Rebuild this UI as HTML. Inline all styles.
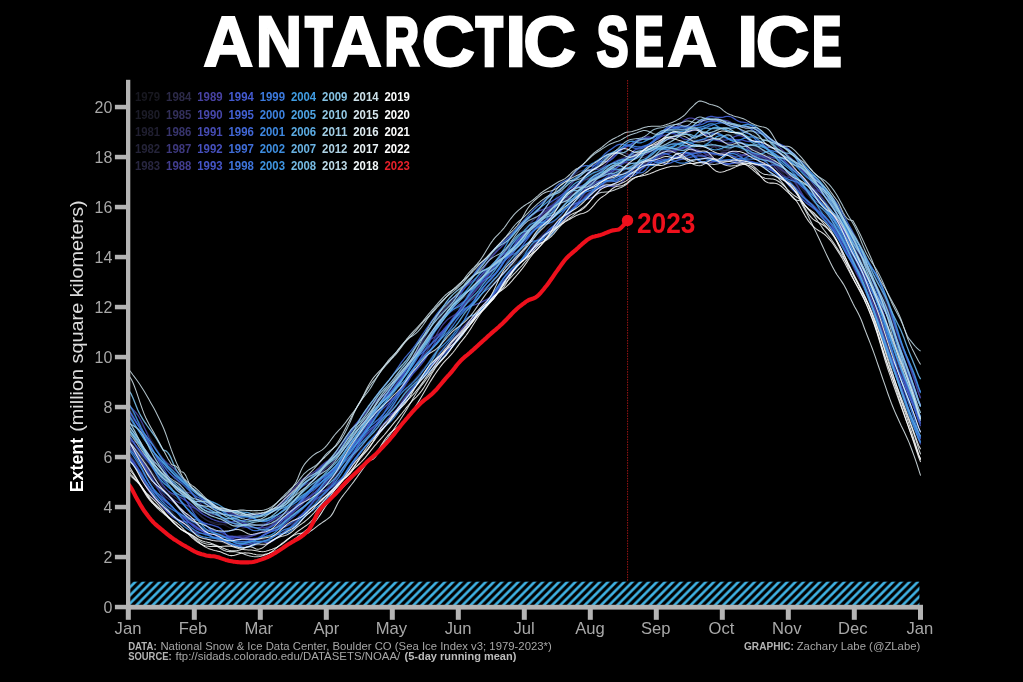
<!DOCTYPE html>
<html lang="en"><head><meta charset="utf-8"><title>Antarctic Sea Ice</title>
<style>
html,body{margin:0;padding:0;background:#000;}
body{width:1023px;height:682px;overflow:hidden;}
svg{display:block;}
text{font-family:"Liberation Sans",sans-serif;}
</style></head><body>
<svg width="1023" height="682" viewBox="0 0 1023 682">
<defs><pattern id="hatch" patternUnits="userSpaceOnUse" width="8.15" height="8.15"><rect width="8.15" height="8.15" fill="#000"/><path d="M-2,2 L2,-2 M0,8.15 L8.15,0 M6.15,10.15 L10.15,6.15" stroke="#40b2e3" stroke-width="2.6" fill="none"/></pattern><clipPath id="plot"><rect x="128" y="70" width="793" height="540"/></clipPath></defs>
<rect width="1023" height="682" fill="#000"/>
<text aria-label="ANTARCTIC SEA ICE" font-size="70" font-weight="bold" fill="#fff" stroke="#fff" stroke-linejoin="miter" xml:space="preserve"><tspan x="203.3" y="66.1" font-size="70.5" stroke-width="2.0" textLength="50.1" lengthAdjust="spacingAndGlyphs">A</tspan><tspan x="255.8" y="65.9" font-size="69.9" stroke-width="2.4" textLength="46.4" lengthAdjust="spacingAndGlyphs">N</tspan><tspan x="305.6" y="64.9" font-size="68.2" stroke-width="4.4" textLength="26.5" lengthAdjust="spacingAndGlyphs">T</tspan><tspan x="331.2" y="66.1" font-size="70.5" stroke-width="2.0" textLength="50.6" lengthAdjust="spacingAndGlyphs">A</tspan><tspan x="384.8" y="65.3" font-size="69.3" stroke-width="3.6" textLength="34.3" lengthAdjust="spacingAndGlyphs">R</tspan><tspan x="421.5" y="66.2" font-size="70.8" stroke-width="1.8" textLength="53.6" lengthAdjust="spacingAndGlyphs">C</tspan><tspan x="475.9" y="64.9" font-size="68.2" stroke-width="4.4" textLength="26.5" lengthAdjust="spacingAndGlyphs">T</tspan><tspan x="505.5" y="65.8" font-size="69.6" stroke-width="2.6" textLength="20.4" lengthAdjust="spacingAndGlyphs">I</tspan><tspan x="522.9" y="66.2" font-size="70.8" stroke-width="1.8" textLength="53.2" lengthAdjust="spacingAndGlyphs">C</tspan><tspan x="580.0" y="66"> </tspan><tspan x="596.6" y="65.6" font-size="71.2" stroke-width="3.0" textLength="32.2" lengthAdjust="spacingAndGlyphs">S</tspan><tspan x="634.0" y="65.6" font-size="70.8" stroke-width="3.0" textLength="29.8" lengthAdjust="spacingAndGlyphs">E</tspan><tspan x="667.3" y="66.1" font-size="70.5" stroke-width="2.0" textLength="49.6" lengthAdjust="spacingAndGlyphs">A</tspan><tspan x="722.0" y="66"> </tspan><tspan x="737.5" y="65.8" font-size="69.6" stroke-width="2.6" textLength="20.4" lengthAdjust="spacingAndGlyphs">I</tspan><tspan x="755.5" y="66.2" font-size="70.8" stroke-width="1.8" textLength="54.1" lengthAdjust="spacingAndGlyphs">C</tspan><tspan x="812.0" y="65.6" font-size="70.8" stroke-width="3.0" textLength="29.5" lengthAdjust="spacingAndGlyphs">E</tspan></text>
<rect x="130" y="581.7" width="789.4" height="23.3" fill="url(#hatch)"/>
<line x1="627.6" y1="80" x2="627.6" y2="581.5" stroke="#b81a1a" stroke-width="1" stroke-dasharray="1.5,1.1" opacity="0.85"/>
<g clip-path="url(#plot)">
<g stroke-opacity="0.92">
<polyline points="128.2,409.3 129.8,410.8 131.4,412.3 133.0,414.1 134.6,416.0 136.2,418.0 137.8,420.1 139.4,422.2 141.0,424.2 142.6,426.3 144.2,428.3 145.8,430.4 147.4,432.6 149.0,435.0 150.6,437.7 152.2,440.5 153.8,443.4 155.4,446.4 157.0,449.3 158.6,452.1 160.2,454.7 161.8,457.0 163.4,459.1 165.0,461.0 166.6,462.8 168.2,464.6 169.8,466.3 171.4,468.0 173.0,469.7 174.6,471.5 176.2,473.3 177.8,475.1 179.4,476.9 181.0,478.7 182.6,480.4 184.2,482.2 185.8,483.9 187.4,485.6 189.0,487.3 190.6,488.9 192.2,490.5 193.8,492.1 195.4,493.6 197.0,495.0 198.6,496.2 200.2,497.3 201.8,498.3 203.4,499.1 205.0,499.8 206.6,500.4 208.2,501.0 209.8,501.7 211.4,502.4 213.0,503.1 214.6,504.0 216.2,505.1 217.8,506.3 219.4,507.6 221.0,508.9 222.6,510.2 224.2,511.3 225.8,512.1 227.4,512.7 229.0,513.1 230.6,513.3 232.2,513.4 233.8,513.4 235.4,513.4 237.0,513.3 238.6,513.2 240.2,513.0 241.8,513.0 243.4,512.9 245.0,513.0 246.6,513.1 248.2,513.3 249.8,513.6 251.4,514.0 253.0,514.3 254.6,514.5 256.2,514.7 257.8,514.7 259.4,514.6 261.0,514.3 262.6,513.8 264.2,513.2 265.8,512.5 267.4,511.7 269.0,510.9 270.6,510.1 272.2,509.4 273.8,508.6 275.4,507.8 277.0,506.9 278.6,505.8 280.2,504.5 281.8,503.1 283.4,501.5 285.0,499.9 286.6,498.3 288.2,496.7 289.8,495.1 291.4,493.3 293.0,491.5 294.6,489.5 296.2,487.6 297.8,485.6 299.4,483.7 301.0,482.0 302.6,480.5 304.2,479.1 305.8,477.9 307.4,476.8 309.0,475.5 310.6,474.3 312.2,473.0 313.8,471.8 315.4,470.7 317.0,469.7 318.6,468.9 320.2,468.1 321.8,467.3 323.4,466.4 325.0,465.4 326.6,464.3 328.2,462.9 329.8,461.4 331.4,459.7 333.0,457.8 334.6,455.8 336.2,453.7 337.8,451.5 339.4,449.2 341.0,446.8 342.6,444.4 344.2,441.9 345.8,439.4 347.4,436.9 349.0,434.4 350.6,432.0 352.2,429.6 353.8,427.2 355.4,424.9 357.0,422.7 358.6,420.5 360.2,418.4 361.8,416.3 363.4,414.2 365.0,412.1 366.6,409.9 368.2,407.7 369.8,405.6 371.4,403.5 373.0,401.4 374.6,399.4 376.2,397.5 377.8,395.5 379.4,393.6 381.0,391.6 382.6,389.5 384.2,387.4 385.8,385.3 387.4,383.0 389.0,380.7 390.6,378.5 392.2,376.3 393.8,374.2 395.4,372.3 397.0,370.5 398.6,368.9 400.2,367.4 401.8,366.0 403.4,364.5 405.0,363.0 406.6,361.4 408.2,359.8 409.8,358.1 411.4,356.3 413.0,354.4 414.6,352.3 416.2,350.2 417.8,348.1 419.4,345.9 421.0,343.8 422.6,341.8 424.2,339.9 425.8,338.0 427.4,336.1 429.0,334.2 430.6,332.3 432.2,330.4 433.8,328.6 435.4,326.9 437.0,325.1 438.6,323.4 440.2,321.7 441.8,319.9 443.4,318.2 445.0,316.5 446.6,315.0 448.2,313.7 449.8,312.6 451.4,311.7 453.0,311.0 454.6,310.3 456.2,309.7 457.8,308.9 459.4,307.9 461.0,306.6 462.6,305.0 464.2,303.0 465.8,300.7 467.4,298.2 469.0,295.5 470.6,292.7 472.2,289.8 473.8,287.1 475.4,284.5 477.0,282.1 478.6,280.0 480.2,278.2 481.8,276.6 483.4,275.2 485.0,273.7 486.6,272.1 488.2,270.3 489.8,268.4 491.4,266.2 493.0,264.0 494.6,261.8 496.2,259.8 497.8,257.9 499.4,256.3 501.0,254.9 502.6,253.5 504.2,252.2 505.8,250.9 507.4,249.3 509.0,247.6 510.6,245.7 512.2,243.5 513.8,241.3 515.4,239.0 517.0,236.8 518.6,234.6 520.2,232.6 521.8,230.8 523.4,229.0 525.0,227.4 526.6,225.8 528.2,224.3 529.8,222.7 531.4,221.2 533.0,219.7 534.6,218.4 536.2,217.2 537.8,216.3 539.4,215.6 541.0,215.0 542.6,214.5 544.2,213.9 545.8,213.2 547.4,212.4 549.0,211.5 550.6,210.4 552.2,209.2 553.8,207.9 555.4,206.5 557.0,205.1 558.6,203.8 560.2,202.4 561.8,201.0 563.4,199.7 565.0,198.4 566.6,197.1 568.2,195.8 569.8,194.5 571.4,193.2 573.0,191.9 574.6,190.7 576.2,189.6 577.8,188.6 579.4,187.6 581.0,186.7 582.6,185.7 584.2,184.4 585.8,182.8 587.4,180.9 589.0,178.6 590.6,176.3 592.2,174.0 593.8,172.0 595.4,170.3 597.0,169.1 598.6,168.4 600.2,168.0 601.8,168.0 603.4,168.2 605.0,168.4 606.6,168.4 608.2,168.2 609.8,167.5 611.4,166.5 613.0,165.2 614.6,163.6 616.2,161.9 617.8,160.3 619.4,158.8 621.0,157.6 622.6,156.6 624.2,155.9 625.8,155.4 627.4,155.1 629.0,154.8 630.6,154.5 632.2,154.1 633.8,153.6 635.4,152.9 637.0,152.0 638.6,151.0 640.2,150.0 641.8,149.0 643.4,148.1 645.0,147.4 646.6,146.8 648.2,146.3 649.8,145.9 651.4,145.5 653.0,145.2 654.6,145.0 656.2,145.0 657.8,145.1 659.4,145.3 661.0,145.4 662.6,145.3 664.2,144.9 665.8,144.1 667.4,143.1 669.0,141.7 670.6,140.3 672.2,138.9 673.8,137.7 675.4,136.7 677.0,135.9 678.6,135.1 680.2,134.4 681.8,133.7 683.4,132.8 685.0,132.0 686.6,131.3 688.2,130.7 689.8,130.3 691.4,130.1 693.0,130.1 694.6,130.2 696.2,130.3 697.8,130.5 699.4,130.7 701.0,130.9 702.6,131.2 704.2,131.6 705.8,131.9 707.4,132.2 709.0,132.6 710.6,133.0 712.2,133.6 713.8,134.4 715.4,135.4 717.0,136.5 718.6,137.4 720.2,138.1 721.8,138.5 723.4,138.4 725.0,138.0 726.6,137.3 728.2,136.7 729.8,136.0 731.4,135.5 733.0,135.1 734.6,134.7 736.2,134.2 737.8,133.5 739.4,132.7 741.0,131.9 742.6,131.1 744.2,130.5 745.8,130.2 747.4,130.2 749.0,130.7 750.6,131.6 752.2,132.8 753.8,134.4 755.4,136.1 757.0,137.9 758.6,139.6 760.2,141.1 761.8,142.3 763.4,143.3 765.0,144.0 766.6,144.6 768.2,145.1 769.8,145.7 771.4,146.4 773.0,147.2 774.6,148.2 776.2,149.3 777.8,150.6 779.4,151.9 781.0,153.4 782.6,155.0 784.2,156.6 785.8,158.2 787.4,159.8 789.0,161.3 790.6,162.5 792.2,163.6 793.8,164.6 795.4,165.4 797.0,166.4 798.6,167.5 800.2,168.8 801.8,170.3 803.4,172.0 805.0,173.8 806.6,175.6 808.2,177.4 809.8,179.1 811.4,180.8 813.0,182.3 814.6,183.8 816.2,185.3 817.8,186.9 819.4,188.6 821.0,190.4 822.6,192.3 824.2,194.3 825.8,196.3 827.4,198.4 829.0,200.4 830.6,202.5 832.2,204.6 833.8,206.9 835.4,209.2 837.0,211.7 838.6,214.4 840.2,217.2 841.8,220.2 843.4,223.3 845.0,226.4 846.6,229.5 848.2,232.6 849.8,235.6 851.4,238.5 853.0,241.3 854.6,244.1 856.2,247.0 857.8,249.7 859.4,252.4 861.0,255.0 862.6,257.5 864.2,260.0 865.8,262.5 867.4,265.1 869.0,268.0 870.6,271.0 872.2,274.3 873.8,277.7 875.4,281.3 877.0,285.1 878.6,288.9 880.2,292.9 881.8,296.9 883.4,300.9 885.0,305.1 886.6,309.2 888.2,313.5 889.8,317.7 891.4,322.0 893.0,326.3 894.6,330.4 896.2,334.4 897.8,338.3 899.4,342.0 901.0,345.7 902.6,349.4 904.2,353.0 905.8,356.7 907.4,360.4 909.0,364.2 910.6,368.0 912.2,371.9 913.8,375.9 915.4,380.0 917.0,384.3 918.6,388.8 920.6,393.6" fill="none" stroke="#181820" stroke-width="1.3" stroke-linejoin="round" />
<polyline points="128.2,434.6 129.8,437.2 131.4,439.6 133.0,442.1 134.6,444.6 136.2,447.1 137.8,449.5 139.4,452.0 141.0,454.3 142.6,456.6 144.2,458.6 145.8,460.6 147.4,462.6 149.0,464.4 150.6,466.3 152.2,468.2 153.8,470.0 155.4,471.7 157.0,473.3 158.6,474.6 160.2,475.9 161.8,477.0 163.4,478.0 165.0,479.0 166.6,480.1 168.2,481.3 169.8,482.6 171.4,484.0 173.0,485.6 174.6,487.3 176.2,489.3 177.8,491.3 179.4,493.5 181.0,495.7 182.6,497.8 184.2,499.7 185.8,501.4 187.4,502.9 189.0,504.2 190.6,505.6 192.2,507.0 193.8,508.5 195.4,510.1 197.0,511.9 198.6,513.6 200.2,515.2 201.8,516.7 203.4,518.0 205.0,519.1 206.6,520.0 208.2,520.8 209.8,521.3 211.4,521.7 213.0,522.1 214.6,522.3 216.2,522.6 217.8,522.9 219.4,523.3 221.0,523.8 222.6,524.3 224.2,525.0 225.8,525.7 227.4,526.5 229.0,527.4 230.6,528.2 232.2,529.0 233.8,529.6 235.4,530.0 237.0,530.2 238.6,530.0 240.2,529.6 241.8,529.0 243.4,528.2 245.0,527.4 246.6,526.7 248.2,526.1 249.8,525.7 251.4,525.3 253.0,525.1 254.6,525.0 256.2,525.0 257.8,525.0 259.4,525.1 261.0,525.2 262.6,525.4 264.2,525.6 265.8,525.7 267.4,525.8 269.0,525.6 270.6,525.3 272.2,524.6 273.8,523.8 275.4,522.7 277.0,521.5 278.6,520.1 280.2,518.5 281.8,516.7 283.4,514.8 285.0,512.7 286.6,510.7 288.2,508.7 289.8,507.0 291.4,505.4 293.0,504.0 294.6,502.8 296.2,501.6 297.8,500.5 299.4,499.3 301.0,498.0 302.6,496.8 304.2,495.4 305.8,494.1 307.4,492.7 309.0,491.3 310.6,489.8 312.2,488.4 313.8,487.0 315.4,485.6 317.0,484.2 318.6,482.6 320.2,480.9 321.8,479.0 323.4,476.9 325.0,474.7 326.6,472.4 328.2,470.0 329.8,467.7 331.4,465.4 333.0,463.1 334.6,460.9 336.2,458.7 337.8,456.4 339.4,454.0 341.0,451.6 342.6,449.1 344.2,446.7 345.8,444.3 347.4,442.0 349.0,439.7 350.6,437.6 352.2,435.6 353.8,433.8 355.4,432.1 357.0,430.5 358.6,429.0 360.2,427.6 361.8,426.3 363.4,425.1 365.0,424.0 366.6,423.0 368.2,422.1 369.8,421.3 371.4,420.5 373.0,419.6 374.6,418.6 376.2,417.5 377.8,416.2 379.4,414.8 381.0,413.3 382.6,411.7 384.2,410.1 385.8,408.4 387.4,406.5 389.0,404.7 390.6,402.8 392.2,400.9 393.8,399.1 395.4,397.3 397.0,395.5 398.6,393.7 400.2,392.0 401.8,390.2 403.4,388.5 405.0,387.0 406.6,385.6 408.2,384.3 409.8,383.2 411.4,382.2 413.0,381.2 414.6,380.1 416.2,378.9 417.8,377.4 419.4,375.7 421.0,373.8 422.6,371.6 424.2,369.3 425.8,366.9 427.4,364.4 429.0,362.1 430.6,359.9 432.2,358.0 433.8,356.3 435.4,354.7 437.0,353.2 438.6,351.6 440.2,350.0 441.8,348.1 443.4,345.9 445.0,343.5 446.6,341.0 448.2,338.3 449.8,335.5 451.4,332.9 453.0,330.3 454.6,327.9 456.2,325.6 457.8,323.5 459.4,321.4 461.0,319.2 462.6,317.1 464.2,315.0 465.8,312.9 467.4,310.9 469.0,308.9 470.6,307.0 472.2,305.1 473.8,303.1 475.4,301.2 477.0,299.2 478.6,297.3 480.2,295.5 481.8,293.8 483.4,292.2 485.0,290.7 486.6,289.3 488.2,287.8 489.8,286.2 491.4,284.6 493.0,282.8 494.6,280.9 496.2,279.1 497.8,277.3 499.4,275.7 501.0,274.2 502.6,272.8 504.2,271.4 505.8,270.1 507.4,268.7 509.0,267.4 510.6,266.1 512.2,264.9 513.8,263.8 515.4,262.9 517.0,262.0 518.6,261.1 520.2,260.3 521.8,259.4 523.4,258.4 525.0,257.3 526.6,256.0 528.2,254.5 529.8,253.0 531.4,251.3 533.0,249.7 534.6,248.1 536.2,246.5 537.8,245.0 539.4,243.5 541.0,242.1 542.6,240.6 544.2,239.1 545.8,237.5 547.4,235.8 549.0,234.1 550.6,232.3 552.2,230.4 553.8,228.3 555.4,226.1 557.0,223.6 558.6,221.1 560.2,218.7 561.8,216.6 563.4,214.7 565.0,213.1 566.6,211.7 568.2,210.4 569.8,209.0 571.4,207.5 573.0,205.7 574.6,203.6 576.2,201.4 577.8,198.9 579.4,196.4 581.0,193.9 582.6,191.3 584.2,188.9 585.8,186.5 587.4,184.2 589.0,182.0 590.6,180.0 592.2,178.1 593.8,176.4 595.4,174.7 597.0,173.2 598.6,171.8 600.2,170.5 601.8,169.5 603.4,168.8 605.0,168.3 606.6,168.1 608.2,168.1 609.8,168.2 611.4,168.2 613.0,168.2 614.6,167.9 616.2,167.5 617.8,167.0 619.4,166.3 621.0,165.6 622.6,164.7 624.2,163.9 625.8,163.1 627.4,162.2 629.0,161.2 630.6,160.2 632.2,159.0 633.8,157.8 635.4,156.5 637.0,155.3 638.6,154.1 640.2,153.0 641.8,152.0 643.4,151.1 645.0,150.4 646.6,149.8 648.2,149.3 649.8,149.0 651.4,148.7 653.0,148.3 654.6,147.9 656.2,147.4 657.8,146.9 659.4,146.5 661.0,146.2 662.6,146.2 664.2,146.4 665.8,146.7 667.4,147.1 669.0,147.5 670.6,147.7 672.2,147.8 673.8,147.7 675.4,147.4 677.0,147.0 678.6,146.5 680.2,146.0 681.8,145.4 683.4,144.8 685.0,144.3 686.6,143.9 688.2,143.6 689.8,143.4 691.4,143.1 693.0,142.9 694.6,142.5 696.2,142.0 697.8,141.5 699.4,141.0 701.0,140.4 702.6,140.0 704.2,139.6 705.8,139.2 707.4,138.8 709.0,138.5 710.6,138.3 712.2,138.2 713.8,138.3 715.4,138.5 717.0,138.7 718.6,138.7 720.2,138.6 721.8,138.2 723.4,137.5 725.0,136.8 726.6,136.0 728.2,135.4 729.8,134.9 731.4,134.5 733.0,134.4 734.6,134.4 736.2,134.5 737.8,134.7 739.4,134.9 741.0,135.2 742.6,135.6 744.2,135.9 745.8,136.2 747.4,136.5 749.0,136.9 750.6,137.3 752.2,137.8 753.8,138.5 755.4,139.2 757.0,140.1 758.6,141.1 760.2,142.2 761.8,143.4 763.4,144.7 765.0,146.1 766.6,147.4 768.2,148.6 769.8,149.6 771.4,150.5 773.0,151.2 774.6,151.8 776.2,152.5 777.8,153.2 779.4,154.2 781.0,155.3 782.6,156.6 784.2,158.1 785.8,159.7 787.4,161.5 789.0,163.3 790.6,165.0 792.2,166.7 793.8,168.3 795.4,169.7 797.0,171.1 798.6,172.3 800.2,173.5 801.8,174.8 803.4,176.1 805.0,177.6 806.6,179.1 808.2,180.7 809.8,182.4 811.4,184.1 813.0,185.9 814.6,187.6 816.2,189.5 817.8,191.3 819.4,193.3 821.0,195.2 822.6,197.1 824.2,199.1 825.8,201.0 827.4,202.8 829.0,204.5 830.6,206.2 832.2,207.8 833.8,209.6 835.4,211.5 837.0,213.7 838.6,216.1 840.2,218.8 841.8,221.7 843.4,224.6 845.0,227.6 846.6,230.6 848.2,233.5 849.8,236.4 851.4,239.2 853.0,241.9 854.6,244.6 856.2,247.1 857.8,249.7 859.4,252.3 861.0,255.0 862.6,257.9 864.2,261.0 865.8,264.4 867.4,267.9 869.0,271.5 870.6,275.1 872.2,278.7 873.8,282.1 875.4,285.5 877.0,288.7 878.6,291.8 880.2,295.0 881.8,298.4 883.4,302.1 885.0,306.2 886.6,310.8 888.2,315.7 889.8,321.1 891.4,326.7 893.0,332.6 894.6,338.6 896.2,344.6 897.8,350.7 899.4,356.7 901.0,362.7 902.6,368.5 904.2,374.1 905.8,379.7 907.4,385.1 909.0,390.5 910.6,395.8 912.2,401.1 913.8,406.4 915.4,411.7 917.0,417.0 918.6,422.3 920.6,427.7" fill="none" stroke="#1c1c28" stroke-width="1.3" stroke-linejoin="round" />
<polyline points="128.2,403.1 129.8,406.3 131.4,409.6 133.0,412.9 134.6,416.0 136.2,418.9 137.8,421.8 139.4,424.7 141.0,427.7 142.6,430.8 144.2,434.1 145.8,437.5 147.4,441.0 149.0,444.4 150.6,447.7 152.2,450.8 153.8,453.8 155.4,456.5 157.0,459.1 158.6,461.4 160.2,463.4 161.8,465.2 163.4,466.8 165.0,468.3 166.6,469.7 168.2,471.2 169.8,472.8 171.4,474.7 173.0,476.8 174.6,479.0 176.2,481.3 177.8,483.6 179.4,485.8 181.0,487.9 182.6,489.8 184.2,491.4 185.8,493.0 187.4,494.5 189.0,496.0 190.6,497.6 192.2,499.2 193.8,500.8 195.4,502.3 197.0,503.5 198.6,504.6 200.2,505.4 201.8,506.0 203.4,506.3 205.0,506.5 206.6,506.6 208.2,506.7 209.8,506.7 211.4,506.8 213.0,507.0 214.6,507.3 216.2,507.7 217.8,508.1 219.4,508.4 221.0,508.7 222.6,508.9 224.2,509.0 225.8,509.1 227.4,509.3 229.0,509.7 230.6,510.2 232.2,510.9 233.8,511.9 235.4,512.8 237.0,513.7 238.6,514.4 240.2,515.0 241.8,515.5 243.4,515.9 245.0,516.5 246.6,517.2 248.2,517.9 249.8,518.6 251.4,519.3 253.0,519.7 254.6,519.7 256.2,519.5 257.8,518.9 259.4,518.0 261.0,516.9 262.6,515.8 264.2,514.6 265.8,513.4 267.4,512.3 269.0,511.3 270.6,510.4 272.2,509.4 273.8,508.4 275.4,507.3 277.0,506.2 278.6,505.0 280.2,503.8 281.8,502.6 283.4,501.3 285.0,500.0 286.6,498.7 288.2,497.2 289.8,495.7 291.4,494.1 293.0,492.6 294.6,491.2 296.2,489.7 297.8,488.2 299.4,486.7 301.0,485.2 302.6,483.6 304.2,482.2 305.8,480.8 307.4,479.5 309.0,478.2 310.6,476.9 312.2,475.8 313.8,474.7 315.4,473.6 317.0,472.6 318.6,471.5 320.2,470.4 321.8,469.1 323.4,467.7 325.0,466.1 326.6,464.4 328.2,462.8 329.8,461.2 331.4,459.7 333.0,458.1 334.6,456.4 336.2,454.5 337.8,452.5 339.4,450.3 341.0,448.0 342.6,445.6 344.2,443.3 345.8,441.1 347.4,438.9 349.0,436.7 350.6,434.6 352.2,432.6 353.8,430.7 355.4,428.9 357.0,427.2 358.6,425.7 360.2,424.2 361.8,422.8 363.4,421.5 365.0,420.1 366.6,418.8 368.2,417.3 369.8,415.6 371.4,413.8 373.0,411.8 374.6,409.7 376.2,407.5 377.8,405.3 379.4,403.1 381.0,400.9 382.6,398.7 384.2,396.3 385.8,393.8 387.4,391.0 389.0,388.2 390.6,385.2 392.2,382.3 393.8,379.6 395.4,377.1 397.0,374.9 398.6,373.0 400.2,371.3 401.8,369.8 403.4,368.2 405.0,366.6 406.6,364.9 408.2,363.0 409.8,361.0 411.4,358.9 413.0,356.9 414.6,354.9 416.2,353.0 417.8,351.1 419.4,349.2 421.0,347.2 422.6,345.1 424.2,342.8 425.8,340.5 427.4,338.1 429.0,335.7 430.6,333.3 432.2,330.9 433.8,328.5 435.4,326.0 437.0,323.4 438.6,320.7 440.2,318.0 441.8,315.2 443.4,312.6 445.0,310.1 446.6,308.0 448.2,306.2 449.8,304.7 451.4,303.5 453.0,302.5 454.6,301.8 456.2,301.2 457.8,300.6 459.4,300.0 461.0,299.3 462.6,298.5 464.2,297.5 465.8,296.4 467.4,295.1 469.0,293.8 470.6,292.4 472.2,291.1 473.8,289.8 475.4,288.6 477.0,287.5 478.6,286.5 480.2,285.6 481.8,284.7 483.4,283.7 485.0,282.7 486.6,281.4 488.2,279.9 489.8,278.0 491.4,275.8 493.0,273.4 494.6,271.0 496.2,268.6 497.8,266.5 499.4,264.7 501.0,263.2 502.6,261.9 504.2,260.8 505.8,259.6 507.4,258.2 509.0,256.4 510.6,254.3 512.2,251.8 513.8,249.1 515.4,246.4 517.0,243.8 518.6,241.3 520.2,239.0 521.8,237.0 523.4,235.2 525.0,233.5 526.6,232.0 528.2,230.5 529.8,229.2 531.4,227.9 533.0,226.6 534.6,225.2 536.2,223.8 537.8,222.1 539.4,220.3 541.0,218.3 542.6,216.1 544.2,213.9 545.8,211.7 547.4,209.5 549.0,207.3 550.6,205.1 552.2,202.8 553.8,200.5 555.4,198.3 557.0,196.2 558.6,194.4 560.2,193.0 561.8,191.9 563.4,191.2 565.0,190.7 566.6,190.2 568.2,189.8 569.8,189.2 571.4,188.4 573.0,187.4 574.6,186.4 576.2,185.4 577.8,184.5 579.4,183.7 581.0,183.0 582.6,182.2 584.2,181.3 585.8,180.2 587.4,179.0 589.0,177.6 590.6,176.2 592.2,174.8 593.8,173.7 595.4,172.8 597.0,172.2 598.6,172.0 600.2,171.9 601.8,171.8 603.4,171.7 605.0,171.3 606.6,170.6 608.2,169.7 609.8,168.5 611.4,167.1 613.0,165.8 614.6,164.4 616.2,163.2 617.8,162.1 619.4,161.2 621.0,160.5 622.6,159.8 624.2,159.2 625.8,158.5 627.4,157.8 629.0,157.0 630.6,156.2 632.2,155.4 633.8,154.7 635.4,154.2 637.0,153.9 638.6,153.8 640.2,153.6 641.8,153.5 643.4,153.3 645.0,152.8 646.6,152.1 648.2,151.0 649.8,149.6 651.4,148.0 653.0,146.4 654.6,145.0 656.2,143.8 657.8,143.0 659.4,142.7 661.0,142.9 662.6,143.3 664.2,144.0 665.8,144.6 667.4,145.0 669.0,145.0 670.6,144.8 672.2,144.3 673.8,143.6 675.4,142.8 677.0,142.0 678.6,141.4 680.2,141.1 681.8,140.9 683.4,140.8 685.0,140.8 686.6,140.7 688.2,140.5 689.8,140.3 691.4,140.1 693.0,140.0 694.6,140.0 696.2,140.0 697.8,140.2 699.4,140.5 701.0,141.1 702.6,141.8 704.2,142.7 705.8,143.7 707.4,144.7 709.0,145.6 710.6,146.2 712.2,146.5 713.8,146.5 715.4,146.3 717.0,146.0 718.6,145.8 720.2,145.9 721.8,146.4 723.4,147.2 725.0,148.2 726.6,149.4 728.2,150.4 729.8,151.3 731.4,151.9 733.0,152.3 734.6,152.4 736.2,152.3 737.8,152.0 739.4,151.6 741.0,151.0 742.6,150.3 744.2,149.6 745.8,148.9 747.4,148.2 749.0,147.7 750.6,147.3 752.2,147.2 753.8,147.2 755.4,147.4 757.0,147.7 758.6,148.2 760.2,148.7 761.8,149.2 763.4,149.8 765.0,150.4 766.6,151.2 768.2,152.0 769.8,153.1 771.4,154.2 773.0,155.4 774.6,156.4 776.2,157.4 777.8,158.2 779.4,159.0 781.0,159.8 782.6,160.6 784.2,161.5 785.8,162.5 787.4,163.4 789.0,164.3 790.6,165.1 792.2,165.8 793.8,166.4 795.4,166.9 797.0,167.4 798.6,167.9 800.2,168.6 801.8,169.5 803.4,170.5 805.0,171.8 806.6,173.2 808.2,174.7 809.8,176.3 811.4,178.0 813.0,179.8 814.6,181.6 816.2,183.5 817.8,185.5 819.4,187.6 821.0,189.6 822.6,191.6 824.2,193.6 825.8,195.4 827.4,197.3 829.0,199.1 830.6,200.9 832.2,202.7 833.8,204.5 835.4,206.5 837.0,208.5 838.6,210.7 840.2,213.0 841.8,215.3 843.4,217.7 845.0,220.1 846.6,222.5 848.2,224.8 849.8,227.1 851.4,229.4 853.0,231.8 854.6,234.2 856.2,236.9 857.8,239.7 859.4,242.7 861.0,245.8 862.6,249.1 864.2,252.4 865.8,255.7 867.4,259.0 869.0,262.3 870.6,265.5 872.2,268.8 873.8,272.1 875.4,275.6 877.0,279.2 878.6,283.0 880.2,287.1 881.8,291.4 883.4,295.9 885.0,300.4 886.6,304.9 888.2,309.4 889.8,313.7 891.4,317.9 893.0,322.2 894.6,326.4 896.2,330.7 897.8,335.2 899.4,339.8 901.0,344.3 902.6,348.7 904.2,352.9 905.8,357.0 907.4,360.8 909.0,364.5 910.6,368.2 912.2,372.1 913.8,376.0 915.4,380.2 917.0,384.5 918.6,389.0 920.6,393.5" fill="none" stroke="#201f30" stroke-width="1.3" stroke-linejoin="round" />
<polyline points="128.2,452.9 129.8,455.6 131.4,458.3 133.0,460.9 134.6,463.4 136.2,465.7 137.8,467.8 139.4,469.8 141.0,471.7 142.6,473.5 144.2,475.3 145.8,477.2 147.4,479.3 149.0,481.6 150.6,484.1 152.2,486.7 153.8,489.4 155.4,492.1 157.0,494.6 158.6,496.9 160.2,498.9 161.8,500.8 163.4,502.6 165.0,504.3 166.6,505.9 168.2,507.5 169.8,509.2 171.4,511.0 173.0,512.8 174.6,514.8 176.2,516.9 177.8,519.0 179.4,520.8 181.0,522.3 182.6,523.5 184.2,524.5 185.8,525.3 187.4,526.0 189.0,526.7 190.6,527.6 192.2,528.6 193.8,529.8 195.4,531.2 197.0,532.8 198.6,534.3 200.2,535.8 201.8,537.0 203.4,538.1 205.0,538.8 206.6,539.2 208.2,539.5 209.8,539.6 211.4,539.7 213.0,539.8 214.6,540.1 216.2,540.5 217.8,541.0 219.4,541.5 221.0,542.1 222.6,542.7 224.2,543.2 225.8,543.7 227.4,544.0 229.0,544.2 230.6,544.3 232.2,544.3 233.8,544.3 235.4,544.2 237.0,544.0 238.6,543.9 240.2,543.7 241.8,543.7 243.4,543.7 245.0,543.8 246.6,543.9 248.2,544.2 249.8,544.4 251.4,544.6 253.0,544.8 254.6,544.9 256.2,545.0 257.8,545.1 259.4,545.2 261.0,545.3 262.6,545.2 264.2,545.0 265.8,544.5 267.4,544.0 269.0,543.2 270.6,542.3 272.2,541.3 273.8,540.1 275.4,538.8 277.0,537.5 278.6,536.1 280.2,534.7 281.8,533.3 283.4,532.1 285.0,530.9 286.6,530.0 288.2,529.1 289.8,528.2 291.4,527.2 293.0,526.1 294.6,524.8 296.2,523.3 297.8,521.5 299.4,519.7 301.0,517.8 302.6,516.0 304.2,514.3 305.8,512.7 307.4,511.3 309.0,510.0 310.6,508.7 312.2,507.4 313.8,506.0 315.4,504.5 317.0,503.0 318.6,501.3 320.2,499.6 321.8,497.8 323.4,495.9 325.0,494.0 326.6,492.1 328.2,490.2 329.8,488.4 331.4,486.7 333.0,485.1 334.6,483.6 336.2,482.1 337.8,480.8 339.4,479.5 341.0,478.1 342.6,476.7 344.2,475.2 345.8,473.7 347.4,471.9 349.0,470.0 350.6,467.7 352.2,465.2 353.8,462.5 355.4,459.5 357.0,456.4 358.6,453.3 360.2,450.3 361.8,447.5 363.4,444.8 365.0,442.4 366.6,440.1 368.2,438.0 369.8,436.0 371.4,434.1 373.0,432.3 374.6,430.7 376.2,429.2 377.8,427.8 379.4,426.6 381.0,425.5 382.6,424.5 384.2,423.4 385.8,422.3 387.4,421.0 389.0,419.6 390.6,418.0 392.2,416.1 393.8,414.0 395.4,411.6 397.0,409.2 398.6,406.6 400.2,404.2 401.8,401.8 403.4,399.5 405.0,397.3 406.6,395.1 408.2,392.8 409.8,390.5 411.4,388.1 413.0,385.7 414.6,383.3 416.2,380.9 417.8,378.5 419.4,376.1 421.0,373.7 422.6,371.3 424.2,368.8 425.8,366.4 427.4,364.0 429.0,361.6 430.6,359.2 432.2,356.7 433.8,354.3 435.4,351.8 437.0,349.4 438.6,347.0 440.2,344.7 441.8,342.4 443.4,340.0 445.0,337.4 446.6,334.7 448.2,331.8 449.8,328.7 451.4,325.4 453.0,322.2 454.6,319.0 456.2,316.0 457.8,313.2 459.4,310.7 461.0,308.5 462.6,306.6 464.2,305.0 465.8,303.7 467.4,302.5 469.0,301.4 470.6,300.3 472.2,299.0 473.8,297.5 475.4,295.9 477.0,294.2 478.6,292.4 480.2,290.6 481.8,288.9 483.4,287.2 485.0,285.5 486.6,283.9 488.2,282.3 489.8,280.9 491.4,279.7 493.0,278.7 494.6,278.0 496.2,277.4 497.8,276.9 499.4,276.4 501.0,275.7 502.6,274.8 504.2,273.5 505.8,271.9 507.4,270.0 509.0,267.9 510.6,265.7 512.2,263.6 513.8,261.6 515.4,259.9 517.0,258.3 518.6,257.0 520.2,255.8 521.8,254.7 523.4,253.4 525.0,252.1 526.6,250.6 528.2,249.0 529.8,247.2 531.4,245.4 533.0,243.6 534.6,241.8 536.2,240.2 537.8,238.6 539.4,237.0 541.0,235.4 542.6,233.6 544.2,231.9 545.8,230.1 547.4,228.3 549.0,226.6 550.6,225.0 552.2,223.5 553.8,222.0 555.4,220.5 557.0,219.0 558.6,217.7 560.2,216.5 561.8,215.6 563.4,214.9 565.0,214.4 566.6,213.8 568.2,213.2 569.8,212.2 571.4,211.0 573.0,209.4 574.6,207.5 576.2,205.3 577.8,203.1 579.4,200.7 581.0,198.5 582.6,196.3 584.2,194.4 585.8,192.6 587.4,191.1 589.0,189.8 590.6,188.8 592.2,188.0 593.8,187.3 595.4,186.8 597.0,186.4 598.6,185.9 600.2,185.3 601.8,184.5 603.4,183.6 605.0,182.6 606.6,181.5 608.2,180.5 609.8,179.5 611.4,178.7 613.0,177.8 614.6,177.1 616.2,176.2 617.8,175.4 619.4,174.5 621.0,173.6 622.6,172.8 624.2,172.1 625.8,171.7 627.4,171.3 629.0,171.1 630.6,170.9 632.2,170.7 633.8,170.4 635.4,169.9 637.0,169.4 638.6,169.0 640.2,168.6 641.8,168.2 643.4,167.9 645.0,167.6 646.6,167.1 648.2,166.5 649.8,165.8 651.4,165.0 653.0,164.1 654.6,163.3 656.2,162.5 657.8,161.7 659.4,161.0 661.0,160.2 662.6,159.5 664.2,158.9 665.8,158.5 667.4,158.2 669.0,158.2 670.6,158.3 672.2,158.5 673.8,158.6 675.4,158.6 677.0,158.5 678.6,158.3 680.2,158.0 681.8,157.6 683.4,157.2 685.0,156.9 686.6,156.5 688.2,156.1 689.8,155.8 691.4,155.5 693.0,155.3 694.6,155.3 696.2,155.4 697.8,155.7 699.4,156.2 701.0,156.7 702.6,157.2 704.2,157.6 705.8,157.7 707.4,157.6 709.0,157.3 710.6,156.8 712.2,156.2 713.8,155.6 715.4,155.1 717.0,154.5 718.6,154.0 720.2,153.6 721.8,153.0 723.4,152.6 725.0,152.4 726.6,152.5 728.2,152.8 729.8,153.1 731.4,153.3 733.0,153.3 734.6,153.1 736.2,152.5 737.8,151.8 739.4,151.1 741.0,150.5 742.6,150.3 744.2,150.4 745.8,150.9 747.4,151.8 749.0,152.8 750.6,153.8 752.2,154.8 753.8,155.5 755.4,156.2 757.0,156.7 758.6,157.3 760.2,157.9 761.8,158.7 763.4,159.7 765.0,160.9 766.6,162.2 768.2,163.5 769.8,164.8 771.4,166.0 773.0,167.1 774.6,167.9 776.2,168.6 777.8,169.3 779.4,169.9 781.0,170.7 782.6,171.5 784.2,172.4 785.8,173.3 787.4,174.3 789.0,175.4 790.6,176.5 792.2,177.8 793.8,179.3 795.4,181.0 797.0,182.8 798.6,184.7 800.2,186.7 801.8,188.5 803.4,190.3 805.0,192.0 806.6,193.8 808.2,195.6 809.8,197.5 811.4,199.4 813.0,201.3 814.6,203.1 816.2,204.9 817.8,206.6 819.4,208.3 821.0,209.9 822.6,211.5 824.2,213.1 825.8,214.7 827.4,216.2 829.0,217.8 830.6,219.5 832.2,221.3 833.8,223.3 835.4,225.5 837.0,227.9 838.6,230.4 840.2,232.9 841.8,235.4 843.4,237.9 845.0,240.4 846.6,242.9 848.2,245.5 849.8,248.2 851.4,251.0 853.0,253.8 854.6,256.7 856.2,259.6 857.8,262.6 859.4,265.6 861.0,268.7 862.6,271.9 864.2,275.3 865.8,278.9 867.4,282.8 869.0,286.8 870.6,290.9 872.2,295.1 873.8,299.4 875.4,303.6 877.0,307.9 878.6,312.3 880.2,316.6 881.8,321.0 883.4,325.4 885.0,329.6 886.6,333.8 888.2,338.0 889.8,342.2 891.4,346.4 893.0,350.8 894.6,355.3 896.2,359.9 897.8,364.6 899.4,369.3 901.0,373.9 902.6,378.4 904.2,382.7 905.8,386.8 907.4,390.7 909.0,394.5 910.6,398.2 912.2,401.8 913.8,405.5 915.4,409.3 917.0,413.3 918.6,417.4 920.6,421.6" fill="none" stroke="#242338" stroke-width="1.3" stroke-linejoin="round" />
<polyline points="128.2,453.1 129.8,455.0 131.4,457.0 133.0,459.0 134.6,461.0 136.2,462.8 137.8,464.5 139.4,466.2 141.0,467.9 142.6,469.6 144.2,471.5 145.8,473.7 147.4,476.0 149.0,478.4 150.6,480.8 152.2,483.0 153.8,485.0 155.4,486.7 157.0,488.1 158.6,489.1 160.2,490.0 161.8,490.7 163.4,491.2 165.0,491.7 166.6,492.3 168.2,492.9 169.8,493.7 171.4,494.6 173.0,495.7 174.6,497.0 176.2,498.2 177.8,499.5 179.4,500.7 181.0,501.8 182.6,502.9 184.2,503.9 185.8,505.0 187.4,506.1 189.0,507.2 190.6,508.3 192.2,509.4 193.8,510.5 195.4,511.8 197.0,513.0 198.6,514.3 200.2,515.6 201.8,516.9 203.4,518.1 205.0,519.1 206.6,520.1 208.2,521.0 209.8,521.8 211.4,522.6 213.0,523.2 214.6,523.8 216.2,524.2 217.8,524.5 219.4,524.6 221.0,524.6 222.6,524.4 224.2,524.1 225.8,523.8 227.4,523.5 229.0,523.2 230.6,523.1 232.2,523.1 233.8,523.3 235.4,523.5 237.0,523.9 238.6,524.3 240.2,524.8 241.8,525.3 243.4,525.7 245.0,525.9 246.6,526.1 248.2,526.1 249.8,526.1 251.4,525.9 253.0,525.6 254.6,525.4 256.2,525.0 257.8,524.7 259.4,524.5 261.0,524.2 262.6,524.1 264.2,524.1 265.8,524.1 267.4,524.2 269.0,524.2 270.6,524.2 272.2,524.1 273.8,523.8 275.4,523.3 277.0,522.7 278.6,522.0 280.2,521.1 281.8,520.1 283.4,519.1 285.0,518.2 286.6,517.3 288.2,516.4 289.8,515.4 291.4,514.4 293.0,513.1 294.6,511.6 296.2,509.9 297.8,508.0 299.4,505.9 301.0,503.9 302.6,502.2 304.2,500.8 305.8,499.8 307.4,499.3 309.0,499.1 310.6,499.1 312.2,499.1 313.8,499.0 315.4,498.6 317.0,497.9 318.6,497.0 320.2,495.8 321.8,494.5 323.4,493.0 325.0,491.4 326.6,489.8 328.2,488.0 329.8,486.1 331.4,484.1 333.0,481.9 334.6,479.7 336.2,477.4 337.8,475.0 339.4,472.6 341.0,470.2 342.6,468.0 344.2,465.9 345.8,464.0 347.4,462.1 349.0,460.1 350.6,458.0 352.2,455.8 353.8,453.4 355.4,451.0 357.0,448.5 358.6,446.3 360.2,444.1 361.8,442.2 363.4,440.3 365.0,438.6 366.6,436.9 368.2,435.1 369.8,433.4 371.4,431.6 373.0,429.8 374.6,428.0 376.2,426.2 377.8,424.5 379.4,422.7 381.0,420.9 382.6,419.2 384.2,417.4 385.8,415.7 387.4,414.0 389.0,412.3 390.6,410.7 392.2,409.1 393.8,407.5 395.4,406.0 397.0,404.4 398.6,402.9 400.2,401.3 401.8,399.5 403.4,397.7 405.0,395.8 406.6,393.7 408.2,391.6 409.8,389.3 411.4,387.1 413.0,384.9 414.6,382.7 416.2,380.8 417.8,379.0 419.4,377.4 421.0,375.9 422.6,374.5 424.2,373.2 425.8,371.8 427.4,370.4 429.0,369.1 430.6,367.7 432.2,366.4 433.8,365.0 435.4,363.5 437.0,361.9 438.6,360.2 440.2,358.4 441.8,356.5 443.4,354.5 445.0,352.5 446.6,350.4 448.2,348.4 449.8,346.4 451.4,344.4 453.0,342.4 454.6,340.5 456.2,338.6 457.8,336.8 459.4,335.0 461.0,333.2 462.6,331.5 464.2,329.9 465.8,328.2 467.4,326.5 469.0,324.7 470.6,322.9 472.2,321.1 473.8,319.3 475.4,317.5 477.0,315.8 478.6,314.2 480.2,312.7 481.8,311.1 483.4,309.6 485.0,307.8 486.6,305.9 488.2,303.8 489.8,301.6 491.4,299.3 493.0,296.8 494.6,294.3 496.2,292.0 497.8,289.6 499.4,287.4 501.0,285.2 502.6,283.0 504.2,280.7 505.8,278.4 507.4,276.1 509.0,273.5 510.6,270.9 512.2,268.0 513.8,265.1 515.4,262.2 517.0,259.4 518.6,256.8 520.2,254.5 521.8,252.3 523.4,250.4 525.0,248.5 526.6,246.8 528.2,244.9 529.8,243.0 531.4,241.0 533.0,239.0 534.6,237.0 536.2,234.9 537.8,232.9 539.4,230.9 541.0,228.9 542.6,227.0 544.2,225.0 545.8,223.1 547.4,221.1 549.0,219.1 550.6,217.0 552.2,214.9 553.8,212.6 555.4,210.4 557.0,208.3 558.6,206.3 560.2,204.5 561.8,203.0 563.4,201.6 565.0,200.3 566.6,199.1 568.2,197.8 569.8,196.5 571.4,195.1 573.0,193.7 574.6,192.4 576.2,191.1 577.8,190.1 579.4,189.3 581.0,188.8 582.6,188.5 584.2,188.4 585.8,188.4 587.4,188.4 589.0,188.2 590.6,187.8 592.2,187.2 593.8,186.3 595.4,185.2 597.0,184.1 598.6,182.9 600.2,181.9 601.8,181.0 603.4,180.2 605.0,179.7 606.6,179.2 608.2,178.9 609.8,178.6 611.4,178.4 613.0,178.1 614.6,177.8 616.2,177.4 617.8,177.0 619.4,176.4 621.0,175.7 622.6,174.9 624.2,174.1 625.8,173.2 627.4,172.3 629.0,171.4 630.6,170.6 632.2,169.7 633.8,169.0 635.4,168.2 637.0,167.5 638.6,166.7 640.2,166.0 641.8,165.3 643.4,164.6 645.0,163.9 646.6,163.3 648.2,162.6 649.8,162.0 651.4,161.3 653.0,160.6 654.6,160.0 656.2,159.3 657.8,158.5 659.4,157.7 661.0,156.9 662.6,156.0 664.2,155.2 665.8,154.5 667.4,153.9 669.0,153.4 670.6,153.0 672.2,152.5 673.8,152.1 675.4,151.5 677.0,150.9 678.6,150.2 680.2,149.5 681.8,148.8 683.4,148.2 685.0,147.8 686.6,147.7 688.2,147.8 689.8,148.2 691.4,148.7 693.0,149.1 694.6,149.4 696.2,149.4 697.8,149.1 699.4,148.5 701.0,147.7 702.6,147.0 704.2,146.3 705.8,145.7 707.4,145.5 709.0,145.4 710.6,145.5 712.2,145.7 713.8,145.9 715.4,146.0 717.0,146.1 718.6,146.1 720.2,145.9 721.8,145.8 723.4,145.7 725.0,145.6 726.6,145.6 728.2,145.7 729.8,145.8 731.4,145.8 733.0,145.6 734.6,145.3 736.2,144.8 737.8,144.3 739.4,143.7 741.0,143.2 742.6,143.0 744.2,143.2 745.8,143.7 747.4,144.6 749.0,145.7 750.6,146.8 752.2,147.8 753.8,148.5 755.4,149.0 757.0,149.2 758.6,149.3 760.2,149.4 761.8,149.6 763.4,150.1 765.0,151.0 766.6,152.3 768.2,154.1 769.8,156.2 771.4,158.6 773.0,161.1 774.6,163.6 776.2,165.9 777.8,168.0 779.4,170.0 781.0,171.8 782.6,173.4 784.2,175.1 785.8,176.8 787.4,178.4 789.0,180.0 790.6,181.7 792.2,183.3 793.8,185.1 795.4,186.9 797.0,188.7 798.6,190.6 800.2,192.6 801.8,194.4 803.4,196.2 805.0,197.9 806.6,199.5 808.2,201.0 809.8,202.4 811.4,203.7 813.0,205.0 814.6,206.3 816.2,207.6 817.8,209.0 819.4,210.6 821.0,212.3 822.6,214.3 824.2,216.4 825.8,218.6 827.4,220.8 829.0,223.1 830.6,225.3 832.2,227.5 833.8,229.8 835.4,232.1 837.0,234.5 838.6,237.1 840.2,239.8 841.8,242.6 843.4,245.6 845.0,248.7 846.6,251.8 848.2,255.1 849.8,258.4 851.4,261.8 853.0,265.3 854.6,268.8 856.2,272.2 857.8,275.6 859.4,279.0 861.0,282.4 862.6,285.9 864.2,289.4 865.8,293.1 867.4,297.0 869.0,301.0 870.6,305.1 872.2,309.2 873.8,313.5 875.4,317.7 877.0,322.0 878.6,326.4 880.2,330.8 881.8,335.4 883.4,339.9 885.0,344.5 886.6,349.0 888.2,353.3 889.8,357.6 891.4,361.8 893.0,365.9 894.6,370.2 896.2,374.6 897.8,379.1 899.4,383.8 901.0,388.6 902.6,393.4 904.2,398.0 905.8,402.6 907.4,406.9 909.0,411.2 910.6,415.4 912.2,419.5 913.8,423.6 915.4,427.7 917.0,432.0 918.6,436.3 920.6,440.8" fill="none" stroke="#282640" stroke-width="1.3" stroke-linejoin="round" />
<polyline points="128.2,440.0 129.8,441.9 131.4,443.7 133.0,445.6 134.6,447.4 136.2,449.2 137.8,451.1 139.4,453.2 141.0,455.4 142.6,457.8 144.2,460.3 145.8,462.9 147.4,465.4 149.0,467.8 150.6,470.1 152.2,472.3 153.8,474.3 155.4,476.4 157.0,478.4 158.6,480.6 160.2,482.9 161.8,485.4 163.4,487.9 165.0,490.4 166.6,492.8 168.2,495.0 169.8,497.1 171.4,498.9 173.0,500.6 174.6,502.1 176.2,503.6 177.8,505.1 179.4,506.6 181.0,508.3 182.6,510.2 184.2,512.2 185.8,514.4 187.4,516.6 189.0,518.8 190.6,520.8 192.2,522.7 193.8,524.3 195.4,525.6 197.0,526.8 198.6,527.9 200.2,528.9 201.8,529.9 203.4,530.9 205.0,531.8 206.6,532.6 208.2,533.3 209.8,533.8 211.4,534.1 213.0,534.2 214.6,534.1 216.2,534.0 217.8,534.0 219.4,534.0 221.0,534.2 222.6,534.5 224.2,534.8 225.8,535.1 227.4,535.4 229.0,535.7 230.6,535.9 232.2,536.0 233.8,536.1 235.4,536.3 237.0,536.6 238.6,536.9 240.2,537.4 241.8,537.8 243.4,538.3 245.0,538.6 246.6,538.8 248.2,538.9 249.8,539.0 251.4,539.0 253.0,539.0 254.6,539.1 256.2,539.1 257.8,539.2 259.4,539.3 261.0,539.3 262.6,539.4 264.2,539.4 265.8,539.3 267.4,539.1 269.0,538.6 270.6,537.9 272.2,536.9 273.8,535.7 275.4,534.4 277.0,532.9 278.6,531.5 280.2,530.1 281.8,528.9 283.4,527.8 285.0,526.9 286.6,526.2 288.2,525.6 289.8,524.9 291.4,524.2 293.0,523.2 294.6,522.0 296.2,520.4 297.8,518.7 299.4,516.9 301.0,515.1 302.6,513.3 304.2,511.6 305.8,510.1 307.4,508.6 309.0,507.1 310.6,505.7 312.2,504.3 313.8,502.9 315.4,501.4 317.0,499.9 318.6,498.3 320.2,496.6 321.8,494.8 323.4,492.8 325.0,490.8 326.6,488.6 328.2,486.3 329.8,484.0 331.4,481.6 333.0,479.1 334.6,476.7 336.2,474.2 337.8,471.8 339.4,469.3 341.0,466.8 342.6,464.3 344.2,461.9 345.8,459.6 347.4,457.3 349.0,455.0 350.6,452.5 352.2,450.0 353.8,447.3 355.4,444.5 357.0,441.7 358.6,438.9 360.2,436.1 361.8,433.5 363.4,431.0 365.0,428.7 366.6,426.7 368.2,425.0 369.8,423.6 371.4,422.6 373.0,421.9 374.6,421.3 376.2,420.8 377.8,420.2 379.4,419.5 381.0,418.7 382.6,417.7 384.2,416.6 385.8,415.4 387.4,414.2 389.0,412.9 390.6,411.5 392.2,410.1 393.8,408.4 395.4,406.6 397.0,404.5 398.6,402.2 400.2,399.7 401.8,397.2 403.4,394.6 405.0,392.0 406.6,389.7 408.2,387.4 409.8,385.4 411.4,383.4 413.0,381.5 414.6,379.6 416.2,377.7 417.8,375.7 419.4,373.6 421.0,371.5 422.6,369.5 424.2,367.6 425.8,365.9 427.4,364.3 429.0,362.7 430.6,361.1 432.2,359.4 433.8,357.8 435.4,356.2 437.0,354.6 438.6,353.3 440.2,352.0 441.8,350.8 443.4,349.6 445.0,348.3 446.6,346.8 448.2,345.2 449.8,343.3 451.4,341.3 453.0,339.2 454.6,337.1 456.2,334.9 457.8,332.9 459.4,330.9 461.0,329.2 462.6,327.6 464.2,326.3 465.8,325.1 467.4,324.2 469.0,323.3 470.6,322.3 472.2,321.2 473.8,319.8 475.4,318.1 477.0,316.2 478.6,314.1 480.2,311.9 481.8,309.7 483.4,307.7 485.0,305.7 486.6,303.6 488.2,301.5 489.8,299.2 491.4,296.8 493.0,294.3 494.6,291.9 496.2,289.5 497.8,287.4 499.4,285.4 501.0,283.7 502.6,282.1 504.2,280.7 505.8,279.2 507.4,277.6 509.0,275.8 510.6,274.0 512.2,272.1 513.8,270.1 515.4,268.1 517.0,266.2 518.6,264.3 520.2,262.4 521.8,260.6 523.4,258.7 525.0,256.6 526.6,254.5 528.2,252.3 529.8,250.0 531.4,247.7 533.0,245.4 534.6,243.2 536.2,241.2 537.8,239.3 539.4,237.7 541.0,236.3 542.6,235.2 544.2,234.2 545.8,233.3 547.4,232.6 549.0,231.7 550.6,230.8 552.2,229.6 553.8,228.2 555.4,226.6 557.0,224.9 558.6,223.1 560.2,221.1 561.8,219.2 563.4,217.2 565.0,215.1 566.6,213.2 568.2,211.3 569.8,209.5 571.4,207.8 573.0,206.3 574.6,204.9 576.2,203.6 577.8,202.2 579.4,200.8 581.0,199.4 582.6,197.9 584.2,196.4 585.8,195.0 587.4,193.8 589.0,192.8 590.6,191.9 592.2,191.2 593.8,190.4 595.4,189.6 597.0,188.7 598.6,187.8 600.2,186.8 601.8,185.8 603.4,184.8 605.0,183.9 606.6,183.2 608.2,182.6 609.8,182.1 611.4,181.8 613.0,181.6 614.6,181.2 616.2,180.7 617.8,179.9 619.4,178.8 621.0,177.5 622.6,176.0 624.2,174.7 625.8,173.4 627.4,172.3 629.0,171.3 630.6,170.5 632.2,169.6 633.8,168.7 635.4,167.8 637.0,166.7 638.6,165.7 640.2,164.6 641.8,163.4 643.4,162.3 645.0,161.3 646.6,160.2 648.2,159.2 649.8,158.2 651.4,157.3 653.0,156.4 654.6,155.4 656.2,154.4 657.8,153.5 659.4,152.4 661.0,151.4 662.6,150.3 664.2,149.2 665.8,148.1 667.4,146.9 669.0,145.8 670.6,144.7 672.2,143.9 673.8,143.2 675.4,142.9 677.0,142.8 678.6,143.0 680.2,143.4 681.8,143.8 683.4,143.9 685.0,143.8 686.6,143.2 688.2,142.2 689.8,140.9 691.4,139.4 693.0,138.0 694.6,136.9 696.2,136.3 697.8,136.1 699.4,136.4 701.0,137.1 702.6,138.1 704.2,139.1 705.8,140.1 707.4,141.1 709.0,142.1 710.6,143.2 712.2,144.5 713.8,145.8 715.4,147.2 717.0,148.6 718.6,149.8 720.2,150.6 721.8,151.1 723.4,151.2 725.0,150.9 726.6,150.4 728.2,149.6 729.8,148.6 731.4,147.4 733.0,146.3 734.6,145.2 736.2,144.2 737.8,143.5 739.4,143.2 741.0,143.4 742.6,143.9 744.2,144.7 745.8,145.8 747.4,146.8 749.0,147.7 750.6,148.3 752.2,148.6 753.8,148.8 755.4,149.0 757.0,149.4 758.6,150.0 760.2,151.0 761.8,152.1 763.4,153.3 765.0,154.3 766.6,155.1 768.2,155.8 769.8,156.4 771.4,157.2 773.0,158.4 774.6,159.9 776.2,161.7 777.8,163.8 779.4,165.9 781.0,167.8 782.6,169.5 784.2,170.9 785.8,172.0 787.4,172.9 789.0,173.7 790.6,174.5 792.2,175.5 793.8,176.6 795.4,177.9 797.0,179.3 798.6,180.8 800.2,182.4 801.8,184.0 803.4,185.6 805.0,187.1 806.6,188.5 808.2,189.9 809.8,191.3 811.4,192.7 813.0,194.1 814.6,195.6 816.2,197.0 817.8,198.5 819.4,200.0 821.0,201.6 822.6,203.1 824.2,204.9 825.8,206.7 827.4,208.6 829.0,210.7 830.6,212.8 832.2,215.0 833.8,217.1 835.4,219.2 837.0,221.2 838.6,223.3 840.2,225.4 841.8,227.6 843.4,230.0 845.0,232.6 846.6,235.3 848.2,238.2 849.8,241.1 851.4,244.0 853.0,246.8 854.6,249.5 856.2,252.1 857.8,254.7 859.4,257.2 861.0,259.7 862.6,262.4 864.2,265.3 865.8,268.3 867.4,271.6 869.0,275.2 870.6,279.0 872.2,283.1 873.8,287.4 875.4,291.8 877.0,296.4 878.6,301.2 880.2,306.0 881.8,311.0 883.4,316.1 885.0,321.3 886.6,326.4 888.2,331.5 889.8,336.5 891.4,341.4 893.0,346.1 894.6,350.7 896.2,355.3 897.8,359.8 899.4,364.2 901.0,368.5 902.6,372.7 904.2,376.8 905.8,380.7 907.4,384.7 909.0,388.7 910.6,392.7 912.2,396.8 913.8,401.0 915.4,405.1 917.0,409.2 918.6,413.2 920.6,417.2" fill="none" stroke="#2c2a48" stroke-width="1.3" stroke-linejoin="round" />
<polyline points="128.2,412.9 129.8,414.7 131.4,416.7 133.0,418.7 134.6,420.8 136.2,422.9 137.8,425.0 139.4,427.1 141.0,429.2 142.6,431.4 144.2,433.5 145.8,435.7 147.4,437.8 149.0,439.9 150.6,442.0 152.2,444.2 153.8,446.4 155.4,448.7 157.0,451.0 158.6,453.5 160.2,455.9 161.8,458.4 163.4,460.7 165.0,463.0 166.6,465.1 168.2,467.2 169.8,469.2 171.4,471.3 173.0,473.4 174.6,475.7 176.2,478.2 177.8,480.8 179.4,483.6 181.0,486.4 182.6,489.2 184.2,492.0 185.8,494.5 187.4,496.7 189.0,498.7 190.6,500.3 192.2,501.6 193.8,502.6 195.4,503.5 197.0,504.3 198.6,505.0 200.2,505.7 201.8,506.4 203.4,507.1 205.0,507.8 206.6,508.6 208.2,509.2 209.8,509.9 211.4,510.5 213.0,511.2 214.6,512.1 216.2,513.0 217.8,514.2 219.4,515.5 221.0,517.0 222.6,518.5 224.2,519.8 225.8,520.9 227.4,521.8 229.0,522.4 230.6,522.7 232.2,522.9 233.8,523.1 235.4,523.3 237.0,523.4 238.6,523.5 240.2,523.5 241.8,523.5 243.4,523.4 245.0,523.4 246.6,523.4 248.2,523.5 249.8,523.7 251.4,524.0 253.0,524.4 254.6,524.7 256.2,525.0 257.8,525.1 259.4,525.0 261.0,524.8 262.6,524.3 264.2,523.8 265.8,523.3 267.4,522.7 269.0,522.1 270.6,521.5 272.2,520.9 273.8,520.2 275.4,519.5 277.0,518.6 278.6,517.5 280.2,516.4 281.8,515.2 283.4,514.0 285.0,512.7 286.6,511.4 288.2,510.1 289.8,508.8 291.4,507.5 293.0,506.4 294.6,505.4 296.2,504.6 297.8,504.0 299.4,503.5 301.0,503.0 302.6,502.4 304.2,501.5 305.8,500.4 307.4,498.9 309.0,497.1 310.6,495.1 312.2,493.1 313.8,491.0 315.4,489.0 317.0,487.2 318.6,485.5 320.2,484.0 321.8,482.5 323.4,481.2 325.0,479.9 326.6,478.6 328.2,477.2 329.8,475.7 331.4,474.1 333.0,472.4 334.6,470.5 336.2,468.6 337.8,466.6 339.4,464.6 341.0,462.6 342.6,460.5 344.2,458.4 345.8,456.2 347.4,453.8 349.0,451.1 350.6,448.3 352.2,445.2 353.8,442.1 355.4,438.9 357.0,435.8 358.6,432.9 360.2,430.1 361.8,427.6 363.4,425.3 365.0,423.2 366.6,421.2 368.2,419.3 369.8,417.4 371.4,415.5 373.0,413.5 374.6,411.5 376.2,409.4 377.8,407.3 379.4,405.1 381.0,403.0 382.6,401.0 384.2,399.1 385.8,397.3 387.4,395.6 389.0,393.8 390.6,391.8 392.2,389.7 393.8,387.3 395.4,384.7 397.0,382.0 398.6,379.3 400.2,376.6 401.8,374.0 403.4,371.5 405.0,369.2 406.6,367.0 408.2,364.9 409.8,362.8 411.4,360.8 413.0,358.7 414.6,356.5 416.2,354.1 417.8,351.5 419.4,348.7 421.0,345.6 422.6,342.4 424.2,339.2 425.8,335.9 427.4,332.7 429.0,329.6 430.6,326.7 432.2,324.0 433.8,321.6 435.4,319.5 437.0,317.5 438.6,315.8 440.2,314.0 441.8,312.3 443.4,310.6 445.0,308.8 446.6,307.0 448.2,305.3 449.8,303.6 451.4,301.9 453.0,300.1 454.6,298.4 456.2,296.7 457.8,295.0 459.4,293.3 461.0,291.6 462.6,289.9 464.2,288.3 465.8,286.5 467.4,284.6 469.0,282.5 470.6,280.2 472.2,277.6 473.8,275.0 475.4,272.6 477.0,270.3 478.6,268.2 480.2,266.3 481.8,264.6 483.4,263.1 485.0,261.7 486.6,260.3 488.2,258.9 489.8,257.5 491.4,255.9 493.0,254.3 494.6,252.5 496.2,250.5 497.8,248.5 499.4,246.4 501.0,244.2 502.6,242.2 504.2,240.2 505.8,238.4 507.4,236.7 509.0,235.3 510.6,234.1 512.2,233.1 513.8,232.2 515.4,231.3 517.0,230.3 518.6,229.2 520.2,227.9 521.8,226.4 523.4,224.7 525.0,222.9 526.6,221.1 528.2,219.5 529.8,218.0 531.4,216.6 533.0,215.3 534.6,213.9 536.2,212.4 537.8,210.8 539.4,208.9 541.0,206.8 542.6,204.6 544.2,202.5 545.8,200.5 547.4,198.8 549.0,197.5 550.6,196.5 552.2,195.7 553.8,195.0 555.4,194.2 557.0,193.3 558.6,192.1 560.2,190.6 561.8,188.8 563.4,186.9 565.0,184.9 566.6,182.9 568.2,180.9 569.8,179.1 571.4,177.4 573.0,175.9 574.6,174.6 576.2,173.4 577.8,172.4 579.4,171.5 581.0,170.9 582.6,170.5 584.2,170.3 585.8,170.3 587.4,170.5 589.0,170.6 590.6,170.5 592.2,170.2 593.8,169.5 595.4,168.4 597.0,167.1 598.6,165.7 600.2,164.2 601.8,162.9 603.4,161.8 605.0,160.8 606.6,159.7 608.2,158.6 609.8,157.4 611.4,156.0 613.0,154.7 614.6,153.4 616.2,152.5 617.8,151.9 619.4,151.8 621.0,151.9 622.6,152.3 624.2,152.9 625.8,153.5 627.4,154.1 629.0,154.6 630.6,155.1 632.2,155.5 633.8,155.8 635.4,156.2 637.0,156.5 638.6,156.8 640.2,157.2 641.8,157.4 643.4,157.4 645.0,157.2 646.6,156.7 648.2,155.9 649.8,155.0 651.4,153.9 653.0,152.7 654.6,151.6 656.2,150.5 657.8,149.6 659.4,148.8 661.0,148.2 662.6,147.6 664.2,147.1 665.8,146.5 667.4,145.8 669.0,145.1 670.6,144.4 672.2,143.9 673.8,143.5 675.4,143.4 677.0,143.6 678.6,144.1 680.2,144.8 681.8,145.7 683.4,146.6 685.0,147.5 686.6,148.3 688.2,149.1 689.8,149.7 691.4,150.3 693.0,150.7 694.6,151.1 696.2,151.4 697.8,151.7 699.4,152.0 701.0,152.3 702.6,152.4 704.2,152.2 705.8,151.7 707.4,150.9 709.0,149.8 710.6,148.6 712.2,147.5 713.8,146.6 715.4,146.3 717.0,146.5 718.6,147.2 720.2,148.3 721.8,149.3 723.4,150.2 725.0,150.6 726.6,150.6 728.2,150.0 729.8,149.1 731.4,148.0 733.0,147.0 734.6,146.3 736.2,146.0 737.8,146.1 739.4,146.5 741.0,147.2 742.6,147.8 744.2,148.5 745.8,149.0 747.4,149.5 749.0,149.8 750.6,150.1 752.2,150.3 753.8,150.6 755.4,150.7 757.0,150.9 758.6,150.9 760.2,151.0 761.8,151.0 763.4,151.1 765.0,151.3 766.6,151.7 768.2,152.4 769.8,153.3 771.4,154.3 773.0,155.4 774.6,156.5 776.2,157.4 777.8,158.2 779.4,159.0 781.0,159.8 782.6,160.6 784.2,161.7 785.8,162.8 787.4,164.2 789.0,165.7 790.6,167.2 792.2,168.8 793.8,170.4 795.4,171.9 797.0,173.3 798.6,174.6 800.2,175.8 801.8,177.0 803.4,178.2 805.0,179.4 806.6,180.7 808.2,182.2 809.8,183.7 811.4,185.4 813.0,187.2 814.6,189.2 816.2,191.4 817.8,193.8 819.4,196.5 821.0,199.4 822.6,202.4 824.2,205.5 825.8,208.5 827.4,211.2 829.0,213.6 830.6,215.8 832.2,217.8 833.8,219.7 835.4,221.5 837.0,223.4 838.6,225.4 840.2,227.4 841.8,229.5 843.4,231.6 845.0,233.8 846.6,236.0 848.2,238.2 849.8,240.5 851.4,242.9 853.0,245.2 854.6,247.6 856.2,250.0 857.8,252.4 859.4,254.7 861.0,256.9 862.6,259.0 864.2,261.1 865.8,263.2 867.4,265.4 869.0,267.7 870.6,270.1 872.2,272.8 873.8,275.5 875.4,278.4 877.0,281.4 878.6,284.6 880.2,287.8 881.8,291.3 883.4,294.9 885.0,298.9 886.6,303.0 888.2,307.5 889.8,312.2 891.4,317.1 893.0,322.2 894.6,327.2 896.2,332.0 897.8,336.5 899.4,340.7 901.0,344.6 902.6,348.2 904.2,351.7 905.8,355.2 907.4,359.0 909.0,363.1 910.6,367.5 912.2,372.2 913.8,377.2 915.4,382.3 917.0,387.6 918.6,392.8 920.6,398.0" fill="none" stroke="#322f5a" stroke-width="1.3" stroke-linejoin="round" />
<polyline points="128.2,437.8 129.8,440.5 131.4,443.3 133.0,446.0 134.6,448.7 136.2,451.5 137.8,454.4 139.4,457.4 141.0,460.4 142.6,463.6 144.2,466.7 145.8,469.7 147.4,472.5 149.0,475.1 150.6,477.3 152.2,479.5 153.8,481.5 155.4,483.6 157.0,485.8 158.6,488.0 160.2,490.2 161.8,492.3 163.4,494.3 165.0,496.0 166.6,497.4 168.2,498.6 169.8,499.7 171.4,500.8 173.0,501.9 174.6,503.1 176.2,504.5 177.8,505.9 179.4,507.3 181.0,508.8 182.6,510.4 184.2,511.9 185.8,513.5 187.4,515.1 189.0,516.7 190.6,518.4 192.2,520.0 193.8,521.7 195.4,523.3 197.0,524.8 198.6,526.1 200.2,527.2 201.8,528.1 203.4,528.7 205.0,529.1 206.6,529.5 208.2,529.9 209.8,530.4 211.4,531.1 213.0,531.9 214.6,532.8 216.2,533.8 217.8,534.7 219.4,535.6 221.0,536.2 222.6,536.7 224.2,537.1 225.8,537.3 227.4,537.3 229.0,537.2 230.6,537.1 232.2,536.9 233.8,536.7 235.4,536.5 237.0,536.3 238.6,536.1 240.2,536.0 241.8,535.9 243.4,535.8 245.0,535.7 246.6,535.6 248.2,535.4 249.8,535.1 251.4,534.8 253.0,534.4 254.6,534.0 256.2,533.7 257.8,533.3 259.4,533.0 261.0,532.7 262.6,532.5 264.2,532.4 265.8,532.3 267.4,532.1 269.0,531.9 270.6,531.6 272.2,531.0 273.8,530.3 275.4,529.3 277.0,528.2 278.6,526.9 280.2,525.6 281.8,524.1 283.4,522.7 285.0,521.1 286.6,519.6 288.2,517.9 289.8,516.2 291.4,514.5 293.0,512.7 294.6,510.8 296.2,509.1 297.8,507.4 299.4,505.7 301.0,504.2 302.6,502.7 304.2,501.2 305.8,499.7 307.4,498.3 309.0,497.0 310.6,495.8 312.2,494.6 313.8,493.5 315.4,492.5 317.0,491.3 318.6,490.0 320.2,488.5 321.8,486.8 323.4,485.0 325.0,483.2 326.6,481.4 328.2,479.8 329.8,478.3 331.4,476.9 333.0,475.6 334.6,474.1 336.2,472.4 337.8,470.5 339.4,468.2 341.0,465.6 342.6,462.7 344.2,459.7 345.8,456.5 347.4,453.4 349.0,450.3 350.6,447.3 352.2,444.5 353.8,441.8 355.4,439.3 357.0,437.0 358.6,434.9 360.2,432.9 361.8,430.9 363.4,429.0 365.0,426.9 366.6,424.7 368.2,422.4 369.8,420.0 371.4,417.6 373.0,415.1 374.6,412.5 376.2,409.9 377.8,407.3 379.4,404.6 381.0,401.9 382.6,399.4 384.2,396.9 385.8,394.6 387.4,392.5 389.0,390.4 390.6,388.4 392.2,386.4 393.8,384.2 395.4,381.9 397.0,379.5 398.6,377.0 400.2,374.6 401.8,372.3 403.4,370.1 405.0,368.0 406.6,365.9 408.2,364.0 409.8,362.0 411.4,359.9 413.0,357.7 414.6,355.3 416.2,352.6 417.8,349.8 419.4,346.8 421.0,343.7 422.6,340.6 424.2,337.6 425.8,334.7 427.4,332.0 429.0,329.4 430.6,327.0 432.2,324.7 433.8,322.4 435.4,320.2 437.0,318.0 438.6,316.0 440.2,314.0 441.8,312.1 443.4,310.4 445.0,308.8 446.6,307.2 448.2,305.7 449.8,304.2 451.4,302.6 453.0,300.9 454.6,299.1 456.2,297.2 457.8,295.3 459.4,293.4 461.0,291.6 462.6,289.9 464.2,288.3 465.8,286.8 467.4,285.4 469.0,284.2 470.6,283.2 472.2,282.4 473.8,281.5 475.4,280.7 477.0,279.7 478.6,278.6 480.2,277.2 481.8,275.5 483.4,273.7 485.0,271.9 486.6,270.1 488.2,268.5 489.8,267.1 491.4,266.0 493.0,264.9 494.6,264.0 496.2,263.1 497.8,262.1 499.4,261.1 501.0,260.1 502.6,259.0 504.2,258.0 505.8,257.0 507.4,255.8 509.0,254.5 510.6,253.0 512.2,251.1 513.8,249.1 515.4,246.9 517.0,244.5 518.6,242.2 520.2,239.7 521.8,237.2 523.4,234.6 525.0,231.9 526.6,229.2 528.2,226.6 529.8,224.3 531.4,222.2 533.0,220.5 534.6,219.0 536.2,217.7 537.8,216.5 539.4,215.3 541.0,214.0 542.6,212.7 544.2,211.5 545.8,210.2 547.4,209.0 549.0,207.7 550.6,206.3 552.2,204.8 553.8,203.2 555.4,201.6 557.0,200.1 558.6,198.8 560.2,197.8 561.8,197.2 563.4,197.0 565.0,197.0 566.6,197.0 568.2,196.9 569.8,196.6 571.4,196.1 573.0,195.4 574.6,194.5 576.2,193.5 577.8,192.4 579.4,191.4 581.0,190.4 582.6,189.5 584.2,188.6 585.8,187.7 587.4,186.8 589.0,185.8 590.6,184.8 592.2,183.7 593.8,182.7 595.4,181.9 597.0,181.3 598.6,181.1 600.2,181.1 601.8,181.3 603.4,181.4 605.0,181.3 606.6,180.9 608.2,180.1 609.8,178.9 611.4,177.3 613.0,175.4 614.6,173.6 616.2,171.8 617.8,170.3 619.4,169.2 621.0,168.5 622.6,168.1 624.2,167.9 625.8,168.0 627.4,168.1 629.0,168.2 630.6,168.3 632.2,168.1 633.8,167.8 635.4,167.4 637.0,166.8 638.6,166.2 640.2,165.6 641.8,164.9 643.4,164.2 645.0,163.4 646.6,162.7 648.2,161.9 649.8,161.3 651.4,160.7 653.0,160.4 654.6,160.2 656.2,160.3 657.8,160.5 659.4,160.7 661.0,160.8 662.6,160.7 664.2,160.5 665.8,160.1 667.4,159.5 669.0,158.9 670.6,158.2 672.2,157.6 673.8,157.1 675.4,156.7 677.0,156.4 678.6,156.2 680.2,156.0 681.8,155.9 683.4,155.8 685.0,155.6 686.6,155.3 688.2,154.8 689.8,154.3 691.4,153.6 693.0,153.0 694.6,152.6 696.2,152.3 697.8,152.5 699.4,153.0 701.0,153.9 702.6,155.1 704.2,156.5 705.8,157.9 707.4,159.2 709.0,160.3 710.6,161.1 712.2,161.5 713.8,161.8 715.4,161.7 717.0,161.5 718.6,161.2 720.2,160.8 721.8,160.5 723.4,160.2 725.0,160.1 726.6,160.0 728.2,160.0 729.8,159.9 731.4,159.9 733.0,159.8 734.6,159.7 736.2,159.5 737.8,159.4 739.4,159.3 741.0,159.2 742.6,159.2 744.2,159.3 745.8,159.5 747.4,160.1 749.0,160.9 750.6,161.9 752.2,163.1 753.8,164.2 755.4,165.1 757.0,165.6 758.6,165.6 760.2,165.1 761.8,164.2 763.4,163.1 765.0,161.9 766.6,161.0 768.2,160.4 769.8,160.4 771.4,160.9 773.0,161.9 774.6,163.2 776.2,164.7 777.8,166.2 779.4,167.6 781.0,169.1 782.6,170.5 784.2,171.9 785.8,173.3 787.4,174.8 789.0,176.3 790.6,177.9 792.2,179.7 793.8,181.5 795.4,183.6 797.0,185.9 798.6,188.4 800.2,190.9 801.8,193.4 803.4,195.7 805.0,197.8 806.6,199.5 808.2,201.0 809.8,202.3 811.4,203.5 813.0,204.8 814.6,206.4 816.2,208.3 817.8,210.4 819.4,212.6 821.0,214.9 822.6,217.0 824.2,218.8 825.8,220.3 827.4,221.6 829.0,222.8 830.6,224.0 832.2,225.4 833.8,227.2 835.4,229.3 837.0,231.7 838.6,234.3 840.2,236.9 841.8,239.5 843.4,242.0 845.0,244.4 846.6,247.0 848.2,249.6 849.8,252.5 851.4,255.5 853.0,258.8 854.6,262.1 856.2,265.5 857.8,268.7 859.4,271.9 861.0,274.8 862.6,277.6 864.2,280.2 865.8,282.9 867.4,285.8 869.0,289.1 870.6,292.7 872.2,296.9 873.8,301.5 875.4,306.3 877.0,311.3 878.6,316.3 880.2,321.1 881.8,325.7 883.4,329.9 885.0,333.9 886.6,337.7 888.2,341.3 889.8,345.0 891.4,348.7 893.0,352.5 894.6,356.5 896.2,360.5 897.8,364.7 899.4,368.9 901.0,373.1 902.6,377.4 904.2,381.7 905.8,385.9 907.4,390.0 909.0,394.0 910.6,398.0 912.2,402.0 913.8,406.0 915.4,410.1 917.0,414.3 918.6,418.6 920.6,423.1" fill="none" stroke="#37346c" stroke-width="1.3" stroke-linejoin="round" />
<polyline points="128.2,440.8 129.8,441.0 131.4,441.2 133.0,441.4 134.6,441.8 136.2,442.4 137.8,443.2 139.4,444.1 141.0,445.4 142.6,446.8 144.2,448.5 145.8,450.4 147.4,452.5 149.0,454.6 150.6,456.7 152.2,458.7 153.8,460.7 155.4,462.5 157.0,464.4 158.6,466.2 160.2,468.1 161.8,470.1 163.4,472.2 165.0,474.4 166.6,476.6 168.2,478.8 169.8,480.9 171.4,482.9 173.0,484.8 174.6,486.6 176.2,488.2 177.8,489.6 179.4,490.7 181.0,491.5 182.6,492.0 184.2,492.3 185.8,492.3 187.4,492.4 189.0,492.7 190.6,493.3 192.2,494.3 193.8,495.8 195.4,497.5 197.0,499.5 198.6,501.5 200.2,503.3 201.8,505.0 203.4,506.4 205.0,507.7 206.6,508.7 208.2,509.7 209.8,510.6 211.4,511.4 213.0,512.2 214.6,512.8 216.2,513.4 217.8,513.9 219.4,514.2 221.0,514.3 222.6,514.4 224.2,514.4 225.8,514.4 227.4,514.4 229.0,514.5 230.6,514.6 232.2,514.9 233.8,515.2 235.4,515.5 237.0,515.8 238.6,516.2 240.2,516.4 241.8,516.6 243.4,516.7 245.0,516.7 246.6,516.6 248.2,516.4 249.8,516.2 251.4,516.0 253.0,515.7 254.6,515.4 256.2,515.1 257.8,514.8 259.4,514.5 261.0,514.1 262.6,513.8 264.2,513.5 265.8,513.0 267.4,512.4 269.0,511.8 270.6,511.0 272.2,510.1 273.8,509.1 275.4,508.1 277.0,506.9 278.6,505.6 280.2,504.2 281.8,502.9 283.4,501.6 285.0,500.3 286.6,498.9 288.2,497.4 289.8,495.8 291.4,494.3 293.0,492.7 294.6,491.2 296.2,489.9 297.8,488.7 299.4,487.7 301.0,486.8 302.6,486.0 304.2,485.2 305.8,484.4 307.4,483.7 309.0,482.9 310.6,482.0 312.2,481.1 313.8,480.0 315.4,478.7 317.0,477.2 318.6,475.6 320.2,473.8 321.8,472.1 323.4,470.5 325.0,469.0 326.6,467.7 328.2,466.4 329.8,465.1 331.4,463.7 333.0,462.2 334.6,460.4 336.2,458.5 337.8,456.4 339.4,454.4 341.0,452.4 342.6,450.4 344.2,448.5 345.8,446.6 347.4,444.5 349.0,442.4 350.6,440.2 352.2,438.0 353.8,435.6 355.4,433.4 357.0,431.1 358.6,428.9 360.2,426.7 361.8,424.5 363.4,422.4 365.0,420.2 366.6,418.1 368.2,415.9 369.8,413.6 371.4,411.3 373.0,408.9 374.6,406.6 376.2,404.3 377.8,402.0 379.4,399.9 381.0,397.9 382.6,396.0 384.2,394.2 385.8,392.3 387.4,390.5 389.0,388.7 390.6,386.9 392.2,385.1 393.8,383.2 395.4,381.2 397.0,379.2 398.6,377.1 400.2,374.9 401.8,372.8 403.4,370.7 405.0,368.7 406.6,366.8 408.2,365.0 409.8,363.2 411.4,361.5 413.0,359.9 414.6,358.3 416.2,356.7 417.8,355.1 419.4,353.6 421.0,352.2 422.6,350.8 424.2,349.4 425.8,348.2 427.4,346.9 429.0,345.6 430.6,344.3 432.2,342.8 433.8,341.1 435.4,339.4 437.0,337.5 438.6,335.6 440.2,333.8 441.8,332.0 443.4,330.3 445.0,328.5 446.6,326.6 448.2,324.6 449.8,322.5 451.4,320.2 453.0,318.0 454.6,315.8 456.2,313.8 457.8,311.9 459.4,310.2 461.0,308.7 462.6,307.2 464.2,305.7 465.8,304.4 467.4,303.0 469.0,301.8 470.6,300.6 472.2,299.4 473.8,298.2 475.4,297.0 477.0,295.6 478.6,294.1 480.2,292.6 481.8,291.1 483.4,289.6 485.0,288.2 486.6,286.8 488.2,285.4 489.8,284.0 491.4,282.4 493.0,280.8 494.6,279.0 496.2,277.2 497.8,275.3 499.4,273.3 501.0,271.2 502.6,269.0 504.2,266.6 505.8,264.1 507.4,261.5 509.0,259.0 510.6,256.4 512.2,254.0 513.8,251.8 515.4,249.7 517.0,247.7 518.6,246.0 520.2,244.3 521.8,242.8 523.4,241.3 525.0,239.7 526.6,238.1 528.2,236.4 529.8,234.5 531.4,232.6 533.0,230.7 534.6,228.8 536.2,227.0 537.8,225.2 539.4,223.6 541.0,221.9 542.6,220.2 544.2,218.5 545.8,216.8 547.4,215.1 549.0,213.4 550.6,211.8 552.2,210.2 553.8,208.7 555.4,207.3 557.0,205.9 558.6,204.6 560.2,203.3 561.8,202.2 563.4,201.2 565.0,200.1 566.6,198.9 568.2,197.4 569.8,195.6 571.4,193.4 573.0,191.0 574.6,188.6 576.2,186.3 577.8,184.4 579.4,182.8 581.0,181.6 582.6,180.7 584.2,180.0 585.8,179.4 587.4,179.0 589.0,178.6 590.6,178.4 592.2,178.3 593.8,178.2 595.4,178.2 597.0,178.1 598.6,177.9 600.2,177.5 601.8,176.9 603.4,176.3 605.0,175.5 606.6,174.7 608.2,173.8 609.8,172.9 611.4,172.1 613.0,171.4 614.6,170.9 616.2,170.5 617.8,170.3 619.4,170.2 621.0,170.2 622.6,170.0 624.2,169.8 625.8,169.4 627.4,168.9 629.0,168.2 630.6,167.5 632.2,166.7 633.8,165.9 635.4,165.1 637.0,164.3 638.6,163.5 640.2,162.8 641.8,162.1 643.4,161.5 645.0,161.0 646.6,160.7 648.2,160.4 649.8,160.1 651.4,159.6 653.0,158.9 654.6,158.0 656.2,156.9 657.8,155.7 659.4,154.6 661.0,153.5 662.6,152.5 664.2,151.6 665.8,150.9 667.4,150.3 669.0,149.9 670.6,149.9 672.2,150.2 673.8,150.8 675.4,151.6 677.0,152.5 678.6,153.3 680.2,153.9 681.8,154.3 683.4,154.3 685.0,154.0 686.6,153.5 688.2,153.0 689.8,152.6 691.4,152.4 693.0,152.5 694.6,152.9 696.2,153.5 697.8,154.3 699.4,154.9 701.0,155.4 702.6,155.6 704.2,155.5 705.8,155.3 707.4,155.0 709.0,154.7 710.6,154.5 712.2,154.4 713.8,154.4 715.4,154.3 717.0,154.1 718.6,153.8 720.2,153.5 721.8,153.1 723.4,152.9 725.0,152.8 726.6,153.0 728.2,153.6 729.8,154.3 731.4,155.2 733.0,155.9 734.6,156.4 736.2,156.5 737.8,156.3 739.4,156.0 741.0,155.7 742.6,155.5 744.2,155.5 745.8,155.8 747.4,156.1 749.0,156.4 750.6,156.5 752.2,156.4 753.8,156.2 755.4,155.9 757.0,155.5 758.6,155.3 760.2,155.3 761.8,155.4 763.4,155.8 765.0,156.4 766.6,157.3 768.2,158.3 769.8,159.6 771.4,161.1 773.0,162.7 774.6,164.3 776.2,165.8 777.8,167.2 779.4,168.4 781.0,169.6 782.6,170.6 784.2,171.5 785.8,172.3 787.4,173.0 789.0,173.5 790.6,173.8 792.2,174.1 793.8,174.3 795.4,174.6 797.0,175.1 798.6,175.7 800.2,176.7 801.8,177.9 803.4,179.4 805.0,181.0 806.6,182.7 808.2,184.3 809.8,185.9 811.4,187.2 813.0,188.3 814.6,189.3 816.2,190.1 817.8,190.9 819.4,191.8 821.0,192.9 822.6,194.2 824.2,195.6 825.8,197.3 827.4,199.0 829.0,200.7 830.6,202.5 832.2,204.4 833.8,206.3 835.4,208.3 837.0,210.4 838.6,212.7 840.2,215.2 841.8,217.8 843.4,220.6 845.0,223.6 846.6,226.8 848.2,230.3 849.8,234.0 851.4,237.8 853.0,241.5 854.6,244.9 856.2,248.1 857.8,251.1 859.4,253.9 861.0,256.5 862.6,259.2 864.2,261.9 865.8,264.7 867.4,267.7 869.0,270.8 870.6,274.0 872.2,277.3 873.8,280.6 875.4,284.0 877.0,287.3 878.6,290.7 880.2,294.1 881.8,297.6 883.4,301.2 885.0,305.0 886.6,309.1 888.2,313.4 889.8,317.9 891.4,322.5 893.0,327.2 894.6,331.8 896.2,336.6 897.8,341.4 899.4,346.3 901.0,351.4 902.6,356.6 904.2,361.8 905.8,366.8 907.4,371.6 909.0,376.2 910.6,380.5 912.2,384.5 913.8,388.4 915.4,392.3 917.0,396.3 918.6,400.4 920.6,404.7" fill="none" stroke="#3d387e" stroke-width="1.3" stroke-linejoin="round" />
<polyline points="128.2,442.2 129.8,444.2 131.4,446.3 133.0,448.6 134.6,450.9 136.2,453.1 137.8,455.3 139.4,457.5 141.0,459.6 142.6,461.7 144.2,463.9 145.8,466.1 147.4,468.4 149.0,470.7 150.6,473.1 152.2,475.5 153.8,477.8 155.4,480.2 157.0,482.4 158.6,484.5 160.2,486.5 161.8,488.4 163.4,490.1 165.0,491.7 166.6,493.2 168.2,494.7 169.8,496.2 171.4,497.7 173.0,499.0 174.6,500.2 176.2,501.3 177.8,502.1 179.4,502.8 181.0,503.3 182.6,503.9 184.2,504.4 185.8,505.0 187.4,505.5 189.0,506.1 190.6,506.6 192.2,507.1 193.8,507.7 195.4,508.4 197.0,509.1 198.6,509.9 200.2,510.6 201.8,511.3 203.4,511.9 205.0,512.4 206.6,512.8 208.2,513.2 209.8,513.5 211.4,513.9 213.0,514.3 214.6,514.8 216.2,515.2 217.8,515.7 219.4,516.2 221.0,516.7 222.6,517.4 224.2,518.1 225.8,519.0 227.4,519.9 229.0,520.9 230.6,521.9 232.2,522.8 233.8,523.7 235.4,524.4 237.0,525.1 238.6,525.6 240.2,526.1 241.8,526.5 243.4,526.9 245.0,527.1 246.6,527.3 248.2,527.4 249.8,527.5 251.4,527.6 253.0,527.7 254.6,527.8 256.2,527.9 257.8,528.0 259.4,528.0 261.0,528.0 262.6,527.9 264.2,527.7 265.8,527.5 267.4,527.1 269.0,526.7 270.6,526.1 272.2,525.5 273.8,524.8 275.4,524.0 277.0,523.1 278.6,522.1 280.2,521.1 281.8,520.1 283.4,519.1 285.0,518.2 286.6,517.3 288.2,516.5 289.8,515.8 291.4,515.1 293.0,514.3 294.6,513.5 296.2,512.5 297.8,511.4 299.4,510.1 301.0,508.8 302.6,507.4 304.2,506.1 305.8,504.9 307.4,503.7 309.0,502.5 310.6,501.4 312.2,500.3 313.8,499.0 315.4,497.8 317.0,496.4 318.6,495.1 320.2,493.7 321.8,492.5 323.4,491.2 325.0,490.0 326.6,488.8 328.2,487.5 329.8,486.1 331.4,484.4 333.0,482.5 334.6,480.4 336.2,478.0 337.8,475.6 339.4,473.3 341.0,471.1 342.6,469.0 344.2,467.1 345.8,465.4 347.4,463.6 349.0,461.8 350.6,459.9 352.2,457.9 353.8,455.9 355.4,453.7 357.0,451.6 358.6,449.5 360.2,447.5 361.8,445.4 363.4,443.4 365.0,441.3 366.6,439.1 368.2,436.9 369.8,434.7 371.4,432.6 373.0,430.5 374.6,428.4 376.2,426.3 377.8,424.2 379.4,422.2 381.0,420.2 382.6,418.3 384.2,416.5 385.8,414.8 387.4,413.1 389.0,411.4 390.6,409.6 392.2,407.5 393.8,405.0 395.4,402.2 397.0,399.0 398.6,395.5 400.2,391.9 401.8,388.3 403.4,384.8 405.0,381.5 406.6,378.5 408.2,375.8 409.8,373.3 411.4,371.0 413.0,368.9 414.6,366.7 416.2,364.5 417.8,362.4 419.4,360.3 421.0,358.3 422.6,356.4 424.2,354.5 425.8,352.5 427.4,350.4 429.0,348.1 430.6,345.5 432.2,342.7 433.8,339.8 435.4,336.8 437.0,333.8 438.6,331.1 440.2,328.5 441.8,326.1 443.4,324.0 445.0,322.2 446.6,320.5 448.2,319.1 449.8,317.9 451.4,316.8 453.0,315.8 454.6,314.8 456.2,313.6 457.8,312.2 459.4,310.5 461.0,308.5 462.6,306.3 464.2,304.0 465.8,301.8 467.4,299.5 469.0,297.4 470.6,295.5 472.2,293.6 473.8,291.7 475.4,289.8 477.0,287.8 478.6,285.9 480.2,284.0 481.8,282.1 483.4,280.2 485.0,278.3 486.6,276.4 488.2,274.3 489.8,272.0 491.4,269.7 493.0,267.4 494.6,265.1 496.2,262.9 497.8,260.8 499.4,258.8 501.0,256.8 502.6,254.9 504.2,252.9 505.8,251.0 507.4,249.0 509.0,247.1 510.6,245.4 512.2,243.9 513.8,242.6 515.4,241.3 517.0,240.0 518.6,238.7 520.2,237.2 521.8,235.7 523.4,234.1 525.0,232.6 526.6,231.1 528.2,229.6 529.8,228.1 531.4,226.5 533.0,224.9 534.6,223.3 536.2,221.7 537.8,220.2 539.4,218.8 541.0,217.4 542.6,216.1 544.2,214.8 545.8,213.4 547.4,211.8 549.0,210.1 550.6,208.3 552.2,206.3 553.8,204.4 555.4,202.6 557.0,201.0 558.6,199.6 560.2,198.6 561.8,197.9 563.4,197.6 565.0,197.3 566.6,197.2 568.2,196.9 569.8,196.5 571.4,195.8 573.0,194.9 574.6,193.8 576.2,192.6 577.8,191.3 579.4,190.1 581.0,189.0 582.6,187.9 584.2,186.7 585.8,185.6 587.4,184.3 589.0,183.0 590.6,181.5 592.2,180.1 593.8,178.6 595.4,177.3 597.0,176.2 598.6,175.2 600.2,174.5 601.8,174.0 603.4,173.5 605.0,173.0 606.6,172.2 608.2,171.2 609.8,169.9 611.4,168.4 613.0,166.8 614.6,165.2 616.2,163.9 617.8,162.9 619.4,162.3 621.0,162.1 622.6,162.1 624.2,162.3 625.8,162.5 627.4,162.7 629.0,162.9 630.6,163.1 632.2,163.3 633.8,163.4 635.4,163.5 637.0,163.5 638.6,163.3 640.2,162.9 641.8,162.5 643.4,162.1 645.0,161.6 646.6,161.2 648.2,160.9 649.8,160.5 651.4,159.9 653.0,159.1 654.6,158.1 656.2,156.8 657.8,155.4 659.4,154.0 661.0,153.0 662.6,152.2 664.2,151.8 665.8,151.6 667.4,151.5 669.0,151.3 670.6,151.0 672.2,150.6 673.8,150.1 675.4,149.6 677.0,149.0 678.6,148.5 680.2,148.1 681.8,147.8 683.4,147.7 685.0,147.7 686.6,147.8 688.2,148.0 689.8,148.2 691.4,148.5 693.0,148.9 694.6,149.3 696.2,149.8 697.8,150.3 699.4,150.9 701.0,151.6 702.6,152.3 704.2,153.2 705.8,154.1 707.4,155.1 709.0,156.0 710.6,156.9 712.2,157.7 713.8,158.4 715.4,158.9 717.0,159.3 718.6,159.6 720.2,159.9 721.8,160.1 723.4,160.2 725.0,160.4 726.6,160.5 728.2,160.7 729.8,160.8 731.4,160.8 733.0,160.7 734.6,160.5 736.2,159.9 737.8,159.2 739.4,158.1 741.0,156.9 742.6,155.7 744.2,154.6 745.8,153.7 747.4,153.2 749.0,153.2 750.6,153.5 752.2,154.2 753.8,155.1 755.4,156.1 757.0,157.0 758.6,157.7 760.2,158.2 761.8,158.6 763.4,158.9 765.0,159.3 766.6,159.8 768.2,160.6 769.8,161.7 771.4,163.1 773.0,164.7 774.6,166.6 776.2,168.6 777.8,170.6 779.4,172.4 781.0,174.1 782.6,175.4 784.2,176.3 785.8,176.8 787.4,177.1 789.0,177.4 790.6,178.0 792.2,178.9 793.8,180.3 795.4,182.3 797.0,184.7 798.6,187.5 800.2,190.5 801.8,193.4 803.4,196.3 805.0,198.9 806.6,201.2 808.2,203.3 809.8,205.2 811.4,206.8 813.0,208.2 814.6,209.4 816.2,210.5 817.8,211.4 819.4,212.3 821.0,213.2 822.6,214.2 824.2,215.4 825.8,217.0 827.4,218.9 829.0,221.2 830.6,223.8 832.2,226.6 833.8,229.6 835.4,232.7 837.0,235.6 838.6,238.5 840.2,241.3 841.8,244.1 843.4,246.8 845.0,249.7 846.6,252.7 848.2,255.9 849.8,259.3 851.4,262.7 853.0,266.2 854.6,269.7 856.2,273.1 857.8,276.2 859.4,279.2 861.0,282.0 862.6,284.7 864.2,287.3 865.8,289.9 867.4,292.7 869.0,295.7 870.6,298.9 872.2,302.4 873.8,306.1 875.4,310.1 877.0,314.2 878.6,318.6 880.2,323.2 881.8,328.1 883.4,333.2 885.0,338.5 886.6,344.1 888.2,349.6 889.8,355.1 891.4,360.5 893.0,365.7 894.6,370.8 896.2,375.7 897.8,380.5 899.4,385.1 901.0,389.6 902.6,394.0 904.2,398.3 905.8,402.5 907.4,406.7 909.0,411.0 910.6,415.3 912.2,419.6 913.8,423.7 915.4,427.7 917.0,431.4 918.6,434.9 920.6,438.3" fill="none" stroke="#423d90" stroke-width="1.3" stroke-linejoin="round" />
<polyline points="128.2,404.3 129.8,406.0 131.4,407.7 133.0,409.4 134.6,411.1 136.2,413.0 137.8,415.2 139.4,417.7 141.0,420.6 142.6,423.8 144.2,427.2 145.8,430.7 147.4,434.2 149.0,437.5 150.6,440.5 152.2,443.3 153.8,445.9 155.4,448.4 157.0,450.7 158.6,453.0 160.2,455.2 161.8,457.3 163.4,459.2 165.0,460.9 166.6,462.4 168.2,463.7 169.8,465.0 171.4,466.2 173.0,467.5 174.6,469.0 176.2,470.7 177.8,472.6 179.4,474.6 181.0,476.6 182.6,478.6 184.2,480.5 185.8,482.3 187.4,484.0 189.0,485.7 190.6,487.2 192.2,488.8 193.8,490.3 195.4,491.9 197.0,493.5 198.6,495.0 200.2,496.6 201.8,498.1 203.4,499.6 205.0,501.0 206.6,502.3 208.2,503.4 209.8,504.5 211.4,505.4 213.0,506.1 214.6,506.8 216.2,507.3 217.8,507.9 219.4,508.5 221.0,509.2 222.6,509.9 224.2,510.6 225.8,511.3 227.4,511.9 229.0,512.5 230.6,512.8 232.2,513.2 233.8,513.7 235.4,514.3 237.0,514.8 238.6,515.2 240.2,515.5 241.8,515.5 243.4,515.4 245.0,515.2 246.6,514.9 248.2,514.6 249.8,514.4 251.4,514.4 253.0,514.5 254.6,514.6 256.2,514.7 257.8,514.6 259.4,514.4 261.0,514.2 262.6,513.9 264.2,513.6 265.8,513.2 267.4,512.8 269.0,512.3 270.6,511.7 272.2,510.8 273.8,509.8 275.4,508.5 277.0,507.1 278.6,505.5 280.2,503.8 281.8,502.1 283.4,500.3 285.0,498.5 286.6,496.7 288.2,495.0 289.8,493.2 291.4,491.5 293.0,489.7 294.6,487.9 296.2,486.1 297.8,484.3 299.4,482.5 301.0,480.9 302.6,479.5 304.2,478.3 305.8,477.2 307.4,476.2 309.0,475.3 310.6,474.3 312.2,473.3 313.8,472.2 315.4,471.0 317.0,469.6 318.6,468.2 320.2,466.7 321.8,465.3 323.4,464.0 325.0,462.8 326.6,461.6 328.2,460.4 329.8,459.2 331.4,457.7 333.0,456.0 334.6,454.0 336.2,451.9 337.8,449.5 339.4,447.0 341.0,444.5 342.6,442.0 344.2,439.6 345.8,437.3 347.4,435.0 349.0,432.8 350.6,430.6 352.2,428.5 353.8,426.5 355.4,424.5 357.0,422.6 358.6,420.7 360.2,418.9 361.8,417.1 363.4,415.3 365.0,413.5 366.6,411.6 368.2,409.7 369.8,407.8 371.4,405.9 373.0,404.0 374.6,402.2 376.2,400.6 377.8,399.1 379.4,397.8 381.0,396.8 382.6,396.0 384.2,395.2 385.8,394.5 387.4,393.6 389.0,392.6 390.6,391.4 392.2,389.9 393.8,388.1 395.4,386.1 397.0,383.9 398.6,381.5 400.2,379.0 401.8,376.4 403.4,373.8 405.0,371.1 406.6,368.4 408.2,365.8 409.8,363.2 411.4,360.7 413.0,358.2 414.6,355.7 416.2,353.3 417.8,351.0 419.4,348.9 421.0,346.9 422.6,345.2 424.2,343.7 425.8,342.4 427.4,341.3 429.0,340.3 430.6,339.3 432.2,338.4 433.8,337.5 435.4,336.5 437.0,335.4 438.6,334.3 440.2,333.1 441.8,331.8 443.4,330.3 445.0,328.8 446.6,327.2 448.2,325.5 449.8,323.8 451.4,322.0 453.0,320.1 454.6,318.2 456.2,316.1 457.8,314.0 459.4,311.8 461.0,309.5 462.6,307.3 464.2,305.1 465.8,302.9 467.4,300.8 469.0,298.8 470.6,296.7 472.2,294.8 473.8,292.8 475.4,291.0 477.0,289.1 478.6,287.3 480.2,285.5 481.8,283.6 483.4,281.7 485.0,279.7 486.6,277.7 488.2,275.7 489.8,273.7 491.4,271.8 493.0,269.9 494.6,268.2 496.2,266.7 497.8,265.3 499.4,264.0 501.0,262.8 502.6,261.8 504.2,260.7 505.8,259.6 507.4,258.3 509.0,256.8 510.6,255.1 512.2,253.1 513.8,251.0 515.4,248.9 517.0,246.9 518.6,245.0 520.2,243.2 521.8,241.5 523.4,239.7 525.0,237.9 526.6,235.8 528.2,233.5 529.8,231.1 531.4,228.5 533.0,225.9 534.6,223.4 536.2,221.1 537.8,218.9 539.4,217.0 541.0,215.3 542.6,213.8 544.2,212.5 545.8,211.4 547.4,210.3 549.0,209.2 550.6,208.0 552.2,206.7 553.8,205.1 555.4,203.5 557.0,201.7 558.6,200.0 560.2,198.2 561.8,196.4 563.4,194.5 565.0,192.5 566.6,190.3 568.2,188.1 569.8,185.9 571.4,183.9 573.0,182.0 574.6,180.4 576.2,178.9 577.8,177.6 579.4,176.2 581.0,174.9 582.6,173.6 584.2,172.4 585.8,171.3 587.4,170.4 589.0,169.8 590.6,169.4 592.2,169.3 593.8,169.3 595.4,169.4 597.0,169.4 598.6,169.2 600.2,168.7 601.8,167.8 603.4,166.6 605.0,165.2 606.6,163.6 608.2,161.8 609.8,160.0 611.4,158.2 613.0,156.4 614.6,154.8 616.2,153.2 617.8,151.8 619.4,150.6 621.0,149.4 622.6,148.5 624.2,147.6 625.8,146.9 627.4,146.2 629.0,145.5 630.6,144.8 632.2,144.2 633.8,143.5 635.4,142.9 637.0,142.2 638.6,141.5 640.2,140.6 641.8,139.7 643.4,138.7 645.0,137.9 646.6,137.2 648.2,137.0 649.8,137.2 651.4,137.8 653.0,138.6 654.6,139.3 656.2,139.6 657.8,139.2 659.4,138.1 661.0,136.4 662.6,134.4 664.2,132.4 665.8,130.6 667.4,129.3 669.0,128.5 670.6,128.1 672.2,127.9 673.8,127.6 675.4,127.2 677.0,126.4 678.6,125.3 680.2,124.1 681.8,122.7 683.4,121.3 685.0,120.1 686.6,119.1 688.2,118.4 689.8,118.1 691.4,118.1 693.0,118.4 694.6,118.8 696.2,119.2 697.8,119.7 699.4,120.1 701.0,120.4 702.6,120.7 704.2,120.9 705.8,121.2 707.4,121.4 709.0,121.5 710.6,121.7 712.2,121.7 713.8,121.7 715.4,121.5 717.0,121.2 718.6,120.9 720.2,120.6 721.8,120.3 723.4,120.2 725.0,120.3 726.6,120.7 728.2,121.2 729.8,121.9 731.4,122.8 733.0,123.6 734.6,124.5 736.2,125.2 737.8,125.8 739.4,126.2 741.0,126.5 742.6,126.7 744.2,126.9 745.8,127.1 747.4,127.3 749.0,127.5 750.6,127.7 752.2,128.0 753.8,128.5 755.4,129.0 757.0,129.6 758.6,130.5 760.2,131.4 761.8,132.6 763.4,133.9 765.0,135.3 766.6,136.7 768.2,138.0 769.8,139.3 771.4,140.6 773.0,141.8 774.6,143.1 776.2,144.5 777.8,145.9 779.4,147.4 781.0,148.8 782.6,150.3 784.2,151.7 785.8,153.2 787.4,154.6 789.0,156.1 790.6,157.6 792.2,159.3 793.8,161.1 795.4,162.9 797.0,164.7 798.6,166.4 800.2,168.1 801.8,169.6 803.4,171.0 805.0,172.2 806.6,173.2 808.2,174.2 809.8,175.1 811.4,176.1 813.0,177.1 814.6,178.4 816.2,179.8 817.8,181.5 819.4,183.5 821.0,185.7 822.6,188.1 824.2,190.7 825.8,193.3 827.4,195.8 829.0,198.1 830.6,200.3 832.2,202.4 833.8,204.4 835.4,206.5 837.0,208.7 838.6,211.2 840.2,213.8 841.8,216.6 843.4,219.5 845.0,222.4 846.6,225.5 848.2,228.6 849.8,231.7 851.4,234.8 853.0,237.9 854.6,240.8 856.2,243.7 857.8,246.6 859.4,249.5 861.0,252.4 862.6,255.2 864.2,258.0 865.8,260.5 867.4,262.8 869.0,264.9 870.6,266.9 872.2,268.7 873.8,270.6 875.4,272.7 877.0,275.1 878.6,278.0 880.2,281.4 881.8,285.2 883.4,289.4 885.0,293.9 886.6,298.6 888.2,303.5 889.8,308.5 891.4,313.4 893.0,318.4 894.6,323.4 896.2,328.2 897.8,333.0 899.4,337.7 901.0,342.3 902.6,346.9 904.2,351.4 905.8,355.9 907.4,360.4 909.0,364.8 910.6,369.3 912.2,373.9 913.8,378.6 915.4,383.4 917.0,388.3 918.6,393.3 920.6,398.3" fill="none" stroke="#4842a2" stroke-width="1.3" stroke-linejoin="round" />
<polyline points="128.2,458.7 129.8,460.2 131.4,462.0 133.0,464.0 134.6,466.2 136.2,468.8 137.8,471.5 139.4,474.3 141.0,477.2 142.6,480.2 144.2,483.1 145.8,485.9 147.4,488.6 149.0,491.1 150.6,493.5 152.2,495.6 153.8,497.5 155.4,499.3 157.0,500.9 158.6,502.5 160.2,504.2 161.8,505.9 163.4,507.6 165.0,509.3 166.6,511.1 168.2,512.7 169.8,514.1 171.4,515.4 173.0,516.5 174.6,517.4 176.2,518.3 177.8,519.2 179.4,520.1 181.0,521.1 182.6,522.2 184.2,523.5 185.8,524.9 187.4,526.4 189.0,527.8 190.6,529.2 192.2,530.5 193.8,531.5 195.4,532.3 197.0,532.8 198.6,533.0 200.2,533.1 201.8,533.2 203.4,533.3 205.0,533.6 206.6,534.1 208.2,534.7 209.8,535.5 211.4,536.3 213.0,537.2 214.6,538.0 216.2,538.6 217.8,539.1 219.4,539.4 221.0,539.6 222.6,539.7 224.2,539.7 225.8,539.5 227.4,539.3 229.0,538.9 230.6,538.5 232.2,538.0 233.8,537.6 235.4,537.3 237.0,537.1 238.6,537.0 240.2,537.0 241.8,537.1 243.4,537.2 245.0,537.2 246.6,537.1 248.2,536.9 249.8,536.6 251.4,536.1 253.0,535.5 254.6,534.9 256.2,534.2 257.8,533.5 259.4,533.0 261.0,532.4 262.6,531.8 264.2,531.1 265.8,530.2 267.4,529.1 269.0,527.7 270.6,526.3 272.2,524.8 273.8,523.4 275.4,522.1 277.0,521.0 278.6,520.1 280.2,519.2 281.8,518.4 283.4,517.6 285.0,516.6 286.6,515.6 288.2,514.4 289.8,513.1 291.4,511.7 293.0,510.2 294.6,508.6 296.2,507.0 297.8,505.4 299.4,503.9 301.0,502.5 302.6,501.2 304.2,500.0 305.8,498.9 307.4,497.9 309.0,496.8 310.6,495.7 312.2,494.6 313.8,493.4 315.4,492.3 317.0,491.1 318.6,490.0 320.2,488.7 321.8,487.3 323.4,485.7 325.0,483.8 326.6,481.7 328.2,479.4 329.8,477.1 331.4,474.8 333.0,472.5 334.6,470.2 336.2,468.1 337.8,466.0 339.4,463.9 341.0,461.9 342.6,459.9 344.2,457.9 345.8,455.9 347.4,454.0 349.0,452.1 350.6,450.3 352.2,448.6 353.8,447.0 355.4,445.4 357.0,443.9 358.6,442.5 360.2,441.0 361.8,439.5 363.4,437.9 365.0,436.3 366.6,434.6 368.2,433.0 369.8,431.2 371.4,429.5 373.0,427.7 374.6,425.9 376.2,424.1 377.8,422.4 379.4,420.7 381.0,419.3 382.6,418.0 384.2,417.0 385.8,416.1 387.4,415.4 389.0,414.8 390.6,414.1 392.2,413.3 393.8,412.2 395.4,410.8 397.0,409.1 398.6,407.0 400.2,404.7 401.8,402.2 403.4,399.8 405.0,397.3 406.6,395.0 408.2,392.9 409.8,391.0 411.4,389.1 413.0,387.4 414.6,385.7 416.2,384.0 417.8,382.2 419.4,380.3 421.0,378.4 422.6,376.4 424.2,374.4 425.8,372.4 427.4,370.4 429.0,368.6 430.6,366.8 432.2,365.2 433.8,363.6 435.4,362.0 437.0,360.4 438.6,358.7 440.2,357.0 441.8,355.1 443.4,353.1 445.0,351.0 446.6,348.8 448.2,346.6 449.8,344.5 451.4,342.4 453.0,340.3 454.6,338.3 456.2,336.3 457.8,334.3 459.4,332.2 461.0,330.1 462.6,328.0 464.2,326.0 465.8,324.1 467.4,322.5 469.0,321.0 470.6,319.6 472.2,318.2 473.8,316.7 475.4,314.9 477.0,313.0 478.6,311.0 480.2,308.9 481.8,306.8 483.4,304.8 485.0,302.9 486.6,301.2 488.2,299.5 489.8,297.8 491.4,296.1 493.0,294.3 494.6,292.5 496.2,290.7 497.8,288.9 499.4,287.2 501.0,285.4 502.6,283.6 504.2,281.8 505.8,279.8 507.4,277.7 509.0,275.5 510.6,273.2 512.2,271.0 513.8,268.9 515.4,267.0 517.0,265.3 518.6,263.8 520.2,262.4 521.8,261.0 523.4,259.5 525.0,257.7 526.6,255.8 528.2,253.7 529.8,251.5 531.4,249.3 533.0,247.1 534.6,245.1 536.2,243.3 537.8,241.6 539.4,240.1 541.0,238.7 542.6,237.2 544.2,235.7 545.8,234.1 547.4,232.4 549.0,230.9 550.6,229.4 552.2,228.1 553.8,227.0 555.4,226.1 557.0,225.2 558.6,224.3 560.2,223.3 561.8,222.0 563.4,220.6 565.0,218.9 566.6,217.0 568.2,215.1 569.8,213.2 571.4,211.4 573.0,209.7 574.6,208.1 576.2,206.5 577.8,204.8 579.4,203.2 581.0,201.4 582.6,199.6 584.2,197.9 585.8,196.2 587.4,194.6 589.0,193.3 590.6,192.1 592.2,191.1 593.8,190.3 595.4,189.6 597.0,188.9 598.6,188.3 600.2,187.8 601.8,187.3 603.4,186.8 605.0,186.5 606.6,186.3 608.2,186.3 609.8,186.3 611.4,186.4 613.0,186.4 614.6,186.2 616.2,185.7 617.8,185.0 619.4,184.0 621.0,182.8 622.6,181.4 624.2,179.9 625.8,178.5 627.4,177.1 629.0,175.9 630.6,174.9 632.2,173.9 633.8,173.1 635.4,172.2 637.0,171.4 638.6,170.5 640.2,169.6 641.8,168.6 643.4,167.5 645.0,166.3 646.6,165.0 648.2,163.7 649.8,162.4 651.4,161.2 653.0,160.1 654.6,159.1 656.2,158.3 657.8,157.4 659.4,156.6 661.0,155.8 662.6,155.1 664.2,154.4 665.8,153.9 667.4,153.5 669.0,153.1 670.6,152.7 672.2,152.2 673.8,151.5 675.4,150.7 677.0,149.9 678.6,149.1 680.2,148.4 681.8,147.8 683.4,147.3 685.0,147.1 686.6,147.1 688.2,147.4 689.8,147.9 691.4,148.6 693.0,149.3 694.6,150.1 696.2,150.8 697.8,151.4 699.4,151.8 701.0,152.1 702.6,152.4 704.2,152.6 705.8,152.7 707.4,152.8 709.0,152.9 710.6,153.0 712.2,153.2 713.8,153.4 715.4,153.8 717.0,154.2 718.6,154.6 720.2,154.8 721.8,154.8 723.4,154.5 725.0,154.0 726.6,153.2 728.2,152.5 729.8,151.8 731.4,151.5 733.0,151.5 734.6,151.8 736.2,152.5 737.8,153.2 739.4,154.0 741.0,154.6 742.6,154.9 744.2,154.9 745.8,154.6 747.4,154.1 749.0,153.6 750.6,153.2 752.2,152.9 753.8,152.9 755.4,153.1 757.0,153.6 758.6,154.3 760.2,155.2 761.8,156.1 763.4,157.1 765.0,158.0 766.6,158.8 768.2,159.6 769.8,160.2 771.4,160.8 773.0,161.3 774.6,161.9 776.2,162.5 777.8,163.4 779.4,164.3 781.0,165.4 782.6,166.7 784.2,168.0 785.8,169.4 787.4,170.9 789.0,172.4 790.6,174.0 792.2,175.6 793.8,177.4 795.4,179.1 797.0,180.9 798.6,182.7 800.2,184.4 801.8,186.2 803.4,188.0 805.0,189.8 806.6,191.6 808.2,193.5 809.8,195.3 811.4,197.0 813.0,198.5 814.6,199.9 816.2,201.2 817.8,202.3 819.4,203.5 821.0,204.8 822.6,206.4 824.2,208.2 825.8,210.4 827.4,212.9 829.0,215.6 830.6,218.5 832.2,221.5 833.8,224.5 835.4,227.5 837.0,230.5 838.6,233.5 840.2,236.5 841.8,239.5 843.4,242.7 845.0,246.0 846.6,249.4 848.2,252.8 849.8,256.2 851.4,259.3 853.0,262.2 854.6,264.9 856.2,267.3 857.8,269.7 859.4,272.1 861.0,274.8 862.6,277.7 864.2,280.9 865.8,284.5 867.4,288.4 869.0,292.5 870.6,296.9 872.2,301.5 873.8,306.2 875.4,311.0 877.0,315.9 878.6,320.8 880.2,325.6 881.8,330.4 883.4,335.1 885.0,339.8 886.6,344.4 888.2,349.0 889.8,353.6 891.4,358.2 893.0,362.7 894.6,367.3 896.2,371.8 897.8,376.3 899.4,380.9 901.0,385.5 902.6,390.3 904.2,395.1 905.8,400.1 907.4,405.1 909.0,410.1 910.6,415.1 912.2,420.0 913.8,425.0 915.4,429.8 917.0,434.7 918.6,439.6 920.6,444.4" fill="none" stroke="#4747ab" stroke-width="1.3" stroke-linejoin="round" />
<polyline points="128.2,444.7 129.8,446.7 131.4,448.8 133.0,450.9 134.6,453.0 136.2,455.1 137.8,457.1 139.4,459.0 141.0,461.1 142.6,463.2 144.2,465.4 145.8,467.8 147.4,470.3 149.0,473.0 150.6,475.8 152.2,478.6 153.8,481.5 155.4,484.4 157.0,487.3 158.6,490.0 160.2,492.6 161.8,495.0 163.4,497.1 165.0,499.0 166.6,500.7 168.2,502.4 169.8,504.1 171.4,505.9 173.0,507.7 174.6,509.6 176.2,511.4 177.8,513.0 179.4,514.6 181.0,515.9 182.6,517.2 184.2,518.5 185.8,519.8 187.4,521.2 189.0,522.7 190.6,524.1 192.2,525.6 193.8,526.9 195.4,528.1 197.0,529.1 198.6,529.9 200.2,530.5 201.8,530.9 203.4,531.1 205.0,531.2 206.6,531.2 208.2,531.1 209.8,531.0 211.4,531.0 213.0,531.0 214.6,531.1 216.2,531.3 217.8,531.5 219.4,531.8 221.0,532.3 222.6,532.9 224.2,533.6 225.8,534.5 227.4,535.5 229.0,536.5 230.6,537.4 232.2,538.2 233.8,538.8 235.4,539.2 237.0,539.4 238.6,539.4 240.2,539.2 241.8,538.8 243.4,538.3 245.0,537.9 246.6,537.4 248.2,536.9 249.8,536.5 251.4,536.1 253.0,535.7 254.6,535.2 256.2,534.6 257.8,534.0 259.4,533.3 261.0,532.7 262.6,532.1 264.2,531.5 265.8,531.0 267.4,530.5 269.0,530.1 270.6,529.6 272.2,529.2 273.8,528.6 275.4,528.0 277.0,527.2 278.6,526.3 280.2,525.1 281.8,523.6 283.4,521.8 285.0,519.9 286.6,518.0 288.2,516.2 289.8,514.5 291.4,513.1 293.0,511.9 294.6,510.8 296.2,509.6 297.8,508.3 299.4,506.8 301.0,505.3 302.6,503.7 304.2,502.1 305.8,500.7 307.4,499.3 309.0,497.9 310.6,496.6 312.2,495.1 313.8,493.6 315.4,492.0 317.0,490.3 318.6,488.6 320.2,486.9 321.8,485.0 323.4,483.1 325.0,481.0 326.6,478.8 328.2,476.5 329.8,474.2 331.4,471.9 333.0,469.7 334.6,467.7 336.2,465.7 337.8,463.9 339.4,462.1 341.0,460.3 342.6,458.6 344.2,456.7 345.8,454.8 347.4,452.8 349.0,450.5 350.6,448.1 352.2,445.5 353.8,442.7 355.4,439.8 357.0,436.9 358.6,434.1 360.2,431.3 361.8,428.6 363.4,426.0 365.0,423.4 366.6,420.9 368.2,418.4 369.8,415.9 371.4,413.7 373.0,411.6 374.6,409.7 376.2,407.9 377.8,406.3 379.4,404.7 381.0,403.1 382.6,401.6 384.2,400.0 385.8,398.3 387.4,396.7 389.0,394.9 390.6,393.2 392.2,391.3 393.8,389.5 395.4,387.6 397.0,385.5 398.6,383.3 400.2,380.9 401.8,378.2 403.4,375.3 405.0,372.2 406.6,369.1 408.2,366.0 409.8,363.0 411.4,360.1 413.0,357.4 414.6,355.0 416.2,353.0 417.8,351.2 419.4,349.6 421.0,348.2 422.6,346.8 424.2,345.3 425.8,343.5 427.4,341.4 429.0,339.0 430.6,336.3 432.2,333.5 433.8,330.6 435.4,327.8 437.0,325.1 438.6,322.6 440.2,320.2 441.8,318.1 443.4,316.0 445.0,314.1 446.6,312.2 448.2,310.4 449.8,308.7 451.4,306.9 453.0,305.1 454.6,303.1 456.2,301.0 457.8,298.7 459.4,296.2 461.0,293.6 462.6,291.1 464.2,288.7 465.8,286.6 467.4,284.8 469.0,283.3 470.6,282.1 472.2,281.0 473.8,279.9 475.4,278.6 477.0,277.1 478.6,275.3 480.2,273.2 481.8,270.9 483.4,268.5 485.0,266.1 486.6,263.7 488.2,261.5 489.8,259.3 491.4,257.3 493.0,255.4 494.6,253.7 496.2,252.0 497.8,250.4 499.4,248.8 501.0,247.2 502.6,245.6 504.2,244.0 505.8,242.3 507.4,240.6 509.0,238.8 510.6,237.1 512.2,235.3 513.8,233.6 515.4,232.0 517.0,230.3 518.6,228.7 520.2,227.0 521.8,225.3 523.4,223.5 525.0,221.7 526.6,220.0 528.2,218.3 529.8,216.7 531.4,215.2 533.0,214.0 534.6,212.9 536.2,212.0 537.8,211.3 539.4,210.7 541.0,210.1 542.6,209.6 544.2,209.0 545.8,208.5 547.4,207.8 549.0,207.2 550.6,206.4 552.2,205.6 553.8,204.6 555.4,203.7 557.0,202.6 558.6,201.5 560.2,200.3 561.8,199.0 563.4,197.6 565.0,196.1 566.6,194.5 568.2,192.9 569.8,191.3 571.4,189.9 573.0,188.8 574.6,187.9 576.2,187.3 577.8,186.8 579.4,186.4 581.0,185.9 582.6,185.3 584.2,184.5 585.8,183.7 587.4,182.7 589.0,181.6 590.6,180.5 592.2,179.3 593.8,177.9 595.4,176.5 597.0,175.0 598.6,173.5 600.2,171.9 601.8,170.4 603.4,169.1 605.0,167.9 606.6,166.7 608.2,165.6 609.8,164.6 611.4,163.5 613.0,162.6 614.6,161.7 616.2,161.0 617.8,160.4 619.4,159.8 621.0,159.3 622.6,158.7 624.2,158.0 625.8,157.3 627.4,156.5 629.0,155.8 630.6,155.2 632.2,154.8 633.8,154.6 635.4,154.4 637.0,154.2 638.6,153.9 640.2,153.4 641.8,152.8 643.4,152.1 645.0,151.3 646.6,150.6 648.2,149.8 649.8,148.9 651.4,148.0 653.0,147.0 654.6,145.9 656.2,144.8 657.8,143.7 659.4,142.7 661.0,141.9 662.6,141.2 664.2,140.6 665.8,140.2 667.4,139.7 669.0,139.1 670.6,138.5 672.2,137.7 673.8,136.9 675.4,136.0 677.0,135.1 678.6,134.4 680.2,133.9 681.8,133.5 683.4,133.2 685.0,133.0 686.6,132.6 688.2,132.2 689.8,131.6 691.4,131.0 693.0,130.5 694.6,130.2 696.2,130.2 697.8,130.4 699.4,131.0 701.0,131.7 702.6,132.7 704.2,133.7 705.8,134.8 707.4,135.8 709.0,136.7 710.6,137.6 712.2,138.4 713.8,139.1 715.4,139.7 717.0,140.3 718.6,140.8 720.2,141.2 721.8,141.7 723.4,142.2 725.0,142.6 726.6,142.9 728.2,143.1 729.8,143.0 731.4,142.8 733.0,142.4 734.6,141.9 736.2,141.6 737.8,141.4 739.4,141.6 741.0,142.3 742.6,143.4 744.2,144.8 745.8,146.5 747.4,148.3 749.0,150.0 750.6,151.5 752.2,152.8 753.8,153.9 755.4,154.9 757.0,155.6 758.6,156.2 760.2,156.7 761.8,156.9 763.4,157.0 765.0,157.0 766.6,156.9 768.2,156.9 769.8,157.0 771.4,157.3 773.0,157.6 774.6,158.0 776.2,158.5 777.8,159.0 779.4,159.6 781.0,160.3 782.6,161.1 784.2,162.1 785.8,163.2 787.4,164.3 789.0,165.6 790.6,166.8 792.2,168.1 793.8,169.3 795.4,170.5 797.0,171.9 798.6,173.4 800.2,175.1 801.8,176.9 803.4,178.9 805.0,181.0 806.6,183.0 808.2,184.8 809.8,186.5 811.4,188.0 813.0,189.3 814.6,190.5 816.2,191.8 817.8,193.2 819.4,194.8 821.0,196.6 822.6,198.6 824.2,200.7 825.8,202.8 827.4,204.9 829.0,207.1 830.6,209.4 832.2,211.7 833.8,214.1 835.4,216.7 837.0,219.3 838.6,222.0 840.2,224.7 841.8,227.5 843.4,230.3 845.0,233.2 846.6,236.3 848.2,239.7 849.8,243.2 851.4,246.9 853.0,250.8 854.6,254.6 856.2,258.2 857.8,261.6 859.4,264.9 861.0,267.9 862.6,270.8 864.2,273.7 865.8,276.5 867.4,279.2 869.0,281.9 870.6,284.6 872.2,287.3 873.8,290.0 875.4,292.7 877.0,295.6 878.6,298.4 880.2,301.4 881.8,304.5 883.4,307.7 885.0,310.9 886.6,314.3 888.2,317.8 889.8,321.4 891.4,325.1 893.0,328.9 894.6,333.0 896.2,337.1 897.8,341.4 899.4,345.9 901.0,350.3 902.6,354.7 904.2,359.1 905.8,363.4 907.4,367.7 909.0,372.0 910.6,376.3 912.2,380.7 913.8,385.4 915.4,390.3 917.0,395.5 918.6,401.1 920.6,406.8" fill="none" stroke="#464cb4" stroke-width="1.3" stroke-linejoin="round" />
<polyline points="128.2,435.0 129.8,437.5 131.4,440.0 133.0,442.2 134.6,444.3 136.2,446.2 137.8,448.0 139.4,449.8 141.0,451.6 142.6,453.5 144.2,455.5 145.8,457.7 147.4,459.9 149.0,462.3 150.6,464.8 152.2,467.3 153.8,470.0 155.4,472.7 157.0,475.4 158.6,478.1 160.2,480.7 161.8,483.3 163.4,485.6 165.0,487.6 166.6,489.4 168.2,490.9 169.8,492.1 171.4,493.1 173.0,493.9 174.6,494.7 176.2,495.4 177.8,496.2 179.4,497.0 181.0,497.8 182.6,498.7 184.2,499.6 185.8,500.6 187.4,501.6 189.0,502.7 190.6,504.0 192.2,505.3 193.8,506.7 195.4,508.2 197.0,509.7 198.6,511.0 200.2,512.3 201.8,513.4 203.4,514.5 205.0,515.4 206.6,516.3 208.2,517.2 209.8,518.0 211.4,518.8 213.0,519.5 214.6,520.1 216.2,520.7 217.8,521.1 219.4,521.6 221.0,521.9 222.6,522.2 224.2,522.4 225.8,522.5 227.4,522.5 229.0,522.3 230.6,522.1 232.2,521.9 233.8,521.7 235.4,521.6 237.0,521.5 238.6,521.6 240.2,521.8 241.8,522.2 243.4,522.8 245.0,523.4 246.6,524.2 248.2,524.9 249.8,525.7 251.4,526.5 253.0,527.1 254.6,527.5 256.2,527.8 257.8,527.8 259.4,527.5 261.0,527.0 262.6,526.3 264.2,525.4 265.8,524.4 267.4,523.4 269.0,522.3 270.6,521.2 272.2,520.1 273.8,519.1 275.4,518.1 277.0,517.2 278.6,516.3 280.2,515.5 281.8,514.8 283.4,514.1 285.0,513.4 286.6,512.7 288.2,511.9 289.8,511.0 291.4,510.0 293.0,508.9 294.6,507.5 296.2,506.1 297.8,504.5 299.4,502.7 301.0,500.9 302.6,498.9 304.2,496.9 305.8,494.9 307.4,492.9 309.0,490.9 310.6,488.9 312.2,487.0 313.8,485.2 315.4,483.5 317.0,482.0 318.6,480.5 320.2,479.2 321.8,478.1 323.4,477.0 325.0,476.0 326.6,475.0 328.2,474.0 329.8,472.8 331.4,471.6 333.0,470.2 334.6,468.7 336.2,467.1 337.8,465.5 339.4,463.7 341.0,461.8 342.6,459.8 344.2,457.7 345.8,455.5 347.4,453.2 349.0,450.9 350.6,448.7 352.2,446.6 353.8,444.6 355.4,442.7 357.0,441.0 358.6,439.4 360.2,437.7 361.8,436.1 363.4,434.3 365.0,432.4 366.6,430.3 368.2,428.1 369.8,425.7 371.4,423.2 373.0,420.7 374.6,418.0 376.2,415.3 377.8,412.7 379.4,410.3 381.0,408.0 382.6,406.0 384.2,404.3 385.8,402.9 387.4,401.6 389.0,400.5 390.6,399.5 392.2,398.5 393.8,397.5 395.4,396.5 397.0,395.3 398.6,393.8 400.2,392.2 401.8,390.2 403.4,388.0 405.0,385.7 406.6,383.2 408.2,380.8 409.8,378.3 411.4,376.0 413.0,373.9 414.6,372.0 416.2,370.2 417.8,368.4 419.4,366.6 421.0,364.8 422.6,362.7 424.2,360.5 425.8,358.1 427.4,355.5 429.0,352.8 430.6,350.1 432.2,347.3 433.8,344.5 435.4,341.7 437.0,339.0 438.6,336.5 440.2,334.1 441.8,331.9 443.4,329.8 445.0,328.0 446.6,326.1 448.2,324.4 449.8,322.6 451.4,320.7 453.0,318.8 454.6,317.0 456.2,315.2 457.8,313.5 459.4,312.0 461.0,310.7 462.6,309.6 464.2,308.6 465.8,307.8 467.4,307.1 469.0,306.6 470.6,306.1 472.2,305.6 473.8,305.1 475.4,304.5 477.0,303.9 478.6,303.3 480.2,302.6 481.8,301.9 483.4,301.2 485.0,300.4 486.6,299.6 488.2,298.6 489.8,297.4 491.4,295.9 493.0,294.0 494.6,291.9 496.2,289.5 497.8,286.9 499.4,284.3 501.0,281.8 502.6,279.5 504.2,277.5 505.8,275.7 507.4,274.2 509.0,272.8 510.6,271.5 512.2,270.2 513.8,268.9 515.4,267.4 517.0,265.8 518.6,264.1 520.2,262.3 521.8,260.4 523.4,258.5 525.0,256.8 526.6,255.3 528.2,253.9 529.8,252.8 531.4,251.6 533.0,250.5 534.6,249.2 536.2,247.7 537.8,245.9 539.4,243.9 541.0,241.8 542.6,239.6 544.2,237.4 545.8,235.3 547.4,233.3 549.0,231.4 550.6,229.5 552.2,227.8 553.8,226.0 555.4,224.3 557.0,222.6 558.6,221.0 560.2,219.5 561.8,218.0 563.4,216.6 565.0,215.3 566.6,214.1 568.2,212.8 569.8,211.5 571.4,210.1 573.0,208.5 574.6,206.7 576.2,204.7 577.8,202.5 579.4,200.3 581.0,198.0 582.6,195.7 584.2,193.6 585.8,191.6 587.4,189.7 589.0,188.0 590.6,186.5 592.2,185.2 593.8,184.0 595.4,183.0 597.0,182.2 598.6,181.5 600.2,180.7 601.8,180.0 603.4,179.1 605.0,178.0 606.6,176.8 608.2,175.5 609.8,174.0 611.4,172.5 613.0,171.1 614.6,169.7 616.2,168.3 617.8,167.1 619.4,165.9 621.0,164.7 622.6,163.7 624.2,162.6 625.8,161.7 627.4,160.7 629.0,159.8 630.6,158.9 632.2,158.1 633.8,157.3 635.4,156.7 637.0,156.2 638.6,155.9 640.2,155.7 641.8,155.4 643.4,155.1 645.0,154.5 646.6,153.8 648.2,152.9 649.8,152.0 651.4,151.2 653.0,150.5 654.6,150.0 656.2,149.7 657.8,149.4 659.4,149.2 661.0,148.9 662.6,148.5 664.2,148.1 665.8,147.8 667.4,147.6 669.0,147.7 670.6,148.0 672.2,148.5 673.8,149.0 675.4,149.4 677.0,149.6 678.6,149.6 680.2,149.2 681.8,148.6 683.4,147.8 685.0,147.0 686.6,146.1 688.2,145.3 689.8,144.5 691.4,143.8 693.0,143.0 694.6,142.2 696.2,141.5 697.8,140.8 699.4,140.4 701.0,140.1 702.6,139.9 704.2,139.9 705.8,140.0 707.4,140.0 709.0,140.0 710.6,140.0 712.2,139.9 713.8,139.8 715.4,139.8 717.0,139.9 718.6,140.0 720.2,140.1 721.8,140.2 723.4,140.2 725.0,140.2 726.6,139.9 728.2,139.5 729.8,138.9 731.4,138.1 733.0,137.3 734.6,136.6 736.2,136.0 737.8,135.7 739.4,135.7 741.0,135.9 742.6,136.5 744.2,137.2 745.8,138.0 747.4,138.8 749.0,139.6 750.6,140.3 752.2,140.9 753.8,141.4 755.4,141.9 757.0,142.6 758.6,143.3 760.2,144.2 761.8,145.1 763.4,146.0 765.0,146.6 766.6,147.1 768.2,147.3 769.8,147.4 771.4,147.6 773.0,147.9 774.6,148.5 776.2,149.5 777.8,150.8 779.4,152.3 781.0,153.9 782.6,155.5 784.2,157.1 785.8,158.5 787.4,159.8 789.0,161.0 790.6,162.0 792.2,163.0 793.8,164.0 795.4,165.1 797.0,166.2 798.6,167.5 800.2,168.8 801.8,170.4 803.4,172.0 805.0,173.7 806.6,175.6 808.2,177.5 809.8,179.5 811.4,181.5 813.0,183.6 814.6,185.6 816.2,187.4 817.8,189.2 819.4,190.9 821.0,192.4 822.6,194.0 824.2,195.6 825.8,197.3 827.4,199.1 829.0,201.2 830.6,203.5 832.2,206.0 833.8,208.8 835.4,211.8 837.0,215.1 838.6,218.4 840.2,221.8 841.8,225.2 843.4,228.5 845.0,231.7 846.6,234.7 848.2,237.7 849.8,240.6 851.4,243.4 853.0,246.4 854.6,249.4 856.2,252.5 857.8,255.8 859.4,259.1 861.0,262.5 862.6,265.9 864.2,269.3 865.8,272.6 867.4,276.0 869.0,279.3 870.6,282.7 872.2,286.1 873.8,289.6 875.4,293.1 877.0,296.7 878.6,300.3 880.2,304.1 881.8,308.1 883.4,312.4 885.0,317.2 886.6,322.3 888.2,327.7 889.8,333.4 891.4,339.0 893.0,344.6 894.6,349.9 896.2,355.1 897.8,360.0 899.4,364.8 901.0,369.6 902.6,374.3 904.2,379.0 905.8,383.7 907.4,388.2 909.0,392.6 910.6,396.9 912.2,401.0 913.8,405.0 915.4,408.9 917.0,412.9 918.6,416.9 920.6,421.1" fill="none" stroke="#4650bd" stroke-width="1.3" stroke-linejoin="round" />
<polyline points="128.2,456.7 129.8,458.7 131.4,460.8 133.0,462.9 134.6,465.1 136.2,467.5 137.8,470.1 139.4,472.8 141.0,475.6 142.6,478.4 144.2,481.2 145.8,484.0 147.4,486.6 149.0,489.1 150.6,491.5 152.2,493.7 153.8,495.9 155.4,498.0 157.0,500.0 158.6,502.0 160.2,503.9 161.8,505.7 163.4,507.5 165.0,509.2 166.6,511.0 168.2,512.7 169.8,514.4 171.4,515.9 173.0,517.2 174.6,518.3 176.2,519.3 177.8,520.0 179.4,520.5 181.0,520.9 182.6,521.2 184.2,521.5 185.8,521.8 187.4,522.2 189.0,522.7 190.6,523.3 192.2,524.1 193.8,525.1 195.4,526.2 197.0,527.4 198.6,528.6 200.2,529.7 201.8,530.7 203.4,531.6 205.0,532.4 206.6,533.0 208.2,533.5 209.8,533.9 211.4,534.1 213.0,534.3 214.6,534.4 216.2,534.5 217.8,534.7 219.4,535.0 221.0,535.3 222.6,535.8 224.2,536.3 225.8,537.1 227.4,537.9 229.0,538.9 230.6,540.0 232.2,541.1 233.8,542.2 235.4,543.1 237.0,543.7 238.6,544.2 240.2,544.5 241.8,544.6 243.4,544.6 245.0,544.6 246.6,544.5 248.2,544.3 249.8,543.9 251.4,543.5 253.0,542.9 254.6,542.3 256.2,541.8 257.8,541.5 259.4,541.3 261.0,541.4 262.6,541.7 264.2,542.1 265.8,542.4 267.4,542.5 269.0,542.3 270.6,541.9 272.2,541.1 273.8,540.2 275.4,539.0 277.0,537.7 278.6,536.4 280.2,535.1 281.8,533.8 283.4,532.6 285.0,531.4 286.6,530.2 288.2,529.0 289.8,527.7 291.4,526.3 293.0,524.8 294.6,523.3 296.2,521.6 297.8,519.9 299.4,518.1 301.0,516.3 302.6,514.3 304.2,512.3 305.8,510.3 307.4,508.3 309.0,506.4 310.6,504.5 312.2,502.7 313.8,501.1 315.4,499.7 317.0,498.5 318.6,497.5 320.2,496.7 321.8,495.8 323.4,494.8 325.0,493.6 326.6,492.0 328.2,490.2 329.8,488.0 331.4,485.5 333.0,483.0 334.6,480.3 336.2,477.8 337.8,475.3 339.4,473.0 341.0,470.8 342.6,468.8 344.2,466.8 345.8,464.8 347.4,462.7 349.0,460.4 350.6,458.0 352.2,455.5 353.8,452.7 355.4,449.8 357.0,446.8 358.6,443.7 360.2,440.6 361.8,437.5 363.4,434.5 365.0,431.6 366.6,428.8 368.2,426.2 369.8,423.7 371.4,421.5 373.0,419.4 374.6,417.4 376.2,415.6 377.8,413.9 379.4,412.2 381.0,410.6 382.6,409.0 384.2,407.5 385.8,406.0 387.4,404.5 389.0,403.0 390.6,401.5 392.2,399.9 393.8,398.1 395.4,396.2 397.0,394.2 398.6,391.8 400.2,389.3 401.8,386.7 403.4,383.9 405.0,381.1 406.6,378.4 408.2,375.8 409.8,373.3 411.4,371.0 413.0,368.8 414.6,366.6 416.2,364.4 417.8,362.2 419.4,359.9 421.0,357.3 422.6,354.6 424.2,351.7 425.8,348.7 427.4,345.6 429.0,342.6 430.6,339.5 432.2,336.5 433.8,333.7 435.4,331.0 437.0,328.4 438.6,325.9 440.2,323.6 441.8,321.5 443.4,319.5 445.0,317.6 446.6,315.8 448.2,314.2 449.8,312.6 451.4,311.1 453.0,309.7 454.6,308.3 456.2,307.0 457.8,305.8 459.4,304.6 461.0,303.4 462.6,302.2 464.2,300.9 465.8,299.3 467.4,297.5 469.0,295.4 470.6,292.9 472.2,290.2 473.8,287.2 475.4,284.2 477.0,281.3 478.6,278.7 480.2,276.3 481.8,274.3 483.4,272.7 485.0,271.2 486.6,269.9 488.2,268.7 489.8,267.3 491.4,265.9 493.0,264.4 494.6,262.8 496.2,261.1 497.8,259.5 499.4,258.0 501.0,256.6 502.6,255.3 504.2,254.1 505.8,253.0 507.4,251.9 509.0,250.7 510.6,249.4 512.2,248.0 513.8,246.4 515.4,244.7 517.0,242.9 518.6,241.1 520.2,239.3 521.8,237.6 523.4,236.1 525.0,234.6 526.6,233.3 528.2,232.0 529.8,230.8 531.4,229.5 533.0,228.2 534.6,227.0 536.2,225.8 537.8,224.7 539.4,223.7 541.0,222.8 542.6,221.9 544.2,221.1 545.8,220.3 547.4,219.4 549.0,218.5 550.6,217.5 552.2,216.4 553.8,215.2 555.4,213.9 557.0,212.5 558.6,210.9 560.2,209.2 561.8,207.5 563.4,205.8 565.0,204.2 566.6,202.8 568.2,201.6 569.8,200.5 571.4,199.5 573.0,198.6 574.6,197.7 576.2,196.7 577.8,195.7 579.4,194.5 581.0,193.2 582.6,191.7 584.2,190.1 585.8,188.5 587.4,186.8 589.0,185.3 590.6,183.8 592.2,182.6 593.8,181.4 595.4,180.3 597.0,179.3 598.6,178.2 600.2,177.2 601.8,176.1 603.4,175.0 605.0,173.9 606.6,173.0 608.2,172.1 609.8,171.3 611.4,170.5 613.0,169.7 614.6,168.9 616.2,167.9 617.8,166.8 619.4,165.6 621.0,164.3 622.6,162.8 624.2,161.2 625.8,159.4 627.4,157.6 629.0,155.7 630.6,154.0 632.2,152.3 633.8,150.9 635.4,149.8 637.0,148.9 638.6,148.2 640.2,147.7 641.8,147.3 643.4,146.9 645.0,146.4 646.6,145.8 648.2,145.1 649.8,144.2 651.4,143.1 653.0,141.9 654.6,140.6 656.2,139.4 657.8,138.3 659.4,137.4 661.0,136.6 662.6,136.0 664.2,135.5 665.8,135.0 667.4,134.5 669.0,134.1 670.6,133.7 672.2,133.5 673.8,133.7 675.4,134.1 677.0,134.9 678.6,135.9 680.2,137.0 681.8,138.0 683.4,138.8 685.0,139.3 686.6,139.3 688.2,139.1 689.8,138.5 691.4,137.9 693.0,137.2 694.6,136.6 696.2,136.1 697.8,135.7 699.4,135.4 701.0,135.1 702.6,134.8 704.2,134.5 705.8,134.2 707.4,133.8 709.0,133.5 710.6,133.2 712.2,133.1 713.8,133.1 715.4,133.4 717.0,133.9 718.6,134.5 720.2,135.3 721.8,136.1 723.4,136.9 725.0,137.5 726.6,138.1 728.2,138.6 729.8,139.0 731.4,139.3 733.0,139.5 734.6,139.6 736.2,139.6 737.8,139.6 739.4,139.7 741.0,139.9 742.6,140.2 744.2,140.6 745.8,141.0 747.4,141.3 749.0,141.5 750.6,141.6 752.2,141.4 753.8,141.2 755.4,141.0 757.0,141.0 758.6,141.3 760.2,141.9 761.8,142.9 763.4,144.3 765.0,145.9 766.6,147.6 768.2,149.2 769.8,150.7 771.4,152.0 773.0,153.1 774.6,153.9 776.2,154.7 777.8,155.6 779.4,156.5 781.0,157.6 782.6,158.8 784.2,160.3 785.8,162.0 787.4,163.9 789.0,165.8 790.6,167.7 792.2,169.5 793.8,171.1 795.4,172.5 797.0,173.7 798.6,174.8 800.2,175.8 801.8,177.0 803.4,178.4 805.0,180.1 806.6,182.2 808.2,184.4 809.8,186.7 811.4,189.1 813.0,191.4 814.6,193.6 816.2,195.8 817.8,198.1 819.4,200.4 821.0,202.7 822.6,204.9 824.2,207.0 825.8,208.8 827.4,210.5 829.0,212.0 830.6,213.6 832.2,215.3 833.8,217.0 835.4,219.0 837.0,221.0 838.6,223.2 840.2,225.6 841.8,228.2 843.4,231.0 845.0,234.1 846.6,237.5 848.2,241.3 849.8,245.2 851.4,249.3 853.0,253.4 854.6,257.4 856.2,261.2 857.8,264.7 859.4,268.0 861.0,271.0 862.6,273.9 864.2,276.8 865.8,279.6 867.4,282.5 869.0,285.5 870.6,288.6 872.2,291.9 873.8,295.3 875.4,298.8 877.0,302.5 878.6,306.3 880.2,310.3 881.8,314.5 883.4,318.8 885.0,323.2 886.6,327.7 888.2,332.3 889.8,336.9 891.4,341.5 893.0,346.2 894.6,351.0 896.2,355.7 897.8,360.5 899.4,365.2 901.0,369.9 902.6,374.5 904.2,379.0 905.8,383.6 907.4,388.1 909.0,392.7 910.6,397.4 912.2,402.0 913.8,406.7 915.4,411.5 917.0,416.2 918.6,421.0 920.6,425.9" fill="none" stroke="#4555c7" stroke-width="1.3" stroke-linejoin="round" />
<polyline points="128.2,455.3 129.8,457.1 131.4,459.0 133.0,461.0 134.6,463.2 136.2,465.5 137.8,467.9 139.4,470.5 141.0,473.2 142.6,475.9 144.2,478.6 145.8,481.3 147.4,483.7 149.0,486.0 150.6,488.2 152.2,490.1 153.8,491.9 155.4,493.5 157.0,495.0 158.6,496.4 160.2,497.7 161.8,498.9 163.4,500.1 165.0,501.3 166.6,502.6 168.2,503.9 169.8,505.2 171.4,506.6 173.0,508.0 174.6,509.3 176.2,510.6 177.8,511.9 179.4,513.2 181.0,514.5 182.6,515.8 184.2,517.2 185.8,518.7 187.4,520.2 189.0,521.7 190.6,523.1 192.2,524.5 193.8,525.7 195.4,526.8 197.0,527.8 198.6,528.8 200.2,529.7 201.8,530.7 203.4,531.7 205.0,532.7 206.6,533.8 208.2,534.7 209.8,535.6 211.4,536.3 213.0,536.9 214.6,537.2 216.2,537.5 217.8,537.6 219.4,537.5 221.0,537.4 222.6,537.3 224.2,537.1 225.8,536.9 227.4,536.6 229.0,536.5 230.6,536.4 232.2,536.4 233.8,536.6 235.4,536.9 237.0,537.3 238.6,537.7 240.2,538.1 241.8,538.5 243.4,538.8 245.0,538.9 246.6,539.0 248.2,539.0 249.8,538.9 251.4,538.8 253.0,538.7 254.6,538.5 256.2,538.3 257.8,537.8 259.4,537.2 261.0,536.4 262.6,535.4 264.2,534.4 265.8,533.5 267.4,532.7 269.0,532.0 270.6,531.5 272.2,531.1 273.8,530.7 275.4,530.3 277.0,529.7 278.6,529.0 280.2,528.0 281.8,526.9 283.4,525.5 285.0,524.1 286.6,522.6 288.2,521.2 289.8,519.8 291.4,518.5 293.0,517.2 294.6,515.9 296.2,514.6 297.8,513.2 299.4,511.7 301.0,510.3 302.6,508.8 304.2,507.3 305.8,505.9 307.4,504.4 309.0,502.8 310.6,501.3 312.2,499.6 313.8,498.0 315.4,496.3 317.0,494.8 318.6,493.4 320.2,492.3 321.8,491.4 323.4,490.8 325.0,490.3 326.6,489.8 328.2,489.3 329.8,488.5 331.4,487.5 333.0,486.3 334.6,484.8 336.2,483.3 337.8,481.8 339.4,480.3 341.0,478.9 342.6,477.4 344.2,475.8 345.8,474.1 347.4,472.2 349.0,470.1 350.6,467.7 352.2,465.3 353.8,462.7 355.4,460.0 357.0,457.5 358.6,455.0 360.2,452.8 361.8,450.8 363.4,448.8 365.0,447.0 366.6,445.1 368.2,443.2 369.8,441.3 371.4,439.4 373.0,437.5 374.6,435.7 376.2,433.8 377.8,431.8 379.4,429.8 381.0,427.7 382.6,425.6 384.2,423.4 385.8,421.4 387.4,419.4 389.0,417.6 390.6,415.9 392.2,414.4 393.8,412.8 395.4,411.2 397.0,409.5 398.6,407.7 400.2,405.7 401.8,403.6 403.4,401.4 405.0,399.2 406.6,397.0 408.2,394.8 409.8,392.7 411.4,390.6 413.0,388.5 414.6,386.4 416.2,384.2 417.8,382.1 419.4,379.9 421.0,377.8 422.6,375.8 424.2,373.8 425.8,371.9 427.4,370.0 429.0,368.2 430.6,366.4 432.2,364.6 433.8,362.9 435.4,361.2 437.0,359.7 438.6,358.2 440.2,356.9 441.8,355.7 443.4,354.5 445.0,353.1 446.6,351.6 448.2,350.0 449.8,348.2 451.4,346.3 453.0,344.3 454.6,342.3 456.2,340.3 457.8,338.3 459.4,336.4 461.0,334.5 462.6,332.5 464.2,330.6 465.8,328.5 467.4,326.4 469.0,324.3 470.6,322.2 472.2,320.1 473.8,318.0 475.4,316.1 477.0,314.1 478.6,312.3 480.2,310.6 481.8,309.0 483.4,307.5 485.0,306.0 486.6,304.4 488.2,302.6 489.8,300.5 491.4,298.2 493.0,295.7 494.6,293.2 496.2,290.6 497.8,288.3 499.4,286.1 501.0,284.0 502.6,282.2 504.2,280.3 505.8,278.6 507.4,276.8 509.0,274.9 510.6,273.0 512.2,271.1 513.8,269.1 515.4,267.1 517.0,265.0 518.6,263.0 520.2,261.1 521.8,259.4 523.4,257.8 525.0,256.2 526.6,254.7 528.2,253.1 529.8,251.4 531.4,249.6 533.0,247.7 534.6,245.7 536.2,243.7 537.8,241.7 539.4,239.8 541.0,238.0 542.6,236.3 544.2,234.7 545.8,233.1 547.4,231.6 549.0,230.0 550.6,228.5 552.2,227.0 553.8,225.5 555.4,224.0 557.0,222.6 558.6,221.2 560.2,219.9 561.8,218.6 563.4,217.3 565.0,216.1 566.6,214.7 568.2,213.3 569.8,211.7 571.4,210.0 573.0,208.3 574.6,206.7 576.2,205.1 577.8,203.8 579.4,202.6 581.0,201.6 582.6,200.8 584.2,200.0 585.8,199.4 587.4,198.9 589.0,198.5 590.6,198.0 592.2,197.4 593.8,196.5 595.4,195.3 597.0,193.7 598.6,191.6 600.2,189.2 601.8,186.6 603.4,183.9 605.0,181.4 606.6,179.0 608.2,177.1 609.8,175.7 611.4,174.8 613.0,174.5 614.6,174.6 616.2,175.1 617.8,175.9 619.4,176.7 621.0,177.5 622.6,177.9 624.2,177.8 625.8,177.2 627.4,176.1 629.0,174.4 630.6,172.5 632.2,170.5 633.8,168.7 635.4,167.2 637.0,166.1 638.6,165.5 640.2,165.1 641.8,165.0 643.4,165.1 645.0,165.2 646.6,165.3 648.2,165.2 649.8,165.0 651.4,164.5 653.0,163.8 654.6,163.0 656.2,162.1 657.8,161.2 659.4,160.4 661.0,159.9 662.6,159.5 664.2,159.4 665.8,159.4 667.4,159.5 669.0,159.5 670.6,159.3 672.2,159.0 673.8,158.5 675.4,157.9 677.0,157.1 678.6,156.3 680.2,155.5 681.8,154.8 683.4,154.2 685.0,153.8 686.6,153.5 688.2,153.4 689.8,153.6 691.4,154.0 693.0,154.7 694.6,155.8 696.2,157.1 697.8,158.6 699.4,160.1 701.0,161.5 702.6,162.6 704.2,163.4 705.8,163.7 707.4,163.6 709.0,163.1 710.6,162.6 712.2,162.0 713.8,161.5 715.4,161.2 717.0,161.2 718.6,161.4 720.2,161.8 721.8,162.3 723.4,162.8 725.0,163.2 726.6,163.6 728.2,163.7 729.8,163.8 731.4,163.6 733.0,163.4 734.6,163.2 736.2,163.0 737.8,162.8 739.4,162.6 741.0,162.4 742.6,162.1 744.2,161.9 745.8,161.6 747.4,161.4 749.0,161.3 750.6,161.4 752.2,161.7 753.8,162.1 755.4,162.6 757.0,163.0 758.6,163.4 760.2,163.7 761.8,164.0 763.4,164.4 765.0,165.0 766.6,165.8 768.2,166.8 769.8,168.0 771.4,169.4 773.0,170.8 774.6,172.2 776.2,173.6 777.8,175.0 779.4,176.5 781.0,177.9 782.6,179.1 784.2,180.3 785.8,181.3 787.4,182.1 789.0,183.0 790.6,183.9 792.2,185.0 793.8,186.2 795.4,187.7 797.0,189.5 798.6,191.4 800.2,193.3 801.8,195.2 803.4,197.0 805.0,198.6 806.6,200.1 808.2,201.5 809.8,202.9 811.4,204.3 813.0,205.8 814.6,207.4 816.2,209.1 817.8,210.9 819.4,212.9 821.0,215.0 822.6,217.2 824.2,219.4 825.8,221.4 827.4,223.4 829.0,225.3 830.6,227.1 832.2,229.0 833.8,231.0 835.4,233.2 837.0,235.6 838.6,238.2 840.2,240.9 841.8,243.8 843.4,246.6 845.0,249.5 846.6,252.4 848.2,255.3 849.8,258.3 851.4,261.2 853.0,264.3 854.6,267.4 856.2,270.5 857.8,273.7 859.4,276.9 861.0,280.1 862.6,283.5 864.2,286.9 865.8,290.4 867.4,294.0 869.0,297.8 870.6,301.7 872.2,305.8 873.8,310.1 875.4,314.6 877.0,319.3 878.6,324.2 880.2,329.2 881.8,334.2 883.4,339.2 885.0,344.0 886.6,348.6 888.2,353.0 889.8,357.1 891.4,361.1 893.0,365.0 894.6,368.9 896.2,373.0 897.8,377.4 899.4,381.9 901.0,386.7 902.6,391.6 904.2,396.5 905.8,401.4 907.4,406.1 909.0,410.7 910.6,415.0 912.2,419.2 913.8,423.1 915.4,427.0 917.0,430.9 918.6,434.9 920.6,439.0" fill="none" stroke="#445ad0" stroke-width="1.3" stroke-linejoin="round" />
<polyline points="128.2,409.1 129.8,411.7 131.4,414.3 133.0,417.0 134.6,419.6 136.2,422.1 137.8,424.6 139.4,427.0 141.0,429.3 142.6,431.6 144.2,434.1 145.8,436.6 147.4,439.3 149.0,442.3 150.6,445.3 152.2,448.6 153.8,451.8 155.4,454.9 157.0,457.9 158.6,460.7 160.2,463.4 161.8,465.9 163.4,468.5 165.0,471.0 166.6,473.6 168.2,476.2 169.8,478.6 171.4,481.0 173.0,483.2 174.6,485.3 176.2,487.3 177.8,489.3 179.4,491.2 181.0,493.3 182.6,495.4 184.2,497.7 185.8,500.1 187.4,502.6 189.0,505.2 190.6,507.9 192.2,510.5 193.8,513.0 195.4,515.4 197.0,517.4 198.6,519.2 200.2,520.6 201.8,521.7 203.4,522.5 205.0,523.1 206.6,523.6 208.2,524.1 209.8,524.5 211.4,524.9 213.0,525.3 214.6,525.8 216.2,526.3 217.8,526.9 219.4,527.8 221.0,528.9 222.6,530.4 224.2,532.2 225.8,534.1 227.4,535.9 229.0,537.5 230.6,538.7 232.2,539.6 233.8,540.2 235.4,540.6 237.0,540.8 238.6,541.0 240.2,541.2 241.8,541.3 243.4,541.3 245.0,541.3 246.6,541.1 248.2,541.0 249.8,540.7 251.4,540.5 253.0,540.2 254.6,539.8 256.2,539.3 257.8,538.6 259.4,537.8 261.0,536.9 262.6,535.9 264.2,535.0 265.8,534.0 267.4,533.1 269.0,532.2 270.6,531.2 272.2,530.2 273.8,529.1 275.4,527.8 277.0,526.4 278.6,524.8 280.2,523.0 281.8,521.2 283.4,519.3 285.0,517.6 286.6,516.0 288.2,514.5 289.8,513.1 291.4,511.8 293.0,510.4 294.6,508.9 296.2,507.2 297.8,505.4 299.4,503.6 301.0,501.8 302.6,500.0 304.2,498.4 305.8,496.8 307.4,495.2 309.0,493.5 310.6,491.8 312.2,489.9 313.8,487.8 315.4,485.8 317.0,483.7 318.6,481.9 320.2,480.2 321.8,478.8 323.4,477.7 325.0,476.7 326.6,475.8 328.2,474.9 329.8,474.0 331.4,473.0 333.0,471.9 334.6,470.5 336.2,468.9 337.8,467.0 339.4,464.9 341.0,462.6 342.6,460.1 344.2,457.7 345.8,455.3 347.4,453.0 349.0,450.8 350.6,448.6 352.2,446.5 353.8,444.5 355.4,442.5 357.0,440.6 358.6,438.8 360.2,436.9 361.8,435.0 363.4,432.9 365.0,430.5 366.6,428.0 368.2,425.3 369.8,422.3 371.4,419.3 373.0,416.2 374.6,413.2 376.2,410.3 377.8,407.5 379.4,405.0 381.0,402.8 382.6,400.8 384.2,399.1 385.8,397.4 387.4,395.8 389.0,394.1 390.6,392.2 392.2,390.2 393.8,388.2 395.4,386.0 397.0,383.9 398.6,381.9 400.2,379.9 401.8,378.0 403.4,376.2 405.0,374.4 406.6,372.6 408.2,370.7 409.8,368.8 411.4,366.9 413.0,364.8 414.6,362.6 416.2,360.2 417.8,357.5 419.4,354.6 421.0,351.6 422.6,348.5 424.2,345.3 425.8,342.2 427.4,339.2 429.0,336.4 430.6,333.7 432.2,331.3 433.8,329.0 435.4,326.9 437.0,324.8 438.6,322.9 440.2,321.1 441.8,319.4 443.4,317.8 445.0,316.3 446.6,314.7 448.2,313.1 449.8,311.4 451.4,309.5 453.0,307.4 454.6,305.3 456.2,303.1 457.8,300.9 459.4,298.8 461.0,296.9 462.6,295.2 464.2,293.7 465.8,292.4 467.4,291.3 469.0,290.3 470.6,289.4 472.2,288.5 473.8,287.5 475.4,286.4 477.0,285.2 478.6,283.9 480.2,282.7 481.8,281.5 483.4,280.4 485.0,279.5 486.6,278.6 488.2,277.9 489.8,277.2 491.4,276.3 493.0,275.3 494.6,274.1 496.2,272.6 497.8,270.9 499.4,269.0 501.0,266.9 502.6,264.5 504.2,262.0 505.8,259.4 507.4,256.7 509.0,253.9 510.6,251.2 512.2,248.5 513.8,245.9 515.4,243.4 517.0,241.1 518.6,239.1 520.2,237.3 521.8,235.9 523.4,234.6 525.0,233.5 526.6,232.3 528.2,231.0 529.8,229.5 531.4,227.8 533.0,225.9 534.6,223.8 536.2,221.5 537.8,219.2 539.4,216.7 541.0,214.2 542.6,211.7 544.2,209.3 545.8,207.1 547.4,205.1 549.0,203.5 550.6,202.1 552.2,201.0 553.8,200.0 555.4,199.1 557.0,198.1 558.6,197.1 560.2,196.0 561.8,194.7 563.4,193.4 565.0,192.1 566.6,190.8 568.2,189.7 569.8,188.7 571.4,187.8 573.0,187.0 574.6,186.1 576.2,185.0 577.8,183.8 579.4,182.3 581.0,180.6 582.6,178.8 584.2,177.0 585.8,175.3 587.4,173.5 589.0,171.8 590.6,170.0 592.2,168.1 593.8,166.2 595.4,164.4 597.0,163.0 598.6,162.0 600.2,161.5 601.8,161.3 603.4,161.5 605.0,161.6 606.6,161.6 608.2,161.2 609.8,160.6 611.4,159.5 613.0,158.2 614.6,156.6 616.2,155.0 617.8,153.3 619.4,151.7 621.0,150.2 622.6,149.0 624.2,147.9 625.8,146.9 627.4,146.1 629.0,145.2 630.6,144.3 632.2,143.2 633.8,142.1 635.4,141.1 637.0,140.1 638.6,139.4 640.2,138.9 641.8,138.6 643.4,138.5 645.0,138.5 646.6,138.5 648.2,138.4 649.8,138.2 651.4,137.9 653.0,137.4 654.6,136.7 656.2,135.9 657.8,134.9 659.4,133.8 661.0,132.6 662.6,131.5 664.2,130.4 665.8,129.4 667.4,128.5 669.0,127.9 670.6,127.5 672.2,127.3 673.8,127.1 675.4,127.1 677.0,127.0 678.6,126.9 680.2,126.7 681.8,126.4 683.4,126.2 685.0,126.1 686.6,126.0 688.2,126.1 689.8,126.3 691.4,126.4 693.0,126.4 694.6,126.1 696.2,125.6 697.8,124.8 699.4,123.7 701.0,122.4 702.6,121.0 704.2,119.6 705.8,118.4 707.4,117.4 709.0,116.8 710.6,116.5 712.2,116.5 713.8,116.8 715.4,117.1 717.0,117.4 718.6,117.5 720.2,117.5 721.8,117.4 723.4,117.1 725.0,116.7 726.6,116.4 728.2,116.3 729.8,116.5 731.4,117.0 733.0,117.9 734.6,118.9 736.2,120.0 737.8,120.9 739.4,121.6 741.0,122.0 742.6,122.2 744.2,122.4 745.8,122.7 747.4,123.2 749.0,124.0 750.6,125.1 752.2,126.3 753.8,127.5 755.4,128.9 757.0,130.2 758.6,131.5 760.2,132.8 761.8,134.0 763.4,135.1 765.0,136.2 766.6,137.1 768.2,138.0 769.8,138.9 771.4,139.8 773.0,140.7 774.6,141.6 776.2,142.4 777.8,143.2 779.4,143.9 781.0,144.6 782.6,145.3 784.2,146.1 785.8,147.1 787.4,148.2 789.0,149.6 790.6,151.2 792.2,153.1 793.8,155.2 795.4,157.6 797.0,160.1 798.6,162.6 800.2,165.1 801.8,167.4 803.4,169.5 805.0,171.3 806.6,172.9 808.2,174.3 809.8,175.7 811.4,177.0 813.0,178.5 814.6,180.1 816.2,181.8 817.8,183.7 819.4,185.6 821.0,187.6 822.6,189.6 824.2,191.6 825.8,193.6 827.4,195.6 829.0,197.6 830.6,199.6 832.2,201.7 833.8,203.8 835.4,206.0 837.0,208.3 838.6,210.8 840.2,213.5 841.8,216.4 843.4,219.4 845.0,222.4 846.6,225.4 848.2,228.4 849.8,231.4 851.4,234.3 853.0,237.3 854.6,240.2 856.2,243.2 857.8,246.2 859.4,249.3 861.0,252.3 862.6,255.5 864.2,258.8 865.8,262.3 867.4,266.0 869.0,270.0 870.6,274.2 872.2,278.6 873.8,283.0 875.4,287.2 877.0,291.1 878.6,294.7 880.2,297.9 881.8,300.9 883.4,303.8 885.0,306.9 886.6,310.3 888.2,314.1 889.8,318.2 891.4,322.8 893.0,327.7 894.6,332.8 896.2,337.9 897.8,343.0 899.4,347.9 901.0,352.8 902.6,357.5 904.2,362.2 905.8,366.8 907.4,371.5 909.0,376.2 910.6,380.8 912.2,385.3 913.8,389.8 915.4,394.0 917.0,398.2 918.6,402.2 920.6,406.2" fill="none" stroke="#4260d3" stroke-width="1.3" stroke-linejoin="round" />
<polyline points="128.2,434.7 129.8,436.7 131.4,438.9 133.0,441.3 134.6,443.7 136.2,446.1 137.8,448.5 139.4,450.8 141.0,453.0 142.6,455.1 144.2,457.1 145.8,459.0 147.4,460.9 149.0,462.7 150.6,464.6 152.2,466.5 153.8,468.5 155.4,470.4 157.0,472.4 158.6,474.4 160.2,476.3 161.8,478.3 163.4,480.2 165.0,482.2 166.6,484.1 168.2,486.0 169.8,487.8 171.4,489.5 173.0,491.3 174.6,493.0 176.2,494.8 177.8,496.7 179.4,498.7 181.0,500.8 182.6,502.9 184.2,505.1 185.8,507.3 187.4,509.4 189.0,511.4 190.6,513.2 192.2,514.9 193.8,516.3 195.4,517.6 197.0,518.7 198.6,519.7 200.2,520.7 201.8,521.7 203.4,522.9 205.0,524.3 206.6,525.7 208.2,527.3 209.8,529.0 211.4,530.7 213.0,532.5 214.6,534.1 216.2,535.7 217.8,537.1 219.4,538.3 221.0,539.2 222.6,540.0 224.2,540.8 225.8,541.5 227.4,542.3 229.0,543.1 230.6,543.9 232.2,544.7 233.8,545.3 235.4,545.7 237.0,545.9 238.6,545.7 240.2,545.3 241.8,544.6 243.4,543.8 245.0,543.0 246.6,542.2 248.2,541.6 249.8,541.1 251.4,540.7 253.0,540.3 254.6,539.9 256.2,539.4 257.8,538.7 259.4,537.8 261.0,536.8 262.6,535.9 264.2,534.9 265.8,534.1 267.4,533.3 269.0,532.6 270.6,531.9 272.2,531.3 273.8,530.7 275.4,530.1 277.0,529.6 278.6,529.1 280.2,528.6 281.8,528.1 283.4,527.4 285.0,526.7 286.6,525.9 288.2,525.0 289.8,523.9 291.4,522.8 293.0,521.6 294.6,520.4 296.2,519.2 297.8,517.9 299.4,516.6 301.0,515.3 302.6,514.0 304.2,512.5 305.8,510.9 307.4,509.1 309.0,507.2 310.6,505.1 312.2,502.9 313.8,500.7 315.4,498.6 317.0,496.5 318.6,494.4 320.2,492.3 321.8,490.2 323.4,488.1 325.0,486.1 326.6,484.1 328.2,482.1 329.8,480.2 331.4,478.3 333.0,476.3 334.6,474.3 336.2,472.1 337.8,470.0 339.4,467.8 341.0,465.8 342.6,463.9 344.2,462.1 345.8,460.5 347.4,458.9 349.0,457.3 350.6,455.6 352.2,453.7 353.8,451.6 355.4,449.3 357.0,446.9 358.6,444.5 360.2,442.0 361.8,439.5 363.4,437.1 365.0,434.8 366.6,432.8 368.2,430.9 369.8,429.4 371.4,428.0 373.0,426.8 374.6,425.6 376.2,424.2 377.8,422.5 379.4,420.5 381.0,418.2 382.6,415.6 384.2,412.9 385.8,410.1 387.4,407.5 389.0,405.0 390.6,402.7 392.2,400.4 393.8,398.3 395.4,396.1 397.0,394.0 398.6,391.9 400.2,389.7 401.8,387.6 403.4,385.4 405.0,383.3 406.6,381.2 408.2,379.0 409.8,376.9 411.4,374.8 413.0,372.7 414.6,370.7 416.2,368.7 417.8,366.8 419.4,364.9 421.0,363.1 422.6,361.1 424.2,359.2 425.8,357.1 427.4,355.0 429.0,352.9 430.6,350.7 432.2,348.6 433.8,346.4 435.4,344.3 437.0,342.1 438.6,339.9 440.2,337.6 441.8,335.3 443.4,332.9 445.0,330.6 446.6,328.2 448.2,325.9 449.8,323.6 451.4,321.3 453.0,318.9 454.6,316.6 456.2,314.3 457.8,312.0 459.4,309.6 461.0,307.2 462.6,304.7 464.2,302.1 465.8,299.4 467.4,296.6 469.0,293.9 470.6,291.3 472.2,288.8 473.8,286.6 475.4,284.7 477.0,283.0 478.6,281.6 480.2,280.4 481.8,279.2 483.4,278.1 485.0,276.9 486.6,275.6 488.2,274.0 489.8,272.4 491.4,270.5 493.0,268.6 494.6,266.8 496.2,265.0 497.8,263.3 499.4,261.7 501.0,260.3 502.6,259.0 504.2,257.9 505.8,256.9 507.4,256.2 509.0,255.6 510.6,255.1 512.2,254.6 513.8,253.9 515.4,253.0 517.0,251.7 518.6,250.2 520.2,248.4 521.8,246.4 523.4,244.4 525.0,242.2 526.6,240.1 528.2,238.0 529.8,235.9 531.4,233.9 533.0,231.9 534.6,230.1 536.2,228.5 537.8,227.0 539.4,225.8 541.0,224.8 542.6,223.9 544.2,223.0 545.8,222.1 547.4,221.1 549.0,220.0 550.6,218.8 552.2,217.6 553.8,216.4 555.4,215.3 557.0,214.2 558.6,213.2 560.2,212.2 561.8,211.2 563.4,210.2 565.0,209.2 566.6,208.1 568.2,207.2 569.8,206.2 571.4,205.4 573.0,204.6 574.6,203.9 576.2,203.2 577.8,202.5 579.4,201.8 581.0,201.1 582.6,200.3 584.2,199.6 585.8,198.7 587.4,197.7 589.0,196.6 590.6,195.3 592.2,193.9 593.8,192.4 595.4,190.8 597.0,189.3 598.6,188.0 600.2,187.1 601.8,186.5 603.4,186.1 605.0,186.1 606.6,186.0 608.2,186.0 609.8,185.8 611.4,185.3 613.0,184.6 614.6,183.6 616.2,182.4 617.8,181.1 619.4,179.8 621.0,178.5 622.6,177.5 624.2,176.8 625.8,176.4 627.4,176.3 629.0,176.4 630.6,176.4 632.2,176.1 633.8,175.6 635.4,174.7 637.0,173.6 638.6,172.3 640.2,170.9 641.8,169.4 643.4,167.9 645.0,166.3 646.6,164.8 648.2,163.3 649.8,161.9 651.4,160.7 653.0,159.9 654.6,159.5 656.2,159.6 657.8,160.1 659.4,160.9 661.0,161.8 662.6,162.7 664.2,163.3 665.8,163.6 667.4,163.6 669.0,163.3 670.6,162.8 672.2,162.2 673.8,161.5 675.4,160.9 677.0,160.4 678.6,160.0 680.2,159.7 681.8,159.4 683.4,159.1 685.0,158.8 686.6,158.4 688.2,158.0 689.8,157.5 691.4,157.1 693.0,156.7 694.6,156.3 696.2,156.1 697.8,155.9 699.4,155.9 701.0,155.9 702.6,156.1 704.2,156.4 705.8,156.9 707.4,157.5 709.0,158.3 710.6,159.0 712.2,159.8 713.8,160.4 715.4,161.1 717.0,161.7 718.6,162.3 720.2,162.9 721.8,163.5 723.4,164.0 725.0,164.3 726.6,164.4 728.2,164.3 729.8,163.8 731.4,163.2 733.0,162.5 734.6,161.8 736.2,161.3 737.8,160.9 739.4,160.8 741.0,160.9 742.6,161.0 744.2,161.1 745.8,161.3 747.4,161.5 749.0,161.7 750.6,162.0 752.2,162.5 753.8,163.0 755.4,163.6 757.0,164.2 758.6,164.8 760.2,165.3 761.8,165.8 763.4,166.4 765.0,167.0 766.6,167.8 768.2,168.7 769.8,169.6 771.4,170.5 773.0,171.3 774.6,172.1 776.2,172.9 777.8,173.9 779.4,175.0 781.0,176.3 782.6,177.9 784.2,179.7 785.8,181.6 787.4,183.6 789.0,185.5 790.6,187.4 792.2,189.2 793.8,190.8 795.4,192.4 797.0,194.0 798.6,195.6 800.2,197.1 801.8,198.7 803.4,200.3 805.0,201.8 806.6,203.2 808.2,204.4 809.8,205.5 811.4,206.5 813.0,207.5 814.6,208.5 816.2,209.6 817.8,210.8 819.4,212.1 821.0,213.5 822.6,215.0 824.2,216.5 825.8,218.1 827.4,219.9 829.0,221.8 830.6,223.9 832.2,226.2 833.8,228.6 835.4,231.1 837.0,233.6 838.6,236.0 840.2,238.4 841.8,240.8 843.4,243.3 845.0,246.0 846.6,249.0 848.2,252.1 849.8,255.5 851.4,258.9 853.0,262.4 854.6,265.9 856.2,269.3 857.8,272.7 859.4,276.2 861.0,279.9 862.6,283.6 864.2,287.5 865.8,291.5 867.4,295.4 869.0,299.4 870.6,303.4 872.2,307.3 873.8,311.4 875.4,315.6 877.0,319.9 878.6,324.5 880.2,329.2 881.8,333.9 883.4,338.6 885.0,343.1 886.6,347.4 888.2,351.4 889.8,355.0 891.4,358.3 893.0,361.3 894.6,364.1 896.2,366.9 897.8,369.8 899.4,372.9 901.0,376.3 902.6,380.1 904.2,384.0 905.8,388.1 907.4,392.1 909.0,396.1 910.6,399.9 912.2,403.6 913.8,407.3 915.4,411.2 917.0,415.2 918.6,419.4 920.6,423.8" fill="none" stroke="#4167d6" stroke-width="1.3" stroke-linejoin="round" />
<polyline points="128.2,409.4 129.8,411.7 131.4,414.2 133.0,416.7 134.6,419.4 136.2,422.0 137.8,424.6 139.4,427.1 141.0,429.7 142.6,432.2 144.2,434.9 145.8,437.7 147.4,440.6 149.0,443.6 150.6,446.5 152.2,449.3 153.8,452.0 155.4,454.4 157.0,456.7 158.6,459.0 160.2,461.1 161.8,463.2 163.4,465.3 165.0,467.4 166.6,469.5 168.2,471.4 169.8,473.2 171.4,474.8 173.0,476.3 174.6,477.7 176.2,478.9 177.8,480.2 179.4,481.4 181.0,482.7 182.6,484.1 184.2,485.6 185.8,487.1 187.4,488.7 189.0,490.3 190.6,491.8 192.2,493.2 193.8,494.6 195.4,495.8 197.0,496.8 198.6,497.7 200.2,498.5 201.8,499.3 203.4,500.0 205.0,500.7 206.6,501.4 208.2,502.2 209.8,503.0 211.4,503.9 213.0,504.8 214.6,505.7 216.2,506.6 217.8,507.5 219.4,508.4 221.0,509.4 222.6,510.4 224.2,511.5 225.8,512.7 227.4,513.9 229.0,515.2 230.6,516.5 232.2,517.7 233.8,518.7 235.4,519.5 237.0,520.1 238.6,520.5 240.2,520.7 241.8,520.7 243.4,520.6 245.0,520.3 246.6,519.9 248.2,519.3 249.8,518.7 251.4,518.1 253.0,517.4 254.6,516.9 256.2,516.3 257.8,515.9 259.4,515.6 261.0,515.4 262.6,515.1 264.2,514.8 265.8,514.4 267.4,513.9 269.0,513.3 270.6,512.6 272.2,511.9 273.8,511.2 275.4,510.4 277.0,509.6 278.6,508.6 280.2,507.5 281.8,506.1 283.4,504.6 285.0,502.8 286.6,500.9 288.2,499.0 289.8,497.2 291.4,495.4 293.0,493.9 294.6,492.5 296.2,491.3 297.8,490.1 299.4,488.9 301.0,487.6 302.6,486.2 304.2,484.7 305.8,483.1 307.4,481.5 309.0,479.9 310.6,478.3 312.2,476.6 313.8,474.8 315.4,473.1 317.0,471.3 318.6,469.7 320.2,468.1 321.8,466.6 323.4,465.3 325.0,464.1 326.6,462.9 328.2,461.7 329.8,460.5 331.4,459.2 333.0,457.9 334.6,456.4 336.2,454.6 337.8,452.7 339.4,450.5 341.0,448.1 342.6,445.5 344.2,442.8 345.8,440.1 347.4,437.6 349.0,435.0 350.6,432.6 352.2,430.3 353.8,428.0 355.4,425.7 357.0,423.4 358.6,421.0 360.2,418.7 361.8,416.2 363.4,413.9 365.0,411.6 366.6,409.3 368.2,407.1 369.8,404.9 371.4,402.7 373.0,400.4 374.6,398.2 376.2,395.9 377.8,393.8 379.4,391.7 381.0,389.8 382.6,387.9 384.2,386.1 385.8,384.3 387.4,382.4 389.0,380.4 390.6,378.2 392.2,376.0 393.8,373.6 395.4,371.3 397.0,368.9 398.6,366.5 400.2,364.2 401.8,361.9 403.4,359.8 405.0,357.7 406.6,355.8 408.2,353.9 409.8,352.1 411.4,350.2 413.0,348.2 414.6,346.1 416.2,343.9 417.8,341.5 419.4,339.1 421.0,336.7 422.6,334.3 424.2,332.0 425.8,329.7 427.4,327.4 429.0,325.0 430.6,322.7 432.2,320.3 433.8,318.0 435.4,315.8 437.0,313.6 438.6,311.6 440.2,309.7 441.8,307.9 443.4,306.2 445.0,304.6 446.6,303.2 448.2,301.8 449.8,300.5 451.4,299.3 453.0,298.1 454.6,296.9 456.2,295.7 457.8,294.4 459.4,293.1 461.0,291.6 462.6,289.9 464.2,288.1 465.8,286.0 467.4,283.8 469.0,281.5 470.6,279.1 472.2,276.7 473.8,274.4 475.4,272.1 477.0,270.0 478.6,267.9 480.2,266.0 481.8,264.1 483.4,262.2 485.0,260.4 486.6,258.6 488.2,256.6 489.8,254.6 491.4,252.6 493.0,250.6 494.6,248.8 496.2,247.1 497.8,245.8 499.4,244.6 501.0,243.5 502.6,242.4 504.2,241.2 505.8,240.0 507.4,238.5 509.0,237.0 510.6,235.3 512.2,233.6 513.8,231.8 515.4,230.0 517.0,228.1 518.6,226.3 520.2,224.5 521.8,222.7 523.4,221.0 525.0,219.3 526.6,217.5 528.2,215.7 529.8,213.9 531.4,212.2 533.0,210.5 534.6,208.9 536.2,207.5 537.8,206.1 539.4,204.9 541.0,203.6 542.6,202.2 544.2,200.8 545.8,199.1 547.4,197.3 549.0,195.3 550.6,193.3 552.2,191.3 553.8,189.3 555.4,187.5 557.0,185.8 558.6,184.4 560.2,183.3 561.8,182.3 563.4,181.5 565.0,180.7 566.6,179.8 568.2,178.7 569.8,177.5 571.4,176.1 573.0,174.5 574.6,172.8 576.2,171.1 577.8,169.6 579.4,168.2 581.0,167.0 582.6,166.2 584.2,165.8 585.8,165.6 587.4,165.7 589.0,166.0 590.6,166.2 592.2,166.2 593.8,165.7 595.4,164.8 597.0,163.4 598.6,161.6 600.2,159.5 601.8,157.4 603.4,155.4 605.0,153.8 606.6,152.4 608.2,151.2 609.8,150.1 611.4,149.1 613.0,147.9 614.6,146.8 616.2,145.7 617.8,144.9 619.4,144.4 621.0,144.2 622.6,144.3 624.2,144.6 625.8,145.1 627.4,145.6 629.0,146.1 630.6,146.7 632.2,147.3 633.8,147.9 635.4,148.4 637.0,148.8 638.6,148.9 640.2,148.8 641.8,148.4 643.4,147.8 645.0,146.9 646.6,145.9 648.2,144.8 649.8,143.5 651.4,142.3 653.0,140.9 654.6,139.5 656.2,138.0 657.8,136.5 659.4,134.8 661.0,133.1 662.6,131.4 664.2,129.8 665.8,128.4 667.4,127.3 669.0,126.7 670.6,126.5 672.2,126.7 673.8,127.1 675.4,127.6 677.0,128.2 678.6,128.7 680.2,129.0 681.8,129.1 683.4,129.0 685.0,128.7 686.6,128.3 688.2,127.7 689.8,127.1 691.4,126.5 693.0,126.0 694.6,125.6 696.2,125.4 697.8,125.2 699.4,124.9 701.0,124.6 702.6,124.1 704.2,123.4 705.8,122.7 707.4,121.9 709.0,121.3 710.6,120.9 712.2,120.8 713.8,120.8 715.4,121.0 717.0,121.3 718.6,121.6 720.2,122.0 721.8,122.5 723.4,123.0 725.0,123.7 726.6,124.4 728.2,125.1 729.8,125.8 731.4,126.3 733.0,126.6 734.6,126.7 736.2,126.7 737.8,126.4 739.4,126.1 741.0,125.8 742.6,125.7 744.2,125.7 745.8,126.0 747.4,126.7 749.0,127.6 750.6,128.6 752.2,129.7 753.8,130.8 755.4,131.7 757.0,132.5 758.6,133.0 760.2,133.4 761.8,133.8 763.4,134.2 765.0,134.8 766.6,135.7 768.2,136.8 769.8,138.1 771.4,139.5 773.0,140.8 774.6,142.0 776.2,143.1 777.8,144.1 779.4,145.0 781.0,145.8 782.6,146.6 784.2,147.5 785.8,148.4 787.4,149.2 789.0,150.2 790.6,151.2 792.2,152.4 793.8,153.7 795.4,155.3 797.0,156.9 798.6,158.7 800.2,160.6 801.8,162.4 803.4,164.1 805.0,165.9 806.6,167.7 808.2,169.6 809.8,171.5 811.4,173.5 813.0,175.5 814.6,177.5 816.2,179.4 817.8,181.2 819.4,182.9 821.0,184.6 822.6,186.3 824.2,188.1 825.8,189.9 827.4,191.7 829.0,193.5 830.6,195.3 832.2,197.2 833.8,199.1 835.4,201.3 837.0,203.7 838.6,206.3 840.2,209.1 841.8,212.1 843.4,215.0 845.0,217.9 846.6,220.8 848.2,223.7 849.8,226.6 851.4,229.6 853.0,232.8 854.6,235.9 856.2,239.1 857.8,242.2 859.4,245.2 861.0,248.2 862.6,251.1 864.2,254.0 865.8,256.9 867.4,259.7 869.0,262.5 870.6,265.3 872.2,268.0 873.8,270.8 875.4,273.6 877.0,276.6 878.6,279.8 880.2,283.2 881.8,286.9 883.4,290.9 885.0,295.1 886.6,299.6 888.2,304.3 889.8,309.1 891.4,314.1 893.0,319.2 894.6,324.2 896.2,329.0 897.8,333.7 899.4,338.2 901.0,342.5 902.6,346.6 904.2,350.6 905.8,354.6 907.4,358.5 909.0,362.4 910.6,366.4 912.2,370.4 913.8,374.6 915.4,378.9 917.0,383.3 918.6,387.8 920.6,392.4" fill="none" stroke="#3f6dd8" stroke-width="1.3" stroke-linejoin="round" />
<polyline points="128.2,441.4 129.8,443.4 131.4,445.6 133.0,447.9 134.6,450.3 136.2,452.9 137.8,455.6 139.4,458.4 141.0,461.3 142.6,464.3 144.2,467.3 145.8,470.1 147.4,472.9 149.0,475.4 150.6,477.8 152.2,480.0 153.8,482.0 155.4,483.8 157.0,485.5 158.6,487.1 160.2,488.6 161.8,490.1 163.4,491.5 165.0,492.9 166.6,494.3 168.2,495.7 169.8,497.2 171.4,498.7 173.0,500.3 174.6,502.1 176.2,504.1 177.8,506.2 179.4,508.3 181.0,510.5 182.6,512.5 184.2,514.2 185.8,515.7 187.4,516.9 189.0,517.8 190.6,518.4 192.2,518.9 193.8,519.2 195.4,519.6 197.0,520.1 198.6,520.8 200.2,521.6 201.8,522.7 203.4,523.8 205.0,525.0 206.6,526.2 208.2,527.4 209.8,528.4 211.4,529.2 213.0,529.9 214.6,530.5 216.2,531.0 217.8,531.4 219.4,531.7 221.0,531.9 222.6,531.9 224.2,531.9 225.8,531.7 227.4,531.5 229.0,531.2 230.6,530.7 232.2,530.1 233.8,529.4 235.4,528.6 237.0,527.8 238.6,526.9 240.2,526.3 241.8,525.9 243.4,525.9 245.0,526.3 246.6,527.0 248.2,527.9 249.8,528.9 251.4,529.8 253.0,530.4 254.6,530.7 256.2,530.7 257.8,530.5 259.4,530.2 261.0,529.9 262.6,529.6 264.2,529.2 265.8,528.9 267.4,528.4 269.0,527.8 270.6,527.1 272.2,526.3 273.8,525.3 275.4,524.2 277.0,522.9 278.6,521.6 280.2,520.3 281.8,519.0 283.4,517.7 285.0,516.4 286.6,515.3 288.2,514.0 289.8,512.7 291.4,511.3 293.0,509.7 294.6,507.9 296.2,506.1 297.8,504.3 299.4,502.4 301.0,500.7 302.6,499.0 304.2,497.3 305.8,495.8 307.4,494.4 309.0,493.1 310.6,491.9 312.2,490.7 313.8,489.6 315.4,488.4 317.0,487.1 318.6,485.6 320.2,483.8 321.8,481.9 323.4,479.8 325.0,477.7 326.6,475.6 328.2,473.7 329.8,472.0 331.4,470.4 333.0,468.8 334.6,467.2 336.2,465.4 337.8,463.3 339.4,461.0 341.0,458.4 342.6,455.6 344.2,452.7 345.8,449.9 347.4,447.2 349.0,444.6 350.6,442.4 352.2,440.4 353.8,438.6 355.4,437.1 357.0,435.7 358.6,434.3 360.2,432.8 361.8,431.1 363.4,429.2 365.0,427.0 366.6,424.6 368.2,422.0 369.8,419.3 371.4,416.5 373.0,413.8 374.6,411.2 376.2,408.8 377.8,406.6 379.4,404.4 381.0,402.3 382.6,400.2 384.2,398.0 385.8,395.7 387.4,393.4 389.0,391.0 390.6,388.6 392.2,386.3 393.8,384.2 395.4,382.2 397.0,380.3 398.6,378.5 400.2,376.6 401.8,374.8 403.4,373.0 405.0,371.1 406.6,369.1 408.2,367.2 409.8,365.2 411.4,363.3 413.0,361.4 414.6,359.6 416.2,357.9 417.8,356.4 419.4,355.0 421.0,353.7 422.6,352.5 424.2,351.1 425.8,349.6 427.4,348.1 429.0,346.4 430.6,344.7 432.2,343.1 433.8,341.5 435.4,340.0 437.0,338.4 438.6,336.9 440.2,335.4 441.8,333.8 443.4,332.0 445.0,330.2 446.6,328.4 448.2,326.5 449.8,324.7 451.4,322.8 453.0,321.0 454.6,319.3 456.2,317.5 457.8,315.8 459.4,314.2 461.0,312.6 462.6,311.1 464.2,309.7 465.8,308.4 467.4,307.2 469.0,306.1 470.6,305.1 472.2,303.9 473.8,302.6 475.4,301.1 477.0,299.4 478.6,297.5 480.2,295.6 481.8,293.9 483.4,292.3 485.0,291.0 486.6,289.8 488.2,288.7 489.8,287.6 491.4,286.4 493.0,285.0 494.6,283.5 496.2,281.9 497.8,280.2 499.4,278.4 501.0,276.6 502.6,274.7 504.2,272.9 505.8,270.9 507.4,268.8 509.0,266.5 510.6,264.1 512.2,261.6 513.8,259.1 515.4,256.6 517.0,254.2 518.6,252.0 520.2,249.9 521.8,248.0 523.4,246.3 525.0,244.9 526.6,243.7 528.2,242.8 529.8,242.1 531.4,241.6 533.0,241.2 534.6,240.9 536.2,240.6 537.8,240.1 539.4,239.3 541.0,238.3 542.6,237.0 544.2,235.3 545.8,233.5 547.4,231.6 549.0,229.9 550.6,228.3 552.2,227.0 553.8,225.8 555.4,224.6 557.0,223.5 558.6,222.2 560.2,220.8 561.8,219.3 563.4,217.7 565.0,216.1 566.6,214.5 568.2,213.0 569.8,211.5 571.4,210.1 573.0,208.7 574.6,207.4 576.2,206.1 577.8,204.7 579.4,203.4 581.0,201.9 582.6,200.5 584.2,199.0 585.8,197.5 587.4,196.1 589.0,194.6 590.6,193.2 592.2,191.8 593.8,190.3 595.4,188.9 597.0,187.5 598.6,186.2 600.2,184.9 601.8,183.8 603.4,182.8 605.0,182.0 606.6,181.5 608.2,181.2 609.8,181.2 611.4,181.2 613.0,181.3 614.6,181.3 616.2,181.0 617.8,180.5 619.4,179.7 621.0,178.6 622.6,177.3 624.2,176.0 625.8,174.7 627.4,173.6 629.0,172.8 630.6,172.3 632.2,172.1 633.8,172.1 635.4,172.3 637.0,172.6 638.6,172.9 640.2,172.9 641.8,172.7 643.4,172.0 645.0,170.8 646.6,169.2 648.2,167.1 649.8,164.9 651.4,162.6 653.0,160.5 654.6,158.6 656.2,157.0 657.8,155.8 659.4,154.8 661.0,154.1 662.6,153.6 664.2,153.5 665.8,153.7 667.4,154.1 669.0,154.8 670.6,155.7 672.2,156.5 673.8,157.2 675.4,157.7 677.0,158.0 678.6,158.0 680.2,157.8 681.8,157.4 683.4,157.0 685.0,156.4 686.6,155.8 688.2,155.2 689.8,154.6 691.4,154.2 693.0,153.8 694.6,153.5 696.2,153.2 697.8,152.9 699.4,152.6 701.0,152.4 702.6,152.3 704.2,152.2 705.8,152.3 707.4,152.4 709.0,152.6 710.6,152.8 712.2,153.1 713.8,153.5 715.4,153.9 717.0,154.4 718.6,154.8 720.2,155.2 721.8,155.5 723.4,155.5 725.0,155.5 726.6,155.3 728.2,155.3 729.8,155.3 731.4,155.7 733.0,156.3 734.6,157.1 736.2,157.9 737.8,158.5 739.4,158.9 741.0,159.0 742.6,158.8 744.2,158.3 745.8,157.7 747.4,157.0 749.0,156.4 750.6,156.2 752.2,156.4 753.8,157.0 755.4,158.0 757.0,159.3 758.6,160.8 760.2,162.4 761.8,163.7 763.4,164.8 765.0,165.5 766.6,165.8 768.2,165.8 769.8,165.5 771.4,165.2 773.0,164.9 774.6,164.9 776.2,165.0 777.8,165.5 779.4,166.1 781.0,166.9 782.6,167.8 784.2,168.9 785.8,170.0 787.4,171.2 789.0,172.6 790.6,174.1 792.2,175.9 793.8,177.8 795.4,179.8 797.0,181.7 798.6,183.5 800.2,185.1 801.8,186.5 803.4,187.7 805.0,188.9 806.6,190.1 808.2,191.4 809.8,192.8 811.4,194.2 813.0,195.6 814.6,197.0 816.2,198.4 817.8,199.8 819.4,201.3 821.0,203.0 822.6,204.8 824.2,206.8 825.8,209.0 827.4,211.2 829.0,213.4 830.6,215.7 832.2,218.1 833.8,220.6 835.4,223.3 837.0,226.2 838.6,229.3 840.2,232.4 841.8,235.7 843.4,238.9 845.0,241.9 846.6,244.9 848.2,247.6 849.8,250.3 851.4,252.8 853.0,255.4 854.6,258.1 856.2,260.9 857.8,264.0 859.4,267.2 861.0,270.6 862.6,274.2 864.2,277.9 865.8,281.7 867.4,285.5 869.0,289.3 870.6,292.9 872.2,296.5 873.8,300.0 875.4,303.6 877.0,307.2 878.6,311.1 880.2,315.2 881.8,319.6 883.4,324.3 885.0,329.3 886.6,334.5 888.2,339.8 889.8,345.1 891.4,350.4 893.0,355.6 894.6,360.7 896.2,365.5 897.8,370.2 899.4,374.7 901.0,379.1 902.6,383.4 904.2,387.6 905.8,391.9 907.4,396.1 909.0,400.5 910.6,405.0 912.2,409.6 913.8,414.2 915.4,418.8 917.0,423.3 918.6,427.7 920.6,432.1" fill="none" stroke="#3e74db" stroke-width="1.3" stroke-linejoin="round" />
<polyline points="128.2,414.9 129.8,417.8 131.4,420.5 133.0,423.0 134.6,425.2 136.2,427.3 137.8,429.3 139.4,431.4 141.0,433.6 142.6,436.0 144.2,438.5 145.8,441.0 147.4,443.6 149.0,446.0 150.6,448.3 152.2,450.5 153.8,452.4 155.4,454.3 157.0,456.0 158.6,457.7 160.2,459.3 161.8,460.9 163.4,462.5 165.0,464.1 166.6,465.8 168.2,467.6 169.8,469.5 171.4,471.4 173.0,473.3 174.6,475.2 176.2,476.8 177.8,478.3 179.4,479.6 181.0,480.9 182.6,482.1 184.2,483.5 185.8,485.1 187.4,486.9 189.0,488.9 190.6,491.1 192.2,493.3 193.8,495.4 195.4,497.3 197.0,498.9 198.6,500.2 200.2,501.3 201.8,502.1 203.4,502.9 205.0,503.6 206.6,504.4 208.2,505.2 209.8,506.1 211.4,507.1 213.0,508.1 214.6,509.2 216.2,510.2 217.8,511.2 219.4,512.1 221.0,512.8 222.6,513.5 224.2,514.0 225.8,514.4 227.4,514.6 229.0,514.9 230.6,515.0 232.2,515.2 233.8,515.4 235.4,515.7 237.0,516.0 238.6,516.4 240.2,516.6 241.8,516.8 243.4,516.9 245.0,516.9 246.6,516.9 248.2,516.9 249.8,517.1 251.4,517.5 253.0,518.1 254.6,518.8 256.2,519.6 257.8,520.3 259.4,520.9 261.0,521.3 262.6,521.6 264.2,521.6 265.8,521.4 267.4,521.0 269.0,520.4 270.6,519.5 272.2,518.5 273.8,517.4 275.4,516.1 277.0,514.9 278.6,513.7 280.2,512.4 281.8,511.1 283.4,509.8 285.0,508.4 286.6,507.1 288.2,505.8 289.8,504.5 291.4,503.4 293.0,502.3 294.6,501.3 296.2,500.4 297.8,499.4 299.4,498.4 301.0,497.4 302.6,496.3 304.2,495.2 305.8,494.0 307.4,492.8 309.0,491.6 310.6,490.3 312.2,489.0 313.8,487.7 315.4,486.4 317.0,485.1 318.6,483.9 320.2,482.7 321.8,481.5 323.4,480.4 325.0,479.2 326.6,478.0 328.2,476.7 329.8,475.2 331.4,473.6 333.0,471.7 334.6,469.7 336.2,467.7 337.8,465.7 339.4,463.8 341.0,462.1 342.6,460.4 344.2,458.9 345.8,457.4 347.4,455.9 349.0,454.4 350.6,452.7 352.2,450.8 353.8,448.6 355.4,446.2 357.0,443.7 358.6,441.0 360.2,438.4 361.8,435.9 363.4,433.6 365.0,431.5 366.6,429.7 368.2,428.1 369.8,426.7 371.4,425.3 373.0,424.0 374.6,422.7 376.2,421.3 377.8,419.8 379.4,418.2 381.0,416.5 382.6,414.7 384.2,412.9 385.8,411.1 387.4,409.2 389.0,407.3 390.6,405.3 392.2,403.3 393.8,401.0 395.4,398.7 397.0,396.3 398.6,393.9 400.2,391.4 401.8,388.9 403.4,386.3 405.0,383.7 406.6,381.0 408.2,378.3 409.8,375.5 411.4,372.7 413.0,370.0 414.6,367.6 416.2,365.4 417.8,363.5 419.4,361.7 421.0,360.1 422.6,358.4 424.2,356.8 425.8,355.0 427.4,353.2 429.0,351.4 430.6,349.6 432.2,347.9 433.8,346.2 435.4,344.5 437.0,342.8 438.6,341.2 440.2,339.6 441.8,338.0 443.4,336.5 445.0,334.9 446.6,333.3 448.2,331.6 449.8,329.7 451.4,327.6 453.0,325.4 454.6,323.0 456.2,320.7 457.8,318.5 459.4,316.4 461.0,314.5 462.6,312.7 464.2,311.0 465.8,309.4 467.4,307.8 469.0,306.2 470.6,304.5 472.2,302.7 473.8,300.8 475.4,298.8 477.0,296.7 478.6,294.5 480.2,292.1 481.8,289.8 483.4,287.5 485.0,285.3 486.6,283.3 488.2,281.4 489.8,279.8 491.4,278.3 493.0,276.8 494.6,275.2 496.2,273.4 497.8,271.3 499.4,269.0 501.0,266.4 502.6,263.6 504.2,260.8 505.8,257.9 507.4,255.2 509.0,252.7 510.6,250.4 512.2,248.5 513.8,247.0 515.4,245.7 517.0,244.7 518.6,243.9 520.2,242.9 521.8,241.9 523.4,240.6 525.0,239.1 526.6,237.5 528.2,235.7 529.8,234.0 531.4,232.4 533.0,230.9 534.6,229.5 536.2,228.2 537.8,226.8 539.4,225.5 541.0,224.1 542.6,222.6 544.2,221.1 545.8,219.6 547.4,218.0 549.0,216.2 550.6,214.3 552.2,212.2 553.8,210.0 555.4,207.7 557.0,205.4 558.6,203.1 560.2,201.0 561.8,199.2 563.4,197.5 565.0,196.1 566.6,194.9 568.2,193.8 569.8,192.7 571.4,191.6 573.0,190.4 574.6,189.0 576.2,187.5 577.8,185.8 579.4,184.0 581.0,182.0 582.6,180.0 584.2,178.1 585.8,176.3 587.4,174.7 589.0,173.2 590.6,171.8 592.2,170.4 593.8,168.9 595.4,167.3 597.0,165.6 598.6,163.8 600.2,162.1 601.8,160.4 603.4,158.9 605.0,157.6 606.6,156.5 608.2,155.6 609.8,154.9 611.4,154.2 613.0,153.5 614.6,152.7 616.2,151.8 617.8,150.7 619.4,149.5 621.0,148.2 622.6,147.1 624.2,146.0 625.8,145.3 627.4,145.0 629.0,145.0 630.6,145.2 632.2,145.6 633.8,146.1 635.4,146.5 637.0,146.8 638.6,146.9 640.2,146.8 641.8,146.6 643.4,146.1 645.0,145.6 646.6,145.1 648.2,144.5 649.8,143.9 651.4,143.1 653.0,142.1 654.6,141.0 656.2,139.6 657.8,138.0 659.4,136.4 661.0,134.7 662.6,133.2 664.2,131.9 665.8,130.9 667.4,130.2 669.0,129.8 670.6,129.4 672.2,129.1 673.8,128.7 675.4,128.3 677.0,127.9 678.6,127.5 680.2,127.2 681.8,127.0 683.4,126.9 685.0,127.0 686.6,127.2 688.2,127.5 689.8,127.9 691.4,128.3 693.0,128.7 694.6,129.0 696.2,129.1 697.8,129.1 699.4,129.0 701.0,128.7 702.6,128.3 704.2,127.8 705.8,127.3 707.4,126.8 709.0,126.2 710.6,125.7 712.2,125.1 713.8,124.5 715.4,124.0 717.0,123.5 718.6,123.0 720.2,122.8 721.8,122.7 723.4,122.8 725.0,123.0 726.6,123.3 728.2,123.6 729.8,123.9 731.4,124.3 733.0,124.8 734.6,125.6 736.2,126.6 737.8,127.8 739.4,129.1 741.0,130.3 742.6,131.3 744.2,132.1 745.8,132.8 747.4,133.3 749.0,134.0 750.6,134.9 752.2,136.1 753.8,137.6 755.4,139.4 757.0,141.2 758.6,143.0 760.2,144.6 761.8,146.0 763.4,147.2 765.0,148.2 766.6,149.0 768.2,149.7 769.8,150.2 771.4,150.6 773.0,151.0 774.6,151.3 776.2,151.7 777.8,152.3 779.4,153.0 781.0,153.9 782.6,154.8 784.2,155.7 785.8,156.6 787.4,157.4 789.0,158.2 790.6,159.1 792.2,159.9 793.8,160.9 795.4,162.0 797.0,163.2 798.6,164.5 800.2,165.9 801.8,167.3 803.4,168.8 805.0,170.4 806.6,172.0 808.2,173.6 809.8,175.4 811.4,177.3 813.0,179.3 814.6,181.5 816.2,183.7 817.8,186.0 819.4,188.3 821.0,190.6 822.6,192.8 824.2,195.0 825.8,197.3 827.4,199.7 829.0,202.1 830.6,204.5 832.2,206.9 833.8,209.3 835.4,211.7 837.0,214.1 838.6,216.4 840.2,218.8 841.8,221.3 843.4,224.0 845.0,226.8 846.6,229.8 848.2,232.8 849.8,235.9 851.4,239.0 853.0,241.9 854.6,244.7 856.2,247.3 857.8,249.8 859.4,252.3 861.0,254.9 862.6,257.6 864.2,260.6 865.8,263.9 867.4,267.4 869.0,271.0 870.6,274.9 872.2,278.9 873.8,283.0 875.4,287.1 877.0,291.3 878.6,295.3 880.2,299.3 881.8,303.1 883.4,306.8 885.0,310.6 886.6,314.4 888.2,318.4 889.8,322.8 891.4,327.4 893.0,332.3 894.6,337.5 896.2,342.8 897.8,348.2 899.4,353.6 901.0,358.9 902.6,364.2 904.2,369.3 905.8,374.3 907.4,379.1 909.0,383.8 910.6,388.5 912.2,393.0 913.8,397.6 915.4,402.3 917.0,407.1 918.6,412.0 920.6,417.0" fill="none" stroke="#3c7ade" stroke-width="1.3" stroke-linejoin="round" />
<polyline points="128.2,448.4 129.8,450.8 131.4,453.2 133.0,455.5 134.6,457.9 136.2,460.3 137.8,462.7 139.4,465.3 141.0,468.0 142.6,470.8 144.2,473.7 145.8,476.6 147.4,479.5 149.0,482.3 150.6,485.0 152.2,487.6 153.8,490.1 155.4,492.4 157.0,494.6 158.6,496.7 160.2,498.7 161.8,500.6 163.4,502.3 165.0,503.9 166.6,505.4 168.2,506.7 169.8,507.9 171.4,509.0 173.0,510.0 174.6,511.0 176.2,511.9 177.8,512.7 179.4,513.6 181.0,514.4 182.6,515.4 184.2,516.3 185.8,517.4 187.4,518.5 189.0,519.5 190.6,520.5 192.2,521.4 193.8,522.2 195.4,523.0 197.0,523.9 198.6,524.9 200.2,526.1 201.8,527.5 203.4,529.0 205.0,530.6 206.6,532.3 208.2,533.8 209.8,535.2 211.4,536.3 213.0,537.3 214.6,538.0 216.2,538.6 217.8,539.1 219.4,539.6 221.0,540.0 222.6,540.5 224.2,541.0 225.8,541.6 227.4,542.2 229.0,542.8 230.6,543.3 232.2,543.9 233.8,544.4 235.4,544.9 237.0,545.4 238.6,546.0 240.2,546.5 241.8,546.9 243.4,547.2 245.0,547.3 246.6,547.2 248.2,547.0 249.8,546.7 251.4,546.2 253.0,545.6 254.6,545.0 256.2,544.2 257.8,543.5 259.4,542.8 261.0,542.2 262.6,541.6 264.2,541.0 265.8,540.5 267.4,539.9 269.0,539.3 270.6,538.6 272.2,537.8 273.8,536.8 275.4,535.7 277.0,534.5 278.6,533.2 280.2,532.1 281.8,531.0 283.4,530.1 285.0,529.4 286.6,528.8 288.2,528.3 289.8,527.9 291.4,527.4 293.0,526.8 294.6,526.0 296.2,525.1 297.8,523.9 299.4,522.4 301.0,520.6 302.6,518.6 304.2,516.4 305.8,514.2 307.4,512.1 309.0,510.1 310.6,508.4 312.2,507.0 313.8,505.8 315.4,504.8 317.0,503.8 318.6,502.8 320.2,501.6 321.8,500.3 323.4,498.7 325.0,497.1 326.6,495.4 328.2,493.7 329.8,492.0 331.4,490.4 333.0,488.8 334.6,487.1 336.2,485.4 337.8,483.6 339.4,481.6 341.0,479.4 342.6,477.1 344.2,474.7 345.8,472.2 347.4,469.6 349.0,467.2 350.6,465.0 352.2,462.9 353.8,460.9 355.4,459.0 357.0,457.2 358.6,455.2 360.2,453.1 361.8,451.0 363.4,448.9 365.0,446.9 366.6,445.0 368.2,443.3 369.8,441.6 371.4,440.0 373.0,438.4 374.6,436.9 376.2,435.4 377.8,434.0 379.4,432.5 381.0,431.0 382.6,429.4 384.2,427.5 385.8,425.6 387.4,423.4 389.0,421.2 390.6,419.1 392.2,417.0 393.8,415.1 395.4,413.3 397.0,411.5 398.6,409.6 400.2,407.6 401.8,405.4 403.4,403.0 405.0,400.5 406.6,397.9 408.2,395.3 409.8,392.8 411.4,390.5 413.0,388.4 414.6,386.4 416.2,384.5 417.8,382.6 419.4,380.8 421.0,378.9 422.6,377.0 424.2,375.0 425.8,373.0 427.4,370.9 429.0,368.7 430.6,366.4 432.2,364.1 433.8,361.8 435.4,359.4 437.0,357.1 438.6,354.9 440.2,352.7 441.8,350.7 443.4,348.6 445.0,346.7 446.6,344.7 448.2,342.8 449.8,340.9 451.4,339.0 453.0,337.0 454.6,334.9 456.2,332.8 457.8,330.5 459.4,328.0 461.0,325.4 462.6,322.7 464.2,320.0 465.8,317.1 467.4,314.1 469.0,311.1 470.6,308.0 472.2,304.9 473.8,301.9 475.4,298.9 477.0,296.1 478.6,293.5 480.2,291.1 481.8,288.9 483.4,286.9 485.0,285.1 486.6,283.4 488.2,281.9 489.8,280.2 491.4,278.5 493.0,276.6 494.6,274.4 496.2,272.2 497.8,269.8 499.4,267.5 501.0,265.3 502.6,263.2 504.2,261.2 505.8,259.5 507.4,257.8 509.0,256.1 510.6,254.5 512.2,252.9 513.8,251.2 515.4,249.5 517.0,247.8 518.6,246.1 520.2,244.5 521.8,242.8 523.4,241.2 525.0,239.5 526.6,237.9 528.2,236.2 529.8,234.5 531.4,232.9 533.0,231.4 534.6,230.0 536.2,228.7 537.8,227.6 539.4,226.6 541.0,225.7 542.6,225.0 544.2,224.5 545.8,224.1 547.4,223.7 549.0,223.3 550.6,222.7 552.2,221.9 553.8,220.9 555.4,219.7 557.0,218.4 558.6,216.9 560.2,215.3 561.8,213.6 563.4,211.8 565.0,209.9 566.6,207.9 568.2,206.0 569.8,204.1 571.4,202.3 573.0,200.7 574.6,199.2 576.2,197.7 577.8,196.4 579.4,195.2 581.0,194.1 582.6,193.2 584.2,192.4 585.8,191.8 587.4,191.3 589.0,190.8 590.6,190.3 592.2,189.7 593.8,189.0 595.4,188.2 597.0,187.2 598.6,186.1 600.2,185.0 601.8,183.9 603.4,182.9 605.0,182.1 606.6,181.4 608.2,180.8 609.8,180.3 611.4,179.7 613.0,179.1 614.6,178.3 616.2,177.6 617.8,176.7 619.4,175.9 621.0,175.1 622.6,174.3 624.2,173.5 625.8,172.7 627.4,171.8 629.0,170.8 630.6,169.6 632.2,168.4 633.8,167.2 635.4,165.9 637.0,164.6 638.6,163.3 640.2,162.2 641.8,161.3 643.4,160.7 645.0,160.2 646.6,160.1 648.2,160.1 649.8,160.3 651.4,160.7 653.0,161.1 654.6,161.6 656.2,162.0 657.8,162.3 659.4,162.5 661.0,162.5 662.6,162.2 664.2,161.7 665.8,160.9 667.4,160.0 669.0,158.9 670.6,157.8 672.2,156.8 673.8,155.9 675.4,155.0 677.0,154.3 678.6,153.7 680.2,153.1 681.8,152.6 683.4,152.3 685.0,152.2 686.6,152.3 688.2,152.7 689.8,153.4 691.4,154.5 693.0,155.8 694.6,157.2 696.2,158.7 697.8,160.1 699.4,161.1 701.0,161.8 702.6,162.0 704.2,161.8 705.8,161.4 707.4,160.9 709.0,160.6 710.6,160.4 712.2,160.4 713.8,160.6 715.4,160.8 717.0,160.9 718.6,161.0 720.2,160.8 721.8,160.6 723.4,160.3 725.0,160.1 726.6,159.9 728.2,159.7 729.8,159.6 731.4,159.5 733.0,159.4 734.6,159.3 736.2,159.1 737.8,159.0 739.4,158.9 741.0,158.9 742.6,158.9 744.2,159.0 745.8,159.0 747.4,159.0 749.0,159.1 750.6,159.1 752.2,159.2 753.8,159.2 755.4,159.3 757.0,159.3 758.6,159.3 760.2,159.4 761.8,159.7 763.4,160.2 765.0,161.1 766.6,162.4 768.2,164.1 769.8,166.0 771.4,168.0 773.0,169.9 774.6,171.7 776.2,173.2 777.8,174.5 779.4,175.6 781.0,176.4 782.6,177.1 784.2,177.7 785.8,178.3 787.4,178.9 789.0,179.5 790.6,180.1 792.2,180.7 793.8,181.2 795.4,181.7 797.0,182.1 798.6,182.7 800.2,183.4 801.8,184.3 803.4,185.5 805.0,187.0 806.6,188.7 808.2,190.5 809.8,192.4 811.4,194.1 813.0,195.8 814.6,197.3 816.2,198.7 817.8,200.0 819.4,201.4 821.0,202.8 822.6,204.3 824.2,205.9 825.8,207.7 827.4,209.5 829.0,211.5 830.6,213.6 832.2,215.8 833.8,218.2 835.4,220.9 837.0,223.7 838.6,226.8 840.2,229.9 841.8,233.1 843.4,236.2 845.0,239.3 846.6,242.3 848.2,245.2 849.8,248.0 851.4,250.8 853.0,253.6 854.6,256.4 856.2,259.4 857.8,262.6 859.4,265.8 861.0,269.2 862.6,272.7 864.2,276.0 865.8,279.3 867.4,282.3 869.0,285.3 870.6,288.2 872.2,291.2 873.8,294.4 875.4,298.0 877.0,301.9 878.6,306.2 880.2,310.8 881.8,315.6 883.4,320.7 885.0,325.9 886.6,331.3 888.2,336.7 889.8,342.3 891.4,347.9 893.0,353.5 894.6,359.1 896.2,364.5 897.8,369.9 899.4,375.0 901.0,380.1 902.6,385.0 904.2,389.8 905.8,394.5 907.4,399.2 909.0,403.9 910.6,408.6 912.2,413.3 913.8,418.1 915.4,422.9 917.0,427.8 918.6,432.6 920.6,437.5" fill="none" stroke="#3d81df" stroke-width="1.3" stroke-linejoin="round" />
<polyline points="128.2,447.8 129.8,449.4 131.4,451.1 133.0,453.0 134.6,455.1 136.2,457.6 137.8,460.3 139.4,463.3 141.0,466.5 142.6,469.7 144.2,473.0 145.8,476.2 147.4,479.2 149.0,482.1 150.6,484.7 152.2,487.0 153.8,489.1 155.4,491.0 157.0,492.7 158.6,494.3 160.2,495.8 161.8,497.2 163.4,498.6 165.0,500.0 166.6,501.3 168.2,502.7 169.8,504.1 171.4,505.7 173.0,507.5 174.6,509.4 176.2,511.3 177.8,513.3 179.4,515.2 181.0,517.1 182.6,518.9 184.2,520.6 185.8,522.3 187.4,523.9 189.0,525.4 190.6,526.9 192.2,528.3 193.8,529.5 195.4,530.5 197.0,531.4 198.6,532.2 200.2,532.9 201.8,533.5 203.4,534.0 205.0,534.5 206.6,534.9 208.2,535.4 209.8,536.0 211.4,536.5 213.0,537.1 214.6,537.6 216.2,538.1 217.8,538.5 219.4,538.9 221.0,539.2 222.6,539.6 224.2,540.1 225.8,540.7 227.4,541.5 229.0,542.3 230.6,543.2 232.2,544.1 233.8,545.0 235.4,545.7 237.0,546.4 238.6,547.0 240.2,547.4 241.8,547.7 243.4,547.7 245.0,547.6 246.6,547.2 248.2,546.6 249.8,545.8 251.4,545.1 253.0,544.3 254.6,543.6 256.2,543.0 257.8,542.5 259.4,542.2 261.0,541.9 262.6,541.6 264.2,541.2 265.8,540.7 267.4,540.0 269.0,539.0 270.6,538.0 272.2,536.9 273.8,535.9 275.4,535.1 277.0,534.5 278.6,534.1 280.2,533.9 281.8,533.8 283.4,533.6 285.0,533.4 286.6,533.0 288.2,532.4 289.8,531.5 291.4,530.5 293.0,529.2 294.6,527.8 296.2,526.2 297.8,524.5 299.4,522.7 301.0,520.9 302.6,519.1 304.2,517.4 305.8,515.8 307.4,514.3 309.0,513.0 310.6,511.8 312.2,510.7 313.8,509.5 315.4,508.3 317.0,507.1 318.6,505.8 320.2,504.5 321.8,503.2 323.4,501.9 325.0,500.4 326.6,498.8 328.2,497.0 329.8,495.1 331.4,493.1 333.0,490.9 334.6,488.7 336.2,486.6 337.8,484.5 339.4,482.4 341.0,480.2 342.6,478.0 344.2,475.6 345.8,473.1 347.4,470.4 349.0,467.8 350.6,465.2 352.2,462.7 353.8,460.3 355.4,458.1 357.0,456.1 358.6,454.2 360.2,452.3 361.8,450.4 363.4,448.6 365.0,446.7 366.6,444.8 368.2,443.0 369.8,441.2 371.4,439.6 373.0,438.0 374.6,436.5 376.2,435.0 377.8,433.5 379.4,431.9 381.0,430.3 382.6,428.7 384.2,427.2 385.8,425.7 387.4,424.3 389.0,422.9 390.6,421.5 392.2,419.9 393.8,418.1 395.4,416.1 397.0,413.9 398.6,411.5 400.2,409.0 401.8,406.4 403.4,403.9 405.0,401.3 406.6,398.9 408.2,396.5 409.8,394.1 411.4,391.9 413.0,389.6 414.6,387.5 416.2,385.4 417.8,383.5 419.4,381.6 421.0,379.9 422.6,378.3 424.2,376.7 425.8,375.2 427.4,373.6 429.0,372.0 430.6,370.5 432.2,369.0 433.8,367.5 435.4,365.9 437.0,364.3 438.6,362.6 440.2,360.8 441.8,359.0 443.4,357.1 445.0,355.3 446.6,353.4 448.2,351.6 449.8,349.9 451.4,348.0 453.0,346.2 454.6,344.3 456.2,342.4 457.8,340.5 459.4,338.5 461.0,336.5 462.6,334.4 464.2,332.2 465.8,329.9 467.4,327.7 469.0,325.4 470.6,323.2 472.2,321.0 473.8,318.8 475.4,316.6 477.0,314.5 478.6,312.4 480.2,310.4 481.8,308.5 483.4,306.7 485.0,305.1 486.6,303.6 488.2,302.2 489.8,300.7 491.4,299.2 493.0,297.6 494.6,295.7 496.2,293.6 497.8,291.4 499.4,289.0 501.0,286.6 502.6,284.2 504.2,281.8 505.8,279.7 507.4,277.7 509.0,275.9 510.6,274.2 512.2,272.6 513.8,270.9 515.4,269.1 517.0,267.1 518.6,265.0 520.2,262.7 521.8,260.4 523.4,258.1 525.0,256.1 526.6,254.3 528.2,252.7 529.8,251.2 531.4,249.9 533.0,248.5 534.6,247.1 536.2,245.5 537.8,243.8 539.4,242.0 541.0,240.2 542.6,238.4 544.2,236.8 545.8,235.3 547.4,233.9 549.0,232.7 550.6,231.5 552.2,230.3 553.8,228.9 555.4,227.3 557.0,225.4 558.6,223.3 560.2,221.1 561.8,219.1 563.4,217.2 565.0,215.6 566.6,214.2 568.2,213.1 569.8,212.1 571.4,210.9 573.0,209.6 574.6,208.2 576.2,206.6 577.8,205.0 579.4,203.4 581.0,202.1 582.6,200.8 584.2,199.7 585.8,198.5 587.4,197.1 589.0,195.5 590.6,193.7 592.2,191.7 593.8,189.6 595.4,187.5 597.0,185.5 598.6,183.8 600.2,182.4 601.8,181.4 603.4,180.8 605.0,180.6 606.6,180.5 608.2,180.6 609.8,180.6 611.4,180.6 613.0,180.4 614.6,180.0 616.2,179.5 617.8,178.9 619.4,178.1 621.0,177.4 622.6,176.7 624.2,176.1 625.8,175.5 627.4,175.0 629.0,174.6 630.6,174.1 632.2,173.5 633.8,172.8 635.4,171.8 637.0,170.6 638.6,169.3 640.2,168.0 641.8,166.8 643.4,165.9 645.0,165.3 646.6,165.1 648.2,165.2 649.8,165.3 651.4,165.4 653.0,165.4 654.6,165.0 656.2,164.4 657.8,163.6 659.4,162.6 661.0,161.7 662.6,161.0 664.2,160.4 665.8,160.0 667.4,159.9 669.0,159.9 670.6,160.2 672.2,160.5 673.8,161.0 675.4,161.5 677.0,162.1 678.6,162.6 680.2,163.0 681.8,163.2 683.4,163.1 685.0,162.8 686.6,162.3 688.2,161.8 689.8,161.1 691.4,160.6 693.0,160.1 694.6,159.7 696.2,159.4 697.8,159.2 699.4,159.0 701.0,158.9 702.6,158.8 704.2,158.7 705.8,158.7 707.4,158.8 709.0,159.1 710.6,159.4 712.2,159.8 713.8,160.2 715.4,160.5 717.0,160.5 718.6,160.3 720.2,159.7 721.8,158.7 723.4,157.5 725.0,156.2 726.6,155.0 728.2,154.0 729.8,153.5 731.4,153.3 733.0,153.5 734.6,153.9 736.2,154.4 737.8,155.1 739.4,156.0 741.0,157.0 742.6,158.1 744.2,159.3 745.8,160.4 747.4,161.4 749.0,162.1 750.6,162.6 752.2,162.9 753.8,163.0 755.4,163.1 757.0,163.2 758.6,163.6 760.2,164.2 761.8,165.2 763.4,166.4 765.0,167.8 766.6,169.4 768.2,170.9 769.8,172.3 771.4,173.5 773.0,174.6 774.6,175.5 776.2,176.2 777.8,176.9 779.4,177.5 781.0,178.1 782.6,178.6 784.2,179.1 785.8,179.7 787.4,180.5 789.0,181.6 790.6,182.9 792.2,184.6 793.8,186.6 795.4,188.6 797.0,190.7 798.6,192.6 800.2,194.4 801.8,196.0 803.4,197.4 805.0,198.8 806.6,200.1 808.2,201.5 809.8,202.9 811.4,204.5 813.0,206.2 814.6,208.2 816.2,210.4 817.8,212.6 819.4,214.7 821.0,216.6 822.6,218.4 824.2,220.1 825.8,221.8 827.4,223.6 829.0,225.6 830.6,227.7 832.2,229.9 833.8,232.2 835.4,234.6 837.0,237.1 838.6,239.8 840.2,242.7 841.8,245.6 843.4,248.6 845.0,251.6 846.6,254.4 848.2,256.9 849.8,259.4 851.4,261.8 853.0,264.2 854.6,266.8 856.2,269.6 857.8,272.6 859.4,275.9 861.0,279.3 862.6,282.9 864.2,286.5 865.8,290.4 867.4,294.3 869.0,298.4 870.6,302.8 872.2,307.2 873.8,311.9 875.4,316.7 877.0,321.5 878.6,326.5 880.2,331.4 881.8,336.2 883.4,341.1 885.0,345.8 886.6,350.4 888.2,355.0 889.8,359.5 891.4,363.9 893.0,368.3 894.6,372.6 896.2,376.9 897.8,381.2 899.4,385.5 901.0,389.9 902.6,394.4 904.2,398.9 905.8,403.3 907.4,407.7 909.0,411.9 910.6,416.2 912.2,420.4 913.8,424.5 915.4,428.8 917.0,433.2 918.6,437.7 920.6,442.3" fill="none" stroke="#3e88e0" stroke-width="1.3" stroke-linejoin="round" />
<polyline points="128.2,458.4 129.8,460.5 131.4,462.6 133.0,464.6 134.6,466.6 136.2,468.6 137.8,470.6 139.4,472.6 141.0,474.8 142.6,477.1 144.2,479.5 145.8,482.0 147.4,484.5 149.0,487.0 150.6,489.5 152.2,491.8 153.8,494.0 155.4,496.1 157.0,497.9 158.6,499.7 160.2,501.4 161.8,503.1 163.4,504.7 165.0,506.4 166.6,508.1 168.2,509.8 169.8,511.6 171.4,513.4 173.0,515.2 174.6,516.9 176.2,518.7 177.8,520.4 179.4,522.0 181.0,523.6 182.6,525.0 184.2,526.4 185.8,527.6 187.4,528.7 189.0,529.8 190.6,530.8 192.2,531.8 193.8,532.8 195.4,533.7 197.0,534.5 198.6,535.3 200.2,535.9 201.8,536.5 203.4,536.9 205.0,537.2 206.6,537.5 208.2,537.7 209.8,537.8 211.4,537.9 213.0,538.0 214.6,538.1 216.2,538.2 217.8,538.3 219.4,538.5 221.0,538.8 222.6,539.1 224.2,539.5 225.8,539.9 227.4,540.3 229.0,540.6 230.6,540.8 232.2,541.1 233.8,541.3 235.4,541.5 237.0,541.8 238.6,542.0 240.2,542.1 241.8,542.2 243.4,542.2 245.0,542.2 246.6,542.1 248.2,541.9 249.8,541.8 251.4,541.6 253.0,541.5 254.6,541.5 256.2,541.4 257.8,541.4 259.4,541.4 261.0,541.3 262.6,541.2 264.2,541.1 265.8,541.0 267.4,540.9 269.0,540.8 270.6,540.6 272.2,540.2 273.8,539.7 275.4,539.0 277.0,538.1 278.6,537.0 280.2,535.8 281.8,534.5 283.4,533.3 285.0,532.1 286.6,530.9 288.2,529.8 289.8,528.6 291.4,527.3 293.0,526.0 294.6,524.5 296.2,523.0 297.8,521.3 299.4,519.7 301.0,517.9 302.6,516.2 304.2,514.5 305.8,512.8 307.4,511.1 309.0,509.6 310.6,508.1 312.2,506.7 313.8,505.2 315.4,503.6 317.0,501.8 318.6,499.9 320.2,498.0 321.8,496.0 323.4,494.2 325.0,492.5 326.6,491.0 328.2,489.5 329.8,488.1 331.4,486.6 333.0,484.9 334.6,483.0 336.2,480.9 337.8,478.7 339.4,476.3 341.0,473.9 342.6,471.3 344.2,468.8 345.8,466.2 347.4,463.6 349.0,461.1 350.6,458.5 352.2,456.0 353.8,453.5 355.4,451.1 357.0,448.8 358.6,446.6 360.2,444.5 361.8,442.7 363.4,441.0 365.0,439.4 366.6,437.8 368.2,436.1 369.8,434.4 371.4,432.5 373.0,430.4 374.6,428.4 376.2,426.3 377.8,424.3 379.4,422.3 381.0,420.4 382.6,418.4 384.2,416.5 385.8,414.5 387.4,412.6 389.0,410.5 390.6,408.4 392.2,406.1 393.8,403.8 395.4,401.5 397.0,399.1 398.6,396.8 400.2,394.7 401.8,392.8 403.4,391.0 405.0,389.4 406.6,388.0 408.2,386.7 409.8,385.3 411.4,383.9 413.0,382.4 414.6,380.8 416.2,379.0 417.8,377.2 419.4,375.3 421.0,373.3 422.6,371.2 424.2,369.1 425.8,366.9 427.4,364.6 429.0,362.3 430.6,359.9 432.2,357.5 433.8,355.2 435.4,353.1 437.0,351.1 438.6,349.3 440.2,347.7 441.8,346.2 443.4,344.9 445.0,343.4 446.6,341.9 448.2,340.3 449.8,338.5 451.4,336.5 453.0,334.5 454.6,332.4 456.2,330.3 457.8,328.3 459.4,326.3 461.0,324.3 462.6,322.5 464.2,320.8 465.8,319.2 467.4,318.0 469.0,316.9 470.6,316.1 472.2,315.4 473.8,314.8 475.4,314.1 477.0,313.3 478.6,312.3 480.2,311.0 481.8,309.5 483.4,307.7 485.0,305.6 486.6,303.2 488.2,300.7 489.8,298.2 491.4,295.7 493.0,293.3 494.6,291.0 496.2,288.8 497.8,286.6 499.4,284.4 501.0,282.1 502.6,279.7 504.2,277.4 505.8,275.2 507.4,273.1 509.0,271.2 510.6,269.5 512.2,268.0 513.8,266.7 515.4,265.5 517.0,264.2 518.6,262.7 520.2,261.0 521.8,259.0 523.4,256.7 525.0,254.3 526.6,251.7 528.2,249.2 529.8,246.8 531.4,244.7 533.0,243.0 534.6,241.8 536.2,241.0 537.8,240.5 539.4,240.3 541.0,240.1 542.6,239.8 544.2,239.4 545.8,238.7 547.4,237.7 549.0,236.6 550.6,235.2 552.2,233.7 553.8,231.9 555.4,230.0 557.0,227.8 558.6,225.5 560.2,223.0 561.8,220.4 563.4,217.5 565.0,214.7 566.6,211.9 568.2,209.3 569.8,207.0 571.4,205.1 573.0,203.4 574.6,201.9 576.2,200.4 577.8,198.8 579.4,197.2 581.0,195.4 582.6,193.7 584.2,192.1 585.8,190.7 587.4,189.5 589.0,188.4 590.6,187.5 592.2,186.6 593.8,185.7 595.4,184.7 597.0,183.7 598.6,182.6 600.2,181.5 601.8,180.5 603.4,179.6 605.0,178.9 606.6,178.2 608.2,177.7 609.8,177.2 611.4,176.6 613.0,176.0 614.6,175.3 616.2,174.4 617.8,173.4 619.4,172.3 621.0,171.2 622.6,170.1 624.2,169.2 625.8,168.4 627.4,167.9 629.0,167.7 630.6,167.7 632.2,167.8 633.8,167.9 635.4,167.9 637.0,167.6 638.6,166.8 640.2,165.6 641.8,164.1 643.4,162.3 645.0,160.4 646.6,158.5 648.2,156.7 649.8,155.0 651.4,153.5 653.0,152.2 654.6,151.1 656.2,150.2 657.8,149.6 659.4,149.4 661.0,149.3 662.6,149.5 664.2,149.6 665.8,149.7 667.4,149.5 669.0,149.1 670.6,148.4 672.2,147.6 673.8,146.6 675.4,145.6 677.0,144.6 678.6,143.9 680.2,143.4 681.8,143.1 683.4,143.0 685.0,142.9 686.6,142.9 688.2,142.7 689.8,142.5 691.4,142.1 693.0,141.7 694.6,141.2 696.2,140.8 697.8,140.4 699.4,140.1 701.0,139.7 702.6,139.4 704.2,138.9 705.8,138.2 707.4,137.4 709.0,136.5 710.6,135.5 712.2,134.6 713.8,133.9 715.4,133.4 717.0,133.3 718.6,133.6 720.2,134.1 721.8,134.9 723.4,135.9 725.0,136.9 726.6,138.0 728.2,139.0 729.8,139.9 731.4,140.6 733.0,141.1 734.6,141.2 736.2,141.0 737.8,140.6 739.4,140.1 741.0,139.5 742.6,138.9 744.2,138.4 745.8,137.9 747.4,137.5 749.0,137.2 750.6,136.9 752.2,136.9 753.8,137.1 755.4,137.6 757.0,138.6 758.6,139.9 760.2,141.5 761.8,143.4 763.4,145.2 765.0,147.0 766.6,148.7 768.2,150.3 769.8,151.8 771.4,153.3 773.0,154.8 774.6,156.2 776.2,157.7 777.8,159.2 779.4,160.7 781.0,162.2 782.6,163.6 784.2,164.9 785.8,166.1 787.4,167.3 789.0,168.6 790.6,170.0 792.2,171.6 793.8,173.4 795.4,175.3 797.0,177.4 798.6,179.5 800.2,181.7 801.8,183.9 803.4,186.0 805.0,188.1 806.6,190.2 808.2,192.2 809.8,194.2 811.4,196.3 813.0,198.6 814.6,201.0 816.2,203.6 817.8,206.3 819.4,209.0 821.0,211.5 822.6,213.9 824.2,216.0 825.8,217.8 827.4,219.4 829.0,221.0 830.6,222.6 832.2,224.3 833.8,226.2 835.4,228.3 837.0,230.7 838.6,233.3 840.2,236.1 841.8,239.0 843.4,241.9 845.0,245.0 846.6,248.1 848.2,251.3 849.8,254.5 851.4,257.7 853.0,261.0 854.6,264.4 856.2,267.9 857.8,271.4 859.4,275.1 861.0,279.0 862.6,282.9 864.2,287.0 865.8,291.0 867.4,295.2 869.0,299.3 870.6,303.4 872.2,307.7 873.8,312.1 875.4,316.7 877.0,321.5 878.6,326.4 880.2,331.4 881.8,336.3 883.4,341.2 885.0,346.0 886.6,350.6 888.2,355.1 889.8,359.5 891.4,363.8 893.0,368.2 894.6,372.6 896.2,377.1 897.8,381.7 899.4,386.5 901.0,391.3 902.6,396.2 904.2,401.1 905.8,405.8 907.4,410.4 909.0,414.8 910.6,419.1 912.2,423.3 913.8,427.3 915.4,431.2 917.0,435.1 918.6,438.9 920.6,442.8" fill="none" stroke="#3e8ee0" stroke-width="1.3" stroke-linejoin="round" />
<polyline points="128.2,403.4 129.8,405.6 131.4,408.0 133.0,410.8 134.6,413.9 136.2,417.2 137.8,420.7 139.4,424.1 141.0,427.3 142.6,430.3 144.2,433.0 145.8,435.5 147.4,437.7 149.0,439.9 150.6,442.0 152.2,444.2 153.8,446.5 155.4,448.9 157.0,451.3 158.6,453.7 160.2,456.1 161.8,458.4 163.4,460.5 165.0,462.5 166.6,464.3 168.2,466.1 169.8,467.7 171.4,469.3 173.0,470.8 174.6,472.4 176.2,474.0 177.8,475.6 179.4,477.2 181.0,478.8 182.6,480.4 184.2,482.0 185.8,483.6 187.4,485.1 189.0,486.6 190.6,488.1 192.2,489.6 193.8,491.1 195.4,492.6 197.0,494.0 198.6,495.2 200.2,496.3 201.8,497.3 203.4,498.2 205.0,499.0 206.6,499.8 208.2,500.6 209.8,501.6 211.4,502.6 213.0,503.7 214.6,505.0 216.2,506.2 217.8,507.6 219.4,508.9 221.0,510.3 222.6,511.6 224.2,512.8 225.8,514.0 227.4,515.0 229.0,516.0 230.6,516.7 232.2,517.3 233.8,517.7 235.4,517.9 237.0,517.8 238.6,517.5 240.2,517.2 241.8,516.8 243.4,516.5 245.0,516.4 246.6,516.5 248.2,516.7 249.8,517.1 251.4,517.6 253.0,518.2 254.6,518.8 256.2,519.4 257.8,520.0 259.4,520.4 261.0,520.8 262.6,520.9 264.2,520.9 265.8,520.7 267.4,520.3 269.0,519.7 270.6,519.0 272.2,518.2 273.8,517.2 275.4,516.2 277.0,515.1 278.6,514.0 280.2,512.9 281.8,511.8 283.4,510.7 285.0,509.6 286.6,508.6 288.2,507.5 289.8,506.4 291.4,505.3 293.0,504.2 294.6,503.1 296.2,502.1 297.8,501.0 299.4,499.8 301.0,498.6 302.6,497.2 304.2,495.7 305.8,494.2 307.4,492.6 309.0,491.2 310.6,489.8 312.2,488.7 313.8,487.6 315.4,486.6 317.0,485.6 318.6,484.5 320.2,483.2 321.8,481.9 323.4,480.5 325.0,479.2 326.6,477.8 328.2,476.6 329.8,475.3 331.4,474.1 333.0,472.8 334.6,471.3 336.2,469.7 337.8,467.8 339.4,465.7 341.0,463.5 342.6,461.1 344.2,458.5 345.8,455.9 347.4,453.3 349.0,450.7 350.6,448.0 352.2,445.5 353.8,443.0 355.4,440.6 357.0,438.2 358.6,435.9 360.2,433.6 361.8,431.3 363.4,429.0 365.0,426.8 366.6,424.5 368.2,422.4 369.8,420.4 371.4,418.4 373.0,416.5 374.6,414.6 376.2,412.7 377.8,410.8 379.4,408.9 381.0,406.9 382.6,405.0 384.2,403.1 385.8,401.3 387.4,399.5 389.0,397.8 390.6,396.0 392.2,394.3 393.8,392.4 395.4,390.4 397.0,388.2 398.6,385.8 400.2,383.3 401.8,380.7 403.4,378.0 405.0,375.4 406.6,372.7 408.2,370.1 409.8,367.5 411.4,364.8 413.0,362.1 414.6,359.4 416.2,356.7 417.8,354.0 419.4,351.3 421.0,348.7 422.6,346.3 424.2,344.0 425.8,341.9 427.4,339.9 429.0,338.0 430.6,336.1 432.2,334.3 433.8,332.5 435.4,330.6 437.0,328.6 438.6,326.5 440.2,324.3 441.8,322.0 443.4,319.6 445.0,317.3 446.6,315.1 448.2,313.2 449.8,311.7 451.4,310.4 453.0,309.5 454.6,308.7 456.2,308.0 457.8,307.2 459.4,306.2 461.0,304.9 462.6,303.4 464.2,301.7 465.8,299.8 467.4,297.8 469.0,295.7 470.6,293.6 472.2,291.5 473.8,289.5 475.4,287.5 477.0,285.6 478.6,283.7 480.2,281.8 481.8,279.9 483.4,277.8 485.0,275.7 486.6,273.6 488.2,271.4 489.8,269.2 491.4,267.0 493.0,264.8 494.6,262.7 496.2,260.5 497.8,258.3 499.4,256.0 501.0,253.6 502.6,251.1 504.2,248.5 505.8,245.7 507.4,242.9 509.0,240.1 510.6,237.5 512.2,235.1 513.8,233.0 515.4,231.1 517.0,229.4 518.6,227.9 520.2,226.4 521.8,225.0 523.4,223.5 525.0,221.9 526.6,220.4 528.2,218.8 529.8,217.2 531.4,215.5 533.0,213.9 534.6,212.3 536.2,210.7 537.8,209.3 539.4,207.9 541.0,206.7 542.6,205.6 544.2,204.5 545.8,203.3 547.4,202.0 549.0,200.5 550.6,198.9 552.2,197.2 553.8,195.4 555.4,193.6 557.0,191.9 558.6,190.2 560.2,188.7 561.8,187.3 563.4,185.9 565.0,184.6 566.6,183.3 568.2,182.2 569.8,181.1 571.4,180.2 573.0,179.3 574.6,178.5 576.2,177.6 577.8,176.4 579.4,175.0 581.0,173.4 582.6,171.8 584.2,170.1 585.8,168.4 587.4,167.0 589.0,165.7 590.6,164.6 592.2,163.6 593.8,162.7 595.4,161.7 597.0,160.7 598.6,159.7 600.2,158.6 601.8,157.5 603.4,156.5 605.0,155.6 606.6,154.9 608.2,154.2 609.8,153.6 611.4,152.9 613.0,152.2 614.6,151.5 616.2,150.7 617.8,149.9 619.4,149.0 621.0,147.9 622.6,146.7 624.2,145.4 625.8,144.0 627.4,142.8 629.0,141.8 630.6,141.3 632.2,141.2 633.8,141.5 635.4,142.0 637.0,142.5 638.6,142.8 640.2,142.8 641.8,142.5 643.4,142.0 645.0,141.2 646.6,140.4 648.2,139.7 649.8,139.0 651.4,138.3 653.0,137.6 654.6,136.8 656.2,135.9 657.8,135.0 659.4,134.0 661.0,133.2 662.6,132.7 664.2,132.3 665.8,132.1 667.4,132.0 669.0,132.1 670.6,132.2 672.2,132.3 673.8,132.3 675.4,132.2 677.0,132.0 678.6,131.8 680.2,131.6 681.8,131.4 683.4,131.2 685.0,131.0 686.6,130.7 688.2,130.4 689.8,129.9 691.4,129.3 693.0,128.7 694.6,128.2 696.2,127.8 697.8,127.5 699.4,127.3 701.0,127.0 702.6,126.7 704.2,126.2 705.8,125.5 707.4,124.8 709.0,124.2 710.6,123.8 712.2,123.8 713.8,124.2 715.4,125.0 717.0,126.0 718.6,127.0 720.2,127.7 721.8,128.2 723.4,128.4 725.0,128.4 726.6,128.3 728.2,128.2 729.8,128.2 731.4,128.2 733.0,128.1 734.6,127.8 736.2,127.4 737.8,126.9 739.4,126.3 741.0,125.8 742.6,125.3 744.2,124.9 745.8,124.7 747.4,124.6 749.0,124.6 750.6,124.8 752.2,125.1 753.8,125.7 755.4,126.5 757.0,127.6 758.6,128.9 760.2,130.2 761.8,131.6 763.4,132.9 765.0,134.2 766.6,135.6 768.2,137.1 769.8,138.5 771.4,140.0 773.0,141.4 774.6,142.7 776.2,143.8 777.8,144.8 779.4,145.6 781.0,146.3 782.6,147.1 784.2,147.9 785.8,148.8 787.4,149.8 789.0,151.0 790.6,152.4 792.2,153.8 793.8,155.3 795.4,156.9 797.0,158.4 798.6,159.9 800.2,161.5 801.8,163.1 803.4,164.7 805.0,166.3 806.6,167.9 808.2,169.5 809.8,171.1 811.4,172.6 813.0,174.2 814.6,175.8 816.2,177.4 817.8,179.0 819.4,180.6 821.0,182.4 822.6,184.3 824.2,186.4 825.8,188.6 827.4,190.9 829.0,193.3 830.6,195.7 832.2,198.2 833.8,200.8 835.4,203.5 837.0,206.4 838.6,209.5 840.2,212.9 841.8,216.5 843.4,220.2 845.0,223.8 846.6,227.3 848.2,230.6 849.8,233.6 851.4,236.3 853.0,238.8 854.6,241.1 856.2,243.4 857.8,245.7 859.4,248.2 861.0,250.8 862.6,253.4 864.2,256.2 865.8,258.8 867.4,261.4 869.0,263.9 870.6,266.3 872.2,268.6 873.8,271.0 875.4,273.6 877.0,276.3 878.6,279.3 880.2,282.6 881.8,286.0 883.4,289.6 885.0,293.4 886.6,297.4 888.2,301.6 889.8,306.0 891.4,310.6 893.0,315.4 894.6,320.5 896.2,325.6 897.8,330.8 899.4,336.0 901.0,340.9 902.6,345.6 904.2,350.0 905.8,354.1 907.4,357.8 909.0,361.4 910.6,365.0 912.2,368.7 913.8,372.8 915.4,377.2 917.0,382.0 918.6,387.1 920.6,392.6" fill="none" stroke="#3f95e1" stroke-width="1.3" stroke-linejoin="round" />
<polyline points="128.2,424.3 129.8,426.5 131.4,428.9 133.0,431.5 134.6,434.3 136.2,437.3 137.8,440.3 139.4,443.4 141.0,446.4 142.6,449.4 144.2,452.3 145.8,455.1 147.4,457.9 149.0,460.7 150.6,463.6 152.2,466.5 153.8,469.3 155.4,472.0 157.0,474.6 158.6,477.0 160.2,479.1 161.8,481.0 163.4,482.7 165.0,484.2 166.6,485.5 168.2,486.9 169.8,488.2 171.4,489.7 173.0,491.4 174.6,493.2 176.2,495.2 177.8,497.3 179.4,499.4 181.0,501.5 182.6,503.5 184.2,505.3 185.8,507.0 187.4,508.6 189.0,510.2 190.6,511.9 192.2,513.5 193.8,515.3 195.4,517.1 197.0,518.9 198.6,520.8 200.2,522.7 201.8,524.6 203.4,526.5 205.0,528.1 206.6,529.6 208.2,530.7 209.8,531.5 211.4,532.1 213.0,532.6 214.6,533.0 216.2,533.4 217.8,534.0 219.4,534.6 221.0,535.3 222.6,536.1 224.2,536.9 225.8,537.8 227.4,538.6 229.0,539.4 230.6,540.2 232.2,541.1 233.8,541.8 235.4,542.5 237.0,543.1 238.6,543.4 240.2,543.6 241.8,543.6 243.4,543.5 245.0,543.3 246.6,543.0 248.2,542.6 249.8,542.3 251.4,541.8 253.0,541.3 254.6,540.7 256.2,540.0 257.8,539.3 259.4,538.5 261.0,537.9 262.6,537.2 264.2,536.8 265.8,536.4 267.4,536.0 269.0,535.7 270.6,535.2 272.2,534.4 273.8,533.4 275.4,532.1 277.0,530.6 278.6,529.0 280.2,527.3 281.8,525.6 283.4,523.9 285.0,522.3 286.6,520.8 288.2,519.3 289.8,518.0 291.4,516.7 293.0,515.5 294.6,514.4 296.2,513.3 297.8,512.2 299.4,511.0 301.0,509.7 302.6,508.2 304.2,506.6 305.8,505.0 307.4,503.3 309.0,501.7 310.6,500.0 312.2,498.2 313.8,496.4 315.4,494.4 317.0,492.3 318.6,490.1 320.2,487.9 321.8,485.7 323.4,483.6 325.0,481.8 326.6,480.1 328.2,478.6 329.8,477.2 331.4,475.8 333.0,474.5 334.6,473.0 336.2,471.4 337.8,469.6 339.4,467.7 341.0,465.5 342.6,463.3 344.2,460.9 345.8,458.4 347.4,456.0 349.0,453.6 350.6,451.3 352.2,449.1 353.8,447.0 355.4,445.0 357.0,443.0 358.6,441.1 360.2,439.1 361.8,437.2 363.4,435.2 365.0,433.2 366.6,431.1 368.2,428.9 369.8,426.6 371.4,424.1 373.0,421.7 374.6,419.3 376.2,416.9 377.8,414.6 379.4,412.2 381.0,409.9 382.6,407.4 384.2,404.9 385.8,402.4 387.4,399.7 389.0,397.1 390.6,394.4 392.2,391.9 393.8,389.6 395.4,387.4 397.0,385.4 398.6,383.5 400.2,381.6 401.8,379.8 403.4,377.9 405.0,376.0 406.6,374.0 408.2,371.9 409.8,369.5 411.4,367.0 413.0,364.2 414.6,361.3 416.2,358.2 417.8,355.3 419.4,352.5 421.0,350.0 422.6,347.7 424.2,345.6 425.8,343.6 427.4,341.5 429.0,339.4 430.6,337.1 432.2,334.7 433.8,332.2 435.4,329.8 437.0,327.4 438.6,325.1 440.2,323.0 441.8,321.1 443.4,319.2 445.0,317.3 446.6,315.4 448.2,313.4 449.8,311.3 451.4,309.1 453.0,306.9 454.6,304.7 456.2,302.6 457.8,300.5 459.4,298.6 461.0,296.7 462.6,294.8 464.2,293.0 465.8,291.2 467.4,289.4 469.0,287.4 470.6,285.4 472.2,283.3 473.8,281.2 475.4,279.0 477.0,277.0 478.6,275.1 480.2,273.4 481.8,271.9 483.4,270.6 485.0,269.6 486.6,268.7 488.2,268.0 489.8,267.4 491.4,266.8 493.0,266.1 494.6,265.2 496.2,264.1 497.8,262.7 499.4,261.2 501.0,259.6 502.6,257.9 504.2,256.3 505.8,254.8 507.4,253.4 509.0,252.2 510.6,251.1 512.2,250.0 513.8,248.9 515.4,247.7 517.0,246.2 518.6,244.5 520.2,242.5 521.8,240.3 523.4,237.9 525.0,235.5 526.6,233.2 528.2,230.9 529.8,228.8 531.4,227.0 533.0,225.4 534.6,224.2 536.2,223.4 537.8,222.9 539.4,222.7 541.0,222.6 542.6,222.5 544.2,222.3 545.8,221.9 547.4,221.3 549.0,220.5 550.6,219.6 552.2,218.5 553.8,217.3 555.4,216.0 557.0,214.6 558.6,213.3 560.2,211.9 561.8,210.5 563.4,209.1 565.0,207.6 566.6,205.9 568.2,204.2 569.8,202.3 571.4,200.3 573.0,198.3 574.6,196.3 576.2,194.4 577.8,192.5 579.4,190.6 581.0,188.7 582.6,186.9 584.2,185.1 585.8,183.4 587.4,181.7 589.0,180.1 590.6,178.6 592.2,177.3 593.8,176.1 595.4,175.1 597.0,174.3 598.6,173.6 600.2,173.0 601.8,172.5 603.4,171.9 605.0,171.3 606.6,170.5 608.2,169.5 609.8,168.5 611.4,167.3 613.0,166.1 614.6,164.9 616.2,163.8 617.8,162.8 619.4,162.0 621.0,161.3 622.6,160.7 624.2,160.3 625.8,160.1 627.4,159.9 629.0,159.8 630.6,159.5 632.2,159.2 633.8,158.6 635.4,157.8 637.0,156.7 638.6,155.5 640.2,154.3 641.8,153.1 643.4,152.0 645.0,151.1 646.6,150.3 648.2,149.6 649.8,149.1 651.4,148.6 653.0,148.3 654.6,148.1 656.2,148.1 657.8,148.1 659.4,148.2 661.0,148.3 662.6,148.3 664.2,148.2 665.8,148.0 667.4,147.7 669.0,147.3 670.6,146.9 672.2,146.3 673.8,145.8 675.4,145.1 677.0,144.4 678.6,143.7 680.2,143.1 681.8,142.6 683.4,142.2 685.0,142.0 686.6,142.1 688.2,142.4 689.8,142.8 691.4,143.4 693.0,144.1 694.6,144.8 696.2,145.4 697.8,145.9 699.4,146.1 701.0,146.2 702.6,145.9 704.2,145.4 705.8,144.6 707.4,143.6 709.0,142.5 710.6,141.2 712.2,140.0 713.8,138.7 715.4,137.6 717.0,136.6 718.6,136.0 720.2,135.6 721.8,135.6 723.4,136.0 725.0,136.6 726.6,137.4 728.2,138.4 729.8,139.3 731.4,140.2 733.0,140.9 734.6,141.4 736.2,141.9 737.8,142.3 739.4,142.7 741.0,143.1 742.6,143.5 744.2,143.9 745.8,144.3 747.4,144.5 749.0,144.8 750.6,145.0 752.2,145.3 753.8,145.5 755.4,145.8 757.0,146.1 758.6,146.3 760.2,146.6 761.8,146.9 763.4,147.4 765.0,148.0 766.6,148.9 768.2,150.0 769.8,151.2 771.4,152.5 773.0,153.7 774.6,154.8 776.2,155.7 777.8,156.5 779.4,157.2 781.0,157.8 782.6,158.2 784.2,158.6 785.8,159.1 787.4,159.7 789.0,160.4 790.6,161.4 792.2,162.6 793.8,163.9 795.4,165.4 797.0,167.1 798.6,168.8 800.2,170.6 801.8,172.3 803.4,174.0 805.0,175.5 806.6,176.9 808.2,178.3 809.8,179.5 811.4,180.6 813.0,181.8 814.6,182.9 816.2,184.0 817.8,185.0 819.4,186.0 821.0,187.0 822.6,188.1 824.2,189.4 825.8,190.9 827.4,192.7 829.0,194.7 830.6,197.1 832.2,199.7 833.8,202.5 835.4,205.4 837.0,208.5 838.6,211.8 840.2,215.1 841.8,218.7 843.4,222.3 845.0,226.1 846.6,230.0 848.2,234.0 849.8,238.0 851.4,242.0 853.0,245.9 854.6,249.6 856.2,253.1 857.8,256.4 859.4,259.6 861.0,262.8 862.6,266.0 864.2,269.3 865.8,272.7 867.4,276.3 869.0,280.0 870.6,283.8 872.2,287.7 873.8,291.6 875.4,295.6 877.0,299.7 878.6,303.9 880.2,308.4 881.8,313.0 883.4,317.9 885.0,322.8 886.6,327.8 888.2,332.8 889.8,337.7 891.4,342.5 893.0,347.1 894.6,351.6 896.2,356.0 897.8,360.4 899.4,364.6 901.0,368.8 902.6,372.9 904.2,376.9 905.8,380.8 907.4,384.8 909.0,388.7 910.6,392.7 912.2,396.9 913.8,401.2 915.4,405.6 917.0,410.2 918.6,414.8 920.6,419.5" fill="none" stroke="#409ce2" stroke-width="1.3" stroke-linejoin="round" />
<polyline points="128.2,414.4 129.8,416.5 131.4,418.8 133.0,421.3 134.6,424.0 136.2,426.7 137.8,429.4 139.4,432.0 141.0,434.5 142.6,436.9 144.2,439.3 145.8,441.6 147.4,443.9 149.0,446.1 150.6,448.2 152.2,450.2 153.8,452.1 155.4,454.0 157.0,455.7 158.6,457.5 160.2,459.3 161.8,461.1 163.4,463.0 165.0,464.9 166.6,466.7 168.2,468.5 169.8,470.1 171.4,471.7 173.0,473.1 174.6,474.5 176.2,475.8 177.8,477.1 179.4,478.5 181.0,480.0 182.6,481.5 184.2,483.1 185.8,484.6 187.4,486.0 189.0,487.4 190.6,488.8 192.2,490.2 193.8,491.5 195.4,492.7 197.0,493.8 198.6,494.9 200.2,495.9 201.8,496.8 203.4,497.7 205.0,498.5 206.6,499.3 208.2,500.2 209.8,500.9 211.4,501.6 213.0,502.2 214.6,502.9 216.2,503.6 217.8,504.4 219.4,505.3 221.0,506.3 222.6,507.3 224.2,508.2 225.8,509.0 227.4,509.7 229.0,510.2 230.6,510.6 232.2,510.9 233.8,511.1 235.4,511.3 237.0,511.5 238.6,511.7 240.2,511.8 241.8,512.0 243.4,512.1 245.0,512.3 246.6,512.4 248.2,512.7 249.8,513.1 251.4,513.6 253.0,514.2 254.6,514.8 256.2,515.3 257.8,515.5 259.4,515.5 261.0,515.2 262.6,514.7 264.2,514.0 265.8,513.3 267.4,512.6 269.0,511.9 270.6,511.3 272.2,510.7 273.8,510.2 275.4,509.8 277.0,509.4 278.6,509.1 280.2,508.8 281.8,508.4 283.4,507.8 285.0,507.1 286.6,506.2 288.2,505.2 289.8,503.9 291.4,502.7 293.0,501.4 294.6,500.2 296.2,499.0 297.8,498.0 299.4,497.0 301.0,496.0 302.6,495.0 304.2,494.0 305.8,493.0 307.4,491.8 309.0,490.5 310.6,489.0 312.2,487.4 313.8,485.7 315.4,484.0 317.0,482.2 318.6,480.5 320.2,479.0 321.8,477.5 323.4,476.3 325.0,475.1 326.6,473.9 328.2,472.8 329.8,471.6 331.4,470.3 333.0,468.8 334.6,467.2 336.2,465.5 337.8,463.5 339.4,461.4 341.0,459.2 342.6,456.8 344.2,454.2 345.8,451.5 347.4,448.8 349.0,446.1 350.6,443.5 352.2,441.0 353.8,438.5 355.4,436.2 357.0,433.9 358.6,431.7 360.2,429.4 361.8,427.1 363.4,424.8 365.0,422.5 366.6,420.2 368.2,418.0 369.8,415.9 371.4,413.9 373.0,411.9 374.6,410.0 376.2,408.1 377.8,406.4 379.4,404.7 381.0,403.2 382.6,401.8 384.2,400.5 385.8,399.1 387.4,397.6 389.0,396.0 390.6,394.3 392.2,392.5 393.8,390.7 395.4,389.1 397.0,387.6 398.6,386.2 400.2,384.9 401.8,383.5 403.4,381.9 405.0,380.1 406.6,378.1 408.2,375.9 409.8,373.7 411.4,371.4 413.0,369.3 414.6,367.2 416.2,365.3 417.8,363.5 419.4,361.7 421.0,359.9 422.6,358.1 424.2,356.2 425.8,354.4 427.4,352.8 429.0,351.2 430.6,349.8 432.2,348.4 433.8,347.0 435.4,345.4 437.0,343.7 438.6,341.8 440.2,339.7 441.8,337.4 443.4,335.0 445.0,332.5 446.6,330.0 448.2,327.4 449.8,324.8 451.4,322.4 453.0,320.2 454.6,318.2 456.2,316.3 457.8,314.5 459.4,312.7 461.0,310.8 462.6,308.8 464.2,306.6 465.8,304.5 467.4,302.4 469.0,300.5 470.6,298.8 472.2,297.3 473.8,295.8 475.4,294.3 477.0,292.5 478.6,290.6 480.2,288.4 481.8,286.2 483.4,283.9 485.0,281.8 486.6,279.8 488.2,277.9 489.8,276.2 491.4,274.4 493.0,272.5 494.6,270.5 496.2,268.3 497.8,266.1 499.4,263.9 501.0,261.6 502.6,259.4 504.2,257.0 505.8,254.5 507.4,252.0 509.0,249.4 510.6,246.8 512.2,244.3 513.8,242.1 515.4,240.1 517.0,238.3 518.6,236.6 520.2,234.9 521.8,233.3 523.4,231.6 525.0,229.8 526.6,228.1 528.2,226.5 529.8,225.1 531.4,224.0 533.0,223.1 534.6,222.4 536.2,221.8 537.8,221.1 539.4,220.3 541.0,219.3 542.6,218.1 544.2,216.8 545.8,215.2 547.4,213.6 549.0,211.8 550.6,210.0 552.2,208.1 553.8,206.1 555.4,204.2 557.0,202.4 558.6,200.6 560.2,198.9 561.8,197.3 563.4,195.6 565.0,193.9 566.6,192.1 568.2,190.2 569.8,188.4 571.4,186.7 573.0,185.1 574.6,183.7 576.2,182.6 577.8,181.7 579.4,181.0 581.0,180.3 582.6,179.6 584.2,178.8 585.8,177.8 587.4,176.7 589.0,175.5 590.6,174.4 592.2,173.5 593.8,172.7 595.4,172.1 597.0,171.5 598.6,170.8 600.2,170.0 601.8,169.1 603.4,168.1 605.0,167.0 606.6,166.1 608.2,165.3 609.8,164.6 611.4,164.0 613.0,163.4 614.6,162.7 616.2,162.0 617.8,161.2 619.4,160.5 621.0,159.9 622.6,159.6 624.2,159.4 625.8,159.4 627.4,159.6 629.0,159.8 630.6,159.9 632.2,159.9 633.8,159.6 635.4,159.0 637.0,158.2 638.6,157.2 640.2,156.0 641.8,154.8 643.4,153.6 645.0,152.5 646.6,151.4 648.2,150.6 649.8,149.8 651.4,149.3 653.0,148.9 654.6,148.6 656.2,148.4 657.8,148.2 659.4,148.1 661.0,147.8 662.6,147.4 664.2,146.9 665.8,146.2 667.4,145.6 669.0,144.9 670.6,144.4 672.2,144.1 673.8,143.9 675.4,144.0 677.0,144.2 678.6,144.5 680.2,144.8 681.8,145.2 683.4,145.4 685.0,145.7 686.6,146.0 688.2,146.2 689.8,146.4 691.4,146.5 693.0,146.6 694.6,146.5 696.2,146.3 697.8,146.0 699.4,145.9 701.0,145.8 702.6,146.0 704.2,146.3 705.8,146.8 707.4,147.5 709.0,148.2 710.6,148.8 712.2,149.4 713.8,149.7 715.4,149.8 717.0,149.7 718.6,149.4 720.2,148.9 721.8,148.3 723.4,147.6 725.0,147.0 726.6,146.4 728.2,146.0 729.8,145.7 731.4,145.7 733.0,145.8 734.6,146.1 736.2,146.5 737.8,147.0 739.4,147.5 741.0,148.0 742.6,148.6 744.2,149.2 745.8,149.7 747.4,150.4 749.0,151.0 750.6,151.7 752.2,152.3 753.8,153.0 755.4,153.6 757.0,154.0 758.6,154.2 760.2,154.1 761.8,153.7 763.4,153.1 765.0,152.4 766.6,151.8 768.2,151.4 769.8,151.4 771.4,151.8 773.0,152.6 774.6,153.7 776.2,155.0 777.8,156.6 779.4,158.1 781.0,159.7 782.6,161.3 784.2,162.8 785.8,164.2 787.4,165.5 789.0,166.8 790.6,168.1 792.2,169.4 793.8,170.7 795.4,172.1 797.0,173.5 798.6,175.0 800.2,176.5 801.8,178.0 803.4,179.7 805.0,181.5 806.6,183.6 808.2,185.9 809.8,188.4 811.4,191.0 813.0,193.7 814.6,196.3 816.2,198.6 817.8,200.7 819.4,202.6 821.0,204.3 822.6,206.0 824.2,207.8 825.8,209.6 827.4,211.5 829.0,213.5 830.6,215.5 832.2,217.6 833.8,219.8 835.4,222.0 837.0,224.3 838.6,226.6 840.2,228.9 841.8,231.2 843.4,233.7 845.0,236.2 846.6,238.8 848.2,241.6 849.8,244.6 851.4,247.6 853.0,250.7 854.6,253.7 856.2,256.6 857.8,259.4 859.4,262.1 861.0,264.8 862.6,267.6 864.2,270.5 865.8,273.6 867.4,277.0 869.0,280.7 870.6,284.6 872.2,288.6 873.8,292.8 875.4,297.0 877.0,301.3 878.6,305.5 880.2,309.8 881.8,314.0 883.4,318.3 885.0,322.7 886.6,327.1 888.2,331.7 889.8,336.2 891.4,340.8 893.0,345.4 894.6,350.0 896.2,354.4 897.8,358.8 899.4,363.0 901.0,367.1 902.6,371.1 904.2,375.2 905.8,379.3 907.4,383.5 909.0,387.8 910.6,392.2 912.2,396.6 913.8,401.0 915.4,405.5 917.0,410.0 918.6,414.4 920.6,418.9" fill="none" stroke="#4ea3e2" stroke-width="1.3" stroke-linejoin="round" />
<polyline points="128.2,429.6 129.8,431.0 131.4,432.5 133.0,434.3 134.6,436.3 136.2,438.4 137.8,440.5 139.4,442.8 141.0,445.3 142.6,447.8 144.2,450.5 145.8,453.3 147.4,456.1 149.0,458.8 150.6,461.4 152.2,463.9 153.8,466.2 155.4,468.2 157.0,470.2 158.6,472.1 160.2,473.9 161.8,475.9 163.4,477.9 165.0,480.0 166.6,482.1 168.2,484.3 169.8,486.4 171.4,488.3 173.0,490.1 174.6,491.7 176.2,493.1 177.8,494.2 179.4,495.0 181.0,495.6 182.6,496.1 184.2,496.6 185.8,497.1 187.4,497.8 189.0,498.6 190.6,499.5 192.2,500.5 193.8,501.5 195.4,502.5 197.0,503.4 198.6,504.3 200.2,505.1 201.8,505.8 203.4,506.6 205.0,507.3 206.6,508.1 208.2,508.8 209.8,509.6 211.4,510.5 213.0,511.3 214.6,512.2 216.2,513.2 217.8,514.3 219.4,515.4 221.0,516.6 222.6,517.7 224.2,518.9 225.8,519.9 227.4,520.9 229.0,521.7 230.6,522.4 232.2,522.9 233.8,523.3 235.4,523.7 237.0,524.0 238.6,524.3 240.2,524.5 241.8,524.8 243.4,525.1 245.0,525.4 246.6,525.6 248.2,525.9 249.8,526.2 251.4,526.5 253.0,527.0 254.6,527.5 256.2,528.0 257.8,528.6 259.4,529.1 261.0,529.6 262.6,529.9 264.2,530.0 265.8,530.0 267.4,529.9 269.0,529.6 270.6,529.3 272.2,528.9 273.8,528.5 275.4,528.0 277.0,527.3 278.6,526.5 280.2,525.4 281.8,524.2 283.4,522.9 285.0,521.5 286.6,520.1 288.2,518.7 289.8,517.4 291.4,516.1 293.0,514.9 294.6,513.6 296.2,512.3 297.8,511.0 299.4,509.8 301.0,508.6 302.6,507.4 304.2,506.2 305.8,505.1 307.4,503.8 309.0,502.5 310.6,501.1 312.2,499.5 313.8,497.8 315.4,496.0 317.0,494.2 318.6,492.4 320.2,490.7 321.8,489.2 323.4,487.8 325.0,486.5 326.6,485.3 328.2,484.1 329.8,482.9 331.4,481.6 333.0,480.2 334.6,478.6 336.2,476.9 337.8,474.9 339.4,472.8 341.0,470.6 342.6,468.2 344.2,465.8 345.8,463.5 347.4,461.2 349.0,459.1 350.6,457.2 352.2,455.5 353.8,453.9 355.4,452.4 357.0,450.8 358.6,449.1 360.2,447.2 361.8,445.3 363.4,443.4 365.0,441.5 366.6,439.6 368.2,437.9 369.8,436.2 371.4,434.6 373.0,433.0 374.6,431.2 376.2,429.3 377.8,427.3 379.4,425.2 381.0,423.0 382.6,420.9 384.2,418.9 385.8,417.0 387.4,415.3 389.0,413.6 390.6,412.0 392.2,410.3 393.8,408.4 395.4,406.5 397.0,404.4 398.6,402.2 400.2,399.9 401.8,397.7 403.4,395.5 405.0,393.4 406.6,391.5 408.2,389.7 409.8,388.0 411.4,386.5 413.0,385.1 414.6,383.6 416.2,382.2 417.8,380.6 419.4,378.9 421.0,377.1 422.6,375.2 424.2,373.1 425.8,370.8 427.4,368.4 429.0,365.8 430.6,363.1 432.2,360.3 433.8,357.4 435.4,354.4 437.0,351.5 438.6,348.5 440.2,345.6 441.8,342.9 443.4,340.3 445.0,337.9 446.6,335.7 448.2,333.8 449.8,332.0 451.4,330.4 453.0,328.8 454.6,327.1 456.2,325.2 457.8,323.1 459.4,320.8 461.0,318.4 462.6,316.0 464.2,313.7 465.8,311.6 467.4,309.8 469.0,308.2 470.6,306.7 472.2,305.2 473.8,303.7 475.4,301.9 477.0,300.0 478.6,298.0 480.2,295.9 481.8,293.8 483.4,291.8 485.0,289.8 486.6,287.9 488.2,286.0 489.8,284.2 491.4,282.4 493.0,280.6 494.6,278.9 496.2,277.2 497.8,275.4 499.4,273.5 501.0,271.5 502.6,269.5 504.2,267.4 505.8,265.4 507.4,263.4 509.0,261.5 510.6,259.6 512.2,257.7 513.8,255.9 515.4,254.1 517.0,252.4 518.6,250.8 520.2,249.3 521.8,247.9 523.4,246.6 525.0,245.4 526.6,244.1 528.2,242.8 529.8,241.3 531.4,239.6 533.0,237.8 534.6,235.8 536.2,233.8 537.8,231.8 539.4,229.9 541.0,228.0 542.6,226.4 544.2,224.9 545.8,223.6 547.4,222.3 549.0,221.0 550.6,219.7 552.2,218.2 553.8,216.5 555.4,214.8 557.0,212.9 558.6,211.0 560.2,209.1 561.8,207.4 563.4,205.8 565.0,204.3 566.6,203.0 568.2,201.8 569.8,200.7 571.4,199.6 573.0,198.6 574.6,197.5 576.2,196.3 577.8,194.8 579.4,193.1 581.0,191.2 582.6,189.1 584.2,187.1 585.8,185.1 587.4,183.3 589.0,181.7 590.6,180.4 592.2,179.3 593.8,178.3 595.4,177.5 597.0,176.7 598.6,175.8 600.2,175.0 601.8,174.0 603.4,173.0 605.0,172.0 606.6,171.0 608.2,170.2 609.8,169.5 611.4,169.2 613.0,169.0 614.6,169.0 616.2,169.2 617.8,169.3 619.4,169.3 621.0,169.3 622.6,169.1 624.2,168.9 625.8,168.5 627.4,168.0 629.0,167.4 630.6,166.6 632.2,165.7 633.8,164.7 635.4,163.6 637.0,162.6 638.6,161.6 640.2,160.8 641.8,160.1 643.4,159.5 645.0,158.9 646.6,158.2 648.2,157.4 649.8,156.4 651.4,155.3 653.0,153.9 654.6,152.5 656.2,151.0 657.8,149.6 659.4,148.5 661.0,147.6 662.6,147.1 664.2,146.9 665.8,147.1 667.4,147.4 669.0,147.8 670.6,148.2 672.2,148.5 673.8,148.7 675.4,148.6 677.0,148.2 678.6,147.5 680.2,146.5 681.8,145.4 683.4,144.1 685.0,142.9 686.6,141.7 688.2,140.6 689.8,139.6 691.4,138.4 693.0,137.2 694.6,135.8 696.2,134.3 697.8,132.8 699.4,131.3 701.0,130.1 702.6,129.1 704.2,128.5 705.8,128.2 707.4,128.2 709.0,128.3 710.6,128.5 712.2,128.6 713.8,128.7 715.4,128.7 717.0,128.5 718.6,128.4 720.2,128.3 721.8,128.3 723.4,128.6 725.0,129.1 726.6,129.8 728.2,130.6 729.8,131.3 731.4,131.9 733.0,132.2 734.6,132.3 736.2,132.3 737.8,132.3 739.4,132.5 741.0,133.0 742.6,133.9 744.2,135.0 745.8,136.5 747.4,138.1 749.0,139.8 750.6,141.3 752.2,142.5 753.8,143.5 755.4,144.1 757.0,144.6 758.6,144.9 760.2,145.2 761.8,145.7 763.4,146.3 765.0,147.1 766.6,148.2 768.2,149.6 769.8,151.1 771.4,152.7 773.0,154.5 774.6,156.3 776.2,158.2 777.8,160.1 779.4,162.1 781.0,164.1 782.6,166.0 784.2,167.9 785.8,169.5 787.4,171.0 789.0,172.2 790.6,173.1 792.2,174.0 793.8,174.9 795.4,176.0 797.0,177.3 798.6,178.8 800.2,180.7 801.8,182.7 803.4,185.0 805.0,187.5 806.6,190.0 808.2,192.6 809.8,195.1 811.4,197.5 813.0,199.7 814.6,201.7 816.2,203.4 817.8,205.0 819.4,206.4 821.0,207.7 822.6,209.1 824.2,210.6 825.8,212.2 827.4,214.0 829.0,216.1 830.6,218.4 832.2,221.0 833.8,223.7 835.4,226.4 837.0,229.3 838.6,232.1 840.2,234.9 841.8,237.8 843.4,240.8 845.0,244.0 846.6,247.3 848.2,250.7 849.8,254.1 851.4,257.6 853.0,260.9 854.6,264.2 856.2,267.5 857.8,270.6 859.4,273.9 861.0,277.2 862.6,280.8 864.2,284.6 865.8,288.6 867.4,292.9 869.0,297.3 870.6,301.7 872.2,306.2 873.8,310.5 875.4,314.9 877.0,319.3 878.6,323.7 880.2,328.2 881.8,332.8 883.4,337.4 885.0,342.2 886.6,347.0 888.2,351.8 889.8,356.6 891.4,361.5 893.0,366.3 894.6,371.1 896.2,375.8 897.8,380.4 899.4,385.0 901.0,389.5 902.6,393.9 904.2,398.2 905.8,402.5 907.4,406.7 909.0,410.7 910.6,414.6 912.2,418.4 913.8,422.0 915.4,425.5 917.0,428.9 918.6,432.5 920.6,436.3" fill="none" stroke="#5babe2" stroke-width="1.3" stroke-linejoin="round" />
<polyline points="128.2,429.6 129.8,431.7 131.4,433.8 133.0,436.0 134.6,438.1 136.2,440.3 137.8,442.4 139.4,444.6 141.0,446.7 142.6,448.9 144.2,451.1 145.8,453.4 147.4,455.6 149.0,457.8 150.6,460.0 152.2,462.1 153.8,464.1 155.4,466.1 157.0,467.9 158.6,469.8 160.2,471.6 161.8,473.3 163.4,474.9 165.0,476.4 166.6,477.7 168.2,478.9 169.8,479.9 171.4,480.8 173.0,481.8 174.6,483.0 176.2,484.4 177.8,485.9 179.4,487.4 181.0,489.0 182.6,490.5 184.2,492.0 185.8,493.3 187.4,494.6 189.0,495.9 190.6,497.3 192.2,498.7 193.8,500.3 195.4,501.9 197.0,503.5 198.6,505.1 200.2,506.6 201.8,508.0 203.4,509.3 205.0,510.4 206.6,511.2 208.2,512.0 209.8,512.5 211.4,513.0 213.0,513.5 214.6,514.0 216.2,514.6 217.8,515.3 219.4,516.1 221.0,516.8 222.6,517.5 224.2,518.1 225.8,518.5 227.4,518.6 229.0,518.7 230.6,518.6 232.2,518.5 233.8,518.5 235.4,518.6 237.0,519.0 238.6,519.6 240.2,520.3 241.8,520.9 243.4,521.4 245.0,521.8 246.6,521.9 248.2,521.8 249.8,521.5 251.4,521.2 253.0,520.9 254.6,520.6 256.2,520.4 257.8,520.2 259.4,520.0 261.0,519.8 262.6,519.6 264.2,519.3 265.8,518.9 267.4,518.5 269.0,518.0 270.6,517.5 272.2,516.8 273.8,516.2 275.4,515.5 277.0,514.8 278.6,514.0 280.2,513.0 281.8,511.9 283.4,510.7 285.0,509.2 286.6,507.6 288.2,505.9 289.8,504.2 291.4,502.5 293.0,500.9 294.6,499.4 296.2,497.9 297.8,496.5 299.4,495.1 301.0,493.7 302.6,492.2 304.2,490.7 305.8,489.3 307.4,487.9 309.0,486.6 310.6,485.3 312.2,484.1 313.8,482.9 315.4,481.7 317.0,480.6 318.6,479.3 320.2,478.0 321.8,476.6 323.4,475.1 325.0,473.5 326.6,472.0 328.2,470.4 329.8,468.8 331.4,467.2 333.0,465.6 334.6,464.0 336.2,462.3 337.8,460.4 339.4,458.5 341.0,456.5 342.6,454.4 344.2,452.2 345.8,450.1 347.4,448.0 349.0,445.8 350.6,443.7 352.2,441.6 353.8,439.4 355.4,437.2 357.0,434.8 358.6,432.5 360.2,430.2 361.8,428.0 363.4,425.8 365.0,423.6 366.6,421.5 368.2,419.4 369.8,417.4 371.4,415.5 373.0,413.5 374.6,411.6 376.2,409.7 377.8,407.7 379.4,405.8 381.0,403.9 382.6,402.1 384.2,400.5 385.8,398.9 387.4,397.3 389.0,395.8 390.6,394.1 392.2,392.4 393.8,390.6 395.4,388.7 397.0,386.7 398.6,384.7 400.2,382.5 401.8,380.3 403.4,377.9 405.0,375.3 406.6,372.7 408.2,369.9 409.8,367.2 411.4,364.6 413.0,362.2 414.6,359.9 416.2,357.7 417.8,355.6 419.4,353.7 421.0,351.7 422.6,349.7 424.2,347.6 425.8,345.3 427.4,342.8 429.0,340.2 430.6,337.4 432.2,334.5 433.8,331.7 435.4,329.0 437.0,326.5 438.6,324.1 440.2,321.8 441.8,319.6 443.4,317.5 445.0,315.3 446.6,313.1 448.2,310.9 449.8,308.8 451.4,306.7 453.0,304.6 454.6,302.6 456.2,300.7 457.8,298.9 459.4,297.3 461.0,295.8 462.6,294.5 464.2,293.4 465.8,292.4 467.4,291.6 469.0,290.8 470.6,289.9 472.2,288.9 473.8,287.8 475.4,286.4 477.0,284.7 478.6,282.9 480.2,280.8 481.8,278.6 483.4,276.2 485.0,273.8 486.6,271.5 488.2,269.3 489.8,267.3 491.4,265.5 493.0,263.8 494.6,262.1 496.2,260.5 497.8,258.8 499.4,257.1 501.0,255.3 502.6,253.5 504.2,251.7 505.8,249.8 507.4,247.9 509.0,245.9 510.6,243.9 512.2,241.8 513.8,239.8 515.4,237.9 517.0,236.2 518.6,234.7 520.2,233.5 521.8,232.6 523.4,231.9 525.0,231.3 526.6,230.8 528.2,230.1 529.8,229.2 531.4,228.0 533.0,226.7 534.6,225.1 536.2,223.4 537.8,221.8 539.4,220.2 541.0,218.8 542.6,217.6 544.2,216.6 545.8,215.7 547.4,214.9 549.0,214.2 550.6,213.6 552.2,212.8 553.8,211.7 555.4,210.3 557.0,208.5 558.6,206.3 560.2,203.8 561.8,201.1 563.4,198.5 565.0,196.1 566.6,194.0 568.2,192.5 569.8,191.4 571.4,190.8 573.0,190.7 574.6,190.7 576.2,190.7 577.8,190.6 579.4,190.1 581.0,189.3 582.6,188.0 584.2,186.4 585.8,184.6 587.4,182.6 589.0,180.6 590.6,178.8 592.2,177.3 593.8,176.0 595.4,175.1 597.0,174.3 598.6,173.6 600.2,172.8 601.8,171.8 603.4,170.5 605.0,169.1 606.6,167.6 608.2,166.1 609.8,164.9 611.4,164.0 613.0,163.5 614.6,163.3 616.2,163.3 617.8,163.4 619.4,163.4 621.0,163.0 622.6,162.3 624.2,161.1 625.8,159.7 627.4,158.0 629.0,156.4 630.6,154.9 632.2,153.6 633.8,152.6 635.4,151.9 637.0,151.5 638.6,151.1 640.2,150.8 641.8,150.5 643.4,150.1 645.0,149.7 646.6,149.1 648.2,148.6 649.8,148.2 651.4,147.7 653.0,147.3 654.6,146.9 656.2,146.3 657.8,145.4 659.4,144.3 661.0,142.9 662.6,141.3 664.2,139.5 665.8,137.6 667.4,135.9 669.0,134.3 670.6,133.1 672.2,132.3 673.8,132.0 675.4,132.1 677.0,132.6 678.6,133.3 680.2,133.9 681.8,134.2 683.4,134.4 685.0,134.3 686.6,134.2 688.2,134.3 689.8,134.5 691.4,134.9 693.0,135.5 694.6,136.0 696.2,136.3 697.8,136.4 699.4,136.1 701.0,135.5 702.6,134.7 704.2,133.7 705.8,132.5 707.4,131.3 709.0,130.1 710.6,129.1 712.2,128.2 713.8,127.6 715.4,127.3 717.0,127.4 718.6,127.8 720.2,128.3 721.8,129.0 723.4,129.5 725.0,130.0 726.6,130.3 728.2,130.7 729.8,131.1 731.4,131.7 733.0,132.4 734.6,133.0 736.2,133.6 737.8,133.9 739.4,134.0 741.0,134.1 742.6,134.2 744.2,134.7 745.8,135.5 747.4,136.6 749.0,138.0 750.6,139.5 752.2,140.8 753.8,141.8 755.4,142.3 757.0,142.4 758.6,142.2 760.2,141.7 761.8,141.1 763.4,140.5 765.0,140.2 766.6,140.1 768.2,140.4 769.8,141.1 771.4,142.2 773.0,143.7 774.6,145.4 776.2,147.2 777.8,148.9 779.4,150.3 781.0,151.5 782.6,152.3 784.2,152.7 785.8,153.0 787.4,153.2 789.0,153.4 790.6,153.9 792.2,154.6 793.8,155.8 795.4,157.3 797.0,159.3 798.6,161.5 800.2,163.8 801.8,166.2 803.4,168.4 805.0,170.3 806.6,171.8 808.2,173.1 809.8,174.0 811.4,174.8 813.0,175.5 814.6,176.4 816.2,177.5 817.8,179.1 819.4,181.2 821.0,183.8 822.6,186.7 824.2,189.8 825.8,193.0 827.4,196.2 829.0,199.1 830.6,201.8 832.2,204.3 833.8,206.6 835.4,208.8 837.0,210.8 838.6,212.7 840.2,214.7 841.8,216.7 843.4,219.0 845.0,221.4 846.6,224.0 848.2,226.9 849.8,229.8 851.4,232.8 853.0,235.5 854.6,238.1 856.2,240.5 857.8,242.8 859.4,245.2 861.0,247.7 862.6,250.5 864.2,253.6 865.8,257.0 867.4,260.7 869.0,264.4 870.6,268.1 872.2,271.7 873.8,275.1 875.4,278.3 877.0,281.4 878.6,284.4 880.2,287.3 881.8,290.2 883.4,293.2 885.0,296.3 886.6,299.7 888.2,303.3 889.8,306.9 891.4,310.6 893.0,314.2 894.6,317.6 896.2,320.8 897.8,324.0 899.4,327.1 901.0,330.5 902.6,334.4 904.2,338.6 905.8,343.2 907.4,347.6 909.0,351.8 910.6,355.7 912.2,359.6 913.8,363.6 915.4,367.6 917.0,371.6 918.6,375.5 920.6,379.1" fill="none" stroke="#69b2e2" stroke-width="1.3" stroke-linejoin="round" />
<polyline points="128.2,389.8 129.8,391.8 131.4,394.4 133.0,398.0 134.6,402.0 136.2,406.1 137.8,410.0 139.4,413.2 141.0,416.2 142.6,418.8 144.2,421.3 145.8,423.7 147.4,426.0 149.0,428.2 150.6,430.3 152.2,432.5 153.8,434.8 155.4,437.1 157.0,439.7 158.6,442.3 160.2,445.1 161.8,448.0 163.4,450.3 165.0,450.5 166.6,451.4 168.2,453.1 169.8,455.6 171.4,458.9 173.0,462.7 174.6,466.4 176.2,469.7 177.8,472.0 179.4,474.1 181.0,476.2 182.6,478.2 184.2,480.2 185.8,482.0 187.4,483.7 189.0,485.2 190.6,486.6 192.2,487.9 193.8,489.1 195.4,490.3 197.0,491.6 198.6,493.0 200.2,494.5 201.8,496.0 203.4,497.7 205.0,499.3 206.6,500.9 208.2,502.4 209.8,503.9 211.4,505.3 213.0,506.6 214.6,507.7 216.2,508.7 217.8,509.4 219.4,509.9 221.0,510.3 222.6,510.4 224.2,510.5 225.8,510.7 227.4,511.0 229.0,511.2 230.6,511.5 232.2,511.7 233.8,512.0 235.4,512.2 237.0,512.4 238.6,512.6 240.2,512.9 241.8,513.2 243.4,513.5 245.0,513.9 246.6,514.4 248.2,514.9 249.8,515.4 251.4,515.9 253.0,516.3 254.6,516.7 256.2,516.8 257.8,516.9 259.4,516.7 261.0,516.4 262.6,516.0 264.2,515.5 265.8,514.9 267.4,514.3 269.0,513.5 270.6,512.6 272.2,511.7 273.8,510.6 275.4,509.5 277.0,508.3 278.6,507.2 280.2,505.9 281.8,504.6 283.4,503.2 285.0,501.7 286.6,500.1 288.2,498.3 289.8,496.6 291.4,494.8 293.0,493.0 294.6,491.4 296.2,489.8 297.8,488.2 299.4,486.7 301.0,485.4 302.6,484.1 304.2,483.0 305.8,481.9 307.4,480.9 309.0,479.9 310.6,478.9 312.2,477.8 313.8,476.6 315.4,475.4 317.0,474.1 318.6,472.8 320.2,471.5 321.8,470.1 323.4,468.6 325.0,467.1 326.6,465.6 328.2,464.1 329.8,462.8 331.4,461.5 333.0,460.2 334.6,458.9 336.2,457.5 337.8,456.0 339.4,454.4 341.0,452.6 342.6,450.6 344.2,448.5 345.8,446.2 347.4,443.8 349.0,441.3 350.6,438.8 352.2,436.3 353.8,433.9 355.4,431.8 357.0,430.0 358.6,428.4 360.2,426.9 361.8,425.3 363.4,423.7 365.0,421.8 366.6,419.8 368.2,417.7 369.8,415.6 371.4,413.5 373.0,411.5 374.6,409.5 376.2,407.5 377.8,405.6 379.4,403.5 381.0,401.4 382.6,399.3 384.2,397.1 385.8,394.9 387.4,392.8 389.0,390.6 390.6,388.4 392.2,386.1 393.8,383.8 395.4,381.4 397.0,378.9 398.6,376.4 400.2,374.0 401.8,371.7 403.4,369.6 405.0,367.5 406.6,365.6 408.2,363.8 409.8,362.0 411.4,360.2 413.0,358.6 414.6,356.9 416.2,355.3 417.8,353.5 419.4,351.7 421.0,349.7 422.6,347.5 424.2,345.2 425.8,342.8 427.4,340.4 429.0,338.1 430.6,335.8 432.2,333.7 433.8,331.7 435.4,329.8 437.0,327.9 438.6,325.9 440.2,323.9 441.8,321.9 443.4,319.7 445.0,317.6 446.6,315.4 448.2,313.2 449.8,311.1 451.4,309.2 453.0,307.4 454.6,305.8 456.2,304.2 457.8,302.7 459.4,301.1 461.0,299.4 462.6,297.6 464.2,295.8 465.8,293.9 467.4,292.1 469.0,290.4 470.6,288.7 472.2,287.2 473.8,285.7 475.4,284.3 477.0,282.8 478.6,281.2 480.2,279.7 481.8,278.1 483.4,276.6 485.0,275.2 486.6,273.9 488.2,272.8 489.8,271.8 491.4,270.9 493.0,269.8 494.6,268.6 496.2,267.1 497.8,265.3 499.4,263.2 501.0,261.0 502.6,258.7 504.2,256.5 505.8,254.5 507.4,252.7 509.0,251.1 510.6,249.7 512.2,248.4 513.8,247.2 515.4,245.8 517.0,244.3 518.6,242.7 520.2,240.9 521.8,239.0 523.4,237.1 525.0,235.1 526.6,233.3 528.2,231.5 529.8,229.9 531.4,228.5 533.0,227.1 534.6,225.9 536.2,224.6 537.8,223.3 539.4,222.0 541.0,220.7 542.6,219.5 544.2,218.4 545.8,217.4 547.4,216.7 549.0,216.1 550.6,215.6 552.2,215.0 553.8,214.3 555.4,213.4 557.0,212.3 558.6,211.0 560.2,209.5 561.8,207.9 563.4,206.1 565.0,204.2 566.6,202.3 568.2,200.4 569.8,198.7 571.4,197.1 573.0,195.6 574.6,194.2 576.2,192.7 577.8,191.1 579.4,189.4 581.0,187.8 582.6,186.2 584.2,184.7 585.8,183.5 587.4,182.4 589.0,181.6 590.6,180.9 592.2,180.2 593.8,179.6 595.4,179.1 597.0,178.5 598.6,177.9 600.2,177.2 601.8,176.5 603.4,175.8 605.0,175.1 606.6,174.5 608.2,174.0 609.8,173.7 611.4,173.5 613.0,173.3 614.6,173.0 616.2,172.4 617.8,171.6 619.4,170.6 621.0,169.5 622.6,168.4 624.2,167.2 625.8,166.1 627.4,165.1 629.0,164.3 630.6,163.7 632.2,163.3 633.8,163.1 635.4,163.0 637.0,162.8 638.6,162.6 640.2,162.2 641.8,161.8 643.4,161.5 645.0,161.2 646.6,160.9 648.2,160.5 649.8,159.9 651.4,159.0 653.0,157.8 654.6,156.3 656.2,154.5 657.8,152.7 659.4,151.1 661.0,149.7 662.6,148.7 664.2,148.0 665.8,147.7 667.4,147.7 669.0,147.8 670.6,148.0 672.2,148.3 673.8,148.6 675.4,149.0 677.0,149.4 678.6,149.9 680.2,150.2 681.8,150.4 683.4,150.4 685.0,150.0 686.6,149.2 688.2,148.3 689.8,147.2 691.4,146.2 693.0,145.4 694.6,144.9 696.2,144.7 697.8,144.8 699.4,145.0 701.0,145.3 702.6,145.5 704.2,145.6 705.8,145.5 707.4,145.3 709.0,145.0 710.6,144.8 712.2,144.7 713.8,144.8 715.4,145.0 717.0,145.3 718.6,145.6 720.2,146.0 721.8,146.4 723.4,146.8 725.0,147.2 726.6,147.6 728.2,147.8 729.8,147.8 731.4,147.5 733.0,147.1 734.6,146.5 736.2,146.0 737.8,145.8 739.4,146.0 741.0,146.7 742.6,147.8 744.2,149.1 745.8,150.6 747.4,151.9 749.0,153.2 750.6,154.3 752.2,155.2 753.8,156.0 755.4,156.8 757.0,157.6 758.6,158.3 760.2,159.0 761.8,159.5 763.4,159.8 765.0,160.1 766.6,160.4 768.2,160.8 769.8,161.3 771.4,161.9 773.0,162.6 774.6,163.4 776.2,164.1 777.8,164.9 779.4,165.7 781.0,166.5 782.6,167.5 784.2,168.5 785.8,169.5 787.4,170.7 789.0,171.9 790.6,173.1 792.2,174.5 793.8,176.0 795.4,177.5 797.0,179.0 798.6,180.4 800.2,181.6 801.8,182.7 803.4,183.6 805.0,184.4 806.6,185.2 808.2,186.0 809.8,187.1 811.4,188.4 813.0,189.9 814.6,191.6 816.2,193.5 817.8,195.5 819.4,197.4 821.0,199.2 822.6,200.9 824.2,202.6 825.8,204.3 827.4,206.1 829.0,207.9 830.6,209.8 832.2,211.6 833.8,213.3 835.4,215.0 837.0,216.7 838.6,218.5 840.2,220.6 841.8,222.9 843.4,225.6 845.0,228.5 846.6,231.6 848.2,234.6 849.8,237.6 851.4,240.5 853.0,243.1 854.6,245.7 856.2,248.1 857.8,250.4 859.4,252.7 861.0,255.1 862.6,257.5 864.2,260.1 865.8,262.9 867.4,265.9 869.0,269.1 870.6,272.5 872.2,276.1 873.8,279.9 875.4,283.8 877.0,287.8 878.6,291.9 880.2,296.2 881.8,300.5 883.4,304.8 885.0,309.1 886.6,313.3 888.2,317.5 889.8,321.6 891.4,325.7 893.0,329.9 894.6,334.1 896.2,338.3 897.8,342.5 899.4,346.7 901.0,350.9 902.6,355.2 904.2,359.5 905.8,363.8 907.4,368.2 909.0,372.7 910.6,377.3 912.2,382.0 913.8,386.8 915.4,391.6 917.0,396.5 918.6,401.4 920.6,406.4" fill="none" stroke="#76bae2" stroke-width="1.3" stroke-linejoin="round" />
<polyline points="128.2,428.0 129.8,430.3 131.4,432.5 133.0,434.7 134.6,436.8 136.2,438.8 137.8,440.8 139.4,442.7 141.0,444.6 142.6,446.6 144.2,448.7 145.8,450.9 147.4,453.2 149.0,455.7 150.6,458.1 152.2,460.6 153.8,463.1 155.4,465.5 157.0,467.8 158.6,470.0 160.2,472.1 161.8,474.0 163.4,475.8 165.0,477.4 166.6,479.0 168.2,480.4 169.8,481.8 171.4,483.0 173.0,484.2 174.6,485.3 176.2,486.4 177.8,487.5 179.4,488.6 181.0,489.9 182.6,491.2 184.2,492.7 185.8,494.4 187.4,496.1 189.0,497.9 190.6,499.6 192.2,501.2 193.8,502.6 195.4,503.9 197.0,505.1 198.6,506.3 200.2,507.4 201.8,508.5 203.4,509.5 205.0,510.4 206.6,511.1 208.2,511.7 209.8,512.0 211.4,512.2 213.0,512.3 214.6,512.3 216.2,512.4 217.8,512.6 219.4,513.0 221.0,513.6 222.6,514.3 224.2,515.2 225.8,516.1 227.4,517.0 229.0,517.8 230.6,518.7 232.2,519.4 233.8,520.3 235.4,521.1 237.0,522.0 238.6,522.9 240.2,523.7 241.8,524.3 243.4,524.7 245.0,524.7 246.6,524.5 248.2,524.1 249.8,523.5 251.4,522.9 253.0,522.5 254.6,522.1 256.2,521.8 257.8,521.6 259.4,521.3 261.0,521.0 262.6,520.6 264.2,520.1 265.8,519.5 267.4,518.8 269.0,517.9 270.6,517.0 272.2,515.8 273.8,514.6 275.4,513.2 277.0,511.8 278.6,510.3 280.2,508.9 281.8,507.6 283.4,506.4 285.0,505.2 286.6,504.0 288.2,502.7 289.8,501.2 291.4,499.5 293.0,497.6 294.6,495.6 296.2,493.4 297.8,491.2 299.4,489.1 301.0,487.0 302.6,485.1 304.2,483.5 305.8,482.0 307.4,480.8 309.0,479.7 310.6,478.7 312.2,477.6 313.8,476.5 315.4,475.3 317.0,473.8 318.6,472.2 320.2,470.5 321.8,468.9 323.4,467.3 325.0,465.8 326.6,464.4 328.2,463.1 329.8,461.7 331.4,460.3 333.0,458.9 334.6,457.3 336.2,455.7 337.8,453.9 339.4,452.2 341.0,450.3 342.6,448.5 344.2,446.6 345.8,444.6 347.4,442.4 349.0,440.0 350.6,437.3 352.2,434.4 353.8,431.2 355.4,428.0 357.0,424.8 358.6,421.7 360.2,418.8 361.8,416.0 363.4,413.5 365.0,411.1 366.6,408.8 368.2,406.5 369.8,404.4 371.4,402.3 373.0,400.3 374.6,398.2 376.2,396.2 377.8,394.1 379.4,392.0 381.0,389.9 382.6,387.9 384.2,385.9 385.8,384.0 387.4,382.0 389.0,380.1 390.6,378.1 392.2,376.2 393.8,374.2 395.4,372.3 397.0,370.5 398.6,368.7 400.2,367.0 401.8,365.3 403.4,363.6 405.0,361.8 406.6,359.8 408.2,357.7 409.8,355.4 411.4,353.1 413.0,350.6 414.6,348.3 416.2,346.0 417.8,343.8 419.4,341.8 421.0,339.9 422.6,338.2 424.2,336.4 425.8,334.5 427.4,332.4 429.0,330.0 430.6,327.3 432.2,324.4 433.8,321.5 435.4,318.6 437.0,316.0 438.6,313.6 440.2,311.2 441.8,308.8 443.4,306.4 445.0,304.0 446.6,301.7 448.2,299.6 449.8,297.7 451.4,296.0 453.0,294.4 454.6,292.9 456.2,291.6 457.8,290.2 459.4,289.0 461.0,287.8 462.6,286.6 464.2,285.5 465.8,284.3 467.4,283.0 469.0,281.5 470.6,279.9 472.2,278.0 473.8,276.0 475.4,274.0 477.0,272.0 478.6,270.0 480.2,268.0 481.8,266.0 483.4,264.0 485.0,261.9 486.6,259.8 488.2,257.7 489.8,255.6 491.4,253.6 493.0,251.7 494.6,250.0 496.2,248.4 497.8,247.1 499.4,245.9 501.0,244.9 502.6,244.0 504.2,243.0 505.8,242.0 507.4,240.9 509.0,239.6 510.6,238.0 512.2,236.3 513.8,234.4 515.4,232.4 517.0,230.3 518.6,228.2 520.2,226.2 521.8,224.3 523.4,222.5 525.0,220.8 526.6,219.2 528.2,217.8 529.8,216.5 531.4,215.3 533.0,214.1 534.6,213.0 536.2,211.7 537.8,210.2 539.4,208.5 541.0,206.5 542.6,204.4 544.2,202.2 545.8,200.1 547.4,198.2 549.0,196.8 550.6,195.7 552.2,194.9 553.8,194.4 555.4,193.9 557.0,193.4 558.6,192.6 560.2,191.6 561.8,190.4 563.4,188.9 565.0,187.4 566.6,185.8 568.2,184.3 569.8,182.9 571.4,181.7 573.0,180.7 574.6,179.7 576.2,178.8 577.8,177.9 579.4,176.8 581.0,175.5 582.6,174.1 584.2,172.7 585.8,171.5 587.4,170.7 589.0,170.1 590.6,169.8 592.2,169.6 593.8,169.2 595.4,168.6 597.0,167.7 598.6,166.4 600.2,164.8 601.8,163.0 603.4,161.2 605.0,159.5 606.6,157.9 608.2,156.5 609.8,155.3 611.4,154.3 613.0,153.7 614.6,153.2 616.2,153.0 617.8,153.0 619.4,153.0 621.0,153.0 622.6,152.8 624.2,152.3 625.8,151.6 627.4,150.5 629.0,149.2 630.6,147.7 632.2,146.0 633.8,144.4 635.4,142.8 637.0,141.5 638.6,140.4 640.2,139.7 641.8,139.3 643.4,139.1 645.0,139.2 646.6,139.2 648.2,139.2 649.8,138.9 651.4,138.3 653.0,137.3 654.6,136.1 656.2,134.7 657.8,133.3 659.4,132.2 661.0,131.2 662.6,130.6 664.2,130.3 665.8,130.1 667.4,130.1 669.0,130.1 670.6,130.0 672.2,130.0 673.8,130.0 675.4,129.9 677.0,129.8 678.6,129.8 680.2,129.9 681.8,129.9 683.4,129.9 685.0,129.7 686.6,129.3 688.2,128.7 689.8,127.9 691.4,126.9 693.0,125.7 694.6,124.3 696.2,123.0 697.8,121.7 699.4,120.6 701.0,119.7 702.6,119.1 704.2,118.7 705.8,118.5 707.4,118.6 709.0,118.7 710.6,118.8 712.2,118.9 713.8,119.1 715.4,119.2 717.0,119.3 718.6,119.5 720.2,119.8 721.8,120.2 723.4,120.8 725.0,121.4 726.6,122.0 728.2,122.5 729.8,122.9 731.4,123.3 733.0,123.6 734.6,124.0 736.2,124.4 737.8,124.8 739.4,125.2 741.0,125.6 742.6,125.9 744.2,126.2 745.8,126.4 747.4,126.7 749.0,127.0 750.6,127.4 752.2,127.9 753.8,128.5 755.4,129.3 757.0,130.2 758.6,131.3 760.2,132.6 761.8,133.9 763.4,135.4 765.0,137.1 766.6,138.8 768.2,140.5 769.8,142.1 771.4,143.7 773.0,145.3 774.6,147.1 776.2,148.8 777.8,150.5 779.4,152.1 781.0,153.6 782.6,154.8 784.2,156.0 785.8,157.0 787.4,157.9 789.0,158.9 790.6,159.9 792.2,161.0 793.8,162.1 795.4,163.3 797.0,164.5 798.6,165.7 800.2,166.9 801.8,168.2 803.4,169.6 805.0,171.3 806.6,173.1 808.2,175.2 809.8,177.4 811.4,179.5 813.0,181.5 814.6,183.4 816.2,185.1 817.8,186.5 819.4,187.9 821.0,189.3 822.6,190.7 824.2,192.2 825.8,193.8 827.4,195.6 829.0,197.4 830.6,199.5 832.2,201.7 833.8,204.1 835.4,206.7 837.0,209.5 838.6,212.3 840.2,215.2 841.8,218.1 843.4,220.9 845.0,223.6 846.6,226.2 848.2,228.7 849.8,231.3 851.4,234.0 853.0,236.9 854.6,240.1 856.2,243.7 857.8,247.4 859.4,251.4 861.0,255.5 862.6,259.6 864.2,263.9 865.8,268.1 867.4,272.4 869.0,276.6 870.6,280.7 872.2,284.8 873.8,288.6 875.4,292.3 877.0,295.8 878.6,299.1 880.2,302.3 881.8,305.3 883.4,308.3 885.0,311.3 886.6,314.4 888.2,317.7 889.8,321.4 891.4,325.4 893.0,329.7 894.6,334.1 896.2,338.7 897.8,343.2 899.4,347.7 901.0,352.0 902.6,356.3 904.2,360.4 905.8,364.7 907.4,368.9 909.0,373.3 910.6,377.7 912.2,382.3 913.8,386.8 915.4,391.5 917.0,396.2 918.6,401.1 920.6,406.2" fill="none" stroke="#84c1e2" stroke-width="1.3" stroke-linejoin="round" />
<polyline points="128.2,422.3 129.8,423.5 131.4,424.6 133.0,425.5 134.6,426.5 136.2,427.6 137.8,428.8 139.4,430.3 141.0,432.2 142.6,434.5 144.2,437.3 145.8,440.5 147.4,443.8 149.0,447.2 150.6,450.5 152.2,453.5 153.8,456.4 155.4,459.1 157.0,461.7 158.6,464.2 160.2,466.7 161.8,469.2 163.4,471.7 165.0,474.1 166.6,476.4 168.2,478.6 169.8,480.6 171.4,482.5 173.0,484.1 174.6,485.6 176.2,487.0 177.8,488.4 179.4,489.8 181.0,491.3 182.6,492.9 184.2,494.5 185.8,496.1 187.4,497.6 189.0,498.9 190.6,500.0 192.2,500.8 193.8,501.2 195.4,501.4 197.0,501.4 198.6,501.4 200.2,501.4 201.8,501.4 203.4,501.4 205.0,501.6 206.6,502.0 208.2,502.6 209.8,503.4 211.4,504.5 213.0,505.8 214.6,507.1 216.2,508.3 217.8,509.2 219.4,509.8 221.0,510.0 222.6,510.1 224.2,510.1 225.8,510.2 227.4,510.3 229.0,510.5 230.6,510.9 232.2,511.3 233.8,511.8 235.4,512.3 237.0,512.9 238.6,513.5 240.2,514.0 241.8,514.5 243.4,515.0 245.0,515.4 246.6,515.8 248.2,516.2 249.8,516.6 251.4,516.9 253.0,517.2 254.6,517.3 256.2,517.2 257.8,517.0 259.4,516.5 261.0,515.7 262.6,514.8 264.2,513.8 265.8,512.7 267.4,511.7 269.0,510.8 270.6,509.9 272.2,509.2 273.8,508.7 275.4,508.2 277.0,507.8 278.6,507.4 280.2,506.9 281.8,506.4 283.4,505.7 285.0,504.7 286.6,503.5 288.2,501.9 289.8,499.9 291.4,497.7 293.0,495.3 294.6,492.7 296.2,490.3 297.8,487.9 299.4,485.7 301.0,483.8 302.6,482.0 304.2,480.4 305.8,479.0 307.4,477.7 309.0,476.7 310.6,475.8 312.2,475.0 313.8,474.2 315.4,473.4 317.0,472.4 318.6,471.2 320.2,469.8 321.8,468.2 323.4,466.4 325.0,464.6 326.6,462.8 328.2,461.1 329.8,459.3 331.4,457.5 333.0,455.5 334.6,453.5 336.2,451.3 337.8,449.0 339.4,446.7 341.0,444.4 342.6,442.0 344.2,439.6 345.8,437.1 347.4,434.8 349.0,432.5 350.6,430.3 352.2,428.5 353.8,426.9 355.4,425.5 357.0,424.3 358.6,423.0 360.2,421.6 361.8,419.9 363.4,418.0 365.0,415.9 366.6,413.7 368.2,411.3 369.8,408.8 371.4,406.2 373.0,403.6 374.6,401.1 376.2,398.6 377.8,396.3 379.4,394.3 381.0,392.4 382.6,390.7 384.2,389.0 385.8,387.5 387.4,385.9 389.0,384.3 390.6,382.6 392.2,380.7 393.8,378.7 395.4,376.6 397.0,374.5 398.6,372.3 400.2,370.2 401.8,368.2 403.4,366.3 405.0,364.4 406.6,362.4 408.2,360.1 409.8,357.7 411.4,355.0 413.0,352.2 414.6,349.3 416.2,346.5 417.8,343.9 419.4,341.4 421.0,339.2 422.6,337.1 424.2,335.1 425.8,333.1 427.4,331.1 429.0,329.1 430.6,327.1 432.2,325.1 433.8,323.2 435.4,321.3 437.0,319.4 438.6,317.6 440.2,315.8 441.8,314.1 443.4,312.4 445.0,310.8 446.6,309.1 448.2,307.4 449.8,305.8 451.4,304.0 453.0,302.1 454.6,300.0 456.2,297.7 457.8,295.2 459.4,292.6 461.0,289.9 462.6,287.4 464.2,285.0 465.8,282.8 467.4,280.9 469.0,279.3 470.6,277.9 472.2,276.6 473.8,275.5 475.4,274.5 477.0,273.7 478.6,272.9 480.2,272.1 481.8,271.4 483.4,270.7 485.0,270.0 486.6,269.3 488.2,268.4 489.8,267.5 491.4,266.6 493.0,265.6 494.6,264.5 496.2,263.4 497.8,262.3 499.4,261.2 501.0,260.0 502.6,258.8 504.2,257.6 505.8,256.3 507.4,255.1 509.0,253.8 510.6,252.6 512.2,251.3 513.8,250.1 515.4,248.8 517.0,247.5 518.6,246.0 520.2,244.3 521.8,242.3 523.4,240.0 525.0,237.6 526.6,235.2 528.2,233.0 529.8,231.1 531.4,229.4 533.0,228.0 534.6,226.7 536.2,225.4 537.8,223.9 539.4,222.4 541.0,220.7 542.6,219.0 544.2,217.3 545.8,215.6 547.4,213.8 549.0,212.1 550.6,210.5 552.2,208.9 553.8,207.4 555.4,206.0 557.0,204.7 558.6,203.4 560.2,202.1 561.8,200.7 563.4,199.3 565.0,197.7 566.6,196.1 568.2,194.5 569.8,193.0 571.4,191.6 573.0,190.4 574.6,189.3 576.2,188.4 577.8,187.7 579.4,187.3 581.0,187.1 582.6,187.1 584.2,187.2 585.8,187.1 587.4,186.8 589.0,186.2 590.6,185.1 592.2,183.7 593.8,182.1 595.4,180.4 597.0,178.8 598.6,177.2 600.2,175.7 601.8,174.2 603.4,172.8 605.0,171.3 606.6,169.9 608.2,168.6 609.8,167.4 611.4,166.4 613.0,165.7 614.6,165.2 616.2,165.0 617.8,165.1 619.4,165.4 621.0,166.0 622.6,166.8 624.2,167.6 625.8,168.3 627.4,168.8 629.0,169.0 630.6,168.7 632.2,168.0 633.8,166.7 635.4,165.1 637.0,163.2 638.6,161.0 640.2,158.9 641.8,156.7 643.4,154.6 645.0,152.7 646.6,150.9 648.2,149.4 649.8,148.2 651.4,147.3 653.0,146.7 654.6,146.5 656.2,146.5 657.8,146.5 659.4,146.5 661.0,146.3 662.6,145.9 664.2,145.2 665.8,144.4 667.4,143.5 669.0,142.6 670.6,141.8 672.2,140.9 673.8,139.9 675.4,138.8 677.0,137.7 678.6,136.6 680.2,135.5 681.8,134.6 683.4,134.1 685.0,133.9 686.6,134.2 688.2,134.9 689.8,135.8 691.4,136.8 693.0,137.6 694.6,138.0 696.2,137.6 697.8,136.7 699.4,135.3 701.0,133.9 702.6,132.8 704.2,132.1 705.8,132.2 707.4,132.9 709.0,134.1 710.6,135.6 712.2,137.1 713.8,138.3 715.4,139.1 717.0,139.4 718.6,139.1 720.2,138.4 721.8,137.5 723.4,136.4 725.0,135.5 726.6,134.9 728.2,134.8 729.8,135.3 731.4,136.4 733.0,138.1 734.6,140.0 736.2,142.0 737.8,143.9 739.4,145.3 741.0,146.2 742.6,146.6 744.2,146.6 745.8,146.3 747.4,145.8 749.0,145.4 750.6,145.0 752.2,144.9 753.8,145.0 755.4,145.4 757.0,146.1 758.6,147.1 760.2,148.2 761.8,149.3 763.4,150.4 765.0,151.4 766.6,152.3 768.2,153.2 769.8,154.0 771.4,154.8 773.0,155.6 774.6,156.2 776.2,156.8 777.8,157.2 779.4,157.5 781.0,157.7 782.6,158.1 784.2,158.7 785.8,159.5 787.4,160.6 789.0,161.8 790.6,163.0 792.2,164.0 793.8,164.9 795.4,165.5 797.0,166.0 798.6,166.6 800.2,167.3 801.8,168.2 803.4,169.4 805.0,170.7 806.6,172.2 808.2,173.7 809.8,175.1 811.4,176.6 813.0,177.9 814.6,179.2 816.2,180.4 817.8,181.6 819.4,182.8 821.0,184.0 822.6,185.3 824.2,186.8 825.8,188.4 827.4,190.3 829.0,192.3 830.6,194.6 832.2,197.1 833.8,199.8 835.4,202.7 837.0,205.8 838.6,209.0 840.2,212.1 841.8,215.2 843.4,218.2 845.0,221.1 846.6,223.9 848.2,226.6 849.8,229.2 851.4,231.7 853.0,234.1 854.6,236.4 856.2,238.9 857.8,241.7 859.4,244.8 861.0,248.3 862.6,252.1 864.2,256.3 865.8,260.6 867.4,265.0 869.0,269.3 870.6,273.4 872.2,277.2 873.8,280.8 875.4,284.1 877.0,287.4 878.6,290.5 880.2,293.8 881.8,297.0 883.4,300.5 885.0,304.1 886.6,308.0 888.2,312.2 889.8,316.9 891.4,321.9 893.0,327.2 894.6,332.8 896.2,338.5 897.8,344.1 899.4,349.7 901.0,355.3 902.6,360.7 904.2,366.2 905.8,371.5 907.4,376.8 909.0,381.9 910.6,387.0 912.2,391.9 913.8,396.8 915.4,401.8 917.0,407.0 918.6,412.3 920.6,417.8" fill="none" stroke="#92c7e3" stroke-width="1.3" stroke-linejoin="round" />
<polyline points="128.2,420.2 129.8,422.6 131.4,425.2 133.0,428.0 134.6,430.9 136.2,434.0 137.8,437.2 139.4,440.3 141.0,443.4 142.6,446.5 144.2,449.6 145.8,452.7 147.4,455.7 149.0,458.7 150.6,461.6 152.2,464.4 153.8,467.0 155.4,469.5 157.0,471.7 158.6,473.8 160.2,475.5 161.8,477.1 163.4,478.4 165.0,479.6 166.6,480.6 168.2,481.7 169.8,483.0 171.4,484.3 173.0,485.9 174.6,487.5 176.2,489.2 177.8,490.7 179.4,492.1 181.0,493.3 182.6,494.4 184.2,495.5 185.8,496.5 187.4,497.7 189.0,499.0 190.6,500.5 192.2,502.0 193.8,503.6 195.4,505.3 197.0,506.8 198.6,508.2 200.2,509.5 201.8,510.6 203.4,511.7 205.0,512.6 206.6,513.5 208.2,514.3 209.8,515.1 211.4,515.8 213.0,516.4 214.6,517.0 216.2,517.5 217.8,518.1 219.4,518.6 221.0,519.2 222.6,520.0 224.2,520.8 225.8,521.8 227.4,522.8 229.0,523.8 230.6,524.7 232.2,525.3 233.8,525.8 235.4,526.0 237.0,526.0 238.6,526.0 240.2,525.8 241.8,525.5 243.4,525.3 245.0,525.0 246.6,524.9 248.2,524.8 249.8,524.8 251.4,524.8 253.0,524.9 254.6,525.0 256.2,525.1 257.8,525.2 259.4,525.2 261.0,525.2 262.6,525.1 264.2,525.0 265.8,524.8 267.4,524.5 269.0,524.0 270.6,523.5 272.2,522.8 273.8,521.9 275.4,521.0 277.0,520.0 278.6,518.8 280.2,517.5 281.8,516.0 283.4,514.3 285.0,512.4 286.6,510.5 288.2,508.4 289.8,506.3 291.4,504.2 293.0,502.2 294.6,500.3 296.2,498.3 297.8,496.5 299.4,494.6 301.0,492.8 302.6,491.0 304.2,489.3 305.8,487.7 307.4,486.1 309.0,484.6 310.6,483.1 312.2,481.6 313.8,480.0 315.4,478.3 317.0,476.3 318.6,474.2 320.2,472.0 321.8,469.7 323.4,467.6 325.0,465.6 326.6,463.7 328.2,462.1 329.8,460.6 331.4,459.2 333.0,457.8 334.6,456.4 336.2,454.9 337.8,453.2 339.4,451.3 341.0,449.2 342.6,446.9 344.2,444.5 345.8,442.1 347.4,439.7 349.0,437.3 350.6,435.2 352.2,433.1 353.8,431.2 355.4,429.4 357.0,427.6 358.6,425.7 360.2,423.9 361.8,422.0 363.4,420.1 365.0,418.2 366.6,416.3 368.2,414.4 369.8,412.4 371.4,410.3 373.0,408.0 374.6,405.6 376.2,403.1 377.8,400.5 379.4,398.0 381.0,395.5 382.6,393.3 384.2,391.3 385.8,389.5 387.4,387.9 389.0,386.4 390.6,384.9 392.2,383.5 393.8,382.0 395.4,380.4 397.0,378.8 398.6,377.1 400.2,375.3 401.8,373.4 403.4,371.4 405.0,369.4 406.6,367.4 408.2,365.3 409.8,363.3 411.4,361.2 413.0,359.0 414.6,356.8 416.2,354.4 417.8,352.0 419.4,349.6 421.0,347.3 422.6,344.9 424.2,342.6 425.8,340.2 427.4,337.9 429.0,335.6 430.6,333.3 432.2,331.0 433.8,328.8 435.4,326.6 437.0,324.5 438.6,322.5 440.2,320.5 441.8,318.6 443.4,316.6 445.0,314.6 446.6,312.6 448.2,310.5 449.8,308.5 451.4,306.6 453.0,304.9 454.6,303.4 456.2,302.0 457.8,300.7 459.4,299.4 461.0,298.0 462.6,296.5 464.2,294.9 465.8,293.3 467.4,291.7 469.0,290.1 470.6,288.5 472.2,286.9 473.8,285.3 475.4,283.8 477.0,282.3 478.6,280.8 480.2,279.3 481.8,277.8 483.4,276.2 485.0,274.6 486.6,272.9 488.2,271.1 489.8,269.3 491.4,267.5 493.0,265.7 494.6,264.0 496.2,262.5 497.8,261.1 499.4,259.9 501.0,258.8 502.6,257.8 504.2,256.7 505.8,255.6 507.4,254.3 509.0,252.9 510.6,251.3 512.2,249.5 513.8,247.7 515.4,245.9 517.0,244.1 518.6,242.2 520.2,240.4 521.8,238.5 523.4,236.5 525.0,234.5 526.6,232.5 528.2,230.7 529.8,228.9 531.4,227.3 533.0,225.8 534.6,224.3 536.2,222.8 537.8,221.3 539.4,219.8 541.0,218.3 542.6,216.9 544.2,215.5 545.8,214.1 547.4,212.7 549.0,211.3 550.6,209.8 552.2,208.3 553.8,206.9 555.4,205.6 557.0,204.5 558.6,203.7 560.2,203.0 561.8,202.5 563.4,202.0 565.0,201.4 566.6,200.7 568.2,199.6 569.8,198.3 571.4,196.9 573.0,195.3 574.6,193.8 576.2,192.4 577.8,191.2 579.4,190.0 581.0,188.9 582.6,187.9 584.2,186.8 585.8,185.6 587.4,184.4 589.0,183.1 590.6,181.8 592.2,180.6 593.8,179.5 595.4,178.5 597.0,177.7 598.6,176.8 600.2,176.0 601.8,175.1 603.4,174.1 605.0,173.0 606.6,171.9 608.2,170.7 609.8,169.6 611.4,168.5 613.0,167.6 614.6,166.7 616.2,165.8 617.8,164.8 619.4,163.8 621.0,162.7 622.6,161.5 624.2,160.4 625.8,159.4 627.4,158.5 629.0,157.8 630.6,157.2 632.2,156.7 633.8,156.2 635.4,155.7 637.0,155.2 638.6,154.7 640.2,154.1 641.8,153.6 643.4,153.2 645.0,152.8 646.6,152.4 648.2,151.9 649.8,151.4 651.4,150.7 653.0,149.9 654.6,149.0 656.2,147.9 657.8,146.7 659.4,145.3 661.0,144.0 662.6,142.6 664.2,141.4 665.8,140.2 667.4,139.2 669.0,138.3 670.6,137.5 672.2,136.8 673.8,136.2 675.4,135.8 677.0,135.5 678.6,135.1 680.2,134.7 681.8,134.0 683.4,133.1 685.0,132.0 686.6,130.8 688.2,129.6 689.8,128.7 691.4,128.0 693.0,127.8 694.6,127.9 696.2,128.4 697.8,129.1 699.4,130.0 701.0,130.9 702.6,131.8 704.2,132.4 705.8,132.8 707.4,132.9 709.0,132.8 710.6,132.5 712.2,132.0 713.8,131.5 715.4,130.9 717.0,130.2 718.6,129.6 720.2,128.9 721.8,128.4 723.4,128.0 725.0,127.8 726.6,128.0 728.2,128.4 729.8,129.1 731.4,130.0 733.0,131.0 734.6,132.0 736.2,132.9 737.8,133.4 739.4,133.7 741.0,133.5 742.6,133.1 744.2,132.5 745.8,131.8 747.4,131.2 749.0,130.9 750.6,130.8 752.2,131.0 753.8,131.6 755.4,132.6 757.0,133.9 758.6,135.5 760.2,137.3 761.8,139.2 763.4,141.2 765.0,143.0 766.6,144.7 768.2,146.0 769.8,147.0 771.4,147.7 773.0,148.1 774.6,148.4 776.2,148.7 777.8,149.2 779.4,149.8 781.0,150.7 782.6,151.8 784.2,153.1 785.8,154.5 787.4,156.0 789.0,157.4 790.6,158.7 792.2,160.0 793.8,161.0 795.4,162.0 797.0,162.8 798.6,163.7 800.2,164.6 801.8,165.6 803.4,166.8 805.0,168.2 806.6,169.8 808.2,171.5 809.8,173.3 811.4,175.4 813.0,177.6 814.6,179.9 816.2,182.5 817.8,185.1 819.4,187.8 821.0,190.5 822.6,193.1 824.2,195.6 825.8,197.9 827.4,200.1 829.0,202.3 830.6,204.4 832.2,206.6 833.8,209.0 835.4,211.4 837.0,214.0 838.6,216.9 840.2,219.9 841.8,223.0 843.4,226.3 845.0,229.7 846.6,233.1 848.2,236.5 849.8,240.0 851.4,243.3 853.0,246.7 854.6,250.0 856.2,253.2 857.8,256.4 859.4,259.6 861.0,262.8 862.6,266.0 864.2,269.4 865.8,272.9 867.4,276.6 869.0,280.4 870.6,284.2 872.2,288.1 873.8,291.9 875.4,295.7 877.0,299.5 878.6,303.3 880.2,307.2 881.8,311.1 883.4,315.1 885.0,319.2 886.6,323.3 888.2,327.3 889.8,331.4 891.4,335.5 893.0,339.6 894.6,343.7 896.2,347.9 897.8,352.1 899.4,356.3 901.0,360.4 902.6,364.5 904.2,368.6 905.8,372.6 907.4,376.6 909.0,380.7 910.6,384.9 912.2,389.3 913.8,393.9 915.4,398.7 917.0,403.5 918.6,408.3 920.6,413.0" fill="none" stroke="#a1cee5" stroke-width="1.3" stroke-linejoin="round" />
<polyline points="128.2,425.8 129.8,427.7 131.4,429.6 133.0,431.5 134.6,433.5 136.2,435.6 137.8,437.8 139.4,440.3 141.0,442.9 142.6,445.5 144.2,448.2 145.8,450.8 147.4,453.3 149.0,455.6 150.6,457.7 152.2,459.6 153.8,461.3 155.4,462.9 157.0,464.5 158.6,466.1 160.2,467.8 161.8,469.6 163.4,471.4 165.0,473.2 166.6,474.9 168.2,476.4 169.8,477.8 171.4,479.0 173.0,480.1 174.6,481.1 176.2,482.2 177.8,483.3 179.4,484.5 181.0,486.0 182.6,487.7 184.2,489.6 185.8,491.5 187.4,493.5 189.0,495.2 190.6,496.7 192.2,497.8 193.8,498.6 195.4,499.1 197.0,499.4 198.6,499.7 200.2,500.2 201.8,501.0 203.4,501.9 205.0,503.1 206.6,504.3 208.2,505.6 209.8,506.9 211.4,508.1 213.0,509.1 214.6,510.1 216.2,511.0 217.8,511.9 219.4,512.6 221.0,513.3 222.6,513.9 224.2,514.4 225.8,514.8 227.4,515.0 229.0,515.3 230.6,515.5 232.2,515.7 233.8,516.0 235.4,516.4 237.0,516.8 238.6,517.3 240.2,517.9 241.8,518.4 243.4,518.8 245.0,519.3 246.6,519.6 248.2,519.9 249.8,520.2 251.4,520.3 253.0,520.4 254.6,520.5 256.2,520.3 257.8,520.1 259.4,519.6 261.0,519.0 262.6,518.2 264.2,517.2 265.8,516.2 267.4,515.1 269.0,514.0 270.6,513.0 272.2,512.0 273.8,511.0 275.4,510.0 277.0,508.9 278.6,507.8 280.2,506.5 281.8,505.3 283.4,504.0 285.0,502.8 286.6,501.6 288.2,500.6 289.8,499.5 291.4,498.4 293.0,497.3 294.6,496.1 296.2,494.9 297.8,493.6 299.4,492.3 301.0,491.0 302.6,489.7 304.2,488.4 305.8,487.1 307.4,485.7 309.0,484.2 310.6,482.6 312.2,481.1 313.8,479.5 315.4,478.0 317.0,476.6 318.6,475.4 320.2,474.3 321.8,473.2 323.4,472.2 325.0,471.2 326.6,470.1 328.2,468.8 329.8,467.4 331.4,465.8 333.0,464.0 334.6,462.0 336.2,459.8 337.8,457.5 339.4,455.2 341.0,452.9 342.6,450.6 344.2,448.5 345.8,446.5 347.4,444.5 349.0,442.5 350.6,440.4 352.2,438.1 353.8,435.8 355.4,433.4 357.0,431.1 358.6,428.9 360.2,426.8 361.8,424.9 363.4,423.1 365.0,421.2 366.6,419.1 368.2,416.9 369.8,414.5 371.4,412.0 373.0,409.4 374.6,406.9 376.2,404.4 377.8,402.1 379.4,399.9 381.0,397.9 382.6,395.9 384.2,393.9 385.8,391.9 387.4,389.9 389.0,387.7 390.6,385.5 392.2,383.2 393.8,380.9 395.4,378.7 397.0,376.6 398.6,374.6 400.2,372.7 401.8,370.9 403.4,369.2 405.0,367.5 406.6,365.7 408.2,363.7 409.8,361.6 411.4,359.2 413.0,356.7 414.6,353.8 416.2,350.9 417.8,347.8 419.4,344.6 421.0,341.4 422.6,338.2 424.2,335.1 425.8,332.1 427.4,329.2 429.0,326.4 430.6,323.7 432.2,321.3 433.8,319.0 435.4,317.0 437.0,315.0 438.6,313.2 440.2,311.4 441.8,309.7 443.4,308.0 445.0,306.4 446.6,304.8 448.2,303.1 449.8,301.4 451.4,299.7 453.0,298.0 454.6,296.3 456.2,294.6 457.8,293.0 459.4,291.4 461.0,289.7 462.6,288.0 464.2,286.2 465.8,284.3 467.4,282.4 469.0,280.6 470.6,278.9 472.2,277.3 473.8,276.0 475.4,274.6 477.0,273.3 478.6,271.9 480.2,270.4 481.8,268.7 483.4,266.9 485.0,265.0 486.6,263.1 488.2,261.4 489.8,259.8 491.4,258.5 493.0,257.4 494.6,256.4 496.2,255.6 497.8,254.8 499.4,253.9 501.0,252.9 502.6,251.6 504.2,250.2 505.8,248.6 507.4,246.7 509.0,244.7 510.6,242.5 512.2,240.1 513.8,237.8 515.4,235.4 517.0,233.1 518.6,230.9 520.2,228.8 521.8,226.9 523.4,225.1 525.0,223.5 526.6,222.1 528.2,220.9 529.8,220.0 531.4,219.2 533.0,218.5 534.6,217.8 536.2,217.1 537.8,216.1 539.4,215.0 541.0,213.6 542.6,211.8 544.2,209.8 545.8,207.6 547.4,205.1 549.0,202.4 550.6,199.6 552.2,196.8 553.8,194.0 555.4,191.4 557.0,189.0 558.6,187.0 560.2,185.3 561.8,184.0 563.4,182.9 565.0,182.1 566.6,181.6 568.2,181.1 569.8,180.8 571.4,180.6 573.0,180.4 574.6,180.2 576.2,180.0 577.8,179.6 579.4,179.1 581.0,178.4 582.6,177.6 584.2,176.6 585.8,175.4 587.4,174.3 589.0,173.1 590.6,172.0 592.2,170.9 593.8,169.8 595.4,168.8 597.0,167.6 598.6,166.4 600.2,165.1 601.8,163.7 603.4,162.2 605.0,160.5 606.6,158.8 608.2,157.1 609.8,155.6 611.4,154.1 613.0,152.8 614.6,151.5 616.2,150.2 617.8,148.8 619.4,147.3 621.0,145.7 622.6,144.2 624.2,142.8 625.8,141.7 627.4,140.8 629.0,140.1 630.6,139.6 632.2,139.3 633.8,139.0 635.4,138.8 637.0,138.6 638.6,138.4 640.2,138.1 641.8,137.7 643.4,137.1 645.0,136.2 646.6,135.1 648.2,133.8 649.8,132.4 651.4,131.1 653.0,130.0 654.6,129.2 656.2,128.7 657.8,128.3 659.4,128.0 661.0,127.7 662.6,127.4 664.2,127.0 665.8,126.6 667.4,126.1 669.0,125.7 670.6,125.3 672.2,125.0 673.8,124.7 675.4,124.5 677.0,124.5 678.6,124.7 680.2,125.1 681.8,125.6 683.4,126.0 685.0,126.2 686.6,125.9 688.2,125.2 689.8,124.1 691.4,122.7 693.0,121.1 694.6,119.6 696.2,118.3 697.8,117.4 699.4,117.0 701.0,117.1 702.6,117.5 704.2,118.1 705.8,118.7 707.4,119.2 709.0,119.6 710.6,119.8 712.2,119.9 713.8,120.0 715.4,120.1 717.0,120.3 718.6,120.7 720.2,121.2 721.8,121.9 723.4,122.8 725.0,123.6 726.6,124.4 728.2,125.1 729.8,125.8 731.4,126.3 733.0,126.8 734.6,127.2 736.2,127.6 737.8,128.2 739.4,128.8 741.0,129.5 742.6,130.2 744.2,131.0 745.8,131.8 747.4,132.6 749.0,133.4 750.6,134.2 752.2,135.1 753.8,135.9 755.4,136.7 757.0,137.5 758.6,138.1 760.2,138.6 761.8,139.2 763.4,139.7 765.0,140.2 766.6,140.7 768.2,141.2 769.8,141.7 771.4,142.2 773.0,142.7 774.6,143.3 776.2,143.9 777.8,144.5 779.4,145.2 781.0,146.0 782.6,146.7 784.2,147.5 785.8,148.4 787.4,149.3 789.0,150.3 790.6,151.4 792.2,152.7 793.8,154.0 795.4,155.5 797.0,157.2 798.6,159.0 800.2,161.0 801.8,163.1 803.4,165.4 805.0,167.7 806.6,170.1 808.2,172.5 809.8,174.9 811.4,177.3 813.0,179.5 814.6,181.6 816.2,183.5 817.8,185.1 819.4,186.5 821.0,187.8 822.6,189.0 824.2,190.2 825.8,191.7 827.4,193.4 829.0,195.4 830.6,197.5 832.2,199.8 833.8,202.2 835.4,204.8 837.0,207.4 838.6,210.1 840.2,213.0 841.8,216.0 843.4,219.1 845.0,222.4 846.6,225.7 848.2,229.0 849.8,232.3 851.4,235.6 853.0,238.8 854.6,242.0 856.2,245.2 857.8,248.4 859.4,251.7 861.0,255.1 862.6,258.5 864.2,262.1 865.8,265.6 867.4,269.1 869.0,272.4 870.6,275.7 872.2,278.9 873.8,282.1 875.4,285.4 877.0,288.8 878.6,292.4 880.2,296.2 881.8,300.3 883.4,304.8 885.0,309.6 886.6,314.8 888.2,320.2 889.8,326.0 891.4,331.9 893.0,337.8 894.6,343.7 896.2,349.4 897.8,354.8 899.4,360.0 901.0,364.9 902.6,369.5 904.2,373.9 905.8,378.2 907.4,382.3 909.0,386.5 910.6,390.7 912.2,395.1 913.8,399.6 915.4,404.4 917.0,409.5 918.6,415.0 920.6,420.7" fill="none" stroke="#b0d4e6" stroke-width="1.05" stroke-linejoin="round" stroke-opacity="0.86"/>
<polyline points="128.2,432.4 129.8,434.2 131.4,436.0 133.0,438.0 134.6,440.1 136.2,442.3 137.8,444.7 139.4,447.1 141.0,449.5 142.6,451.8 144.2,454.0 145.8,456.1 147.4,458.0 149.0,459.8 150.6,461.4 152.2,463.1 153.8,464.6 155.4,466.2 157.0,467.9 158.6,469.5 160.2,471.1 161.8,472.7 163.4,474.2 165.0,475.9 166.6,477.5 168.2,479.2 169.8,480.9 171.4,482.6 173.0,484.3 174.6,485.9 176.2,487.3 177.8,488.6 179.4,489.8 181.0,490.9 182.6,491.9 184.2,493.0 185.8,494.3 187.4,495.7 189.0,497.3 190.6,498.9 192.2,500.5 193.8,502.0 195.4,503.2 197.0,504.2 198.6,504.8 200.2,505.2 201.8,505.5 203.4,505.8 205.0,506.0 206.6,506.2 208.2,506.5 209.8,506.7 211.4,506.9 213.0,507.1 214.6,507.4 216.2,507.7 217.8,508.0 219.4,508.3 221.0,508.5 222.6,508.7 224.2,508.9 225.8,509.2 227.4,509.6 229.0,510.1 230.6,510.9 232.2,511.7 233.8,512.6 235.4,513.5 237.0,514.3 238.6,514.9 240.2,515.2 241.8,515.3 243.4,515.3 245.0,515.0 246.6,514.7 248.2,514.3 249.8,513.9 251.4,513.6 253.0,513.3 254.6,513.2 256.2,513.1 257.8,513.0 259.4,512.9 261.0,512.8 262.6,512.6 264.2,512.3 265.8,511.7 267.4,511.0 269.0,510.1 270.6,509.0 272.2,507.7 273.8,506.2 275.4,504.6 277.0,502.9 278.6,501.2 280.2,499.4 281.8,497.7 283.4,496.1 285.0,494.4 286.6,492.8 288.2,491.3 289.8,489.7 291.4,488.2 293.0,486.8 294.6,485.4 296.2,483.9 297.8,482.0 299.4,479.8 301.0,477.6 302.6,475.5 304.2,473.7 305.8,472.3 307.4,470.9 309.0,469.7 310.6,468.7 312.2,467.7 313.8,466.7 315.4,465.6 317.0,464.4 318.6,462.9 320.2,461.2 321.8,459.3 323.4,457.3 325.0,455.4 326.6,453.6 328.2,452.1 329.8,450.8 331.4,449.6 333.0,448.5 334.6,447.2 336.2,445.8 337.8,444.0 339.4,441.9 341.0,439.6 342.6,437.0 344.2,434.2 345.8,431.2 347.4,428.0 349.0,424.6 350.6,421.0 352.2,417.3 353.8,413.6 355.4,410.1 357.0,406.8 358.6,404.0 360.2,401.5 361.8,399.3 363.4,397.4 365.0,395.5 366.6,393.5 368.2,391.5 369.8,389.2 371.4,386.6 373.0,384.0 374.6,381.2 376.2,378.5 377.8,375.9 379.4,373.5 381.0,371.2 382.6,369.2 384.2,367.3 385.8,365.5 387.4,363.7 389.0,361.8 390.6,359.8 392.2,357.7 393.8,355.6 395.4,353.4 397.0,351.3 398.6,349.1 400.2,347.1 401.8,345.1 403.4,343.3 405.0,341.6 406.6,340.1 408.2,338.8 409.8,337.6 411.4,336.5 413.0,335.5 414.6,334.4 416.2,333.1 417.8,331.6 419.4,329.9 421.0,327.9 422.6,325.8 424.2,323.5 425.8,321.1 427.4,318.8 429.0,316.4 430.6,314.1 432.2,311.9 433.8,309.9 435.4,308.0 437.0,306.2 438.6,304.5 440.2,302.8 441.8,301.2 443.4,299.7 445.0,298.2 446.6,296.8 448.2,295.4 449.8,294.1 451.4,292.9 453.0,291.7 454.6,290.4 456.2,289.0 457.8,287.6 459.4,286.2 461.0,284.7 462.6,283.1 464.2,281.3 465.8,279.4 467.4,277.4 469.0,275.2 470.6,273.0 472.2,270.8 473.8,268.8 475.4,266.9 477.0,265.4 478.6,264.0 480.2,262.9 481.8,261.7 483.4,260.5 485.0,259.2 486.6,257.8 488.2,256.2 489.8,254.6 491.4,252.8 493.0,251.0 494.6,249.2 496.2,247.4 497.8,245.7 499.4,244.0 501.0,242.3 502.6,240.6 504.2,238.9 505.8,237.0 507.4,234.9 509.0,232.7 510.6,230.5 512.2,228.3 513.8,226.3 515.4,224.5 517.0,222.9 518.6,221.5 520.2,220.1 521.8,218.8 523.4,217.4 525.0,215.9 526.6,214.4 528.2,212.8 529.8,211.2 531.4,209.7 533.0,208.1 534.6,206.6 536.2,205.1 537.8,203.7 539.4,202.3 541.0,201.0 542.6,199.8 544.2,198.7 545.8,197.5 547.4,196.5 549.0,195.5 550.6,194.6 552.2,193.8 553.8,193.1 555.4,192.4 557.0,191.6 558.6,190.8 560.2,189.7 561.8,188.4 563.4,186.9 565.0,185.0 566.6,182.8 568.2,180.5 569.8,178.2 571.4,175.9 573.0,173.8 574.6,171.9 576.2,170.2 577.8,168.8 579.4,167.4 581.0,166.1 582.6,164.8 584.2,163.4 585.8,161.9 587.4,160.3 589.0,158.8 590.6,157.3 592.2,155.8 593.8,154.5 595.4,153.3 597.0,152.2 598.6,151.2 600.2,150.2 601.8,149.1 603.4,148.1 605.0,147.1 606.6,146.1 608.2,145.1 609.8,144.3 611.4,143.5 613.0,142.9 614.6,142.3 616.2,141.8 617.8,141.3 619.4,140.7 621.0,139.9 622.6,139.0 624.2,138.0 625.8,137.1 627.4,136.1 629.0,135.4 630.6,134.7 632.2,134.2 633.8,133.7 635.4,133.2 637.0,132.7 638.6,132.1 640.2,131.5 641.8,130.9 643.4,130.6 645.0,130.5 646.6,130.8 648.2,131.3 649.8,132.0 651.4,132.7 653.0,133.4 654.6,133.9 656.2,134.2 657.8,134.3 659.4,134.0 661.0,133.5 662.6,132.7 664.2,131.8 665.8,130.7 667.4,129.5 669.0,128.4 670.6,127.2 672.2,126.1 673.8,125.2 675.4,124.5 677.0,123.9 678.6,123.4 680.2,122.9 681.8,122.4 683.4,121.9 685.0,121.4 686.6,121.0 688.2,120.9 689.8,121.2 691.4,121.7 693.0,122.3 694.6,122.7 696.2,122.8 697.8,122.6 699.4,122.1 701.0,121.5 702.6,120.8 704.2,120.3 705.8,119.9 707.4,119.7 709.0,119.6 710.6,119.5 712.2,119.4 713.8,119.2 715.4,119.1 717.0,119.1 718.6,119.3 720.2,119.8 721.8,120.5 723.4,121.4 725.0,122.3 726.6,123.0 728.2,123.6 729.8,124.1 731.4,124.5 733.0,124.8 734.6,125.1 736.2,125.4 737.8,125.8 739.4,126.3 741.0,126.9 742.6,127.4 744.2,127.8 745.8,128.2 747.4,128.3 749.0,128.3 750.6,128.1 752.2,127.8 753.8,127.6 755.4,127.6 757.0,127.9 758.6,128.6 760.2,129.6 761.8,130.9 763.4,132.4 765.0,134.0 766.6,135.5 768.2,137.0 769.8,138.3 771.4,139.5 773.0,140.6 774.6,141.6 776.2,142.5 777.8,143.3 779.4,144.3 781.0,145.3 782.6,146.5 784.2,147.8 785.8,149.1 787.4,150.6 789.0,152.0 790.6,153.4 792.2,154.8 793.8,156.0 795.4,157.1 797.0,158.1 798.6,159.0 800.2,159.9 801.8,160.9 803.4,162.0 805.0,163.3 806.6,164.9 808.2,166.6 809.8,168.4 811.4,170.2 813.0,172.0 814.6,173.6 816.2,175.0 817.8,176.2 819.4,177.2 821.0,178.1 822.6,179.1 824.2,180.2 825.8,181.4 827.4,182.8 829.0,184.3 830.6,186.1 832.2,188.2 833.8,190.4 835.4,192.8 837.0,195.3 838.6,198.0 840.2,200.9 841.8,203.8 843.4,206.9 845.0,209.8 846.6,212.7 848.2,215.4 849.8,218.1 851.4,220.7 853.0,223.4 854.6,226.3 856.2,229.5 857.8,233.0 859.4,236.8 861.0,240.7 862.6,244.7 864.2,248.4 865.8,252.0 867.4,255.1 869.0,258.0 870.6,260.5 872.2,262.9 873.8,265.3 875.4,267.8 877.0,270.4 878.6,273.3 880.2,276.4 881.8,279.8 883.4,283.3 885.0,287.0 886.6,290.8 888.2,294.7 889.8,298.4 891.4,301.9 893.0,305.2 894.6,308.4 896.2,311.4 897.8,314.5 899.4,317.5 901.0,320.7 902.6,324.4 904.2,328.4 905.8,332.3 907.4,335.9 909.0,338.7 910.6,340.7 912.2,342.7 913.8,344.7 915.4,346.5 917.0,348.2 918.6,349.7 920.6,351.2" fill="none" stroke="#bedbe8" stroke-width="1.05" stroke-linejoin="round" stroke-opacity="0.86"/>
<polyline points="128.2,368.6 129.8,370.7 131.4,372.8 133.0,375.0 134.6,377.1 136.2,379.3 137.8,381.5 139.4,383.8 141.0,386.2 142.6,388.7 144.2,391.3 145.8,394.0 147.4,396.8 149.0,399.6 150.6,402.4 152.2,405.2 153.8,408.1 155.4,411.1 157.0,414.2 158.6,417.4 160.2,420.7 161.8,424.2 163.4,427.7 165.0,431.7 166.6,436.1 168.2,440.8 169.8,445.4 171.4,449.9 173.0,454.1 174.6,458.2 176.2,462.1 177.8,465.6 179.4,468.8 181.0,471.7 182.6,472.0 184.2,473.2 185.8,475.6 187.4,479.1 189.0,483.0 190.6,486.2 192.2,488.1 193.8,489.8 195.4,491.3 197.0,492.8 198.6,494.1 200.2,495.2 201.8,496.3 203.4,497.4 205.0,498.6 206.6,499.8 208.2,501.0 209.8,502.3 211.4,503.6 213.0,504.7 214.6,505.7 216.2,506.4 217.8,507.0 219.4,507.4 221.0,507.7 222.6,508.0 224.2,508.4 225.8,508.8 227.4,509.3 229.0,509.8 230.6,510.1 232.2,510.4 233.8,510.5 235.4,510.5 237.0,510.4 238.6,510.2 240.2,510.1 241.8,510.1 243.4,510.1 245.0,510.2 246.6,510.4 248.2,510.5 249.8,510.6 251.4,510.6 253.0,510.7 254.6,510.6 256.2,510.6 257.8,510.6 259.4,510.5 261.0,510.5 262.6,510.3 264.2,510.0 265.8,509.6 267.4,509.1 269.0,508.3 270.6,507.4 272.2,506.4 273.8,505.2 275.4,503.9 277.0,502.6 278.6,501.2 280.2,499.9 281.8,498.6 283.4,497.3 285.0,496.0 286.6,494.6 288.2,493.0 289.8,491.2 291.4,489.2 293.0,486.9 294.6,484.4 296.2,481.7 297.8,478.2 299.4,474.3 301.0,470.5 302.6,467.2 304.2,464.7 305.8,462.7 307.4,460.9 309.0,459.2 310.6,457.6 312.2,456.2 313.8,454.9 315.4,453.8 317.0,452.8 318.6,452.0 320.2,451.1 321.8,450.1 323.4,448.9 325.0,447.4 326.6,445.6 328.2,443.6 329.8,441.5 331.4,439.2 333.0,437.1 334.6,435.0 336.2,433.1 337.8,431.4 339.4,429.7 341.0,428.0 342.6,426.2 344.2,424.2 345.8,422.1 347.4,419.9 349.0,417.7 350.6,415.6 352.2,413.5 353.8,411.5 355.4,409.4 357.0,407.2 358.6,404.8 360.2,402.2 361.8,399.4 363.4,396.4 365.0,393.5 366.6,390.7 368.2,388.1 369.8,385.8 371.4,383.7 373.0,381.7 374.6,379.8 376.2,377.7 377.8,375.5 379.4,373.3 381.0,370.9 382.6,368.5 384.2,366.1 385.8,363.8 387.4,361.7 389.0,359.7 390.6,357.9 392.2,356.3 393.8,354.7 395.4,353.0 397.0,351.3 398.6,349.4 400.2,347.5 401.8,345.4 403.4,343.4 405.0,341.3 406.6,339.2 408.2,337.3 409.8,335.4 411.4,333.6 413.0,331.8 414.6,330.2 416.2,328.5 417.8,326.9 419.4,325.2 421.0,323.4 422.6,321.6 424.2,319.6 425.8,317.6 427.4,315.6 429.0,313.7 430.6,311.8 432.2,309.9 433.8,308.1 435.4,306.2 437.0,304.3 438.6,302.4 440.2,300.6 441.8,298.8 443.4,297.1 445.0,295.5 446.6,294.1 448.2,292.8 449.8,291.7 451.4,290.7 453.0,289.7 454.6,288.7 456.2,287.6 457.8,286.3 459.4,284.8 461.0,283.0 462.6,280.9 464.2,278.8 465.8,276.6 467.4,274.5 469.0,272.6 470.6,270.8 472.2,269.1 473.8,267.5 475.4,265.8 477.0,264.1 478.6,262.2 480.2,260.1 481.8,257.8 483.4,255.4 485.0,252.8 486.6,250.1 488.2,247.4 489.8,244.8 491.4,242.4 493.0,240.2 494.6,238.2 496.2,236.4 497.8,234.8 499.4,233.2 501.0,231.5 502.6,229.7 504.2,227.8 505.8,225.6 507.4,223.3 509.0,221.0 510.6,218.8 512.2,216.8 513.8,214.9 515.4,213.2 517.0,211.7 518.6,210.2 520.2,208.8 521.8,207.5 523.4,206.3 525.0,205.2 526.6,204.1 528.2,203.2 529.8,202.2 531.4,201.1 533.0,200.0 534.6,198.6 536.2,197.2 537.8,195.8 539.4,194.3 541.0,193.0 542.6,191.8 544.2,190.7 545.8,189.7 547.4,188.7 549.0,187.8 550.6,186.8 552.2,185.8 553.8,184.7 555.4,183.7 557.0,182.7 558.6,181.8 560.2,181.0 561.8,180.3 563.4,179.5 565.0,178.6 566.6,177.4 568.2,176.0 569.8,174.5 571.4,172.9 573.0,171.4 574.6,170.1 576.2,169.0 577.8,168.1 579.4,167.1 581.0,166.0 582.6,164.7 584.2,163.2 585.8,161.5 587.4,159.7 589.0,157.9 590.6,156.1 592.2,154.6 593.8,153.2 595.4,151.9 597.0,150.7 598.6,149.6 600.2,148.5 601.8,147.3 603.4,146.0 605.0,144.7 606.6,143.4 608.2,142.1 609.8,141.0 611.4,140.0 613.0,139.0 614.6,138.2 616.2,137.4 617.8,136.6 619.4,135.7 621.0,134.9 622.6,134.0 624.2,133.1 625.8,132.5 627.4,132.1 629.0,131.9 630.6,131.7 632.2,131.4 633.8,131.0 635.4,130.6 637.0,130.1 638.6,129.5 640.2,128.9 641.8,128.3 643.4,127.8 645.0,127.3 646.6,126.9 648.2,126.6 649.8,126.4 651.4,126.3 653.0,126.3 654.6,126.3 656.2,126.3 657.8,126.3 659.4,126.2 661.0,126.0 662.6,125.7 664.2,125.3 665.8,124.8 667.4,124.2 669.0,123.7 670.6,123.1 672.2,122.4 673.8,121.7 675.4,121.0 677.0,120.1 678.6,119.2 680.2,118.2 681.8,117.1 683.4,116.0 685.0,114.6 686.6,112.9 688.2,111.0 689.8,109.2 691.4,107.6 693.0,106.1 694.6,104.5 696.2,103.0 697.8,101.8 699.4,101.1 701.0,101.1 702.6,101.4 704.2,102.0 705.8,102.6 707.4,103.3 709.0,103.9 710.6,104.4 712.2,104.8 713.8,105.2 715.4,105.7 717.0,106.2 718.6,106.9 720.2,107.9 721.8,109.2 723.4,110.6 725.0,111.8 726.6,112.9 728.2,113.7 729.8,114.5 731.4,115.1 733.0,115.8 734.6,116.3 736.2,116.7 737.8,117.1 739.4,117.5 741.0,117.9 742.6,118.4 744.2,119.1 745.8,119.9 747.4,120.9 749.0,121.8 750.6,122.8 752.2,123.6 753.8,124.3 755.4,124.9 757.0,125.5 758.6,126.0 760.2,126.4 761.8,126.8 763.4,127.0 765.0,127.4 766.6,128.1 768.2,129.2 769.8,130.9 771.4,133.1 773.0,135.7 774.6,138.5 776.2,141.1 777.8,143.5 779.4,145.2 781.0,146.3 782.6,146.4 784.2,146.3 785.8,146.2 787.4,146.2 789.0,146.6 790.6,147.3 792.2,148.3 793.8,149.7 795.4,151.2 797.0,152.8 798.6,154.5 800.2,156.2 801.8,157.9 803.4,159.8 805.0,161.7 806.6,163.8 808.2,165.8 809.8,167.8 811.4,169.7 813.0,171.5 814.6,173.1 816.2,174.6 817.8,176.1 819.4,177.6 821.0,179.1 822.6,180.8 824.2,182.8 825.8,184.9 827.4,187.1 829.0,189.4 830.6,191.7 832.2,193.9 833.8,196.1 835.4,198.2 837.0,200.3 838.6,202.9 840.2,206.2 841.8,209.7 843.4,212.9 845.0,215.7 846.6,217.8 848.2,219.3 849.8,220.1 851.4,220.3 853.0,220.8 854.6,223.7 856.2,226.6 857.8,229.7 859.4,232.8 861.0,236.1 862.6,239.4 864.2,242.9 865.8,246.4 867.4,249.9 869.0,253.5 870.6,257.0 872.2,260.8 873.8,264.9 875.4,269.1 877.0,273.1 878.6,276.7 880.2,279.9 881.8,282.7 883.4,285.5 885.0,288.2 886.6,291.0 888.2,294.0 889.8,297.0 891.4,300.0 893.0,302.9 894.6,305.8 896.2,308.8 897.8,312.1 899.4,315.5 901.0,319.2 902.6,323.6 904.2,328.4 905.8,333.2 907.4,337.8 909.0,341.9 910.6,345.5 912.2,348.9 913.8,352.1 915.4,355.3 917.0,358.3 918.6,361.2 920.6,364.6" fill="none" stroke="#cde1e9" stroke-width="1.05" stroke-linejoin="round" stroke-opacity="0.86"/>
<polyline points="128.2,375.1 129.8,377.0 131.4,379.5 133.0,382.8 134.6,386.8 136.2,391.1 137.8,395.8 139.4,400.6 141.0,405.3 142.6,409.9 144.2,414.1 145.8,417.7 147.4,420.9 149.0,424.0 150.6,426.9 152.2,429.7 153.8,432.5 155.4,435.4 157.0,438.3 158.6,441.3 160.2,444.2 161.8,447.2 163.4,450.2 165.0,453.1 166.6,456.0 168.2,458.9 169.8,461.6 171.4,464.3 173.0,465.2 174.6,465.4 176.2,466.4 177.8,468.2 179.4,470.9 181.0,473.8 182.6,476.7 184.2,478.8 185.8,480.4 187.4,481.8 189.0,483.2 190.6,484.4 192.2,485.6 193.8,486.7 195.4,488.0 197.0,489.4 198.6,490.9 200.2,492.5 201.8,494.2 203.4,495.9 205.0,497.4 206.6,498.8 208.2,500.2 209.8,501.6 211.4,502.9 213.0,504.2 214.6,505.5 216.2,506.7 217.8,507.8 219.4,508.9 221.0,509.8 222.6,510.5 224.2,511.0 225.8,511.3 227.4,511.3 229.0,511.2 230.6,510.9 232.2,510.7 233.8,510.5 235.4,510.6 237.0,511.0 238.6,511.5 240.2,512.2 241.8,512.9 243.4,513.6 245.0,514.2 246.6,514.6 248.2,514.9 249.8,515.0 251.4,514.9 253.0,514.6 254.6,514.4 256.2,514.1 257.8,513.9 259.4,513.6 261.0,513.4 262.6,513.1 264.2,512.8 265.8,512.3 267.4,511.7 269.0,511.1 270.6,510.3 272.2,509.5 273.8,508.6 275.4,507.5 277.0,506.3 278.6,504.9 280.2,503.4 281.8,501.8 283.4,500.3 285.0,498.7 286.6,497.3 288.2,495.8 289.8,494.3 291.4,492.9 293.0,491.4 294.6,489.9 296.2,488.3 297.8,486.5 299.4,484.5 301.0,482.5 302.6,480.5 304.2,478.7 305.8,477.0 307.4,475.4 309.0,473.9 310.6,472.3 312.2,470.7 313.8,469.0 315.4,467.2 317.0,465.4 318.6,463.6 320.2,461.8 321.8,460.1 323.4,458.5 325.0,457.0 326.6,455.4 328.2,453.9 329.8,452.2 331.4,450.5 333.0,448.7 334.6,446.7 336.2,444.6 337.8,442.3 339.4,439.8 341.0,437.0 342.6,434.1 344.2,431.0 345.8,427.8 347.4,424.6 349.0,421.5 350.6,418.4 352.2,415.5 353.8,412.6 355.4,409.9 357.0,407.1 358.6,404.3 360.2,401.4 361.8,398.4 363.4,395.4 365.0,392.2 366.6,389.1 368.2,386.1 369.8,383.2 371.4,380.7 373.0,378.4 374.6,376.4 376.2,374.6 377.8,372.9 379.4,371.2 381.0,369.6 382.6,367.9 384.2,366.1 385.8,364.4 387.4,362.7 389.0,361.1 390.6,359.5 392.2,358.0 393.8,356.5 395.4,354.8 397.0,352.9 398.6,350.9 400.2,348.8 401.8,346.6 403.4,344.5 405.0,342.5 406.6,340.6 408.2,338.9 409.8,337.2 411.4,335.6 413.0,333.9 414.6,332.2 416.2,330.3 417.8,328.4 419.4,326.5 421.0,324.5 422.6,322.7 424.2,320.9 425.8,319.3 427.4,317.7 429.0,316.1 430.6,314.5 432.2,312.8 433.8,311.1 435.4,309.3 437.0,307.5 438.6,305.8 440.2,304.0 441.8,302.2 443.4,300.4 445.0,298.6 446.6,296.7 448.2,294.8 449.8,293.0 451.4,291.2 453.0,289.6 454.6,288.0 456.2,286.6 457.8,285.1 459.4,283.7 461.0,282.3 462.6,280.9 464.2,279.5 465.8,278.1 467.4,276.7 469.0,275.2 470.6,273.7 472.2,272.1 473.8,270.5 475.4,268.8 477.0,267.1 478.6,265.4 480.2,263.7 481.8,262.1 483.4,260.5 485.0,258.9 486.6,257.3 488.2,255.6 489.8,253.9 491.4,252.2 493.0,250.5 494.6,248.8 496.2,247.1 497.8,245.3 499.4,243.6 501.0,242.0 502.6,240.3 504.2,238.7 505.8,237.2 507.4,235.6 509.0,234.1 510.6,232.6 512.2,231.1 513.8,229.5 515.4,227.8 517.0,226.0 518.6,223.9 520.2,221.5 521.8,218.8 523.4,216.0 525.0,213.1 526.6,210.3 528.2,207.8 529.8,205.6 531.4,203.6 533.0,202.0 534.6,200.4 536.2,199.0 537.8,197.6 539.4,196.3 541.0,195.0 542.6,193.9 544.2,193.0 545.8,192.3 547.4,191.7 549.0,191.3 550.6,190.9 552.2,190.4 553.8,189.8 555.4,189.0 557.0,188.1 558.6,187.0 560.2,185.7 561.8,184.5 563.4,183.3 565.0,182.1 566.6,181.0 568.2,180.0 569.8,179.1 571.4,178.2 573.0,177.4 574.6,176.6 576.2,175.8 577.8,175.1 579.4,174.3 581.0,173.4 582.6,172.5 584.2,171.4 585.8,170.2 587.4,168.8 589.0,167.4 590.6,166.1 592.2,164.8 593.8,163.6 595.4,162.5 597.0,161.5 598.6,160.4 600.2,159.3 601.8,158.2 603.4,157.1 605.0,156.2 606.6,155.3 608.2,154.6 609.8,154.0 611.4,153.6 613.0,153.2 614.6,152.9 616.2,152.8 617.8,153.0 619.4,153.3 621.0,153.9 622.6,154.6 624.2,155.4 625.8,156.2 627.4,156.8 629.0,157.1 630.6,157.1 632.2,156.7 633.8,156.0 635.4,155.0 637.0,154.0 638.6,153.1 640.2,152.2 641.8,151.6 643.4,151.1 645.0,150.7 646.6,150.3 648.2,149.8 649.8,149.2 651.4,148.4 653.0,147.5 654.6,146.5 656.2,145.4 657.8,144.3 659.4,143.1 661.0,141.8 662.6,140.5 664.2,139.3 665.8,138.2 667.4,137.4 669.0,136.8 670.6,136.5 672.2,136.4 673.8,136.4 675.4,136.3 677.0,136.1 678.6,135.9 680.2,135.7 681.8,135.7 683.4,135.9 685.0,136.6 686.6,137.4 688.2,138.4 689.8,139.4 691.4,140.3 693.0,141.0 694.6,141.5 696.2,141.7 697.8,141.9 699.4,141.9 701.0,141.8 702.6,141.6 704.2,141.3 705.8,140.8 707.4,140.3 709.0,139.7 710.6,139.2 712.2,138.8 713.8,138.5 715.4,138.5 717.0,138.7 718.6,139.1 720.2,139.8 721.8,140.7 723.4,141.7 725.0,142.8 726.6,143.8 728.2,144.5 729.8,144.8 731.4,144.7 733.0,144.3 734.6,143.7 736.2,143.1 737.8,142.8 739.4,142.7 741.0,143.0 742.6,143.5 744.2,144.4 745.8,145.4 747.4,146.5 749.0,147.6 750.6,148.7 752.2,149.7 753.8,150.6 755.4,151.4 757.0,152.1 758.6,152.8 760.2,153.5 761.8,154.3 763.4,155.0 765.0,155.8 766.6,156.6 768.2,157.4 769.8,158.2 771.4,159.1 773.0,159.9 774.6,160.8 776.2,161.7 777.8,162.6 779.4,163.7 781.0,165.0 782.6,166.6 784.2,168.4 785.8,170.4 787.4,172.3 789.0,174.0 790.6,175.5 792.2,176.7 793.8,177.6 795.4,178.4 797.0,179.1 798.6,179.9 800.2,180.7 801.8,181.5 803.4,182.4 805.0,183.5 806.6,184.8 808.2,186.3 809.8,188.1 811.4,190.3 813.0,192.7 814.6,195.3 816.2,197.9 817.8,200.4 819.4,202.7 821.0,204.7 822.6,206.4 824.2,207.9 825.8,209.1 827.4,210.2 829.0,211.3 830.6,212.4 832.2,213.7 833.8,215.1 835.4,216.7 837.0,218.6 838.6,220.7 840.2,223.0 841.8,225.5 843.4,228.2 845.0,231.1 846.6,234.1 848.2,237.3 849.8,240.6 851.4,244.0 853.0,247.4 854.6,250.9 856.2,254.4 857.8,257.8 859.4,261.3 861.0,264.7 862.6,268.0 864.2,271.3 865.8,274.5 867.4,277.6 869.0,280.8 870.6,284.0 872.2,287.4 873.8,291.0 875.4,294.7 877.0,298.5 878.6,302.5 880.2,306.5 881.8,310.5 883.4,314.6 885.0,318.9 886.6,323.4 888.2,328.0 889.8,332.6 891.4,337.2 893.0,341.8 894.6,346.2 896.2,350.4 897.8,354.5 899.4,358.5 901.0,362.4 902.6,366.4 904.2,370.4 905.8,374.4 907.4,378.5 909.0,382.8 910.6,387.3 912.2,392.0 913.8,397.0 915.4,402.3 917.0,407.7 918.6,413.3 920.6,419.0" fill="none" stroke="#d6e6ed" stroke-width="1.05" stroke-linejoin="round" stroke-opacity="0.86"/>
<polyline points="128.2,441.2 129.8,442.8 131.4,444.5 133.0,446.4 134.6,448.5 136.2,450.7 137.8,453.0 139.4,455.4 141.0,457.7 142.6,459.9 144.2,462.2 145.8,464.4 147.4,466.7 149.0,469.1 150.6,471.6 152.2,474.2 153.8,476.8 155.4,479.4 157.0,481.9 158.6,484.2 160.2,486.3 161.8,488.3 163.4,490.1 165.0,491.8 166.6,493.5 168.2,495.2 169.8,497.0 171.4,498.9 173.0,500.9 174.6,502.9 176.2,504.9 177.8,506.8 179.4,508.7 181.0,510.5 182.6,512.2 184.2,513.9 185.8,515.5 187.4,516.9 189.0,518.3 190.6,519.4 192.2,520.5 193.8,521.3 195.4,522.0 197.0,522.5 198.6,523.0 200.2,523.5 201.8,524.1 203.4,524.7 205.0,525.4 206.6,526.1 208.2,526.9 209.8,527.7 211.4,528.5 213.0,529.1 214.6,529.7 216.2,530.2 217.8,530.6 219.4,530.8 221.0,531.0 222.6,531.1 224.2,531.2 225.8,531.1 227.4,531.0 229.0,530.8 230.6,530.5 232.2,530.2 233.8,529.9 235.4,529.6 237.0,529.4 238.6,529.5 240.2,529.9 241.8,530.5 243.4,531.2 245.0,532.1 246.6,533.0 248.2,533.7 249.8,534.2 251.4,534.4 253.0,534.3 254.6,534.1 256.2,533.7 257.8,533.3 259.4,532.9 261.0,532.5 262.6,532.2 264.2,532.0 265.8,531.7 267.4,531.2 269.0,530.6 270.6,529.7 272.2,528.6 273.8,527.2 275.4,525.7 277.0,524.0 278.6,522.2 280.2,520.5 281.8,518.8 283.4,517.2 285.0,515.8 286.6,514.5 288.2,513.2 289.8,512.1 291.4,510.8 293.0,509.6 294.6,508.3 296.2,507.1 297.8,505.9 299.4,504.7 301.0,503.7 302.6,502.8 304.2,501.9 305.8,501.1 307.4,500.2 309.0,499.3 310.6,498.4 312.2,497.4 313.8,496.3 315.4,495.3 317.0,494.1 318.6,492.9 320.2,491.5 321.8,490.0 323.4,488.3 325.0,486.5 326.6,484.6 328.2,482.7 329.8,480.7 331.4,478.7 333.0,476.6 334.6,474.3 336.2,471.9 337.8,469.2 339.4,466.3 341.0,463.2 342.6,460.1 344.2,457.1 345.8,454.1 347.4,451.3 349.0,448.6 350.6,446.1 352.2,443.8 353.8,441.5 355.4,439.2 357.0,437.0 358.6,434.7 360.2,432.4 361.8,430.1 363.4,427.8 365.0,425.6 366.6,423.5 368.2,421.4 369.8,419.5 371.4,417.6 373.0,415.8 374.6,414.0 376.2,412.2 377.8,410.5 379.4,409.0 381.0,407.5 382.6,406.0 384.2,404.6 385.8,403.1 387.4,401.6 389.0,400.0 390.6,398.4 392.2,396.7 393.8,395.1 395.4,393.6 397.0,392.0 398.6,390.3 400.2,388.6 401.8,386.7 403.4,384.6 405.0,382.4 406.6,380.1 408.2,377.8 409.8,375.6 411.4,373.5 413.0,371.5 414.6,369.6 416.2,367.8 417.8,365.9 419.4,364.0 421.0,362.0 422.6,360.1 424.2,358.3 425.8,356.6 427.4,355.1 429.0,353.8 430.6,352.7 432.2,351.7 433.8,350.7 435.4,349.7 437.0,348.4 438.6,347.0 440.2,345.4 441.8,343.6 443.4,341.7 445.0,339.8 446.6,337.8 448.2,336.0 449.8,334.3 451.4,332.7 453.0,331.2 454.6,329.8 456.2,328.5 457.8,327.3 459.4,326.1 461.0,324.9 462.6,323.6 464.2,322.3 465.8,320.8 467.4,319.3 469.0,317.5 470.6,315.7 472.2,313.7 473.8,311.5 475.4,309.2 477.0,306.9 478.6,304.5 480.2,302.2 481.8,299.9 483.4,297.6 485.0,295.4 486.6,293.2 488.2,291.1 489.8,289.1 491.4,287.1 493.0,285.2 494.6,283.2 496.2,281.3 497.8,279.4 499.4,277.5 501.0,275.8 502.6,274.1 504.2,272.4 505.8,270.8 507.4,269.2 509.0,267.5 510.6,265.7 512.2,263.8 513.8,261.8 515.4,259.8 517.0,257.9 518.6,256.1 520.2,254.3 521.8,252.6 523.4,251.0 525.0,249.2 526.6,247.4 528.2,245.5 529.8,243.4 531.4,241.4 533.0,239.3 534.6,237.3 536.2,235.3 537.8,233.5 539.4,231.8 541.0,230.2 542.6,228.6 544.2,227.1 545.8,225.5 547.4,223.9 549.0,222.1 550.6,220.4 552.2,218.6 553.8,216.9 555.4,215.2 557.0,213.6 558.6,212.1 560.2,210.6 561.8,209.2 563.4,207.9 565.0,206.7 566.6,205.5 568.2,204.3 569.8,203.1 571.4,201.8 573.0,200.5 574.6,199.1 576.2,197.6 577.8,196.2 579.4,194.7 581.0,193.4 582.6,192.2 584.2,191.1 585.8,190.2 587.4,189.4 589.0,188.6 590.6,187.7 592.2,186.8 593.8,185.9 595.4,184.9 597.0,183.9 598.6,183.0 600.2,182.2 601.8,181.5 603.4,180.8 605.0,180.0 606.6,179.2 608.2,178.3 609.8,177.4 611.4,176.6 613.0,176.0 614.6,175.5 616.2,175.3 617.8,175.1 619.4,174.9 621.0,174.6 622.6,174.3 624.2,173.8 625.8,173.2 627.4,172.4 629.0,171.5 630.6,170.4 632.2,169.3 633.8,168.0 635.4,166.7 637.0,165.4 638.6,164.2 640.2,163.1 641.8,162.2 643.4,161.4 645.0,160.8 646.6,160.1 648.2,159.5 649.8,158.7 651.4,158.0 653.0,157.1 654.6,156.3 656.2,155.5 657.8,154.7 659.4,154.0 661.0,153.3 662.6,152.6 664.2,152.0 665.8,151.5 667.4,151.1 669.0,151.0 670.6,151.1 672.2,151.6 673.8,152.3 675.4,153.1 677.0,154.0 678.6,154.8 680.2,155.7 681.8,156.5 683.4,157.4 685.0,158.2 686.6,158.9 688.2,159.7 689.8,160.4 691.4,161.1 693.0,161.6 694.6,162.1 696.2,162.4 697.8,162.6 699.4,162.7 701.0,162.8 702.6,162.9 704.2,163.1 705.8,163.3 707.4,163.6 709.0,163.9 710.6,164.2 712.2,164.3 713.8,164.4 715.4,164.3 717.0,164.0 718.6,163.7 720.2,163.3 721.8,162.9 723.4,162.5 725.0,162.1 726.6,161.8 728.2,161.4 729.8,160.9 731.4,160.6 733.0,160.3 734.6,160.3 736.2,160.4 737.8,160.8 739.4,161.3 741.0,161.9 742.6,162.5 744.2,162.9 745.8,163.3 747.4,163.5 749.0,163.6 750.6,163.6 752.2,163.6 753.8,163.7 755.4,164.0 757.0,164.3 758.6,164.9 760.2,165.6 761.8,166.5 763.4,167.5 765.0,168.7 766.6,169.8 768.2,170.9 769.8,171.9 771.4,172.9 773.0,173.9 774.6,174.9 776.2,176.2 777.8,177.6 779.4,179.3 781.0,181.1 782.6,183.1 784.2,185.1 785.8,187.4 787.4,190.1 789.0,192.7 790.6,195.1 792.2,197.2 793.8,198.7 795.4,199.8 797.0,200.3 798.6,200.4 800.2,200.7 801.8,203.9 803.4,207.0 805.0,210.1 806.6,213.1 808.2,216.2 809.8,219.4 811.4,222.6 813.0,225.9 814.6,229.2 816.2,232.6 817.8,235.9 819.4,239.3 821.0,242.8 822.6,246.2 824.2,249.6 825.8,253.1 827.4,256.5 829.0,259.8 830.6,263.1 832.2,266.2 833.8,269.2 835.4,272.1 837.0,274.7 838.6,277.0 840.2,279.3 841.8,281.6 843.4,284.1 845.0,286.9 846.6,290.1 848.2,293.4 849.8,296.9 851.4,300.3 853.0,303.6 854.6,306.7 856.2,309.6 857.8,312.6 859.4,315.7 861.0,319.2 862.6,323.3 864.2,327.7 865.8,331.9 867.4,336.0 869.0,340.0 870.6,344.1 872.2,348.3 873.8,352.6 875.4,357.1 877.0,361.8 878.6,366.5 880.2,371.2 881.8,376.0 883.4,380.6 885.0,385.2 886.6,389.9 888.2,394.5 889.8,398.9 891.4,403.2 893.0,407.2 894.6,411.1 896.2,414.7 897.8,418.2 899.4,421.7 901.0,425.2 902.6,428.5 904.2,431.8 905.8,435.2 907.4,438.7 909.0,442.4 910.6,446.5 912.2,450.7 913.8,455.1 915.4,459.7 917.0,464.4 918.6,469.3 920.6,475.7" fill="none" stroke="#dfecf1" stroke-width="1.05" stroke-linejoin="round" stroke-opacity="0.86"/>
<polyline points="128.2,473.3 129.8,475.0 131.4,476.6 133.0,478.0 134.6,479.5 136.2,481.0 137.8,482.6 139.4,484.5 141.0,486.6 142.6,488.8 144.2,491.2 145.8,493.5 147.4,495.8 149.0,498.1 150.6,500.3 152.2,502.4 153.8,504.3 155.4,506.2 157.0,507.9 158.6,509.4 160.2,510.8 161.8,512.1 163.4,513.4 165.0,514.8 166.6,516.1 168.2,517.5 169.8,519.0 171.4,520.6 173.0,522.1 174.6,523.7 176.2,525.2 177.8,526.6 179.4,527.9 181.0,529.1 182.6,530.1 184.2,531.0 185.8,531.7 187.4,532.5 189.0,533.3 190.6,534.2 192.2,535.3 193.8,536.5 195.4,537.8 197.0,539.2 198.6,540.4 200.2,541.5 201.8,542.4 203.4,543.1 205.0,543.6 206.6,544.0 208.2,544.2 209.8,544.4 211.4,544.6 213.0,544.9 214.6,545.3 216.2,545.9 217.8,546.8 219.4,547.7 221.0,548.8 222.6,549.7 224.2,550.5 225.8,551.1 227.4,551.4 229.0,551.6 230.6,551.6 232.2,551.6 233.8,551.6 235.4,551.7 237.0,551.9 238.6,552.3 240.2,552.7 241.8,553.2 243.4,553.8 245.0,554.4 246.6,555.0 248.2,555.5 249.8,555.9 251.4,556.3 253.0,556.6 254.6,556.7 256.2,556.8 257.8,556.7 259.4,556.5 261.0,556.2 262.6,555.8 264.2,555.3 265.8,554.8 267.4,554.1 269.0,553.3 270.6,552.4 272.2,551.4 273.8,550.2 275.4,548.9 277.0,547.5 278.6,546.2 280.2,544.8 281.8,543.5 283.4,542.3 285.0,541.1 286.6,539.9 288.2,538.8 289.8,537.7 291.4,536.6 293.0,535.8 294.6,535.0 296.2,534.3 297.8,533.7 299.4,533.4 301.0,533.2 302.6,533.1 304.2,533.3 305.8,533.4 307.4,533.5 309.0,532.4 310.6,531.2 312.2,530.0 313.8,528.8 315.4,527.6 317.0,526.4 318.6,525.2 320.2,524.0 321.8,522.9 323.4,521.8 325.0,520.7 326.6,519.6 328.2,518.4 329.8,517.1 331.4,515.4 333.0,512.9 334.6,509.8 336.2,506.5 337.8,503.3 339.4,500.6 341.0,498.2 342.6,496.1 344.2,494.0 345.8,492.0 347.4,490.0 349.0,487.9 350.6,485.8 352.2,483.7 353.8,481.6 355.4,479.4 357.0,477.2 358.6,474.9 360.2,472.7 361.8,470.5 363.4,468.2 365.0,466.0 366.6,463.7 368.2,461.5 369.8,460.3 371.4,460.0 373.0,459.3 374.6,457.9 376.2,455.9 377.8,453.3 379.4,450.3 381.0,447.2 382.6,444.6 384.2,442.6 385.8,440.6 387.4,438.5 389.0,436.3 390.6,434.0 392.2,431.7 393.8,429.3 395.4,426.9 397.0,424.5 398.6,422.1 400.2,419.7 401.8,417.3 403.4,414.8 405.0,412.3 406.6,409.7 408.2,407.0 409.8,404.3 411.4,401.5 413.0,398.6 414.6,395.9 416.2,393.2 417.8,390.7 419.4,388.4 421.0,386.2 422.6,384.1 424.2,382.1 425.8,380.0 427.4,377.8 429.0,375.6 430.6,373.4 432.2,371.2 433.8,369.0 435.4,366.9 437.0,365.0 438.6,363.1 440.2,361.3 441.8,359.6 443.4,357.9 445.0,356.2 446.6,354.4 448.2,352.4 449.8,350.4 451.4,348.2 453.0,346.0 454.6,343.7 456.2,341.5 457.8,339.4 459.4,337.3 461.0,335.3 462.6,333.3 464.2,331.5 465.8,329.7 467.4,327.9 469.0,326.1 470.6,324.2 472.2,322.3 473.8,320.3 475.4,318.3 477.0,316.2 478.6,314.3 480.2,312.4 481.8,310.6 483.4,308.9 485.0,307.3 486.6,305.8 488.2,304.3 489.8,302.8 491.4,301.1 493.0,299.3 494.6,297.3 496.2,295.1 497.8,292.9 499.4,290.6 501.0,288.5 502.6,286.4 504.2,284.5 505.8,282.7 507.4,281.0 509.0,279.3 510.6,277.6 512.2,275.9 513.8,274.2 515.4,272.6 517.0,270.9 518.6,269.2 520.2,267.5 521.8,265.8 523.4,263.9 525.0,262.0 526.6,260.1 528.2,258.0 529.8,255.9 531.4,253.7 533.0,251.6 534.6,249.5 536.2,247.6 537.8,245.9 539.4,244.4 541.0,243.2 542.6,242.2 544.2,241.4 545.8,240.5 547.4,239.5 549.0,238.4 550.6,237.0 552.2,235.5 553.8,233.8 555.4,231.9 557.0,229.9 558.6,228.0 560.2,226.1 561.8,224.4 563.4,222.8 565.0,221.4 566.6,220.2 568.2,219.1 569.8,218.0 571.4,216.9 573.0,215.7 574.6,214.4 576.2,213.1 577.8,211.7 579.4,210.4 581.0,209.1 582.6,207.8 584.2,206.6 585.8,205.3 587.4,203.8 589.0,202.2 590.6,200.5 592.2,198.8 593.8,197.1 595.4,195.5 597.0,194.2 598.6,193.3 600.2,192.7 601.8,192.3 603.4,192.2 605.0,192.1 606.6,192.0 608.2,191.8 609.8,191.5 611.4,191.0 613.0,190.5 614.6,189.9 616.2,189.3 617.8,188.7 619.4,188.1 621.0,187.5 622.6,186.8 624.2,185.9 625.8,184.8 627.4,183.6 629.0,182.2 630.6,180.9 632.2,179.6 633.8,178.5 635.4,177.6 637.0,176.9 638.6,176.3 640.2,175.7 641.8,175.0 643.4,174.3 645.0,173.4 646.6,172.3 648.2,171.2 649.8,169.9 651.4,168.7 653.0,167.5 654.6,166.4 656.2,165.5 657.8,164.7 659.4,164.1 661.0,163.6 662.6,163.1 664.2,162.5 665.8,162.0 667.4,161.4 669.0,160.7 670.6,160.1 672.2,159.5 673.8,158.9 675.4,158.3 677.0,157.9 678.6,157.6 680.2,157.6 681.8,157.9 683.4,158.5 685.0,159.4 686.6,160.3 688.2,161.4 689.8,162.4 691.4,163.3 693.0,164.1 694.6,164.8 696.2,165.3 697.8,165.6 699.4,165.7 701.0,165.4 702.6,164.9 704.2,164.1 705.8,163.1 707.4,162.0 709.0,161.0 710.6,160.2 712.2,159.6 713.8,159.5 715.4,159.9 717.0,160.6 718.6,161.5 720.2,162.6 721.8,163.6 723.4,164.4 725.0,165.1 726.6,165.5 728.2,165.8 729.8,165.9 731.4,165.9 733.0,165.8 734.6,165.7 736.2,165.5 737.8,165.1 739.4,164.6 741.0,164.1 742.6,163.6 744.2,163.3 745.8,163.1 747.4,163.3 749.0,163.7 750.6,164.4 752.2,165.4 753.8,166.6 755.4,168.0 757.0,169.4 758.6,170.8 760.2,172.1 761.8,173.1 763.4,173.9 765.0,174.4 766.6,174.6 768.2,174.8 769.8,174.9 771.4,175.1 773.0,175.5 774.6,176.0 776.2,176.7 777.8,177.4 779.4,178.2 781.0,179.0 782.6,179.8 784.2,180.6 785.8,181.4 787.4,182.3 789.0,183.2 790.6,184.3 792.2,185.7 793.8,187.4 795.4,189.5 797.0,192.0 798.6,194.8 800.2,197.7 801.8,200.5 803.4,203.2 805.0,205.5 806.6,207.5 808.2,209.3 809.8,211.0 811.4,212.8 813.0,214.6 814.6,216.7 816.2,218.9 817.8,221.2 819.4,223.5 821.0,225.8 822.6,228.1 824.2,230.3 825.8,232.4 827.4,234.5 829.0,236.5 830.6,238.6 832.2,240.8 833.8,243.1 835.4,245.5 837.0,248.0 838.6,250.5 840.2,253.0 841.8,255.5 843.4,257.9 845.0,260.4 846.6,262.8 848.2,265.4 849.8,268.0 851.4,270.8 853.0,273.8 854.6,276.9 856.2,280.1 857.8,283.5 859.4,286.9 861.0,290.2 862.6,293.5 864.2,296.8 865.8,300.0 867.4,303.3 869.0,306.7 870.6,310.4 872.2,314.3 873.8,318.4 875.4,322.6 877.0,327.0 878.6,331.4 880.2,335.9 881.8,340.4 883.4,344.9 885.0,349.6 886.6,354.3 888.2,359.2 889.8,364.1 891.4,369.1 893.0,374.2 894.6,379.3 896.2,384.4 897.8,389.4 899.4,394.3 901.0,399.0 902.6,403.6 904.2,408.0 905.8,412.3 907.4,416.4 909.0,420.5 910.6,424.7 912.2,429.0 913.8,433.5 915.4,438.3 917.0,443.3 918.6,448.7 920.6,454.3" fill="none" stroke="#e8f1f4" stroke-width="1.05" stroke-linejoin="round" stroke-opacity="0.86"/>
<polyline points="128.2,464.7 129.8,467.3 131.4,469.9 133.0,472.5 134.6,475.1 136.2,477.7 137.8,480.4 139.4,483.0 141.0,485.6 142.6,488.1 144.2,490.3 145.8,492.3 147.4,494.0 149.0,495.5 150.6,497.0 152.2,498.4 153.8,499.8 155.4,501.4 157.0,503.1 158.6,504.9 160.2,506.8 161.8,508.7 163.4,510.7 165.0,512.6 166.6,514.5 168.2,516.4 169.8,518.2 171.4,519.9 173.0,521.7 174.6,523.4 176.2,525.0 177.8,526.6 179.4,528.1 181.0,529.5 182.6,530.6 184.2,531.6 185.8,532.4 187.4,533.1 189.0,533.7 190.6,534.4 192.2,535.2 193.8,536.1 195.4,537.1 197.0,538.1 198.6,539.1 200.2,540.0 201.8,540.7 203.4,541.3 205.0,541.7 206.6,542.0 208.2,542.4 209.8,542.8 211.4,543.4 213.0,544.0 214.6,544.7 216.2,545.3 217.8,545.9 219.4,546.6 221.0,547.2 222.6,547.9 224.2,548.6 225.8,549.2 227.4,549.8 229.0,550.3 230.6,550.6 232.2,550.8 233.8,550.8 235.4,550.8 237.0,550.6 238.6,550.3 240.2,549.9 241.8,549.3 243.4,548.6 245.0,547.8 246.6,547.1 248.2,546.7 249.8,546.6 251.4,546.9 253.0,547.5 254.6,548.2 256.2,548.9 257.8,549.2 259.4,549.1 261.0,548.6 262.6,547.7 264.2,546.6 265.8,545.3 267.4,544.0 269.0,542.8 270.6,541.7 272.2,540.7 273.8,539.8 275.4,538.9 277.0,538.1 278.6,537.4 280.2,536.8 281.8,536.3 283.4,535.9 285.0,535.5 286.6,535.0 288.2,534.3 289.8,533.3 291.4,532.2 293.0,530.8 294.6,529.3 296.2,527.9 297.8,526.6 299.4,525.4 301.0,524.3 302.6,523.1 304.2,522.0 305.8,520.7 307.4,519.4 309.0,517.9 310.6,516.3 312.2,514.7 313.8,513.0 315.4,511.2 317.0,509.3 318.6,507.4 320.2,505.4 321.8,503.4 323.4,501.4 325.0,499.5 326.6,497.6 328.2,495.7 329.8,493.7 331.4,491.7 333.0,489.7 334.6,487.6 336.2,485.7 337.8,483.8 339.4,482.2 341.0,480.8 342.6,479.7 344.2,478.6 345.8,477.5 347.4,476.2 349.0,474.7 350.6,472.8 352.2,470.6 353.8,468.1 355.4,465.4 357.0,462.6 358.6,459.8 360.2,457.2 361.8,454.6 363.4,452.2 365.0,449.9 366.6,447.7 368.2,445.6 369.8,443.5 371.4,441.4 373.0,439.5 374.6,437.5 376.2,435.6 377.8,433.8 379.4,431.9 381.0,430.1 382.6,428.4 384.2,426.7 385.8,425.1 387.4,423.5 389.0,421.8 390.6,420.1 392.2,418.2 393.8,416.2 395.4,414.0 397.0,411.9 398.6,409.7 400.2,407.7 401.8,405.7 403.4,404.0 405.0,402.3 406.6,400.8 408.2,399.3 409.8,397.8 411.4,396.2 413.0,394.6 414.6,392.8 416.2,390.9 417.8,388.9 419.4,386.8 421.0,384.6 422.6,382.4 424.2,380.2 425.8,377.9 427.4,375.8 429.0,373.6 430.6,371.5 432.2,369.3 433.8,367.1 435.4,364.9 437.0,362.6 438.6,360.3 440.2,358.1 441.8,355.8 443.4,353.6 445.0,351.4 446.6,349.2 448.2,347.1 449.8,345.0 451.4,343.0 453.0,341.1 454.6,339.4 456.2,337.8 457.8,336.2 459.4,334.7 461.0,333.0 462.6,331.2 464.2,329.3 465.8,327.4 467.4,325.4 469.0,323.6 470.6,321.8 472.2,320.1 473.8,318.5 475.4,316.9 477.0,315.4 478.6,313.8 480.2,312.3 481.8,310.6 483.4,308.9 485.0,307.0 486.6,304.9 488.2,302.7 489.8,300.6 491.4,298.6 493.0,296.8 494.6,295.3 496.2,294.1 497.8,292.9 499.4,291.7 501.0,290.4 502.6,288.7 504.2,286.6 505.8,284.2 507.4,281.4 509.0,278.5 510.6,275.6 512.2,272.8 513.8,270.3 515.4,268.1 517.0,266.2 518.6,264.6 520.2,263.2 521.8,261.9 523.4,260.5 525.0,258.9 526.6,257.1 528.2,255.1 529.8,252.9 531.4,250.8 533.0,248.8 534.6,247.0 536.2,245.6 537.8,244.5 539.4,243.7 541.0,242.9 542.6,242.1 544.2,241.0 545.8,239.5 547.4,237.5 549.0,235.1 550.6,232.4 552.2,229.5 553.8,226.6 555.4,224.0 557.0,221.8 558.6,220.0 560.2,218.5 561.8,217.3 563.4,216.2 565.0,215.2 566.6,214.2 568.2,213.2 569.8,212.2 571.4,211.3 573.0,210.3 574.6,209.3 576.2,208.2 577.8,207.1 579.4,205.8 581.0,204.5 582.6,203.0 584.2,201.5 585.8,199.8 587.4,198.1 589.0,196.4 590.6,194.8 592.2,193.3 593.8,191.9 595.4,190.7 597.0,189.5 598.6,188.4 600.2,187.4 601.8,186.5 603.4,185.7 605.0,185.1 606.6,184.8 608.2,184.7 609.8,184.8 611.4,185.0 613.0,185.1 614.6,185.0 616.2,184.8 617.8,184.5 619.4,184.0 621.0,183.4 622.6,182.7 624.2,182.0 625.8,181.1 627.4,180.1 629.0,178.9 630.6,177.5 632.2,175.8 633.8,173.9 635.4,171.9 637.0,169.7 638.6,167.6 640.2,165.7 641.8,164.0 643.4,162.7 645.0,161.9 646.6,161.3 648.2,161.0 649.8,160.8 651.4,160.6 653.0,160.3 654.6,159.9 656.2,159.4 657.8,158.9 659.4,158.4 661.0,157.9 662.6,157.3 664.2,156.8 665.8,156.5 667.4,156.5 669.0,156.7 670.6,157.2 672.2,157.8 673.8,158.3 675.4,158.5 677.0,158.3 678.6,157.6 680.2,156.5 681.8,155.0 683.4,153.4 685.0,151.9 686.6,150.6 688.2,149.7 689.8,149.2 691.4,149.3 693.0,149.7 694.6,150.3 696.2,150.9 697.8,151.2 699.4,151.3 701.0,151.2 702.6,150.9 704.2,150.9 705.8,151.2 707.4,152.0 709.0,153.2 710.6,154.8 712.2,156.5 713.8,158.1 715.4,159.4 717.0,160.3 718.6,160.9 720.2,161.2 721.8,161.3 723.4,161.2 725.0,161.1 726.6,161.1 728.2,161.2 729.8,161.4 731.4,161.7 733.0,162.0 734.6,162.4 736.2,162.7 737.8,162.9 739.4,163.0 741.0,163.2 742.6,163.5 744.2,164.0 745.8,164.7 747.4,165.6 749.0,166.8 750.6,168.1 752.2,169.4 753.8,170.8 755.4,172.2 757.0,173.5 758.6,174.8 760.2,175.9 761.8,176.9 763.4,177.6 765.0,178.2 766.6,178.6 768.2,178.7 769.8,178.8 771.4,178.9 773.0,179.1 774.6,179.5 776.2,180.1 777.8,181.0 779.4,182.0 781.0,183.1 782.6,184.5 784.2,186.0 785.8,187.6 787.4,189.3 789.0,190.9 790.6,192.5 792.2,193.9 793.8,195.1 795.4,196.2 797.0,197.2 798.6,198.4 800.2,199.8 801.8,201.4 803.4,203.1 805.0,205.0 806.6,206.9 808.2,208.7 809.8,210.5 811.4,212.1 813.0,213.7 814.6,215.1 816.2,216.4 817.8,217.6 819.4,218.7 821.0,219.8 822.6,221.0 824.2,222.2 825.8,223.7 827.4,225.5 829.0,227.5 830.6,229.9 832.2,232.5 833.8,235.2 835.4,238.1 837.0,241.0 838.6,243.9 840.2,246.9 841.8,250.0 843.4,253.2 845.0,256.7 846.6,260.2 848.2,263.9 849.8,267.6 851.4,271.1 853.0,274.5 854.6,277.7 856.2,280.7 857.8,283.6 859.4,286.4 861.0,289.3 862.6,292.3 864.2,295.5 865.8,298.8 867.4,302.5 869.0,306.4 870.6,310.6 872.2,315.1 873.8,319.9 875.4,324.9 877.0,330.0 878.6,335.3 880.2,340.6 881.8,345.9 883.4,351.0 885.0,356.0 886.6,360.9 888.2,365.6 889.8,370.3 891.4,375.0 893.0,379.8 894.6,384.8 896.2,389.8 897.8,394.8 899.4,399.8 901.0,404.7 902.6,409.6 904.2,414.3 905.8,419.0 907.4,423.6 909.0,428.1 910.6,432.6 912.2,437.0 913.8,441.4 915.4,445.8 917.0,450.2 918.6,454.6 920.6,459.0" fill="none" stroke="#f1f7f8" stroke-width="1.05" stroke-linejoin="round" stroke-opacity="0.86"/>
<polyline points="128.2,471.5 129.8,473.2 131.4,475.0 133.0,476.7 134.6,478.4 136.2,480.1 137.8,481.9 139.4,483.8 141.0,485.9 142.6,488.1 144.2,490.4 145.8,492.8 147.4,495.2 149.0,497.4 150.6,499.4 152.2,501.2 153.8,502.8 155.4,504.3 157.0,505.8 158.6,507.3 160.2,508.8 161.8,510.5 163.4,512.1 165.0,513.7 166.6,515.2 168.2,516.7 169.8,517.9 171.4,519.1 173.0,520.3 174.6,521.4 176.2,522.5 177.8,523.8 179.4,525.1 181.0,526.6 182.6,528.1 184.2,529.8 185.8,531.4 187.4,533.1 189.0,534.7 190.6,536.3 192.2,537.8 193.8,539.2 195.4,540.5 197.0,541.7 198.6,542.8 200.2,543.7 201.8,544.5 203.4,545.2 205.0,545.7 206.6,546.1 208.2,546.3 209.8,546.5 211.4,546.5 213.0,546.5 214.6,546.5 216.2,546.5 217.8,546.4 219.4,546.4 221.0,546.4 222.6,546.3 224.2,546.2 225.8,546.1 227.4,546.1 229.0,546.1 230.6,546.3 232.2,546.6 233.8,547.0 235.4,547.4 237.0,548.0 238.6,548.5 240.2,548.9 241.8,549.3 243.4,549.5 245.0,549.7 246.6,549.8 248.2,549.9 249.8,549.9 251.4,550.0 253.0,550.2 254.6,550.5 256.2,550.8 257.8,551.1 259.4,551.4 261.0,551.6 262.6,551.7 264.2,551.5 265.8,551.2 267.4,550.8 269.0,550.3 270.6,549.7 272.2,549.2 273.8,548.6 275.4,547.9 277.0,547.2 278.6,546.3 280.2,545.4 281.8,544.3 283.4,543.1 285.0,541.8 286.6,540.5 288.2,539.2 289.8,537.8 291.4,536.5 293.0,535.1 294.6,533.8 296.2,532.5 297.8,531.3 299.4,530.2 301.0,529.1 302.6,528.0 304.2,526.9 305.8,525.8 307.4,524.6 309.0,523.3 310.6,521.8 312.2,520.2 313.8,518.4 315.4,516.5 317.0,514.4 318.6,512.4 320.2,510.2 321.8,508.1 323.4,506.0 325.0,503.9 326.6,501.7 328.2,499.5 329.8,497.2 331.4,494.8 333.0,492.5 334.6,490.1 336.2,487.8 337.8,485.7 339.4,483.9 341.0,482.2 342.6,480.6 344.2,479.0 345.8,477.4 347.4,475.8 349.0,474.0 350.6,472.3 352.2,470.6 353.8,469.0 355.4,467.4 357.0,466.0 358.6,464.5 360.2,463.0 361.8,461.4 363.4,459.7 365.0,457.8 366.6,455.8 368.2,453.8 369.8,451.8 371.4,449.8 373.0,447.9 374.6,445.9 376.2,444.1 377.8,442.2 379.4,440.4 381.0,438.6 382.6,436.8 384.2,435.0 385.8,433.1 387.4,431.2 389.0,429.2 390.6,427.2 392.2,425.2 393.8,423.2 395.4,421.2 397.0,419.3 398.6,417.3 400.2,415.4 401.8,413.5 403.4,411.5 405.0,409.5 406.6,407.4 408.2,405.5 409.8,403.6 411.4,401.8 413.0,400.2 414.6,398.6 416.2,397.1 417.8,395.4 419.4,393.7 421.0,391.7 422.6,389.4 424.2,387.0 425.8,384.3 427.4,381.5 429.0,378.7 430.6,375.8 432.2,373.1 433.8,370.5 435.4,368.0 437.0,365.8 438.6,363.7 440.2,361.9 441.8,360.1 443.4,358.4 445.0,356.7 446.6,354.8 448.2,352.7 449.8,350.5 451.4,348.1 453.0,345.7 454.6,343.3 456.2,340.9 457.8,338.7 459.4,336.6 461.0,334.6 462.6,332.8 464.2,331.1 465.8,329.4 467.4,327.7 469.0,326.0 470.6,324.1 472.2,322.1 473.8,320.1 475.4,318.1 477.0,316.2 478.6,314.5 480.2,312.9 481.8,311.4 483.4,309.9 485.0,308.3 486.6,306.6 488.2,304.7 489.8,302.7 491.4,300.7 493.0,298.8 494.6,296.9 496.2,295.0 497.8,293.0 499.4,290.9 501.0,288.5 502.6,286.0 504.2,283.4 505.8,280.8 507.4,278.3 509.0,275.9 510.6,273.7 512.2,271.5 513.8,269.5 515.4,267.6 517.0,265.9 518.6,264.4 520.2,263.0 521.8,261.7 523.4,260.4 525.0,259.1 526.6,257.8 528.2,256.5 529.8,255.3 531.4,254.1 533.0,253.0 534.6,251.7 536.2,250.4 537.8,248.9 539.4,247.2 541.0,245.5 542.6,243.7 544.2,241.8 545.8,240.0 547.4,238.1 549.0,236.3 550.6,234.5 552.2,232.7 553.8,230.9 555.4,229.2 557.0,227.6 558.6,226.0 560.2,224.4 561.8,222.8 563.4,221.2 565.0,219.6 566.6,218.0 568.2,216.6 569.8,215.4 571.4,214.4 573.0,213.6 574.6,212.9 576.2,212.3 577.8,211.7 579.4,211.0 581.0,210.2 582.6,209.1 584.2,207.8 585.8,206.3 587.4,204.5 589.0,202.6 590.6,200.5 592.2,198.5 593.8,196.4 595.4,194.5 597.0,192.8 598.6,191.3 600.2,190.0 601.8,188.9 603.4,188.0 605.0,187.3 606.6,186.7 608.2,186.1 609.8,185.5 611.4,184.8 613.0,184.1 614.6,183.5 616.2,182.9 617.8,182.3 619.4,181.6 621.0,180.8 622.6,179.8 624.2,178.6 625.8,177.4 627.4,176.1 629.0,174.9 630.6,173.8 632.2,172.7 633.8,171.7 635.4,170.7 637.0,169.7 638.6,168.7 640.2,167.8 641.8,166.9 643.4,166.2 645.0,165.6 646.6,165.1 648.2,164.7 649.8,164.5 651.4,164.4 653.0,164.5 654.6,164.7 656.2,165.0 657.8,165.3 659.4,165.5 661.0,165.6 662.6,165.3 664.2,164.8 665.8,164.0 667.4,162.8 669.0,161.3 670.6,159.5 672.2,157.6 673.8,155.9 675.4,154.5 677.0,153.6 678.6,153.3 680.2,153.7 681.8,154.6 683.4,155.8 685.0,157.1 686.6,158.3 688.2,159.2 689.8,159.8 691.4,160.1 693.0,160.1 694.6,159.9 696.2,159.7 697.8,159.5 699.4,159.2 701.0,159.0 702.6,158.7 704.2,158.4 705.8,158.2 707.4,158.0 709.0,158.0 710.6,158.2 712.2,158.4 713.8,158.8 715.4,159.1 717.0,159.2 718.6,158.9 720.2,158.2 721.8,157.2 723.4,156.0 725.0,154.8 726.6,153.6 728.2,152.6 729.8,151.9 731.4,151.5 733.0,151.2 734.6,151.2 736.2,151.2 737.8,151.4 739.4,151.6 741.0,151.9 742.6,152.4 744.2,153.1 745.8,154.0 747.4,154.9 749.0,155.9 750.6,156.9 752.2,157.7 753.8,158.5 755.4,159.2 757.0,159.9 758.6,160.7 760.2,161.4 761.8,162.2 763.4,163.0 765.0,163.8 766.6,164.5 768.2,165.3 769.8,166.3 771.4,167.4 773.0,168.7 774.6,170.1 776.2,171.6 777.8,173.1 779.4,174.7 781.0,176.3 782.6,177.9 784.2,179.6 785.8,181.2 787.4,182.8 789.0,184.4 790.6,185.9 792.2,187.6 793.8,189.5 795.4,191.6 797.0,193.9 798.6,196.4 800.2,199.0 801.8,201.4 803.4,203.7 805.0,205.6 806.6,207.2 808.2,208.6 809.8,209.8 811.4,210.9 813.0,212.2 814.6,213.5 816.2,215.1 817.8,216.8 819.4,218.6 821.0,220.5 822.6,222.5 824.2,224.4 825.8,226.2 827.4,228.0 829.0,229.8 830.6,231.6 832.2,233.6 833.8,235.8 835.4,238.2 837.0,241.0 838.6,244.0 840.2,247.1 841.8,250.4 843.4,253.7 845.0,257.0 846.6,260.2 848.2,263.5 849.8,266.6 851.4,269.7 853.0,272.8 854.6,275.9 856.2,279.0 857.8,282.1 859.4,285.2 861.0,288.4 862.6,291.6 864.2,294.9 865.8,298.3 867.4,301.7 869.0,305.2 870.6,308.9 872.2,312.8 873.8,316.9 875.4,321.2 877.0,325.8 878.6,330.6 880.2,335.5 881.8,340.7 883.4,346.0 885.0,351.3 886.6,356.5 888.2,361.7 889.8,366.7 891.4,371.5 893.0,376.0 894.6,380.3 896.2,384.6 897.8,388.7 899.4,392.9 901.0,397.1 902.6,401.4 904.2,405.7 905.8,410.1 907.4,414.4 909.0,418.8 910.6,423.1 912.2,427.5 913.8,432.0 915.4,436.5 917.0,440.9 918.6,445.2 920.6,449.2" fill="none" stroke="#fafcfc" stroke-width="1.05" stroke-linejoin="round" stroke-opacity="0.86"/>
<polyline points="128.2,460.2 129.8,461.4 131.4,462.9 133.0,464.7 134.6,467.0 136.2,469.6 137.8,472.5 139.4,475.5 141.0,478.4 142.6,481.2 144.2,483.8 145.8,486.1 147.4,488.4 149.0,490.5 150.6,492.6 152.2,494.6 153.8,496.6 155.4,498.6 157.0,500.4 158.6,502.1 160.2,503.7 161.8,505.2 163.4,506.7 165.0,508.1 166.6,509.5 168.2,511.0 169.8,512.5 171.4,514.1 173.0,515.6 174.6,517.0 176.2,518.3 177.8,519.5 179.4,520.5 181.0,521.5 182.6,522.5 184.2,523.5 185.8,524.6 187.4,526.0 189.0,527.5 190.6,529.2 192.2,531.0 193.8,532.7 195.4,534.4 197.0,535.8 198.6,536.8 200.2,537.6 201.8,538.1 203.4,538.5 205.0,538.8 206.6,539.1 208.2,539.4 209.8,539.8 211.4,540.2 213.0,540.5 214.6,540.7 216.2,540.9 217.8,540.9 219.4,540.9 221.0,541.2 222.6,541.6 224.2,542.2 225.8,542.9 227.4,543.7 229.0,544.5 230.6,545.2 232.2,545.8 233.8,546.3 235.4,546.7 237.0,547.1 238.6,547.5 240.2,547.7 241.8,547.9 243.4,547.8 245.0,547.7 246.6,547.3 248.2,546.8 249.8,546.2 251.4,545.5 253.0,544.9 254.6,544.4 256.2,544.1 257.8,543.9 259.4,544.0 261.0,544.2 262.6,544.3 264.2,544.3 265.8,544.0 267.4,543.5 269.0,542.7 270.6,541.7 272.2,540.6 273.8,539.5 275.4,538.5 277.0,537.5 278.6,536.6 280.2,535.7 281.8,534.8 283.4,533.9 285.0,532.9 286.6,531.9 288.2,530.9 289.8,530.0 291.4,529.1 293.0,528.2 294.6,527.1 296.2,525.8 297.8,524.4 299.4,522.7 301.0,520.9 302.6,519.2 304.2,517.5 305.8,515.9 307.4,514.4 309.0,513.0 310.6,511.5 312.2,509.8 313.8,508.1 315.4,506.2 317.0,504.3 318.6,502.5 320.2,500.7 321.8,499.2 323.4,497.8 325.0,496.6 326.6,495.5 328.2,494.6 329.8,493.6 331.4,492.6 333.0,491.4 334.6,490.0 336.2,488.4 337.8,486.7 339.4,484.7 341.0,482.7 342.6,480.7 344.2,478.7 345.8,476.8 347.4,474.9 349.0,473.0 350.6,471.1 352.2,469.1 353.8,467.0 355.4,464.9 357.0,462.8 358.6,460.6 360.2,458.5 361.8,456.6 363.4,454.7 365.0,452.9 366.6,451.1 368.2,449.1 369.8,446.9 371.4,444.4 373.0,441.7 374.6,438.7 376.2,435.8 377.8,432.9 379.4,430.2 381.0,427.9 382.6,426.0 384.2,424.2 385.8,422.6 387.4,421.0 389.0,419.3 390.6,417.5 392.2,415.5 393.8,413.6 395.4,411.5 397.0,409.6 398.6,407.6 400.2,405.7 401.8,403.7 403.4,401.8 405.0,399.8 406.6,397.8 408.2,395.8 409.8,393.9 411.4,391.9 413.0,389.9 414.6,387.9 416.2,386.0 417.8,384.1 419.4,382.2 421.0,380.4 422.6,378.6 424.2,376.6 425.8,374.6 427.4,372.5 429.0,370.3 430.6,368.0 432.2,365.8 433.8,363.7 435.4,361.6 437.0,359.6 438.6,357.7 440.2,355.9 441.8,354.1 443.4,352.4 445.0,350.8 446.6,349.4 448.2,348.1 449.8,346.9 451.4,345.7 453.0,344.5 454.6,343.2 456.2,341.8 457.8,340.2 459.4,338.4 461.0,336.5 462.6,334.6 464.2,332.5 465.8,330.5 467.4,328.3 469.0,326.2 470.6,323.9 472.2,321.4 473.8,318.9 475.4,316.3 477.0,313.9 478.6,311.6 480.2,309.6 481.8,307.9 483.4,306.5 485.0,305.3 486.6,304.2 488.2,303.2 489.8,302.2 491.4,300.9 493.0,299.3 494.6,297.4 496.2,295.1 497.8,292.6 499.4,289.9 501.0,287.2 502.6,284.6 504.2,282.1 505.8,279.7 507.4,277.5 509.0,275.4 510.6,273.4 512.2,271.3 513.8,269.4 515.4,267.5 517.0,265.8 518.6,264.3 520.2,262.8 521.8,261.4 523.4,260.0 525.0,258.4 526.6,256.6 528.2,254.6 529.8,252.5 531.4,250.4 533.0,248.3 534.6,246.2 536.2,244.2 537.8,242.3 539.4,240.4 541.0,238.7 542.6,237.0 544.2,235.5 545.8,234.2 547.4,233.1 549.0,232.1 550.6,231.1 552.2,230.0 553.8,228.7 555.4,227.2 557.0,225.3 558.6,223.2 560.2,220.8 561.8,218.5 563.4,216.1 565.0,213.8 566.6,211.6 568.2,209.5 569.8,207.5 571.4,205.5 573.0,203.5 574.6,201.5 576.2,199.5 577.8,197.6 579.4,195.7 581.0,194.0 582.6,192.5 584.2,191.1 585.8,190.0 587.4,189.2 589.0,188.6 590.6,188.1 592.2,187.7 593.8,187.1 595.4,186.5 597.0,185.6 598.6,184.4 600.2,183.2 601.8,181.8 603.4,180.6 605.0,179.5 606.6,178.7 608.2,178.2 609.8,177.9 611.4,177.7 613.0,177.4 614.6,176.9 616.2,176.0 617.8,174.7 619.4,173.1 621.0,171.3 622.6,169.4 624.2,167.6 625.8,165.9 627.4,164.4 629.0,163.0 630.6,161.8 632.2,160.6 633.8,159.4 635.4,158.1 637.0,156.8 638.6,155.3 640.2,153.6 641.8,151.9 643.4,150.3 645.0,148.7 646.6,147.5 648.2,146.5 649.8,145.9 651.4,145.5 653.0,145.1 654.6,144.7 656.2,144.1 657.8,143.1 659.4,141.9 661.0,140.4 662.6,138.9 664.2,137.5 665.8,136.1 667.4,134.9 669.0,133.8 670.6,132.9 672.2,132.1 673.8,131.7 675.4,131.5 677.0,131.7 678.6,132.1 680.2,132.5 681.8,132.7 683.4,132.8 685.0,132.5 686.6,132.1 688.2,131.5 689.8,131.0 691.4,130.5 693.0,130.1 694.6,129.9 696.2,130.0 697.8,130.5 699.4,131.3 701.0,132.5 702.6,133.8 704.2,135.0 705.8,136.0 707.4,136.5 709.0,136.7 710.6,136.4 712.2,135.7 713.8,134.8 715.4,133.8 717.0,132.8 718.6,132.0 720.2,131.4 721.8,131.1 723.4,131.0 725.0,131.2 726.6,131.5 728.2,131.9 729.8,132.2 731.4,132.4 733.0,132.5 734.6,132.6 736.2,132.6 737.8,132.8 739.4,133.2 741.0,133.8 742.6,134.7 744.2,135.8 745.8,136.9 747.4,138.1 749.0,139.1 750.6,140.0 752.2,140.6 753.8,141.1 755.4,141.4 757.0,141.6 758.6,141.8 760.2,142.1 761.8,142.5 763.4,143.0 765.0,143.6 766.6,144.2 768.2,145.0 769.8,145.9 771.4,146.9 773.0,148.0 774.6,149.3 776.2,150.6 777.8,151.9 779.4,153.1 781.0,154.4 782.6,155.7 784.2,157.0 785.8,158.5 787.4,160.1 789.0,161.8 790.6,163.6 792.2,165.5 793.8,167.4 795.4,169.2 797.0,171.0 798.6,172.6 800.2,174.2 801.8,175.9 803.4,177.6 805.0,179.4 806.6,181.4 808.2,183.4 809.8,185.4 811.4,187.5 813.0,189.5 814.6,191.5 816.2,193.4 817.8,195.3 819.4,197.2 821.0,199.2 822.6,201.3 824.2,203.4 825.8,205.5 827.4,207.6 829.0,209.6 830.6,211.6 832.2,213.6 833.8,215.6 835.4,217.9 837.0,220.4 838.6,223.2 840.2,226.4 841.8,229.8 843.4,233.4 845.0,237.1 846.6,240.7 848.2,244.3 849.8,247.7 851.4,250.9 853.0,254.0 854.6,257.0 856.2,259.9 857.8,262.8 859.4,265.9 861.0,269.2 862.6,272.8 864.2,276.6 865.8,280.7 867.4,284.9 869.0,289.1 870.6,293.2 872.2,297.3 873.8,301.3 875.4,305.4 877.0,309.6 878.6,314.0 880.2,318.6 881.8,323.5 883.4,328.6 885.0,333.7 886.6,338.8 888.2,343.9 889.8,348.8 891.4,353.6 893.0,358.3 894.6,362.8 896.2,367.3 897.8,371.6 899.4,375.9 901.0,380.1 902.6,384.2 904.2,388.4 905.8,392.5 907.4,396.6 909.0,400.7 910.6,404.8 912.2,409.1 913.8,413.4 915.4,417.9 917.0,422.6 918.6,427.4 920.6,432.3" fill="none" stroke="#fcfdfd" stroke-width="1.05" stroke-linejoin="round" stroke-opacity="0.86"/>
<polyline points="128.2,439.9 129.8,442.6 131.4,445.5 133.0,448.5 134.6,451.5 136.2,454.5 137.8,457.5 139.4,460.4 141.0,463.3 142.6,466.1 144.2,468.8 145.8,471.5 147.4,474.1 149.0,476.6 150.6,478.8 152.2,480.8 153.8,482.5 155.4,484.0 157.0,485.4 158.6,486.6 160.2,487.8 161.8,489.1 163.4,490.5 165.0,491.9 166.6,493.4 168.2,494.9 169.8,496.6 171.4,498.2 173.0,500.0 174.6,501.8 176.2,503.6 177.8,505.5 179.4,507.3 181.0,509.0 182.6,510.5 184.2,511.9 185.8,513.1 187.4,514.2 189.0,515.4 190.6,516.6 192.2,518.1 193.8,519.7 195.4,521.5 197.0,523.4 198.6,525.2 200.2,527.0 201.8,528.7 203.4,530.1 205.0,531.3 206.6,532.3 208.2,533.0 209.8,533.5 211.4,533.9 213.0,534.2 214.6,534.7 216.2,535.3 217.8,536.0 219.4,536.8 221.0,537.7 222.6,538.6 224.2,539.4 225.8,540.1 227.4,540.5 229.0,540.8 230.6,540.8 232.2,540.7 233.8,540.4 235.4,540.1 237.0,539.8 238.6,539.6 240.2,539.4 241.8,539.3 243.4,539.3 245.0,539.3 246.6,539.3 248.2,539.3 249.8,539.2 251.4,539.2 253.0,539.2 254.6,539.2 256.2,539.1 257.8,539.0 259.4,538.9 261.0,538.6 262.6,538.3 264.2,538.0 265.8,537.7 267.4,537.4 269.0,537.1 270.6,536.7 272.2,536.1 273.8,535.3 275.4,534.4 277.0,533.2 278.6,531.9 280.2,530.4 281.8,528.9 283.4,527.4 285.0,526.0 286.6,524.6 288.2,523.4 289.8,522.4 291.4,521.4 293.0,520.6 294.6,520.0 296.2,519.3 297.8,518.7 299.4,517.9 301.0,517.1 302.6,516.1 304.2,514.8 305.8,513.4 307.4,512.0 309.0,510.4 310.6,509.0 312.2,507.7 313.8,506.5 315.4,505.4 317.0,504.3 318.6,503.1 320.2,501.8 321.8,500.3 323.4,498.7 325.0,497.0 326.6,495.3 328.2,493.7 329.8,492.1 331.4,490.6 333.0,489.1 334.6,487.7 336.2,486.3 337.8,484.8 339.4,483.2 341.0,481.5 342.6,479.6 344.2,477.5 345.8,475.2 347.4,472.9 349.0,470.5 350.6,468.2 352.2,466.0 353.8,463.8 355.4,461.8 357.0,459.9 358.6,458.1 360.2,456.4 361.8,454.8 363.4,453.3 365.0,451.7 366.6,450.0 368.2,448.3 369.8,446.4 371.4,444.4 373.0,442.3 374.6,440.1 376.2,437.8 377.8,435.6 379.4,433.4 381.0,431.3 382.6,429.3 384.2,427.3 385.8,425.3 387.4,423.3 389.0,421.3 390.6,419.1 392.2,417.0 393.8,414.9 395.4,413.0 397.0,411.2 398.6,409.7 400.2,408.2 401.8,406.8 403.4,405.3 405.0,403.6 406.6,401.6 408.2,399.2 409.8,396.7 411.4,394.0 413.0,391.3 414.6,388.6 416.2,386.0 417.8,383.4 419.4,380.7 421.0,378.1 422.6,375.4 424.2,372.8 425.8,370.4 427.4,368.1 429.0,366.0 430.6,364.2 432.2,362.5 433.8,361.0 435.4,359.5 437.0,358.0 438.6,356.5 440.2,354.9 441.8,353.2 443.4,351.4 445.0,349.4 446.6,347.5 448.2,345.5 449.8,343.5 451.4,341.6 453.0,339.8 454.6,338.1 456.2,336.4 457.8,334.9 459.4,333.3 461.0,331.7 462.6,329.9 464.2,328.0 465.8,326.0 467.4,323.8 469.0,321.6 470.6,319.5 472.2,317.3 473.8,315.3 475.4,313.4 477.0,311.5 478.6,309.8 480.2,308.1 481.8,306.5 483.4,304.9 485.0,303.3 486.6,301.6 488.2,299.7 489.8,297.5 491.4,295.0 493.0,292.1 494.6,288.8 496.2,285.4 497.8,281.8 499.4,278.4 501.0,275.2 502.6,272.3 504.2,269.8 505.8,267.7 507.4,265.8 509.0,264.2 510.6,262.6 512.2,261.1 513.8,259.6 515.4,258.0 517.0,256.3 518.6,254.6 520.2,252.9 521.8,251.2 523.4,249.4 525.0,247.6 526.6,245.8 528.2,243.7 529.8,241.6 531.4,239.2 533.0,236.8 534.6,234.4 536.2,232.1 537.8,230.0 539.4,228.2 541.0,226.7 542.6,225.3 544.2,224.0 545.8,222.7 547.4,221.3 549.0,219.7 550.6,218.0 552.2,216.0 553.8,213.7 555.4,211.2 557.0,208.5 558.6,205.8 560.2,203.0 561.8,200.4 563.4,198.1 565.0,196.0 566.6,194.2 568.2,192.7 569.8,191.4 571.4,190.3 573.0,189.1 574.6,187.8 576.2,186.3 577.8,184.7 579.4,182.8 581.0,180.9 582.6,179.0 584.2,177.1 585.8,175.5 587.4,173.9 589.0,172.6 590.6,171.4 592.2,170.2 593.8,169.2 595.4,168.3 597.0,167.4 598.6,166.6 600.2,165.7 601.8,164.8 603.4,163.7 605.0,162.5 606.6,161.2 608.2,159.7 609.8,158.2 611.4,156.7 613.0,155.2 614.6,153.9 616.2,152.6 617.8,151.4 619.4,150.3 621.0,149.5 622.6,148.9 624.2,148.6 625.8,148.7 627.4,149.2 629.0,149.8 630.6,150.6 632.2,151.3 633.8,151.9 635.4,152.2 637.0,152.3 638.6,152.2 640.2,151.7 641.8,151.0 643.4,150.2 645.0,149.2 646.6,148.2 648.2,147.1 649.8,146.0 651.4,145.0 653.0,144.1 654.6,143.2 656.2,142.3 657.8,141.5 659.4,140.6 661.0,139.7 662.6,138.9 664.2,138.3 665.8,137.8 667.4,137.6 669.0,137.7 670.6,137.9 672.2,138.3 673.8,138.8 675.4,139.3 677.0,139.8 678.6,140.3 680.2,140.7 681.8,141.2 683.4,141.9 685.0,142.6 686.6,143.4 688.2,144.2 689.8,144.9 691.4,145.4 693.0,145.8 694.6,146.0 696.2,146.1 697.8,146.1 699.4,146.1 701.0,146.3 702.6,146.5 704.2,147.0 705.8,147.6 707.4,148.3 709.0,149.1 710.6,150.0 712.2,150.9 713.8,151.7 715.4,152.5 717.0,153.1 718.6,153.6 720.2,153.9 721.8,154.1 723.4,154.3 725.0,154.6 726.6,155.0 728.2,155.6 729.8,156.4 731.4,157.2 733.0,158.0 734.6,158.8 736.2,159.4 737.8,159.9 739.4,160.2 741.0,160.5 742.6,160.8 744.2,161.1 745.8,161.4 747.4,161.8 749.0,162.2 750.6,162.7 752.2,163.3 753.8,163.8 755.4,164.3 757.0,164.6 758.6,164.7 760.2,164.7 761.8,164.7 763.4,164.7 765.0,164.8 766.6,165.1 768.2,165.6 769.8,166.4 771.4,167.5 773.0,168.8 774.6,170.3 776.2,171.9 777.8,173.6 779.4,175.4 781.0,177.1 782.6,178.8 784.2,180.3 785.8,181.8 787.4,183.3 789.0,184.7 790.6,186.2 792.2,187.8 793.8,189.6 795.4,191.6 797.0,193.9 798.6,196.4 800.2,199.3 801.8,202.2 803.4,205.3 805.0,208.2 806.6,211.0 808.2,213.6 809.8,215.7 811.4,217.6 813.0,219.1 814.6,220.3 816.2,221.2 817.8,222.1 819.4,222.9 821.0,223.7 822.6,224.7 824.2,225.8 825.8,227.0 827.4,228.5 829.0,230.2 830.6,232.0 832.2,234.2 833.8,236.5 835.4,239.2 837.0,242.1 838.6,245.4 840.2,248.9 841.8,252.5 843.4,256.3 845.0,260.1 846.6,263.8 848.2,267.5 849.8,271.1 851.4,274.6 853.0,278.0 854.6,281.3 856.2,284.5 857.8,287.5 859.4,290.5 861.0,293.5 862.6,296.5 864.2,299.6 865.8,302.9 867.4,306.4 869.0,310.1 870.6,314.0 872.2,318.1 873.8,322.4 875.4,327.0 877.0,331.8 878.6,336.9 880.2,342.1 881.8,347.3 883.4,352.5 885.0,357.5 886.6,362.2 888.2,366.7 889.8,371.0 891.4,375.1 893.0,379.2 894.6,383.4 896.2,387.6 897.8,391.9 899.4,396.3 901.0,400.8 902.6,405.4 904.2,410.1 905.8,414.7 907.4,419.4 909.0,424.2 910.6,429.0 912.2,433.8 913.8,438.8 915.4,443.9 917.0,449.0 918.6,454.4 920.6,459.8" fill="none" stroke="#fdfefe" stroke-width="1.05" stroke-linejoin="round" stroke-opacity="0.86"/>
<polyline points="128.2,468.4 129.8,470.2 131.4,472.0 133.0,474.0 134.6,476.1 136.2,478.4 137.8,481.0 139.4,483.7 141.0,486.5 142.6,489.4 144.2,492.1 145.8,494.7 147.4,497.1 149.0,499.3 150.6,501.1 152.2,502.8 153.8,504.2 155.4,505.5 157.0,506.8 158.6,508.0 160.2,509.3 161.8,510.7 163.4,512.2 165.0,513.8 166.6,515.5 168.2,517.3 169.8,519.0 171.4,520.7 173.0,522.3 174.6,523.8 176.2,525.2 177.8,526.6 179.4,527.8 181.0,529.0 182.6,530.1 184.2,531.1 185.8,532.2 187.4,533.2 189.0,534.3 190.6,535.4 192.2,536.6 193.8,537.9 195.4,539.2 197.0,540.6 198.6,541.9 200.2,543.3 201.8,544.5 203.4,545.7 205.0,546.7 206.6,547.6 208.2,548.4 209.8,549.0 211.4,549.6 213.0,550.1 214.6,550.5 216.2,550.8 217.8,551.2 219.4,551.6 221.0,552.1 222.6,552.7 224.2,553.4 225.8,554.1 227.4,554.8 229.0,555.3 230.6,555.6 232.2,555.6 233.8,555.4 235.4,555.1 237.0,554.5 238.6,554.0 240.2,553.5 241.8,553.1 243.4,552.9 245.0,552.8 246.6,552.9 248.2,553.0 249.8,553.3 251.4,553.6 253.0,554.0 254.6,554.3 256.2,554.7 257.8,554.9 259.4,555.1 261.0,555.0 262.6,554.9 264.2,554.6 265.8,554.1 267.4,553.7 269.0,553.2 270.6,552.6 272.2,552.1 273.8,551.6 275.4,551.0 277.0,550.5 278.6,549.8 280.2,549.0 281.8,548.1 283.4,547.1 285.0,546.0 286.6,544.9 288.2,543.7 289.8,542.5 291.4,541.3 293.0,540.2 294.6,539.0 296.2,537.8 297.8,536.6 299.4,535.4 301.0,534.2 302.6,533.0 304.2,531.7 305.8,530.4 307.4,529.2 309.0,527.9 310.6,526.5 312.2,525.0 313.8,523.4 315.4,521.5 317.0,519.5 318.6,517.3 320.2,514.9 321.8,512.4 323.4,509.8 325.0,507.3 326.6,505.0 328.2,502.8 329.8,500.8 331.4,499.1 333.0,497.5 334.6,495.9 336.2,494.5 337.8,493.0 339.4,491.4 341.0,489.7 342.6,488.0 344.2,486.2 345.8,484.5 347.4,482.8 349.0,481.1 350.6,479.5 352.2,477.8 353.8,476.1 355.4,474.2 357.0,472.3 358.6,470.4 360.2,468.5 361.8,466.8 363.4,465.2 365.0,463.8 366.6,462.4 368.2,461.0 369.8,459.6 371.4,458.1 373.0,456.5 374.6,454.7 376.2,452.8 377.8,450.6 379.4,448.2 381.0,445.6 382.6,443.1 384.2,440.6 385.8,438.3 387.4,436.2 389.0,434.3 390.6,432.7 392.2,431.3 393.8,430.0 395.4,428.8 397.0,427.6 398.6,426.5 400.2,425.4 401.8,424.2 403.4,422.9 405.0,421.4 406.6,419.7 408.2,417.7 409.8,415.5 411.4,413.2 413.0,410.6 414.6,408.0 416.2,405.4 417.8,402.7 419.4,400.1 421.0,397.4 422.6,394.7 424.2,392.0 425.8,389.2 427.4,386.5 429.0,383.8 430.6,381.1 432.2,378.6 433.8,376.1 435.4,373.8 437.0,371.4 438.6,369.2 440.2,367.0 441.8,364.9 443.4,362.9 445.0,361.1 446.6,359.4 448.2,357.8 449.8,356.1 451.4,354.4 453.0,352.5 454.6,350.5 456.2,348.3 457.8,346.1 459.4,343.9 461.0,341.8 462.6,339.8 464.2,337.8 465.8,335.8 467.4,333.6 469.0,331.3 470.6,328.9 472.2,326.3 473.8,323.7 475.4,321.2 477.0,318.7 478.6,316.3 480.2,314.0 481.8,311.8 483.4,309.7 485.0,307.5 486.6,305.4 488.2,303.3 489.8,301.3 491.4,299.4 493.0,297.5 494.6,295.9 496.2,294.4 497.8,293.1 499.4,291.9 501.0,290.7 502.6,289.6 504.2,288.4 505.8,287.1 507.4,285.7 509.0,284.1 510.6,282.4 512.2,280.6 513.8,278.7 515.4,276.9 517.0,275.0 518.6,273.1 520.2,271.2 521.8,269.2 523.4,267.1 525.0,264.9 526.6,262.6 528.2,260.3 529.8,258.0 531.4,255.9 533.0,253.9 534.6,252.1 536.2,250.3 537.8,248.5 539.4,246.7 541.0,244.8 542.6,242.8 544.2,240.7 545.8,238.6 547.4,236.5 549.0,234.5 550.6,232.7 552.2,231.2 553.8,229.9 555.4,228.7 557.0,227.5 558.6,226.4 560.2,225.2 561.8,224.1 563.4,223.0 565.0,221.9 566.6,221.0 568.2,220.1 569.8,219.2 571.4,218.3 573.0,217.4 574.6,216.5 576.2,215.6 577.8,214.9 579.4,214.3 581.0,213.8 582.6,213.4 584.2,212.9 585.8,212.3 587.4,211.5 589.0,210.3 590.6,208.9 592.2,207.2 593.8,205.3 595.4,203.3 597.0,201.5 598.6,199.8 600.2,198.4 601.8,197.2 603.4,196.1 605.0,195.1 606.6,193.8 608.2,192.5 609.8,191.0 611.4,189.5 613.0,188.2 614.6,187.2 616.2,186.5 617.8,186.2 619.4,186.0 621.0,185.9 622.6,185.5 624.2,184.8 625.8,183.8 627.4,182.6 629.0,181.2 630.6,179.9 632.2,178.8 633.8,177.9 635.4,177.2 637.0,176.8 638.6,176.5 640.2,176.3 641.8,176.0 643.4,175.6 645.0,175.2 646.6,174.7 648.2,174.2 649.8,173.7 651.4,173.1 653.0,172.4 654.6,171.8 656.2,171.1 657.8,170.4 659.4,169.8 661.0,169.2 662.6,168.7 664.2,168.2 665.8,167.7 667.4,167.3 669.0,166.9 670.6,166.6 672.2,166.3 673.8,166.2 675.4,166.2 677.0,166.2 678.6,166.0 680.2,165.7 681.8,165.3 683.4,164.7 685.0,164.2 686.6,163.8 688.2,163.6 689.8,163.5 691.4,163.5 693.0,163.6 694.6,163.5 696.2,163.3 697.8,162.9 699.4,162.5 701.0,162.1 702.6,161.9 704.2,162.1 705.8,162.7 707.4,163.7 709.0,165.0 710.6,166.5 712.2,168.1 713.8,169.5 715.4,170.7 717.0,171.6 718.6,172.0 720.2,172.2 721.8,172.0 723.4,171.7 725.0,171.2 726.6,170.6 728.2,170.1 729.8,169.4 731.4,168.8 733.0,168.1 734.6,167.4 736.2,166.6 737.8,165.9 739.4,165.3 741.0,164.9 742.6,164.6 744.2,164.5 745.8,164.6 747.4,164.9 749.0,165.5 750.6,166.2 752.2,167.2 753.8,168.5 755.4,170.0 757.0,171.8 758.6,173.7 760.2,175.8 761.8,177.7 763.4,179.5 765.0,181.0 766.6,182.1 768.2,182.7 769.8,183.1 771.4,183.1 773.0,183.1 774.6,183.2 776.2,183.5 777.8,184.1 779.4,184.9 781.0,186.0 782.6,187.3 784.2,188.8 785.8,190.3 787.4,191.8 789.0,193.3 790.6,194.7 792.2,196.2 793.8,197.8 795.4,199.6 797.0,201.8 798.6,204.2 800.2,207.0 801.8,209.9 803.4,212.8 805.0,215.6 806.6,218.2 808.2,220.6 809.8,222.7 811.4,224.6 813.0,226.2 814.6,227.7 816.2,228.9 817.8,230.0 819.4,231.0 821.0,231.9 822.6,233.0 824.2,234.2 825.8,235.5 827.4,237.1 829.0,238.8 830.6,240.7 832.2,242.8 833.8,245.0 835.4,247.4 837.0,249.9 838.6,252.4 840.2,255.0 841.8,257.6 843.4,260.4 845.0,263.3 846.6,266.4 848.2,269.5 849.8,272.6 851.4,275.7 853.0,278.6 854.6,281.4 856.2,284.1 857.8,286.8 859.4,289.6 861.0,292.6 862.6,295.8 864.2,299.3 865.8,303.1 867.4,306.9 869.0,310.8 870.6,314.9 872.2,319.0 873.8,323.4 875.4,328.0 877.0,332.9 878.6,338.2 880.2,343.6 881.8,349.2 883.4,354.7 885.0,360.1 886.6,365.2 888.2,370.1 889.8,374.7 891.4,379.2 893.0,383.7 894.6,388.2 896.2,392.7 897.8,397.2 899.4,401.7 901.0,406.2 902.6,410.6 904.2,415.0 905.8,419.5 907.4,423.9 909.0,428.5 910.6,433.1 912.2,437.9 913.8,442.7 915.4,447.5 917.0,452.3 918.6,457.1 920.6,462.0" fill="none" stroke="#ffffff" stroke-width="1.05" stroke-linejoin="round" stroke-opacity="0.86"/>
</g>
<polyline points="128.2,483.9 129.7,485.8 131.2,488.1 132.7,490.7 134.2,493.6 135.7,496.5 137.2,499.2 138.7,501.8 140.2,504.4 141.7,506.9 143.2,509.3 144.7,511.6 146.2,513.6 147.7,515.6 149.2,517.5 150.7,519.3 152.2,521.0 153.7,522.6 155.2,524.1 156.7,525.4 158.2,526.7 159.7,527.9 161.2,529.2 162.7,530.4 164.2,531.7 165.7,532.9 167.2,534.2 168.7,535.4 170.2,536.5 171.7,537.6 173.2,538.7 174.7,539.7 176.2,540.6 177.7,541.6 179.2,542.6 180.7,543.5 182.2,544.4 183.7,545.3 185.2,546.1 186.7,547.0 188.2,547.8 189.7,548.7 191.2,549.6 192.7,550.4 194.2,551.3 195.7,552.0 197.2,552.7 198.7,553.2 200.2,553.7 201.7,554.2 203.2,554.6 204.7,555.0 206.2,555.4 207.7,555.7 209.2,555.9 210.7,556.1 212.2,556.2 213.7,556.3 215.2,556.6 216.7,556.9 218.2,557.3 219.7,557.8 221.2,558.4 222.7,558.9 224.2,559.4 225.7,559.9 227.2,560.3 228.7,560.7 230.2,561.0 231.7,561.3 233.2,561.6 234.7,561.8 236.2,562.0 237.7,562.1 239.2,562.3 240.7,562.4 242.2,562.4 243.7,562.4 245.2,562.4 246.7,562.4 248.2,562.4 249.7,562.3 251.2,562.2 252.7,562.0 254.2,561.7 255.7,561.3 257.2,560.9 258.7,560.4 260.2,559.9 261.7,559.4 263.2,558.8 264.7,558.3 266.2,557.7 267.7,557.1 269.2,556.3 270.7,555.6 272.2,554.7 273.7,553.8 275.2,552.9 276.7,552.0 278.2,551.1 279.7,550.1 281.2,549.1 282.7,548.1 284.2,547.0 285.7,546.0 287.2,545.0 288.7,544.1 290.2,543.2 291.7,542.3 293.2,541.5 294.7,540.6 296.2,539.7 297.7,538.9 299.2,538.0 300.7,537.0 302.2,535.9 303.7,534.8 305.2,533.5 306.7,532.1 308.2,530.6 309.7,528.4 311.2,525.9 312.7,523.2 314.2,520.2 315.7,516.8 317.2,513.6 318.7,511.2 320.2,509.2 321.7,507.4 323.2,505.8 324.7,504.3 326.2,502.8 327.7,501.4 329.2,500.0 330.7,498.6 332.2,497.1 333.7,495.6 335.2,494.0 336.7,492.4 338.2,490.8 339.7,489.1 341.2,487.4 342.7,485.7 344.2,484.0 345.7,482.4 347.2,480.9 348.7,479.4 350.2,478.0 351.7,476.6 353.2,475.2 354.7,473.8 356.2,472.4 357.7,471.0 359.2,469.5 360.7,468.0 362.2,466.6 363.7,465.1 365.2,463.6 366.7,462.1 368.2,460.7 369.7,459.4 371.2,458.0 372.7,456.8 374.2,455.5 375.7,454.2 377.2,452.8 378.7,451.3 380.2,449.7 381.7,448.1 383.2,446.5 384.7,444.9 386.2,443.3 387.7,441.7 389.2,440.1 390.7,438.3 392.2,436.5 393.7,434.7 395.2,432.7 396.7,430.8 398.2,428.8 399.7,426.9 401.2,425.0 402.7,423.2 404.2,421.5 405.7,419.7 407.2,418.0 408.7,416.2 410.2,414.5 411.7,412.7 413.2,411.0 414.7,409.4 416.2,407.7 417.7,406.2 419.2,404.7 420.7,403.2 422.2,401.9 423.7,400.6 425.2,399.4 426.7,398.3 428.2,397.1 429.7,395.9 431.2,394.7 432.7,393.3 434.2,391.8 435.7,390.3 437.2,388.6 438.7,386.8 440.2,385.0 441.7,383.2 443.2,381.4 444.7,379.6 446.2,377.8 447.7,376.2 449.2,374.6 450.7,372.9 452.2,371.1 453.7,369.2 455.2,367.3 456.7,365.3 458.2,363.5 459.7,361.8 461.2,360.2 462.7,358.8 464.2,357.4 465.7,356.2 467.2,355.0 468.7,353.7 470.2,352.5 471.7,351.1 473.2,349.8 474.7,348.4 476.2,347.1 477.7,345.7 479.2,344.3 480.7,342.9 482.2,341.6 483.7,340.2 485.2,338.9 486.7,337.5 488.2,336.1 489.7,334.8 491.2,333.4 492.7,332.1 494.2,330.8 495.7,329.6 497.2,328.3 498.7,327.0 500.2,325.6 501.7,324.2 503.2,322.8 504.7,321.3 506.2,319.8 507.7,318.2 509.2,316.6 510.7,315.0 512.2,313.4 513.7,311.8 515.2,310.4 516.7,309.0 518.2,307.7 519.7,306.5 521.2,305.3 522.7,304.2 524.2,303.1 525.7,301.9 527.2,300.9 528.7,300.0 530.2,299.5 531.7,299.0 533.2,298.5 534.7,297.9 536.2,297.0 537.7,295.8 539.2,294.4 540.7,292.8 542.2,291.0 543.7,289.2 545.2,287.3 546.7,285.5 548.2,283.5 549.7,281.4 551.2,279.3 552.7,277.1 554.2,274.9 555.7,272.7 557.2,270.6 558.7,268.5 560.2,266.4 561.7,264.3 563.2,262.2 564.7,260.3 566.2,258.5 567.7,257.0 569.2,255.5 570.7,254.2 572.2,252.9 573.7,251.6 575.2,250.4 576.7,249.0 578.2,247.7 579.7,246.3 581.2,245.0 582.7,243.6 584.2,242.3 585.7,241.1 587.2,239.9 588.7,238.9 590.2,238.0 591.7,237.3 593.2,236.7 594.7,236.4 596.2,236.0 597.7,235.7 599.2,235.3 600.7,234.9 602.2,234.4 603.7,233.8 605.2,233.2 606.7,232.6 608.2,232.0 609.7,231.4 611.2,230.8 612.7,230.4 614.2,230.2 615.7,230.0 617.2,229.8 618.7,229.4 620.2,228.5 621.7,227.2 623.2,225.6 624.7,224.0 627.5,220.5" fill="none" stroke="#ee101c" stroke-width="4.1" stroke-linejoin="round" stroke-linecap="round"/>
</g>
<circle cx="627.5" cy="220.5" r="5.7" fill="#ee101c"/>
<text x="637" y="233.4" font-size="28.6" font-weight="bold" fill="#ee101c" textLength="58.4" lengthAdjust="spacingAndGlyphs">2023</text>
<rect x="126.0" y="79.8" width="4.3" height="529.8" fill="#b4b4b4"/>
<rect x="126.0" y="604.8" width="797.0" height="4.8" fill="#b4b4b4"/>
<rect x="125.8" y="607" width="5.0" height="12.8" fill="#b4b4b4"/>
<rect x="191.8" y="607" width="5.0" height="12.8" fill="#b4b4b4"/>
<rect x="257.8" y="607" width="5.0" height="12.8" fill="#b4b4b4"/>
<rect x="323.8" y="607" width="5.0" height="12.8" fill="#b4b4b4"/>
<rect x="389.8" y="607" width="5.0" height="12.8" fill="#b4b4b4"/>
<rect x="455.8" y="607" width="5.0" height="12.8" fill="#b4b4b4"/>
<rect x="521.8" y="607" width="5.0" height="12.8" fill="#b4b4b4"/>
<rect x="587.8" y="607" width="5.0" height="12.8" fill="#b4b4b4"/>
<rect x="653.8" y="607" width="5.0" height="12.8" fill="#b4b4b4"/>
<rect x="719.8" y="607" width="5.0" height="12.8" fill="#b4b4b4"/>
<rect x="785.8" y="607" width="5.0" height="12.8" fill="#b4b4b4"/>
<rect x="851.8" y="607" width="5.0" height="12.8" fill="#b4b4b4"/>
<rect x="918.0" y="607" width="5.0" height="12.8" fill="#b4b4b4"/>
<rect x="114.9" y="604.8" width="12" height="4.5" fill="#b4b4b4"/>
<text x="112.4" y="612.7" font-size="16" text-anchor="end" fill="#a8a8a8">0</text>
<rect x="114.9" y="554.8" width="12" height="4.5" fill="#b4b4b4"/>
<text x="112.4" y="562.7" font-size="16" text-anchor="end" fill="#a8a8a8">2</text>
<rect x="114.9" y="504.8" width="12" height="4.5" fill="#b4b4b4"/>
<text x="112.4" y="512.7" font-size="16" text-anchor="end" fill="#a8a8a8">4</text>
<rect x="114.9" y="454.8" width="12" height="4.5" fill="#b4b4b4"/>
<text x="112.4" y="462.7" font-size="16" text-anchor="end" fill="#a8a8a8">6</text>
<rect x="114.9" y="404.8" width="12" height="4.5" fill="#b4b4b4"/>
<text x="112.4" y="412.7" font-size="16" text-anchor="end" fill="#a8a8a8">8</text>
<rect x="114.9" y="354.8" width="12" height="4.5" fill="#b4b4b4"/>
<text x="112.4" y="362.7" font-size="16" text-anchor="end" fill="#a8a8a8">10</text>
<rect x="114.9" y="304.8" width="12" height="4.5" fill="#b4b4b4"/>
<text x="112.4" y="312.7" font-size="16" text-anchor="end" fill="#a8a8a8">12</text>
<rect x="114.9" y="254.8" width="12" height="4.5" fill="#b4b4b4"/>
<text x="112.4" y="262.7" font-size="16" text-anchor="end" fill="#a8a8a8">14</text>
<rect x="114.9" y="204.8" width="12" height="4.5" fill="#b4b4b4"/>
<text x="112.4" y="212.7" font-size="16" text-anchor="end" fill="#a8a8a8">16</text>
<rect x="114.9" y="154.8" width="12" height="4.5" fill="#b4b4b4"/>
<text x="112.4" y="162.7" font-size="16" text-anchor="end" fill="#a8a8a8">18</text>
<rect x="114.9" y="104.8" width="12" height="4.5" fill="#b4b4b4"/>
<text x="112.4" y="112.7" font-size="16" text-anchor="end" fill="#a8a8a8">20</text>
<text x="128.0" y="634" font-size="16.6" text-anchor="middle" fill="#a8a8a8">Jan</text>
<text x="193.0" y="634" font-size="16.6" text-anchor="middle" fill="#a8a8a8">Feb</text>
<text x="258.7" y="634" font-size="16.6" text-anchor="middle" fill="#a8a8a8">Mar</text>
<text x="326.3" y="634" font-size="16.6" text-anchor="middle" fill="#a8a8a8">Apr</text>
<text x="391.4" y="634" font-size="16.6" text-anchor="middle" fill="#a8a8a8">May</text>
<text x="458.2" y="634" font-size="16.6" text-anchor="middle" fill="#a8a8a8">Jun</text>
<text x="524.0" y="634" font-size="16.6" text-anchor="middle" fill="#a8a8a8">Jul</text>
<text x="590.0" y="634" font-size="16.6" text-anchor="middle" fill="#a8a8a8">Aug</text>
<text x="655.7" y="634" font-size="16.6" text-anchor="middle" fill="#a8a8a8">Sep</text>
<text x="721.5" y="634" font-size="16.6" text-anchor="middle" fill="#a8a8a8">Oct</text>
<text x="786.8" y="634" font-size="16.6" text-anchor="middle" fill="#a8a8a8">Nov</text>
<text x="852.8" y="634" font-size="16.6" text-anchor="middle" fill="#a8a8a8">Dec</text>
<text x="919.9" y="634" font-size="16.6" text-anchor="middle" fill="#a8a8a8">Jan</text>
<text transform="translate(82.6,492.3) rotate(-90)" font-size="19" fill="#dcdcdc"><tspan x="0" font-weight="bold" fill="#fff" textLength="54.5" lengthAdjust="spacingAndGlyphs">Extent</tspan> <tspan x="60.5" textLength="231.5" lengthAdjust="spacingAndGlyphs">(million square kilometers)</tspan></text>
<text x="134.9" y="101.4" font-size="12.2" font-weight="bold" fill="#181820" textLength="25.3" lengthAdjust="spacingAndGlyphs">1979</text>
<text x="134.9" y="118.6" font-size="12.2" font-weight="bold" fill="#1c1c28" textLength="25.3" lengthAdjust="spacingAndGlyphs">1980</text>
<text x="134.9" y="135.8" font-size="12.2" font-weight="bold" fill="#201f30" textLength="25.3" lengthAdjust="spacingAndGlyphs">1981</text>
<text x="134.9" y="153.0" font-size="12.2" font-weight="bold" fill="#242338" textLength="25.3" lengthAdjust="spacingAndGlyphs">1982</text>
<text x="134.9" y="170.2" font-size="12.2" font-weight="bold" fill="#282640" textLength="25.3" lengthAdjust="spacingAndGlyphs">1983</text>
<text x="166.1" y="101.4" font-size="12.2" font-weight="bold" fill="#2c2a48" textLength="25.3" lengthAdjust="spacingAndGlyphs">1984</text>
<text x="166.1" y="118.6" font-size="12.2" font-weight="bold" fill="#322f5a" textLength="25.3" lengthAdjust="spacingAndGlyphs">1985</text>
<text x="166.1" y="135.8" font-size="12.2" font-weight="bold" fill="#37346c" textLength="25.3" lengthAdjust="spacingAndGlyphs">1986</text>
<text x="166.1" y="153.0" font-size="12.2" font-weight="bold" fill="#3d387e" textLength="25.3" lengthAdjust="spacingAndGlyphs">1987</text>
<text x="166.1" y="170.2" font-size="12.2" font-weight="bold" fill="#423d90" textLength="25.3" lengthAdjust="spacingAndGlyphs">1988</text>
<text x="197.3" y="101.4" font-size="12.2" font-weight="bold" fill="#4842a2" textLength="25.3" lengthAdjust="spacingAndGlyphs">1989</text>
<text x="197.3" y="118.6" font-size="12.2" font-weight="bold" fill="#4747ab" textLength="25.3" lengthAdjust="spacingAndGlyphs">1990</text>
<text x="197.3" y="135.8" font-size="12.2" font-weight="bold" fill="#464cb4" textLength="25.3" lengthAdjust="spacingAndGlyphs">1991</text>
<text x="197.3" y="153.0" font-size="12.2" font-weight="bold" fill="#4650bd" textLength="25.3" lengthAdjust="spacingAndGlyphs">1992</text>
<text x="197.3" y="170.2" font-size="12.2" font-weight="bold" fill="#4555c7" textLength="25.3" lengthAdjust="spacingAndGlyphs">1993</text>
<text x="228.5" y="101.4" font-size="12.2" font-weight="bold" fill="#445ad0" textLength="25.3" lengthAdjust="spacingAndGlyphs">1994</text>
<text x="228.5" y="118.6" font-size="12.2" font-weight="bold" fill="#4260d3" textLength="25.3" lengthAdjust="spacingAndGlyphs">1995</text>
<text x="228.5" y="135.8" font-size="12.2" font-weight="bold" fill="#4167d6" textLength="25.3" lengthAdjust="spacingAndGlyphs">1996</text>
<text x="228.5" y="153.0" font-size="12.2" font-weight="bold" fill="#3f6dd8" textLength="25.3" lengthAdjust="spacingAndGlyphs">1997</text>
<text x="228.5" y="170.2" font-size="12.2" font-weight="bold" fill="#3e74db" textLength="25.3" lengthAdjust="spacingAndGlyphs">1998</text>
<text x="259.7" y="101.4" font-size="12.2" font-weight="bold" fill="#3c7ade" textLength="25.3" lengthAdjust="spacingAndGlyphs">1999</text>
<text x="259.7" y="118.6" font-size="12.2" font-weight="bold" fill="#3d81df" textLength="25.3" lengthAdjust="spacingAndGlyphs">2000</text>
<text x="259.7" y="135.8" font-size="12.2" font-weight="bold" fill="#3e88e0" textLength="25.3" lengthAdjust="spacingAndGlyphs">2001</text>
<text x="259.7" y="153.0" font-size="12.2" font-weight="bold" fill="#3e8ee0" textLength="25.3" lengthAdjust="spacingAndGlyphs">2002</text>
<text x="259.7" y="170.2" font-size="12.2" font-weight="bold" fill="#3f95e1" textLength="25.3" lengthAdjust="spacingAndGlyphs">2003</text>
<text x="290.9" y="101.4" font-size="12.2" font-weight="bold" fill="#409ce2" textLength="25.3" lengthAdjust="spacingAndGlyphs">2004</text>
<text x="290.9" y="118.6" font-size="12.2" font-weight="bold" fill="#4ea3e2" textLength="25.3" lengthAdjust="spacingAndGlyphs">2005</text>
<text x="290.9" y="135.8" font-size="12.2" font-weight="bold" fill="#5babe2" textLength="25.3" lengthAdjust="spacingAndGlyphs">2006</text>
<text x="290.9" y="153.0" font-size="12.2" font-weight="bold" fill="#69b2e2" textLength="25.3" lengthAdjust="spacingAndGlyphs">2007</text>
<text x="290.9" y="170.2" font-size="12.2" font-weight="bold" fill="#76bae2" textLength="25.3" lengthAdjust="spacingAndGlyphs">2008</text>
<text x="322.1" y="101.4" font-size="12.2" font-weight="bold" fill="#84c1e2" textLength="25.3" lengthAdjust="spacingAndGlyphs">2009</text>
<text x="322.1" y="118.6" font-size="12.2" font-weight="bold" fill="#92c7e3" textLength="25.3" lengthAdjust="spacingAndGlyphs">2010</text>
<text x="322.1" y="135.8" font-size="12.2" font-weight="bold" fill="#a1cee5" textLength="25.3" lengthAdjust="spacingAndGlyphs">2011</text>
<text x="322.1" y="153.0" font-size="12.2" font-weight="bold" fill="#b0d4e6" textLength="25.3" lengthAdjust="spacingAndGlyphs">2012</text>
<text x="322.1" y="170.2" font-size="12.2" font-weight="bold" fill="#bedbe8" textLength="25.3" lengthAdjust="spacingAndGlyphs">2013</text>
<text x="353.3" y="101.4" font-size="12.2" font-weight="bold" fill="#cde1e9" textLength="25.3" lengthAdjust="spacingAndGlyphs">2014</text>
<text x="353.3" y="118.6" font-size="12.2" font-weight="bold" fill="#d6e6ed" textLength="25.3" lengthAdjust="spacingAndGlyphs">2015</text>
<text x="353.3" y="135.8" font-size="12.2" font-weight="bold" fill="#dfecf1" textLength="25.3" lengthAdjust="spacingAndGlyphs">2016</text>
<text x="353.3" y="153.0" font-size="12.2" font-weight="bold" fill="#e8f1f4" textLength="25.3" lengthAdjust="spacingAndGlyphs">2017</text>
<text x="353.3" y="170.2" font-size="12.2" font-weight="bold" fill="#f1f7f8" textLength="25.3" lengthAdjust="spacingAndGlyphs">2018</text>
<text x="384.5" y="101.4" font-size="12.2" font-weight="bold" fill="#fafcfc" textLength="25.3" lengthAdjust="spacingAndGlyphs">2019</text>
<text x="384.5" y="118.6" font-size="12.2" font-weight="bold" fill="#fcfdfd" textLength="25.3" lengthAdjust="spacingAndGlyphs">2020</text>
<text x="384.5" y="135.8" font-size="12.2" font-weight="bold" fill="#fdfefe" textLength="25.3" lengthAdjust="spacingAndGlyphs">2021</text>
<text x="384.5" y="153.0" font-size="12.2" font-weight="bold" fill="#ffffff" textLength="25.3" lengthAdjust="spacingAndGlyphs">2022</text>
<text x="384.5" y="170.2" font-size="12.2" font-weight="bold" fill="#e8202a" textLength="25.3" lengthAdjust="spacingAndGlyphs">2023</text>
<text y="650" font-size="10.8" fill="#a6a6a6"><tspan x="128.2" font-weight="bold" fill="#b4b4b4" textLength="28.4" lengthAdjust="spacingAndGlyphs">DATA:</tspan> <tspan x="160.4" textLength="391.4" lengthAdjust="spacingAndGlyphs">National Snow &amp; Ice Data Center, Boulder CO (Sea Ice Index v3; 1979-2023*)</tspan></text>
<text y="659.8" font-size="10.8" fill="#a6a6a6"><tspan x="128.2" font-weight="bold" fill="#b4b4b4" textLength="43.4" lengthAdjust="spacingAndGlyphs">SOURCE:</tspan> <tspan x="175.5" textLength="224.7" lengthAdjust="spacingAndGlyphs">ftp://sidads.colorado.edu/DATASETS/NOAA/</tspan> <tspan x="404.5" font-weight="bold" fill="#bcbcbc" textLength="111.8" lengthAdjust="spacingAndGlyphs">(5-day running mean)</tspan></text>
<text y="650" font-size="10.8" fill="#a6a6a6"><tspan x="744" font-weight="bold" fill="#b4b4b4" textLength="49.9" lengthAdjust="spacingAndGlyphs">GRAPHIC:</tspan> <tspan x="796.7" textLength="123.6" lengthAdjust="spacingAndGlyphs">Zachary Labe (@ZLabe)</tspan></text>
</svg></body></html>
